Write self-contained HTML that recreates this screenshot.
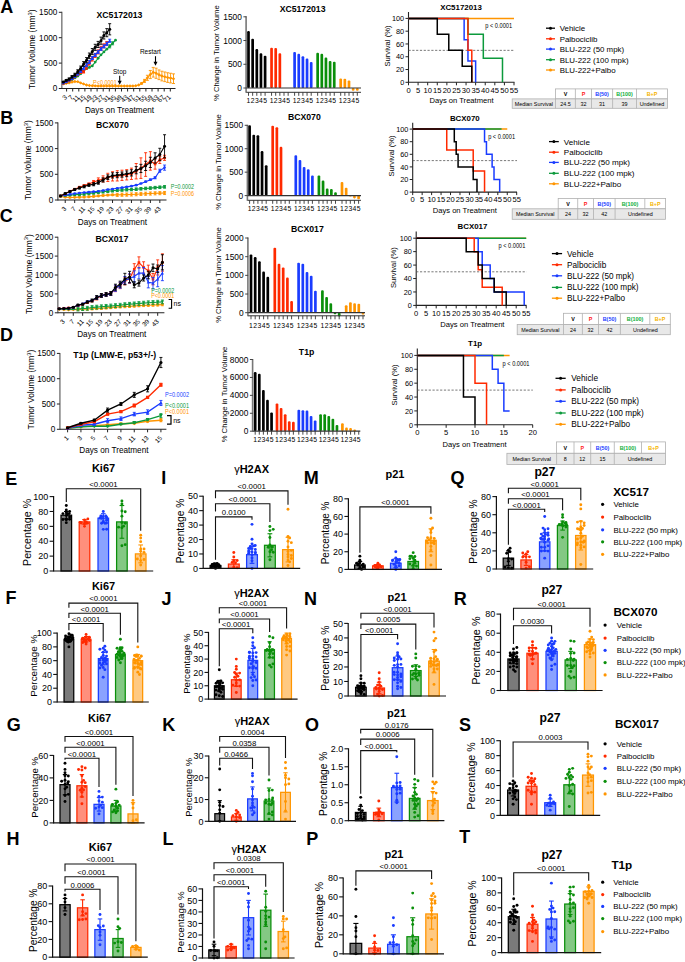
<!DOCTYPE html>
<html><head><meta charset="utf-8"><title>Figure</title>
<style>
html,body{margin:0;padding:0;background:#fff;width:685px;height:962px;overflow:hidden}
svg{display:block}
text{font-family:"Liberation Sans", sans-serif}
</style></head>
<body><svg width="685" height="962" viewBox="0 0 685 962">
<rect width="685" height="962" fill="#fff"/>
<line x1="61.8" y1="11.8" x2="61.8" y2="89" stroke="#888" stroke-width="1.6"/>
<line x1="58.8" y1="88.5" x2="61.8" y2="88.5" stroke="#222" stroke-width="1"/>
<text x="57.3" y="91.45" font-size="8.2" text-anchor="end">0</text>
<line x1="58.8" y1="63.1" x2="61.8" y2="63.1" stroke="#222" stroke-width="1"/>
<text x="57.3" y="66.05" font-size="8.2" text-anchor="end">500</text>
<line x1="58.8" y1="37.7" x2="61.8" y2="37.7" stroke="#222" stroke-width="1"/>
<text x="57.3" y="40.65" font-size="8.2" text-anchor="end">1000</text>
<line x1="58.8" y1="12.3" x2="61.8" y2="12.3" stroke="#222" stroke-width="1"/>
<text x="57.3" y="15.25" font-size="8.2" text-anchor="end">1500</text>
<line x1="59.5" y1="88.5" x2="175.5" y2="88.5" stroke="#222" stroke-width="1.1"/>
<line x1="66.6" y1="88.5" x2="66.6" y2="91.5" stroke="#222" stroke-width="1"/>
<text x="67.6" y="97.7" font-size="6.5" text-anchor="end" transform="rotate(-45 67.6 97.7)">3</text>
<line x1="72.7" y1="88.5" x2="72.7" y2="91.5" stroke="#222" stroke-width="1"/>
<text x="73.7" y="97.7" font-size="6.5" text-anchor="end" transform="rotate(-45 73.7 97.7)">7</text>
<line x1="78.8" y1="88.5" x2="78.8" y2="91.5" stroke="#222" stroke-width="1"/>
<text x="79.8" y="97.7" font-size="6.5" text-anchor="end" transform="rotate(-45 79.8 97.7)">11</text>
<line x1="84.9" y1="88.5" x2="84.9" y2="91.5" stroke="#222" stroke-width="1"/>
<text x="85.9" y="97.7" font-size="6.5" text-anchor="end" transform="rotate(-45 85.9 97.7)">15</text>
<line x1="91" y1="88.5" x2="91" y2="91.5" stroke="#222" stroke-width="1"/>
<text x="92" y="97.7" font-size="6.5" text-anchor="end" transform="rotate(-45 92 97.7)">19</text>
<line x1="97.1" y1="88.5" x2="97.1" y2="91.5" stroke="#222" stroke-width="1"/>
<text x="98.1" y="97.7" font-size="6.5" text-anchor="end" transform="rotate(-45 98.1 97.7)">23</text>
<line x1="103.2" y1="88.5" x2="103.2" y2="91.5" stroke="#222" stroke-width="1"/>
<text x="104.2" y="97.7" font-size="6.5" text-anchor="end" transform="rotate(-45 104.2 97.7)">27</text>
<line x1="109.3" y1="88.5" x2="109.3" y2="91.5" stroke="#222" stroke-width="1"/>
<text x="110.3" y="97.7" font-size="6.5" text-anchor="end" transform="rotate(-45 110.3 97.7)">31</text>
<line x1="115.4" y1="88.5" x2="115.4" y2="91.5" stroke="#222" stroke-width="1"/>
<text x="116.4" y="97.7" font-size="6.5" text-anchor="end" transform="rotate(-45 116.4 97.7)">35</text>
<line x1="121.5" y1="88.5" x2="121.5" y2="91.5" stroke="#222" stroke-width="1"/>
<text x="122.5" y="97.7" font-size="6.5" text-anchor="end" transform="rotate(-45 122.5 97.7)">39</text>
<line x1="127.6" y1="88.5" x2="127.6" y2="91.5" stroke="#222" stroke-width="1"/>
<text x="128.6" y="97.7" font-size="6.5" text-anchor="end" transform="rotate(-45 128.6 97.7)">43</text>
<line x1="133.7" y1="88.5" x2="133.7" y2="91.5" stroke="#222" stroke-width="1"/>
<text x="134.7" y="97.7" font-size="6.5" text-anchor="end" transform="rotate(-45 134.7 97.7)">47</text>
<line x1="139.8" y1="88.5" x2="139.8" y2="91.5" stroke="#222" stroke-width="1"/>
<text x="140.8" y="97.7" font-size="6.5" text-anchor="end" transform="rotate(-45 140.8 97.7)">51</text>
<line x1="145.9" y1="88.5" x2="145.9" y2="91.5" stroke="#222" stroke-width="1"/>
<text x="146.9" y="97.7" font-size="6.5" text-anchor="end" transform="rotate(-45 146.9 97.7)">55</text>
<line x1="152" y1="88.5" x2="152" y2="91.5" stroke="#222" stroke-width="1"/>
<text x="153" y="97.7" font-size="6.5" text-anchor="end" transform="rotate(-45 153 97.7)">59</text>
<line x1="158.1" y1="88.5" x2="158.1" y2="91.5" stroke="#222" stroke-width="1"/>
<text x="159.1" y="97.7" font-size="6.5" text-anchor="end" transform="rotate(-45 159.1 97.7)">63</text>
<line x1="164.2" y1="88.5" x2="164.2" y2="91.5" stroke="#222" stroke-width="1"/>
<text x="165.2" y="97.7" font-size="6.5" text-anchor="end" transform="rotate(-45 165.2 97.7)">67</text>
<line x1="170.3" y1="88.5" x2="170.3" y2="91.5" stroke="#222" stroke-width="1"/>
<text x="171.3" y="97.7" font-size="6.5" text-anchor="end" transform="rotate(-45 171.3 97.7)">71</text>
<text x="119.5" y="17.6" font-size="8.7" text-anchor="middle" font-weight="bold">XC5172013</text>
<text x="119.5" y="113.2" font-size="8.2" text-anchor="middle">Days on Treatment</text>
<text x="35.4" y="49.4" font-size="8.45" text-anchor="middle" transform="rotate(-90 35.4 49.4)">Tumor Volume (mm<tspan dy="-3.2" font-size="5.8">3</tspan><tspan dy="3.2">)</tspan></text>
<polyline points="63.3,83.83 66.2,83.42 69.1,82.91 72,82.15 74.9,81.49 77.8,81.64 80.7,82.91 83.6,83.93 86.5,84.94 89.4,85.45 92.3,85.71 95.2,85.86 98.1,85.96 101,85.96 103.9,85.96 106.8,85.96 109.7,85.96 112.6,85.96 115.5,85.96 118.4,85.96 121.3,85.96 124.2,85.96 127.1,85.96 130,85.96 132.9,85.96 135.8,85.71 138.7,84.94 141.6,83.42 144.5,80.88 147.4,77.83 150.3,74.53 153.2,72.24 156.1,73.26 159,74.78 161.9,76.05 164.8,76.82 167.7,77.58 170.6,78.09 173.5,78.7" fill="none" stroke="#ff9500" stroke-width="1.1"/>
<line x1="141.6" y1="82.66" x2="141.6" y2="84.18" stroke="#ff9500" stroke-width="0.9"/>
<line x1="140.1" y1="82.66" x2="143.1" y2="82.66" stroke="#ff9500" stroke-width="0.9"/>
<line x1="140.1" y1="84.18" x2="143.1" y2="84.18" stroke="#ff9500" stroke-width="0.9"/>
<line x1="144.5" y1="79.36" x2="144.5" y2="82.4" stroke="#ff9500" stroke-width="0.9"/>
<line x1="143" y1="79.36" x2="146" y2="79.36" stroke="#ff9500" stroke-width="0.9"/>
<line x1="143" y1="82.4" x2="146" y2="82.4" stroke="#ff9500" stroke-width="0.9"/>
<line x1="147.4" y1="75.29" x2="147.4" y2="80.37" stroke="#ff9500" stroke-width="0.9"/>
<line x1="145.9" y1="75.29" x2="148.9" y2="75.29" stroke="#ff9500" stroke-width="0.9"/>
<line x1="145.9" y1="80.37" x2="148.9" y2="80.37" stroke="#ff9500" stroke-width="0.9"/>
<line x1="150.3" y1="70.47" x2="150.3" y2="78.59" stroke="#ff9500" stroke-width="0.9"/>
<line x1="148.8" y1="70.47" x2="151.8" y2="70.47" stroke="#ff9500" stroke-width="0.9"/>
<line x1="148.8" y1="78.59" x2="151.8" y2="78.59" stroke="#ff9500" stroke-width="0.9"/>
<line x1="153.2" y1="67.42" x2="153.2" y2="77.07" stroke="#ff9500" stroke-width="0.9"/>
<line x1="151.7" y1="67.42" x2="154.7" y2="67.42" stroke="#ff9500" stroke-width="0.9"/>
<line x1="151.7" y1="77.07" x2="154.7" y2="77.07" stroke="#ff9500" stroke-width="0.9"/>
<line x1="156.1" y1="68.18" x2="156.1" y2="78.34" stroke="#ff9500" stroke-width="0.9"/>
<line x1="154.6" y1="68.18" x2="157.6" y2="68.18" stroke="#ff9500" stroke-width="0.9"/>
<line x1="154.6" y1="78.34" x2="157.6" y2="78.34" stroke="#ff9500" stroke-width="0.9"/>
<line x1="159" y1="69.96" x2="159" y2="79.61" stroke="#ff9500" stroke-width="0.9"/>
<line x1="157.5" y1="69.96" x2="160.5" y2="69.96" stroke="#ff9500" stroke-width="0.9"/>
<line x1="157.5" y1="79.61" x2="160.5" y2="79.61" stroke="#ff9500" stroke-width="0.9"/>
<line x1="161.9" y1="71.23" x2="161.9" y2="80.88" stroke="#ff9500" stroke-width="0.9"/>
<line x1="160.4" y1="71.23" x2="163.4" y2="71.23" stroke="#ff9500" stroke-width="0.9"/>
<line x1="160.4" y1="80.88" x2="163.4" y2="80.88" stroke="#ff9500" stroke-width="0.9"/>
<line x1="164.8" y1="71.99" x2="164.8" y2="81.64" stroke="#ff9500" stroke-width="0.9"/>
<line x1="163.3" y1="71.99" x2="166.3" y2="71.99" stroke="#ff9500" stroke-width="0.9"/>
<line x1="163.3" y1="81.64" x2="166.3" y2="81.64" stroke="#ff9500" stroke-width="0.9"/>
<line x1="167.7" y1="72.75" x2="167.7" y2="82.4" stroke="#ff9500" stroke-width="0.9"/>
<line x1="166.2" y1="72.75" x2="169.2" y2="72.75" stroke="#ff9500" stroke-width="0.9"/>
<line x1="166.2" y1="82.4" x2="169.2" y2="82.4" stroke="#ff9500" stroke-width="0.9"/>
<line x1="170.6" y1="73.26" x2="170.6" y2="82.91" stroke="#ff9500" stroke-width="0.9"/>
<line x1="169.1" y1="73.26" x2="172.1" y2="73.26" stroke="#ff9500" stroke-width="0.9"/>
<line x1="169.1" y1="82.91" x2="172.1" y2="82.91" stroke="#ff9500" stroke-width="0.9"/>
<line x1="173.5" y1="73.87" x2="173.5" y2="83.52" stroke="#ff9500" stroke-width="0.9"/>
<line x1="172" y1="73.87" x2="175" y2="73.87" stroke="#ff9500" stroke-width="0.9"/>
<line x1="172" y1="83.52" x2="175" y2="83.52" stroke="#ff9500" stroke-width="0.9"/>
<path d="M63.3 82.14 L64.99 83.83 L63.3 85.52 L61.61 83.83Z" fill="#ff9500"/>
<path d="M66.2 81.73 L67.89 83.42 L66.2 85.11 L64.51 83.42Z" fill="#ff9500"/>
<path d="M69.1 81.22 L70.79 82.91 L69.1 84.6 L67.41 82.91Z" fill="#ff9500"/>
<path d="M72 80.46 L73.69 82.15 L72 83.84 L70.31 82.15Z" fill="#ff9500"/>
<path d="M74.9 79.8 L76.59 81.49 L74.9 83.18 L73.21 81.49Z" fill="#ff9500"/>
<path d="M77.8 79.95 L79.49 81.64 L77.8 83.33 L76.11 81.64Z" fill="#ff9500"/>
<path d="M80.7 81.22 L82.39 82.91 L80.7 84.6 L79.01 82.91Z" fill="#ff9500"/>
<path d="M83.6 82.24 L85.29 83.93 L83.6 85.62 L81.91 83.93Z" fill="#ff9500"/>
<path d="M86.5 83.25 L88.19 84.94 L86.5 86.63 L84.81 84.94Z" fill="#ff9500"/>
<path d="M89.4 83.76 L91.09 85.45 L89.4 87.14 L87.71 85.45Z" fill="#ff9500"/>
<path d="M92.3 84.02 L93.99 85.71 L92.3 87.4 L90.61 85.71Z" fill="#ff9500"/>
<path d="M95.2 84.17 L96.89 85.86 L95.2 87.55 L93.51 85.86Z" fill="#ff9500"/>
<path d="M98.1 84.27 L99.79 85.96 L98.1 87.65 L96.41 85.96Z" fill="#ff9500"/>
<path d="M101 84.27 L102.69 85.96 L101 87.65 L99.31 85.96Z" fill="#ff9500"/>
<path d="M103.9 84.27 L105.59 85.96 L103.9 87.65 L102.21 85.96Z" fill="#ff9500"/>
<path d="M106.8 84.27 L108.49 85.96 L106.8 87.65 L105.11 85.96Z" fill="#ff9500"/>
<path d="M109.7 84.27 L111.39 85.96 L109.7 87.65 L108.01 85.96Z" fill="#ff9500"/>
<path d="M112.6 84.27 L114.29 85.96 L112.6 87.65 L110.91 85.96Z" fill="#ff9500"/>
<path d="M115.5 84.27 L117.19 85.96 L115.5 87.65 L113.81 85.96Z" fill="#ff9500"/>
<path d="M118.4 84.27 L120.09 85.96 L118.4 87.65 L116.71 85.96Z" fill="#ff9500"/>
<path d="M121.3 84.27 L122.99 85.96 L121.3 87.65 L119.61 85.96Z" fill="#ff9500"/>
<path d="M124.2 84.27 L125.89 85.96 L124.2 87.65 L122.51 85.96Z" fill="#ff9500"/>
<path d="M127.1 84.27 L128.79 85.96 L127.1 87.65 L125.41 85.96Z" fill="#ff9500"/>
<path d="M130 84.27 L131.69 85.96 L130 87.65 L128.31 85.96Z" fill="#ff9500"/>
<path d="M132.9 84.27 L134.59 85.96 L132.9 87.65 L131.21 85.96Z" fill="#ff9500"/>
<path d="M135.8 84.02 L137.49 85.71 L135.8 87.4 L134.11 85.71Z" fill="#ff9500"/>
<path d="M138.7 83.25 L140.39 84.94 L138.7 86.63 L137.01 84.94Z" fill="#ff9500"/>
<path d="M141.6 81.73 L143.29 83.42 L141.6 85.11 L139.91 83.42Z" fill="#ff9500"/>
<path d="M144.5 79.19 L146.19 80.88 L144.5 82.57 L142.81 80.88Z" fill="#ff9500"/>
<path d="M147.4 76.14 L149.09 77.83 L147.4 79.52 L145.71 77.83Z" fill="#ff9500"/>
<path d="M150.3 72.84 L151.99 74.53 L150.3 76.22 L148.61 74.53Z" fill="#ff9500"/>
<path d="M153.2 70.55 L154.89 72.24 L153.2 73.93 L151.51 72.24Z" fill="#ff9500"/>
<path d="M156.1 71.57 L157.79 73.26 L156.1 74.95 L154.41 73.26Z" fill="#ff9500"/>
<path d="M159 73.09 L160.69 74.78 L159 76.47 L157.31 74.78Z" fill="#ff9500"/>
<path d="M161.9 74.36 L163.59 76.05 L161.9 77.74 L160.21 76.05Z" fill="#ff9500"/>
<path d="M164.8 75.13 L166.49 76.82 L164.8 78.51 L163.11 76.82Z" fill="#ff9500"/>
<path d="M167.7 75.89 L169.39 77.58 L167.7 79.27 L166.01 77.58Z" fill="#ff9500"/>
<path d="M170.6 76.4 L172.29 78.09 L170.6 79.78 L168.91 78.09Z" fill="#ff9500"/>
<path d="M173.5 77.01 L175.19 78.7 L173.5 80.39 L171.81 78.7Z" fill="#ff9500"/>
<polyline points="63.3,83.42 66.2,82.3 69.1,80.98 72,79.56 74.9,77.93 77.8,76.05 80.7,73.77 83.6,71.23 86.5,68.69 89.4,67.42 92.3,65.89 95.2,62.08 98.1,58.27 101,54.82 103.9,51.92 106.8,49.13 109.7,46.34 112.6,43.29 115.5,40.19" fill="none" stroke="#0c9a3c" stroke-width="1.1"/>
<line x1="109.7" y1="44.81" x2="109.7" y2="47.86" stroke="#0c9a3c" stroke-width="0.9"/>
<line x1="108.2" y1="44.81" x2="111.2" y2="44.81" stroke="#0c9a3c" stroke-width="0.9"/>
<line x1="108.2" y1="47.86" x2="111.2" y2="47.86" stroke="#0c9a3c" stroke-width="0.9"/>
<line x1="112.6" y1="41.76" x2="112.6" y2="44.81" stroke="#0c9a3c" stroke-width="0.9"/>
<line x1="111.1" y1="41.76" x2="114.1" y2="41.76" stroke="#0c9a3c" stroke-width="0.9"/>
<line x1="111.1" y1="44.81" x2="114.1" y2="44.81" stroke="#0c9a3c" stroke-width="0.9"/>
<circle cx="63.3" cy="83.42" r="1.4" fill="#0c9a3c"/>
<circle cx="66.2" cy="82.3" r="1.4" fill="#0c9a3c"/>
<circle cx="69.1" cy="80.98" r="1.4" fill="#0c9a3c"/>
<circle cx="72" cy="79.56" r="1.4" fill="#0c9a3c"/>
<circle cx="74.9" cy="77.93" r="1.4" fill="#0c9a3c"/>
<circle cx="77.8" cy="76.05" r="1.4" fill="#0c9a3c"/>
<circle cx="80.7" cy="73.77" r="1.4" fill="#0c9a3c"/>
<circle cx="83.6" cy="71.23" r="1.4" fill="#0c9a3c"/>
<circle cx="86.5" cy="68.69" r="1.4" fill="#0c9a3c"/>
<circle cx="89.4" cy="67.42" r="1.4" fill="#0c9a3c"/>
<circle cx="92.3" cy="65.89" r="1.4" fill="#0c9a3c"/>
<circle cx="95.2" cy="62.08" r="1.4" fill="#0c9a3c"/>
<circle cx="98.1" cy="58.27" r="1.4" fill="#0c9a3c"/>
<circle cx="101" cy="54.82" r="1.4" fill="#0c9a3c"/>
<circle cx="103.9" cy="51.92" r="1.4" fill="#0c9a3c"/>
<circle cx="106.8" cy="49.13" r="1.4" fill="#0c9a3c"/>
<circle cx="109.7" cy="46.34" r="1.4" fill="#0c9a3c"/>
<circle cx="112.6" cy="43.29" r="1.4" fill="#0c9a3c"/>
<circle cx="115.5" cy="40.19" r="1.4" fill="#0c9a3c"/>
<polyline points="63.3,83.42 66.2,82.15 69.1,80.88 72,79.1 74.9,77.07 77.8,74.78 80.7,72.24 83.6,71.74 86.5,67.16 89.4,63.1 92.3,59.04 95.2,55.48 98.1,51.92 101,48.37 103.9,45.83 106.8,43.54" fill="none" stroke="#ff2a00" stroke-width="1.1"/>
<line x1="80.7" y1="70.97" x2="80.7" y2="73.51" stroke="#ff2a00" stroke-width="0.9"/>
<line x1="79.2" y1="70.97" x2="82.2" y2="70.97" stroke="#ff2a00" stroke-width="0.9"/>
<line x1="79.2" y1="73.51" x2="82.2" y2="73.51" stroke="#ff2a00" stroke-width="0.9"/>
<line x1="83.6" y1="70.47" x2="83.6" y2="73.01" stroke="#ff2a00" stroke-width="0.9"/>
<line x1="82.1" y1="70.47" x2="85.1" y2="70.47" stroke="#ff2a00" stroke-width="0.9"/>
<line x1="82.1" y1="73.01" x2="85.1" y2="73.01" stroke="#ff2a00" stroke-width="0.9"/>
<line x1="86.5" y1="65.13" x2="86.5" y2="69.2" stroke="#ff2a00" stroke-width="0.9"/>
<line x1="85" y1="65.13" x2="88" y2="65.13" stroke="#ff2a00" stroke-width="0.9"/>
<line x1="85" y1="69.2" x2="88" y2="69.2" stroke="#ff2a00" stroke-width="0.9"/>
<line x1="89.4" y1="61.07" x2="89.4" y2="65.13" stroke="#ff2a00" stroke-width="0.9"/>
<line x1="87.9" y1="61.07" x2="90.9" y2="61.07" stroke="#ff2a00" stroke-width="0.9"/>
<line x1="87.9" y1="65.13" x2="90.9" y2="65.13" stroke="#ff2a00" stroke-width="0.9"/>
<line x1="92.3" y1="57" x2="92.3" y2="61.07" stroke="#ff2a00" stroke-width="0.9"/>
<line x1="90.8" y1="57" x2="93.8" y2="57" stroke="#ff2a00" stroke-width="0.9"/>
<line x1="90.8" y1="61.07" x2="93.8" y2="61.07" stroke="#ff2a00" stroke-width="0.9"/>
<line x1="95.2" y1="53.45" x2="95.2" y2="57.51" stroke="#ff2a00" stroke-width="0.9"/>
<line x1="93.7" y1="53.45" x2="96.7" y2="53.45" stroke="#ff2a00" stroke-width="0.9"/>
<line x1="93.7" y1="57.51" x2="96.7" y2="57.51" stroke="#ff2a00" stroke-width="0.9"/>
<line x1="98.1" y1="49.89" x2="98.1" y2="53.96" stroke="#ff2a00" stroke-width="0.9"/>
<line x1="96.6" y1="49.89" x2="99.6" y2="49.89" stroke="#ff2a00" stroke-width="0.9"/>
<line x1="96.6" y1="53.96" x2="99.6" y2="53.96" stroke="#ff2a00" stroke-width="0.9"/>
<line x1="101" y1="46.34" x2="101" y2="50.4" stroke="#ff2a00" stroke-width="0.9"/>
<line x1="99.5" y1="46.34" x2="102.5" y2="46.34" stroke="#ff2a00" stroke-width="0.9"/>
<line x1="99.5" y1="50.4" x2="102.5" y2="50.4" stroke="#ff2a00" stroke-width="0.9"/>
<line x1="103.9" y1="43.8" x2="103.9" y2="47.86" stroke="#ff2a00" stroke-width="0.9"/>
<line x1="102.4" y1="43.8" x2="105.4" y2="43.8" stroke="#ff2a00" stroke-width="0.9"/>
<line x1="102.4" y1="47.86" x2="105.4" y2="47.86" stroke="#ff2a00" stroke-width="0.9"/>
<line x1="106.8" y1="41.51" x2="106.8" y2="45.57" stroke="#ff2a00" stroke-width="0.9"/>
<line x1="105.3" y1="41.51" x2="108.3" y2="41.51" stroke="#ff2a00" stroke-width="0.9"/>
<line x1="105.3" y1="45.57" x2="108.3" y2="45.57" stroke="#ff2a00" stroke-width="0.9"/>
<rect x="62" y="82.12" width="2.6" height="2.6" fill="#ff2a00" stroke="none" stroke-width="1"/>
<rect x="64.9" y="80.85" width="2.6" height="2.6" fill="#ff2a00" stroke="none" stroke-width="1"/>
<rect x="67.8" y="79.58" width="2.6" height="2.6" fill="#ff2a00" stroke="none" stroke-width="1"/>
<rect x="70.7" y="77.8" width="2.6" height="2.6" fill="#ff2a00" stroke="none" stroke-width="1"/>
<rect x="73.6" y="75.77" width="2.6" height="2.6" fill="#ff2a00" stroke="none" stroke-width="1"/>
<rect x="76.5" y="73.48" width="2.6" height="2.6" fill="#ff2a00" stroke="none" stroke-width="1"/>
<rect x="79.4" y="70.94" width="2.6" height="2.6" fill="#ff2a00" stroke="none" stroke-width="1"/>
<rect x="82.3" y="70.44" width="2.6" height="2.6" fill="#ff2a00" stroke="none" stroke-width="1"/>
<rect x="85.2" y="65.86" width="2.6" height="2.6" fill="#ff2a00" stroke="none" stroke-width="1"/>
<rect x="88.1" y="61.8" width="2.6" height="2.6" fill="#ff2a00" stroke="none" stroke-width="1"/>
<rect x="91" y="57.74" width="2.6" height="2.6" fill="#ff2a00" stroke="none" stroke-width="1"/>
<rect x="93.9" y="54.18" width="2.6" height="2.6" fill="#ff2a00" stroke="none" stroke-width="1"/>
<rect x="96.8" y="50.62" width="2.6" height="2.6" fill="#ff2a00" stroke="none" stroke-width="1"/>
<rect x="99.7" y="47.07" width="2.6" height="2.6" fill="#ff2a00" stroke="none" stroke-width="1"/>
<rect x="102.6" y="44.53" width="2.6" height="2.6" fill="#ff2a00" stroke="none" stroke-width="1"/>
<rect x="105.5" y="42.24" width="2.6" height="2.6" fill="#ff2a00" stroke="none" stroke-width="1"/>
<polyline points="63.3,82.91 66.2,81.64 69.1,80.12 72,78.59 74.9,76.56 77.8,74.02 80.7,70.97 83.6,68.18 86.5,65.13 89.4,62.08 92.3,58.02 95.2,54.97 98.1,51.92 101,48.88 103.9,46.34 106.8,43.8 109.7,40.75" fill="none" stroke="#1a3cff" stroke-width="1.1"/>
<line x1="80.7" y1="69.45" x2="80.7" y2="72.5" stroke="#1a3cff" stroke-width="0.9"/>
<line x1="79.2" y1="69.45" x2="82.2" y2="69.45" stroke="#1a3cff" stroke-width="0.9"/>
<line x1="79.2" y1="72.5" x2="82.2" y2="72.5" stroke="#1a3cff" stroke-width="0.9"/>
<line x1="83.6" y1="66.66" x2="83.6" y2="69.7" stroke="#1a3cff" stroke-width="0.9"/>
<line x1="82.1" y1="66.66" x2="85.1" y2="66.66" stroke="#1a3cff" stroke-width="0.9"/>
<line x1="82.1" y1="69.7" x2="85.1" y2="69.7" stroke="#1a3cff" stroke-width="0.9"/>
<line x1="86.5" y1="63.61" x2="86.5" y2="66.66" stroke="#1a3cff" stroke-width="0.9"/>
<line x1="85" y1="63.61" x2="88" y2="63.61" stroke="#1a3cff" stroke-width="0.9"/>
<line x1="85" y1="66.66" x2="88" y2="66.66" stroke="#1a3cff" stroke-width="0.9"/>
<line x1="89.4" y1="60.56" x2="89.4" y2="63.61" stroke="#1a3cff" stroke-width="0.9"/>
<line x1="87.9" y1="60.56" x2="90.9" y2="60.56" stroke="#1a3cff" stroke-width="0.9"/>
<line x1="87.9" y1="63.61" x2="90.9" y2="63.61" stroke="#1a3cff" stroke-width="0.9"/>
<line x1="92.3" y1="56.5" x2="92.3" y2="59.54" stroke="#1a3cff" stroke-width="0.9"/>
<line x1="90.8" y1="56.5" x2="93.8" y2="56.5" stroke="#1a3cff" stroke-width="0.9"/>
<line x1="90.8" y1="59.54" x2="93.8" y2="59.54" stroke="#1a3cff" stroke-width="0.9"/>
<line x1="95.2" y1="53.45" x2="95.2" y2="56.5" stroke="#1a3cff" stroke-width="0.9"/>
<line x1="93.7" y1="53.45" x2="96.7" y2="53.45" stroke="#1a3cff" stroke-width="0.9"/>
<line x1="93.7" y1="56.5" x2="96.7" y2="56.5" stroke="#1a3cff" stroke-width="0.9"/>
<line x1="98.1" y1="50.4" x2="98.1" y2="53.45" stroke="#1a3cff" stroke-width="0.9"/>
<line x1="96.6" y1="50.4" x2="99.6" y2="50.4" stroke="#1a3cff" stroke-width="0.9"/>
<line x1="96.6" y1="53.45" x2="99.6" y2="53.45" stroke="#1a3cff" stroke-width="0.9"/>
<line x1="101" y1="47.35" x2="101" y2="50.4" stroke="#1a3cff" stroke-width="0.9"/>
<line x1="99.5" y1="47.35" x2="102.5" y2="47.35" stroke="#1a3cff" stroke-width="0.9"/>
<line x1="99.5" y1="50.4" x2="102.5" y2="50.4" stroke="#1a3cff" stroke-width="0.9"/>
<line x1="103.9" y1="44.81" x2="103.9" y2="47.86" stroke="#1a3cff" stroke-width="0.9"/>
<line x1="102.4" y1="44.81" x2="105.4" y2="44.81" stroke="#1a3cff" stroke-width="0.9"/>
<line x1="102.4" y1="47.86" x2="105.4" y2="47.86" stroke="#1a3cff" stroke-width="0.9"/>
<line x1="106.8" y1="42.27" x2="106.8" y2="45.32" stroke="#1a3cff" stroke-width="0.9"/>
<line x1="105.3" y1="42.27" x2="108.3" y2="42.27" stroke="#1a3cff" stroke-width="0.9"/>
<line x1="105.3" y1="45.32" x2="108.3" y2="45.32" stroke="#1a3cff" stroke-width="0.9"/>
<line x1="109.7" y1="39.22" x2="109.7" y2="42.27" stroke="#1a3cff" stroke-width="0.9"/>
<line x1="108.2" y1="39.22" x2="111.2" y2="39.22" stroke="#1a3cff" stroke-width="0.9"/>
<line x1="108.2" y1="42.27" x2="111.2" y2="42.27" stroke="#1a3cff" stroke-width="0.9"/>
<path d="M63.3 81.23 L64.98 84.31 L61.62 84.31Z" fill="#1a3cff"/>
<path d="M66.2 79.96 L67.88 83.04 L64.52 83.04Z" fill="#1a3cff"/>
<path d="M69.1 78.44 L70.78 81.52 L67.42 81.52Z" fill="#1a3cff"/>
<path d="M72 76.91 L73.68 79.99 L70.32 79.99Z" fill="#1a3cff"/>
<path d="M74.9 74.88 L76.58 77.96 L73.22 77.96Z" fill="#1a3cff"/>
<path d="M77.8 72.34 L79.48 75.42 L76.12 75.42Z" fill="#1a3cff"/>
<path d="M80.7 69.29 L82.38 72.37 L79.02 72.37Z" fill="#1a3cff"/>
<path d="M83.6 66.5 L85.28 69.58 L81.92 69.58Z" fill="#1a3cff"/>
<path d="M86.5 63.45 L88.18 66.53 L84.82 66.53Z" fill="#1a3cff"/>
<path d="M89.4 60.4 L91.08 63.48 L87.72 63.48Z" fill="#1a3cff"/>
<path d="M92.3 56.34 L93.98 59.42 L90.62 59.42Z" fill="#1a3cff"/>
<path d="M95.2 53.29 L96.88 56.37 L93.52 56.37Z" fill="#1a3cff"/>
<path d="M98.1 50.24 L99.78 53.32 L96.42 53.32Z" fill="#1a3cff"/>
<path d="M101 47.2 L102.68 50.28 L99.32 50.28Z" fill="#1a3cff"/>
<path d="M103.9 44.66 L105.58 47.74 L102.22 47.74Z" fill="#1a3cff"/>
<path d="M106.8 42.12 L108.48 45.2 L105.12 45.2Z" fill="#1a3cff"/>
<path d="M109.7 39.07 L111.38 42.15 L108.02 42.15Z" fill="#1a3cff"/>
<polyline points="63.3,81.9 66.2,80.37 69.1,79 72,76.82 74.9,74.78 77.8,71.53 80.7,68.13 83.6,63.91 86.5,60.15 89.4,55.84 92.3,51.57 95.2,47.35 98.1,44.46 101,40.7 103.9,35.46 106.8,32.67 109.7,29.27" fill="none" stroke="#000000" stroke-width="1.1"/>
<line x1="63.3" y1="81.39" x2="63.3" y2="82.4" stroke="#000000" stroke-width="0.9"/>
<line x1="61.8" y1="81.39" x2="64.8" y2="81.39" stroke="#000000" stroke-width="0.9"/>
<line x1="61.8" y1="82.4" x2="64.8" y2="82.4" stroke="#000000" stroke-width="0.9"/>
<line x1="66.2" y1="79.61" x2="66.2" y2="81.13" stroke="#000000" stroke-width="0.9"/>
<line x1="64.7" y1="79.61" x2="67.7" y2="79.61" stroke="#000000" stroke-width="0.9"/>
<line x1="64.7" y1="81.13" x2="67.7" y2="81.13" stroke="#000000" stroke-width="0.9"/>
<line x1="69.1" y1="77.98" x2="69.1" y2="80.02" stroke="#000000" stroke-width="0.9"/>
<line x1="67.6" y1="77.98" x2="70.6" y2="77.98" stroke="#000000" stroke-width="0.9"/>
<line x1="67.6" y1="80.02" x2="70.6" y2="80.02" stroke="#000000" stroke-width="0.9"/>
<line x1="72" y1="75.55" x2="72" y2="78.09" stroke="#000000" stroke-width="0.9"/>
<line x1="70.5" y1="75.55" x2="73.5" y2="75.55" stroke="#000000" stroke-width="0.9"/>
<line x1="70.5" y1="78.09" x2="73.5" y2="78.09" stroke="#000000" stroke-width="0.9"/>
<line x1="74.9" y1="73.26" x2="74.9" y2="76.31" stroke="#000000" stroke-width="0.9"/>
<line x1="73.4" y1="73.26" x2="76.4" y2="73.26" stroke="#000000" stroke-width="0.9"/>
<line x1="73.4" y1="76.31" x2="76.4" y2="76.31" stroke="#000000" stroke-width="0.9"/>
<line x1="77.8" y1="69.75" x2="77.8" y2="73.31" stroke="#000000" stroke-width="0.9"/>
<line x1="76.3" y1="69.75" x2="79.3" y2="69.75" stroke="#000000" stroke-width="0.9"/>
<line x1="76.3" y1="73.31" x2="79.3" y2="73.31" stroke="#000000" stroke-width="0.9"/>
<line x1="80.7" y1="66.1" x2="80.7" y2="70.16" stroke="#000000" stroke-width="0.9"/>
<line x1="79.2" y1="66.1" x2="82.2" y2="66.1" stroke="#000000" stroke-width="0.9"/>
<line x1="79.2" y1="70.16" x2="82.2" y2="70.16" stroke="#000000" stroke-width="0.9"/>
<line x1="83.6" y1="61.63" x2="83.6" y2="66.2" stroke="#000000" stroke-width="0.9"/>
<line x1="82.1" y1="61.63" x2="85.1" y2="61.63" stroke="#000000" stroke-width="0.9"/>
<line x1="82.1" y1="66.2" x2="85.1" y2="66.2" stroke="#000000" stroke-width="0.9"/>
<line x1="86.5" y1="57.61" x2="86.5" y2="62.69" stroke="#000000" stroke-width="0.9"/>
<line x1="85" y1="57.61" x2="88" y2="57.61" stroke="#000000" stroke-width="0.9"/>
<line x1="85" y1="62.69" x2="88" y2="62.69" stroke="#000000" stroke-width="0.9"/>
<line x1="89.4" y1="53.04" x2="89.4" y2="58.63" stroke="#000000" stroke-width="0.9"/>
<line x1="87.9" y1="53.04" x2="90.9" y2="53.04" stroke="#000000" stroke-width="0.9"/>
<line x1="87.9" y1="58.63" x2="90.9" y2="58.63" stroke="#000000" stroke-width="0.9"/>
<line x1="92.3" y1="48.52" x2="92.3" y2="54.62" stroke="#000000" stroke-width="0.9"/>
<line x1="90.8" y1="48.52" x2="93.8" y2="48.52" stroke="#000000" stroke-width="0.9"/>
<line x1="90.8" y1="54.62" x2="93.8" y2="54.62" stroke="#000000" stroke-width="0.9"/>
<line x1="95.2" y1="44.3" x2="95.2" y2="50.4" stroke="#000000" stroke-width="0.9"/>
<line x1="93.7" y1="44.3" x2="96.7" y2="44.3" stroke="#000000" stroke-width="0.9"/>
<line x1="93.7" y1="50.4" x2="96.7" y2="50.4" stroke="#000000" stroke-width="0.9"/>
<line x1="98.1" y1="41.41" x2="98.1" y2="47.5" stroke="#000000" stroke-width="0.9"/>
<line x1="96.6" y1="41.41" x2="99.6" y2="41.41" stroke="#000000" stroke-width="0.9"/>
<line x1="96.6" y1="47.5" x2="99.6" y2="47.5" stroke="#000000" stroke-width="0.9"/>
<line x1="101" y1="37.14" x2="101" y2="44.25" stroke="#000000" stroke-width="0.9"/>
<line x1="99.5" y1="37.14" x2="102.5" y2="37.14" stroke="#000000" stroke-width="0.9"/>
<line x1="99.5" y1="44.25" x2="102.5" y2="44.25" stroke="#000000" stroke-width="0.9"/>
<line x1="103.9" y1="31.91" x2="103.9" y2="39.02" stroke="#000000" stroke-width="0.9"/>
<line x1="102.4" y1="31.91" x2="105.4" y2="31.91" stroke="#000000" stroke-width="0.9"/>
<line x1="102.4" y1="39.02" x2="105.4" y2="39.02" stroke="#000000" stroke-width="0.9"/>
<line x1="106.8" y1="28.61" x2="106.8" y2="36.73" stroke="#000000" stroke-width="0.9"/>
<line x1="105.3" y1="28.61" x2="108.3" y2="28.61" stroke="#000000" stroke-width="0.9"/>
<line x1="105.3" y1="36.73" x2="108.3" y2="36.73" stroke="#000000" stroke-width="0.9"/>
<line x1="109.7" y1="23.68" x2="109.7" y2="34.86" stroke="#000000" stroke-width="0.9"/>
<line x1="108.2" y1="23.68" x2="111.2" y2="23.68" stroke="#000000" stroke-width="0.9"/>
<line x1="108.2" y1="34.86" x2="111.2" y2="34.86" stroke="#000000" stroke-width="0.9"/>
<circle cx="63.3" cy="81.9" r="1.5" fill="#000000"/>
<circle cx="66.2" cy="80.37" r="1.5" fill="#000000"/>
<circle cx="69.1" cy="79" r="1.5" fill="#000000"/>
<circle cx="72" cy="76.82" r="1.5" fill="#000000"/>
<circle cx="74.9" cy="74.78" r="1.5" fill="#000000"/>
<circle cx="77.8" cy="71.53" r="1.5" fill="#000000"/>
<circle cx="80.7" cy="68.13" r="1.5" fill="#000000"/>
<circle cx="83.6" cy="63.91" r="1.5" fill="#000000"/>
<circle cx="86.5" cy="60.15" r="1.5" fill="#000000"/>
<circle cx="89.4" cy="55.84" r="1.5" fill="#000000"/>
<circle cx="92.3" cy="51.57" r="1.5" fill="#000000"/>
<circle cx="95.2" cy="47.35" r="1.5" fill="#000000"/>
<circle cx="98.1" cy="44.46" r="1.5" fill="#000000"/>
<circle cx="101" cy="40.7" r="1.5" fill="#000000"/>
<circle cx="103.9" cy="35.46" r="1.5" fill="#000000"/>
<circle cx="106.8" cy="32.67" r="1.5" fill="#000000"/>
<circle cx="109.7" cy="29.27" r="1.5" fill="#000000"/>
<text x="93" y="84.5" font-size="6.6" fill="#ff9500" textLength="23.7" lengthAdjust="spacingAndGlyphs">P&lt;0.0001</text>
<text x="119.7" y="73.6" font-size="6.5" text-anchor="middle">Stop</text>
<line x1="119.7" y1="75.7" x2="119.7" y2="81.8" stroke="#000" stroke-width="1.1"/>
<path d="M117.7 80.8 L121.7 80.8 L119.7 84.8Z" fill="#000"/>
<text x="150.4" y="53.7" font-size="6.5" text-anchor="middle">Restart</text>
<line x1="155.5" y1="56.2" x2="155.5" y2="62.8" stroke="#000" stroke-width="1.1"/>
<path d="M153.5 61.8 L157.5 61.8 L155.5 65.8Z" fill="#000"/>
<line x1="57.9" y1="122.4" x2="57.9" y2="200.5" stroke="#222" stroke-width="1"/>
<line x1="54.9" y1="200" x2="57.9" y2="200" stroke="#222" stroke-width="1"/>
<text x="53.4" y="202.95" font-size="8.2" text-anchor="end">0</text>
<line x1="54.9" y1="174.3" x2="57.9" y2="174.3" stroke="#222" stroke-width="1"/>
<text x="53.4" y="177.25" font-size="8.2" text-anchor="end">500</text>
<line x1="54.9" y1="148.6" x2="57.9" y2="148.6" stroke="#222" stroke-width="1"/>
<text x="53.4" y="151.55" font-size="8.2" text-anchor="end">1000</text>
<line x1="54.9" y1="122.9" x2="57.9" y2="122.9" stroke="#222" stroke-width="1"/>
<text x="53.4" y="125.85" font-size="8.2" text-anchor="end">1500</text>
<line x1="57.9" y1="200" x2="166.5" y2="200" stroke="#222" stroke-width="1.1"/>
<line x1="65.23" y1="200" x2="65.23" y2="203" stroke="#222" stroke-width="1"/>
<text x="66.73" y="209.2" font-size="6.4" text-anchor="end" transform="rotate(-45 66.73 209.2)">3</text>
<line x1="74.69" y1="200" x2="74.69" y2="203" stroke="#222" stroke-width="1"/>
<text x="76.19" y="209.2" font-size="6.4" text-anchor="end" transform="rotate(-45 76.19 209.2)">7</text>
<line x1="84.15" y1="200" x2="84.15" y2="203" stroke="#222" stroke-width="1"/>
<text x="85.65" y="209.2" font-size="6.4" text-anchor="end" transform="rotate(-45 85.65 209.2)">11</text>
<line x1="93.61" y1="200" x2="93.61" y2="203" stroke="#222" stroke-width="1"/>
<text x="95.11" y="209.2" font-size="6.4" text-anchor="end" transform="rotate(-45 95.11 209.2)">15</text>
<line x1="103.07" y1="200" x2="103.07" y2="203" stroke="#222" stroke-width="1"/>
<text x="104.57" y="209.2" font-size="6.4" text-anchor="end" transform="rotate(-45 104.57 209.2)">19</text>
<line x1="112.53" y1="200" x2="112.53" y2="203" stroke="#222" stroke-width="1"/>
<text x="114.03" y="209.2" font-size="6.4" text-anchor="end" transform="rotate(-45 114.03 209.2)">23</text>
<line x1="121.99" y1="200" x2="121.99" y2="203" stroke="#222" stroke-width="1"/>
<text x="123.49" y="209.2" font-size="6.4" text-anchor="end" transform="rotate(-45 123.49 209.2)">27</text>
<line x1="131.45" y1="200" x2="131.45" y2="203" stroke="#222" stroke-width="1"/>
<text x="132.95" y="209.2" font-size="6.4" text-anchor="end" transform="rotate(-45 132.95 209.2)">31</text>
<line x1="140.91" y1="200" x2="140.91" y2="203" stroke="#222" stroke-width="1"/>
<text x="142.41" y="209.2" font-size="6.4" text-anchor="end" transform="rotate(-45 142.41 209.2)">35</text>
<line x1="150.37" y1="200" x2="150.37" y2="203" stroke="#222" stroke-width="1"/>
<text x="151.87" y="209.2" font-size="6.4" text-anchor="end" transform="rotate(-45 151.87 209.2)">39</text>
<line x1="159.83" y1="200" x2="159.83" y2="203" stroke="#222" stroke-width="1"/>
<text x="161.33" y="209.2" font-size="6.4" text-anchor="end" transform="rotate(-45 161.33 209.2)">43</text>
<text x="112.4" y="128.4" font-size="8.7" text-anchor="middle" font-weight="bold">BCX070</text>
<text x="112.4" y="225.3" font-size="8.2" text-anchor="middle">Days on Treatment</text>
<text x="31.1" y="160.2" font-size="8.45" text-anchor="middle" transform="rotate(-90 31.1 160.2)">Tumor Volume (mm<tspan dy="-3.2" font-size="5.8">3</tspan><tspan dy="3.2">)</tspan></text>
<polyline points="60.5,196.4 65.23,197.17 69.96,197.43 74.69,197.33 79.42,197.17 84.15,197.02 88.88,196.81 93.61,196.4 98.34,195.89 103.07,195.48 107.8,195.12 112.53,194.86 117.26,194.86 121.99,194.71 126.72,194.6 131.45,194.45 136.18,194.24 140.91,193.93 145.64,193.73 150.37,193.52 155.1,193.32 159.83,193.16 164.56,193.01" fill="none" stroke="#ff9500" stroke-width="1.1"/>
<line x1="60.5" y1="195.89" x2="60.5" y2="196.92" stroke="#ff9500" stroke-width="0.9"/>
<line x1="59" y1="195.89" x2="62" y2="195.89" stroke="#ff9500" stroke-width="0.9"/>
<line x1="59" y1="196.92" x2="62" y2="196.92" stroke="#ff9500" stroke-width="0.9"/>
<line x1="65.23" y1="196.66" x2="65.23" y2="197.69" stroke="#ff9500" stroke-width="0.9"/>
<line x1="63.73" y1="196.66" x2="66.73" y2="196.66" stroke="#ff9500" stroke-width="0.9"/>
<line x1="63.73" y1="197.69" x2="66.73" y2="197.69" stroke="#ff9500" stroke-width="0.9"/>
<line x1="69.96" y1="196.92" x2="69.96" y2="197.94" stroke="#ff9500" stroke-width="0.9"/>
<line x1="68.46" y1="196.92" x2="71.46" y2="196.92" stroke="#ff9500" stroke-width="0.9"/>
<line x1="68.46" y1="197.94" x2="71.46" y2="197.94" stroke="#ff9500" stroke-width="0.9"/>
<line x1="74.69" y1="196.81" x2="74.69" y2="197.84" stroke="#ff9500" stroke-width="0.9"/>
<line x1="73.19" y1="196.81" x2="76.19" y2="196.81" stroke="#ff9500" stroke-width="0.9"/>
<line x1="73.19" y1="197.84" x2="76.19" y2="197.84" stroke="#ff9500" stroke-width="0.9"/>
<line x1="79.42" y1="196.4" x2="79.42" y2="197.94" stroke="#ff9500" stroke-width="0.9"/>
<line x1="77.92" y1="196.4" x2="80.92" y2="196.4" stroke="#ff9500" stroke-width="0.9"/>
<line x1="77.92" y1="197.94" x2="80.92" y2="197.94" stroke="#ff9500" stroke-width="0.9"/>
<line x1="84.15" y1="196.25" x2="84.15" y2="197.79" stroke="#ff9500" stroke-width="0.9"/>
<line x1="82.65" y1="196.25" x2="85.65" y2="196.25" stroke="#ff9500" stroke-width="0.9"/>
<line x1="82.65" y1="197.79" x2="85.65" y2="197.79" stroke="#ff9500" stroke-width="0.9"/>
<line x1="88.88" y1="196.04" x2="88.88" y2="197.58" stroke="#ff9500" stroke-width="0.9"/>
<line x1="87.38" y1="196.04" x2="90.38" y2="196.04" stroke="#ff9500" stroke-width="0.9"/>
<line x1="87.38" y1="197.58" x2="90.38" y2="197.58" stroke="#ff9500" stroke-width="0.9"/>
<line x1="93.61" y1="195.63" x2="93.61" y2="197.17" stroke="#ff9500" stroke-width="0.9"/>
<line x1="92.11" y1="195.63" x2="95.11" y2="195.63" stroke="#ff9500" stroke-width="0.9"/>
<line x1="92.11" y1="197.17" x2="95.11" y2="197.17" stroke="#ff9500" stroke-width="0.9"/>
<line x1="98.34" y1="195.12" x2="98.34" y2="196.66" stroke="#ff9500" stroke-width="0.9"/>
<line x1="96.84" y1="195.12" x2="99.84" y2="195.12" stroke="#ff9500" stroke-width="0.9"/>
<line x1="96.84" y1="196.66" x2="99.84" y2="196.66" stroke="#ff9500" stroke-width="0.9"/>
<line x1="103.07" y1="194.71" x2="103.07" y2="196.25" stroke="#ff9500" stroke-width="0.9"/>
<line x1="101.57" y1="194.71" x2="104.57" y2="194.71" stroke="#ff9500" stroke-width="0.9"/>
<line x1="101.57" y1="196.25" x2="104.57" y2="196.25" stroke="#ff9500" stroke-width="0.9"/>
<line x1="107.8" y1="194.35" x2="107.8" y2="195.89" stroke="#ff9500" stroke-width="0.9"/>
<line x1="106.3" y1="194.35" x2="109.3" y2="194.35" stroke="#ff9500" stroke-width="0.9"/>
<line x1="106.3" y1="195.89" x2="109.3" y2="195.89" stroke="#ff9500" stroke-width="0.9"/>
<line x1="112.53" y1="194.09" x2="112.53" y2="195.63" stroke="#ff9500" stroke-width="0.9"/>
<line x1="111.03" y1="194.09" x2="114.03" y2="194.09" stroke="#ff9500" stroke-width="0.9"/>
<line x1="111.03" y1="195.63" x2="114.03" y2="195.63" stroke="#ff9500" stroke-width="0.9"/>
<line x1="117.26" y1="193.32" x2="117.26" y2="196.4" stroke="#ff9500" stroke-width="0.9"/>
<line x1="115.76" y1="193.32" x2="118.76" y2="193.32" stroke="#ff9500" stroke-width="0.9"/>
<line x1="115.76" y1="196.4" x2="118.76" y2="196.4" stroke="#ff9500" stroke-width="0.9"/>
<line x1="121.99" y1="193.16" x2="121.99" y2="196.25" stroke="#ff9500" stroke-width="0.9"/>
<line x1="120.49" y1="193.16" x2="123.49" y2="193.16" stroke="#ff9500" stroke-width="0.9"/>
<line x1="120.49" y1="196.25" x2="123.49" y2="196.25" stroke="#ff9500" stroke-width="0.9"/>
<line x1="126.72" y1="193.06" x2="126.72" y2="196.15" stroke="#ff9500" stroke-width="0.9"/>
<line x1="125.22" y1="193.06" x2="128.22" y2="193.06" stroke="#ff9500" stroke-width="0.9"/>
<line x1="125.22" y1="196.15" x2="128.22" y2="196.15" stroke="#ff9500" stroke-width="0.9"/>
<line x1="131.45" y1="192.91" x2="131.45" y2="195.99" stroke="#ff9500" stroke-width="0.9"/>
<line x1="129.95" y1="192.91" x2="132.95" y2="192.91" stroke="#ff9500" stroke-width="0.9"/>
<line x1="129.95" y1="195.99" x2="132.95" y2="195.99" stroke="#ff9500" stroke-width="0.9"/>
<line x1="136.18" y1="192.7" x2="136.18" y2="195.79" stroke="#ff9500" stroke-width="0.9"/>
<line x1="134.68" y1="192.7" x2="137.68" y2="192.7" stroke="#ff9500" stroke-width="0.9"/>
<line x1="134.68" y1="195.79" x2="137.68" y2="195.79" stroke="#ff9500" stroke-width="0.9"/>
<line x1="140.91" y1="192.39" x2="140.91" y2="195.48" stroke="#ff9500" stroke-width="0.9"/>
<line x1="139.41" y1="192.39" x2="142.41" y2="192.39" stroke="#ff9500" stroke-width="0.9"/>
<line x1="139.41" y1="195.48" x2="142.41" y2="195.48" stroke="#ff9500" stroke-width="0.9"/>
<line x1="145.64" y1="192.19" x2="145.64" y2="195.27" stroke="#ff9500" stroke-width="0.9"/>
<line x1="144.14" y1="192.19" x2="147.14" y2="192.19" stroke="#ff9500" stroke-width="0.9"/>
<line x1="144.14" y1="195.27" x2="147.14" y2="195.27" stroke="#ff9500" stroke-width="0.9"/>
<line x1="150.37" y1="191.98" x2="150.37" y2="195.07" stroke="#ff9500" stroke-width="0.9"/>
<line x1="148.87" y1="191.98" x2="151.87" y2="191.98" stroke="#ff9500" stroke-width="0.9"/>
<line x1="148.87" y1="195.07" x2="151.87" y2="195.07" stroke="#ff9500" stroke-width="0.9"/>
<line x1="155.1" y1="191.78" x2="155.1" y2="194.86" stroke="#ff9500" stroke-width="0.9"/>
<line x1="153.6" y1="191.78" x2="156.6" y2="191.78" stroke="#ff9500" stroke-width="0.9"/>
<line x1="153.6" y1="194.86" x2="156.6" y2="194.86" stroke="#ff9500" stroke-width="0.9"/>
<line x1="159.83" y1="191.62" x2="159.83" y2="194.71" stroke="#ff9500" stroke-width="0.9"/>
<line x1="158.33" y1="191.62" x2="161.33" y2="191.62" stroke="#ff9500" stroke-width="0.9"/>
<line x1="158.33" y1="194.71" x2="161.33" y2="194.71" stroke="#ff9500" stroke-width="0.9"/>
<line x1="164.56" y1="191.47" x2="164.56" y2="194.55" stroke="#ff9500" stroke-width="0.9"/>
<line x1="163.06" y1="191.47" x2="166.06" y2="191.47" stroke="#ff9500" stroke-width="0.9"/>
<line x1="163.06" y1="194.55" x2="166.06" y2="194.55" stroke="#ff9500" stroke-width="0.9"/>
<path d="M60.5 194.71 L62.19 196.4 L60.5 198.09 L58.81 196.4Z" fill="#ff9500"/>
<path d="M65.23 195.48 L66.92 197.17 L65.23 198.86 L63.54 197.17Z" fill="#ff9500"/>
<path d="M69.96 195.74 L71.65 197.43 L69.96 199.12 L68.27 197.43Z" fill="#ff9500"/>
<path d="M74.69 195.64 L76.38 197.33 L74.69 199.02 L73 197.33Z" fill="#ff9500"/>
<path d="M79.42 195.48 L81.11 197.17 L79.42 198.86 L77.73 197.17Z" fill="#ff9500"/>
<path d="M84.15 195.33 L85.84 197.02 L84.15 198.71 L82.46 197.02Z" fill="#ff9500"/>
<path d="M88.88 195.12 L90.57 196.81 L88.88 198.5 L87.19 196.81Z" fill="#ff9500"/>
<path d="M93.61 194.71 L95.3 196.4 L93.61 198.09 L91.92 196.4Z" fill="#ff9500"/>
<path d="M98.34 194.2 L100.03 195.89 L98.34 197.58 L96.65 195.89Z" fill="#ff9500"/>
<path d="M103.07 193.79 L104.76 195.48 L103.07 197.17 L101.38 195.48Z" fill="#ff9500"/>
<path d="M107.8 193.43 L109.49 195.12 L107.8 196.81 L106.11 195.12Z" fill="#ff9500"/>
<path d="M112.53 193.17 L114.22 194.86 L112.53 196.55 L110.84 194.86Z" fill="#ff9500"/>
<path d="M117.26 193.17 L118.95 194.86 L117.26 196.55 L115.57 194.86Z" fill="#ff9500"/>
<path d="M121.99 193.02 L123.68 194.71 L121.99 196.4 L120.3 194.71Z" fill="#ff9500"/>
<path d="M126.72 192.91 L128.41 194.6 L126.72 196.29 L125.03 194.6Z" fill="#ff9500"/>
<path d="M131.45 192.76 L133.14 194.45 L131.45 196.14 L129.76 194.45Z" fill="#ff9500"/>
<path d="M136.18 192.55 L137.87 194.24 L136.18 195.93 L134.49 194.24Z" fill="#ff9500"/>
<path d="M140.91 192.24 L142.6 193.93 L140.91 195.62 L139.22 193.93Z" fill="#ff9500"/>
<path d="M145.64 192.04 L147.33 193.73 L145.64 195.42 L143.95 193.73Z" fill="#ff9500"/>
<path d="M150.37 191.83 L152.06 193.52 L150.37 195.21 L148.68 193.52Z" fill="#ff9500"/>
<path d="M155.1 191.63 L156.79 193.32 L155.1 195.01 L153.41 193.32Z" fill="#ff9500"/>
<path d="M159.83 191.47 L161.52 193.16 L159.83 194.85 L158.14 193.16Z" fill="#ff9500"/>
<path d="M164.56 191.32 L166.25 193.01 L164.56 194.7 L162.87 193.01Z" fill="#ff9500"/>
<polyline points="60.5,195.89 65.23,195.48 69.96,195.12 74.69,194.76 79.42,194.35 84.15,193.93 88.88,193.42 93.61,192.91 98.34,192.29 103.07,191.78 107.8,191.26 112.53,190.75 117.26,190.23 121.99,189.98 126.72,189.72 131.45,189.46 136.18,189.21 140.91,188.79 145.64,188.44 150.37,188.08 155.1,187.66 159.83,187.25 164.56,186.84" fill="none" stroke="#0c9a3c" stroke-width="1.1"/>
<line x1="60.5" y1="195.63" x2="60.5" y2="196.15" stroke="#0c9a3c" stroke-width="0.9"/>
<line x1="59" y1="195.63" x2="62" y2="195.63" stroke="#0c9a3c" stroke-width="0.9"/>
<line x1="59" y1="196.15" x2="62" y2="196.15" stroke="#0c9a3c" stroke-width="0.9"/>
<line x1="65.23" y1="195.22" x2="65.23" y2="195.73" stroke="#0c9a3c" stroke-width="0.9"/>
<line x1="63.73" y1="195.22" x2="66.73" y2="195.22" stroke="#0c9a3c" stroke-width="0.9"/>
<line x1="63.73" y1="195.73" x2="66.73" y2="195.73" stroke="#0c9a3c" stroke-width="0.9"/>
<line x1="69.96" y1="194.86" x2="69.96" y2="195.37" stroke="#0c9a3c" stroke-width="0.9"/>
<line x1="68.46" y1="194.86" x2="71.46" y2="194.86" stroke="#0c9a3c" stroke-width="0.9"/>
<line x1="68.46" y1="195.37" x2="71.46" y2="195.37" stroke="#0c9a3c" stroke-width="0.9"/>
<line x1="74.69" y1="194.5" x2="74.69" y2="195.01" stroke="#0c9a3c" stroke-width="0.9"/>
<line x1="73.19" y1="194.5" x2="76.19" y2="194.5" stroke="#0c9a3c" stroke-width="0.9"/>
<line x1="73.19" y1="195.01" x2="76.19" y2="195.01" stroke="#0c9a3c" stroke-width="0.9"/>
<line x1="79.42" y1="193.06" x2="79.42" y2="195.63" stroke="#0c9a3c" stroke-width="0.9"/>
<line x1="77.92" y1="193.06" x2="80.92" y2="193.06" stroke="#0c9a3c" stroke-width="0.9"/>
<line x1="77.92" y1="195.63" x2="80.92" y2="195.63" stroke="#0c9a3c" stroke-width="0.9"/>
<line x1="84.15" y1="192.65" x2="84.15" y2="195.22" stroke="#0c9a3c" stroke-width="0.9"/>
<line x1="82.65" y1="192.65" x2="85.65" y2="192.65" stroke="#0c9a3c" stroke-width="0.9"/>
<line x1="82.65" y1="195.22" x2="85.65" y2="195.22" stroke="#0c9a3c" stroke-width="0.9"/>
<line x1="88.88" y1="192.14" x2="88.88" y2="194.71" stroke="#0c9a3c" stroke-width="0.9"/>
<line x1="87.38" y1="192.14" x2="90.38" y2="192.14" stroke="#0c9a3c" stroke-width="0.9"/>
<line x1="87.38" y1="194.71" x2="90.38" y2="194.71" stroke="#0c9a3c" stroke-width="0.9"/>
<line x1="93.61" y1="191.62" x2="93.61" y2="194.19" stroke="#0c9a3c" stroke-width="0.9"/>
<line x1="92.11" y1="191.62" x2="95.11" y2="191.62" stroke="#0c9a3c" stroke-width="0.9"/>
<line x1="92.11" y1="194.19" x2="95.11" y2="194.19" stroke="#0c9a3c" stroke-width="0.9"/>
<line x1="98.34" y1="191" x2="98.34" y2="193.57" stroke="#0c9a3c" stroke-width="0.9"/>
<line x1="96.84" y1="191" x2="99.84" y2="191" stroke="#0c9a3c" stroke-width="0.9"/>
<line x1="96.84" y1="193.57" x2="99.84" y2="193.57" stroke="#0c9a3c" stroke-width="0.9"/>
<line x1="103.07" y1="190.49" x2="103.07" y2="193.06" stroke="#0c9a3c" stroke-width="0.9"/>
<line x1="101.57" y1="190.49" x2="104.57" y2="190.49" stroke="#0c9a3c" stroke-width="0.9"/>
<line x1="101.57" y1="193.06" x2="104.57" y2="193.06" stroke="#0c9a3c" stroke-width="0.9"/>
<line x1="107.8" y1="189.98" x2="107.8" y2="192.55" stroke="#0c9a3c" stroke-width="0.9"/>
<line x1="106.3" y1="189.98" x2="109.3" y2="189.98" stroke="#0c9a3c" stroke-width="0.9"/>
<line x1="106.3" y1="192.55" x2="109.3" y2="192.55" stroke="#0c9a3c" stroke-width="0.9"/>
<line x1="112.53" y1="189.46" x2="112.53" y2="192.03" stroke="#0c9a3c" stroke-width="0.9"/>
<line x1="111.03" y1="189.46" x2="114.03" y2="189.46" stroke="#0c9a3c" stroke-width="0.9"/>
<line x1="111.03" y1="192.03" x2="114.03" y2="192.03" stroke="#0c9a3c" stroke-width="0.9"/>
<line x1="117.26" y1="188.95" x2="117.26" y2="191.52" stroke="#0c9a3c" stroke-width="0.9"/>
<line x1="115.76" y1="188.95" x2="118.76" y2="188.95" stroke="#0c9a3c" stroke-width="0.9"/>
<line x1="115.76" y1="191.52" x2="118.76" y2="191.52" stroke="#0c9a3c" stroke-width="0.9"/>
<line x1="121.99" y1="188.69" x2="121.99" y2="191.26" stroke="#0c9a3c" stroke-width="0.9"/>
<line x1="120.49" y1="188.69" x2="123.49" y2="188.69" stroke="#0c9a3c" stroke-width="0.9"/>
<line x1="120.49" y1="191.26" x2="123.49" y2="191.26" stroke="#0c9a3c" stroke-width="0.9"/>
<line x1="126.72" y1="188.44" x2="126.72" y2="191" stroke="#0c9a3c" stroke-width="0.9"/>
<line x1="125.22" y1="188.44" x2="128.22" y2="188.44" stroke="#0c9a3c" stroke-width="0.9"/>
<line x1="125.22" y1="191" x2="128.22" y2="191" stroke="#0c9a3c" stroke-width="0.9"/>
<line x1="131.45" y1="188.18" x2="131.45" y2="190.75" stroke="#0c9a3c" stroke-width="0.9"/>
<line x1="129.95" y1="188.18" x2="132.95" y2="188.18" stroke="#0c9a3c" stroke-width="0.9"/>
<line x1="129.95" y1="190.75" x2="132.95" y2="190.75" stroke="#0c9a3c" stroke-width="0.9"/>
<line x1="136.18" y1="187.92" x2="136.18" y2="190.49" stroke="#0c9a3c" stroke-width="0.9"/>
<line x1="134.68" y1="187.92" x2="137.68" y2="187.92" stroke="#0c9a3c" stroke-width="0.9"/>
<line x1="134.68" y1="190.49" x2="137.68" y2="190.49" stroke="#0c9a3c" stroke-width="0.9"/>
<line x1="140.91" y1="187.51" x2="140.91" y2="190.08" stroke="#0c9a3c" stroke-width="0.9"/>
<line x1="139.41" y1="187.51" x2="142.41" y2="187.51" stroke="#0c9a3c" stroke-width="0.9"/>
<line x1="139.41" y1="190.08" x2="142.41" y2="190.08" stroke="#0c9a3c" stroke-width="0.9"/>
<line x1="145.64" y1="187.15" x2="145.64" y2="189.72" stroke="#0c9a3c" stroke-width="0.9"/>
<line x1="144.14" y1="187.15" x2="147.14" y2="187.15" stroke="#0c9a3c" stroke-width="0.9"/>
<line x1="144.14" y1="189.72" x2="147.14" y2="189.72" stroke="#0c9a3c" stroke-width="0.9"/>
<line x1="150.37" y1="186.79" x2="150.37" y2="189.36" stroke="#0c9a3c" stroke-width="0.9"/>
<line x1="148.87" y1="186.79" x2="151.87" y2="186.79" stroke="#0c9a3c" stroke-width="0.9"/>
<line x1="148.87" y1="189.36" x2="151.87" y2="189.36" stroke="#0c9a3c" stroke-width="0.9"/>
<line x1="155.1" y1="186.38" x2="155.1" y2="188.95" stroke="#0c9a3c" stroke-width="0.9"/>
<line x1="153.6" y1="186.38" x2="156.6" y2="186.38" stroke="#0c9a3c" stroke-width="0.9"/>
<line x1="153.6" y1="188.95" x2="156.6" y2="188.95" stroke="#0c9a3c" stroke-width="0.9"/>
<line x1="159.83" y1="185.97" x2="159.83" y2="188.54" stroke="#0c9a3c" stroke-width="0.9"/>
<line x1="158.33" y1="185.97" x2="161.33" y2="185.97" stroke="#0c9a3c" stroke-width="0.9"/>
<line x1="158.33" y1="188.54" x2="161.33" y2="188.54" stroke="#0c9a3c" stroke-width="0.9"/>
<line x1="164.56" y1="185.56" x2="164.56" y2="188.13" stroke="#0c9a3c" stroke-width="0.9"/>
<line x1="163.06" y1="185.56" x2="166.06" y2="185.56" stroke="#0c9a3c" stroke-width="0.9"/>
<line x1="163.06" y1="188.13" x2="166.06" y2="188.13" stroke="#0c9a3c" stroke-width="0.9"/>
<rect x="59.2" y="194.59" width="2.6" height="2.6" fill="#0c9a3c" stroke="none" stroke-width="1"/>
<rect x="63.93" y="194.18" width="2.6" height="2.6" fill="#0c9a3c" stroke="none" stroke-width="1"/>
<rect x="68.66" y="193.82" width="2.6" height="2.6" fill="#0c9a3c" stroke="none" stroke-width="1"/>
<rect x="73.39" y="193.46" width="2.6" height="2.6" fill="#0c9a3c" stroke="none" stroke-width="1"/>
<rect x="78.12" y="193.05" width="2.6" height="2.6" fill="#0c9a3c" stroke="none" stroke-width="1"/>
<rect x="82.85" y="192.63" width="2.6" height="2.6" fill="#0c9a3c" stroke="none" stroke-width="1"/>
<rect x="87.58" y="192.12" width="2.6" height="2.6" fill="#0c9a3c" stroke="none" stroke-width="1"/>
<rect x="92.31" y="191.61" width="2.6" height="2.6" fill="#0c9a3c" stroke="none" stroke-width="1"/>
<rect x="97.04" y="190.99" width="2.6" height="2.6" fill="#0c9a3c" stroke="none" stroke-width="1"/>
<rect x="101.77" y="190.48" width="2.6" height="2.6" fill="#0c9a3c" stroke="none" stroke-width="1"/>
<rect x="106.5" y="189.96" width="2.6" height="2.6" fill="#0c9a3c" stroke="none" stroke-width="1"/>
<rect x="111.23" y="189.45" width="2.6" height="2.6" fill="#0c9a3c" stroke="none" stroke-width="1"/>
<rect x="115.96" y="188.93" width="2.6" height="2.6" fill="#0c9a3c" stroke="none" stroke-width="1"/>
<rect x="120.69" y="188.68" width="2.6" height="2.6" fill="#0c9a3c" stroke="none" stroke-width="1"/>
<rect x="125.42" y="188.42" width="2.6" height="2.6" fill="#0c9a3c" stroke="none" stroke-width="1"/>
<rect x="130.15" y="188.16" width="2.6" height="2.6" fill="#0c9a3c" stroke="none" stroke-width="1"/>
<rect x="134.88" y="187.91" width="2.6" height="2.6" fill="#0c9a3c" stroke="none" stroke-width="1"/>
<rect x="139.61" y="187.49" width="2.6" height="2.6" fill="#0c9a3c" stroke="none" stroke-width="1"/>
<rect x="144.34" y="187.13" width="2.6" height="2.6" fill="#0c9a3c" stroke="none" stroke-width="1"/>
<rect x="149.07" y="186.78" width="2.6" height="2.6" fill="#0c9a3c" stroke="none" stroke-width="1"/>
<rect x="153.8" y="186.36" width="2.6" height="2.6" fill="#0c9a3c" stroke="none" stroke-width="1"/>
<rect x="158.53" y="185.95" width="2.6" height="2.6" fill="#0c9a3c" stroke="none" stroke-width="1"/>
<rect x="163.26" y="185.54" width="2.6" height="2.6" fill="#0c9a3c" stroke="none" stroke-width="1"/>
<polyline points="60.5,195.89 65.23,195.12 69.96,194.35 74.69,193.57 79.42,193.01 84.15,192.55 88.88,192.14 93.61,191.67 98.34,191.21 103.07,190.49 107.8,189.51 112.53,188.95 117.26,188.23 121.99,187.66 126.72,186.84 131.45,186.12 136.18,185.15 140.91,183.55 145.64,181.65 150.37,179.7 155.1,177.74 159.83,170.75 164.56,167.62" fill="none" stroke="#1a3cff" stroke-width="1.1"/>
<line x1="60.5" y1="195.63" x2="60.5" y2="196.15" stroke="#1a3cff" stroke-width="0.9"/>
<line x1="59" y1="195.63" x2="62" y2="195.63" stroke="#1a3cff" stroke-width="0.9"/>
<line x1="59" y1="196.15" x2="62" y2="196.15" stroke="#1a3cff" stroke-width="0.9"/>
<line x1="65.23" y1="194.86" x2="65.23" y2="195.37" stroke="#1a3cff" stroke-width="0.9"/>
<line x1="63.73" y1="194.86" x2="66.73" y2="194.86" stroke="#1a3cff" stroke-width="0.9"/>
<line x1="63.73" y1="195.37" x2="66.73" y2="195.37" stroke="#1a3cff" stroke-width="0.9"/>
<line x1="69.96" y1="194.09" x2="69.96" y2="194.6" stroke="#1a3cff" stroke-width="0.9"/>
<line x1="68.46" y1="194.09" x2="71.46" y2="194.09" stroke="#1a3cff" stroke-width="0.9"/>
<line x1="68.46" y1="194.6" x2="71.46" y2="194.6" stroke="#1a3cff" stroke-width="0.9"/>
<line x1="74.69" y1="193.32" x2="74.69" y2="193.83" stroke="#1a3cff" stroke-width="0.9"/>
<line x1="73.19" y1="193.32" x2="76.19" y2="193.32" stroke="#1a3cff" stroke-width="0.9"/>
<line x1="73.19" y1="193.83" x2="76.19" y2="193.83" stroke="#1a3cff" stroke-width="0.9"/>
<line x1="79.42" y1="192.75" x2="79.42" y2="193.27" stroke="#1a3cff" stroke-width="0.9"/>
<line x1="77.92" y1="192.75" x2="80.92" y2="192.75" stroke="#1a3cff" stroke-width="0.9"/>
<line x1="77.92" y1="193.27" x2="80.92" y2="193.27" stroke="#1a3cff" stroke-width="0.9"/>
<line x1="84.15" y1="192.29" x2="84.15" y2="192.8" stroke="#1a3cff" stroke-width="0.9"/>
<line x1="82.65" y1="192.29" x2="85.65" y2="192.29" stroke="#1a3cff" stroke-width="0.9"/>
<line x1="82.65" y1="192.8" x2="85.65" y2="192.8" stroke="#1a3cff" stroke-width="0.9"/>
<line x1="88.88" y1="191.88" x2="88.88" y2="192.39" stroke="#1a3cff" stroke-width="0.9"/>
<line x1="87.38" y1="191.88" x2="90.38" y2="191.88" stroke="#1a3cff" stroke-width="0.9"/>
<line x1="87.38" y1="192.39" x2="90.38" y2="192.39" stroke="#1a3cff" stroke-width="0.9"/>
<line x1="93.61" y1="191.42" x2="93.61" y2="191.93" stroke="#1a3cff" stroke-width="0.9"/>
<line x1="92.11" y1="191.42" x2="95.11" y2="191.42" stroke="#1a3cff" stroke-width="0.9"/>
<line x1="92.11" y1="191.93" x2="95.11" y2="191.93" stroke="#1a3cff" stroke-width="0.9"/>
<line x1="98.34" y1="190.95" x2="98.34" y2="191.47" stroke="#1a3cff" stroke-width="0.9"/>
<line x1="96.84" y1="190.95" x2="99.84" y2="190.95" stroke="#1a3cff" stroke-width="0.9"/>
<line x1="96.84" y1="191.47" x2="99.84" y2="191.47" stroke="#1a3cff" stroke-width="0.9"/>
<line x1="103.07" y1="190.23" x2="103.07" y2="190.75" stroke="#1a3cff" stroke-width="0.9"/>
<line x1="101.57" y1="190.23" x2="104.57" y2="190.23" stroke="#1a3cff" stroke-width="0.9"/>
<line x1="101.57" y1="190.75" x2="104.57" y2="190.75" stroke="#1a3cff" stroke-width="0.9"/>
<line x1="107.8" y1="189.26" x2="107.8" y2="189.77" stroke="#1a3cff" stroke-width="0.9"/>
<line x1="106.3" y1="189.26" x2="109.3" y2="189.26" stroke="#1a3cff" stroke-width="0.9"/>
<line x1="106.3" y1="189.77" x2="109.3" y2="189.77" stroke="#1a3cff" stroke-width="0.9"/>
<line x1="112.53" y1="188.69" x2="112.53" y2="189.21" stroke="#1a3cff" stroke-width="0.9"/>
<line x1="111.03" y1="188.69" x2="114.03" y2="188.69" stroke="#1a3cff" stroke-width="0.9"/>
<line x1="111.03" y1="189.21" x2="114.03" y2="189.21" stroke="#1a3cff" stroke-width="0.9"/>
<line x1="117.26" y1="187.97" x2="117.26" y2="188.49" stroke="#1a3cff" stroke-width="0.9"/>
<line x1="115.76" y1="187.97" x2="118.76" y2="187.97" stroke="#1a3cff" stroke-width="0.9"/>
<line x1="115.76" y1="188.49" x2="118.76" y2="188.49" stroke="#1a3cff" stroke-width="0.9"/>
<line x1="121.99" y1="187.41" x2="121.99" y2="187.92" stroke="#1a3cff" stroke-width="0.9"/>
<line x1="120.49" y1="187.41" x2="123.49" y2="187.41" stroke="#1a3cff" stroke-width="0.9"/>
<line x1="120.49" y1="187.92" x2="123.49" y2="187.92" stroke="#1a3cff" stroke-width="0.9"/>
<line x1="126.72" y1="186.58" x2="126.72" y2="187.1" stroke="#1a3cff" stroke-width="0.9"/>
<line x1="125.22" y1="186.58" x2="128.22" y2="186.58" stroke="#1a3cff" stroke-width="0.9"/>
<line x1="125.22" y1="187.1" x2="128.22" y2="187.1" stroke="#1a3cff" stroke-width="0.9"/>
<line x1="131.45" y1="185.87" x2="131.45" y2="186.38" stroke="#1a3cff" stroke-width="0.9"/>
<line x1="129.95" y1="185.87" x2="132.95" y2="185.87" stroke="#1a3cff" stroke-width="0.9"/>
<line x1="129.95" y1="186.38" x2="132.95" y2="186.38" stroke="#1a3cff" stroke-width="0.9"/>
<line x1="136.18" y1="184.89" x2="136.18" y2="185.4" stroke="#1a3cff" stroke-width="0.9"/>
<line x1="134.68" y1="184.89" x2="137.68" y2="184.89" stroke="#1a3cff" stroke-width="0.9"/>
<line x1="134.68" y1="185.4" x2="137.68" y2="185.4" stroke="#1a3cff" stroke-width="0.9"/>
<line x1="140.91" y1="183.29" x2="140.91" y2="183.81" stroke="#1a3cff" stroke-width="0.9"/>
<line x1="139.41" y1="183.29" x2="142.41" y2="183.29" stroke="#1a3cff" stroke-width="0.9"/>
<line x1="139.41" y1="183.81" x2="142.41" y2="183.81" stroke="#1a3cff" stroke-width="0.9"/>
<line x1="145.64" y1="181.14" x2="145.64" y2="182.16" stroke="#1a3cff" stroke-width="0.9"/>
<line x1="144.14" y1="181.14" x2="147.14" y2="181.14" stroke="#1a3cff" stroke-width="0.9"/>
<line x1="144.14" y1="182.16" x2="147.14" y2="182.16" stroke="#1a3cff" stroke-width="0.9"/>
<line x1="150.37" y1="178.93" x2="150.37" y2="180.47" stroke="#1a3cff" stroke-width="0.9"/>
<line x1="148.87" y1="178.93" x2="151.87" y2="178.93" stroke="#1a3cff" stroke-width="0.9"/>
<line x1="148.87" y1="180.47" x2="151.87" y2="180.47" stroke="#1a3cff" stroke-width="0.9"/>
<line x1="155.1" y1="176.72" x2="155.1" y2="178.77" stroke="#1a3cff" stroke-width="0.9"/>
<line x1="153.6" y1="176.72" x2="156.6" y2="176.72" stroke="#1a3cff" stroke-width="0.9"/>
<line x1="153.6" y1="178.77" x2="156.6" y2="178.77" stroke="#1a3cff" stroke-width="0.9"/>
<line x1="159.83" y1="169.21" x2="159.83" y2="172.3" stroke="#1a3cff" stroke-width="0.9"/>
<line x1="158.33" y1="169.21" x2="161.33" y2="169.21" stroke="#1a3cff" stroke-width="0.9"/>
<line x1="158.33" y1="172.3" x2="161.33" y2="172.3" stroke="#1a3cff" stroke-width="0.9"/>
<line x1="164.56" y1="165.05" x2="164.56" y2="170.19" stroke="#1a3cff" stroke-width="0.9"/>
<line x1="163.06" y1="165.05" x2="166.06" y2="165.05" stroke="#1a3cff" stroke-width="0.9"/>
<line x1="163.06" y1="170.19" x2="166.06" y2="170.19" stroke="#1a3cff" stroke-width="0.9"/>
<circle cx="60.5" cy="195.89" r="1.3" fill="#1a3cff"/>
<circle cx="65.23" cy="195.12" r="1.3" fill="#1a3cff"/>
<circle cx="69.96" cy="194.35" r="1.3" fill="#1a3cff"/>
<circle cx="74.69" cy="193.57" r="1.3" fill="#1a3cff"/>
<circle cx="79.42" cy="193.01" r="1.3" fill="#1a3cff"/>
<circle cx="84.15" cy="192.55" r="1.3" fill="#1a3cff"/>
<circle cx="88.88" cy="192.14" r="1.3" fill="#1a3cff"/>
<circle cx="93.61" cy="191.67" r="1.3" fill="#1a3cff"/>
<circle cx="98.34" cy="191.21" r="1.3" fill="#1a3cff"/>
<circle cx="103.07" cy="190.49" r="1.3" fill="#1a3cff"/>
<circle cx="107.8" cy="189.51" r="1.3" fill="#1a3cff"/>
<circle cx="112.53" cy="188.95" r="1.3" fill="#1a3cff"/>
<circle cx="117.26" cy="188.23" r="1.3" fill="#1a3cff"/>
<circle cx="121.99" cy="187.66" r="1.3" fill="#1a3cff"/>
<circle cx="126.72" cy="186.84" r="1.3" fill="#1a3cff"/>
<circle cx="131.45" cy="186.12" r="1.3" fill="#1a3cff"/>
<circle cx="136.18" cy="185.15" r="1.3" fill="#1a3cff"/>
<circle cx="140.91" cy="183.55" r="1.3" fill="#1a3cff"/>
<circle cx="145.64" cy="181.65" r="1.3" fill="#1a3cff"/>
<circle cx="150.37" cy="179.7" r="1.3" fill="#1a3cff"/>
<circle cx="155.1" cy="177.74" r="1.3" fill="#1a3cff"/>
<circle cx="159.83" cy="170.75" r="1.3" fill="#1a3cff"/>
<circle cx="164.56" cy="167.62" r="1.3" fill="#1a3cff"/>
<polyline points="60.5,195.89 65.23,193.83 69.96,191.26 74.69,189.21 79.42,187.15 84.15,185.61 88.88,184.07 93.61,182.01 98.34,180.47 103.07,178.93 107.8,177.38 112.53,176.36 117.26,175.84 121.99,175.33 126.72,174.81 131.45,173.79 136.18,171.22 140.91,168.13 145.64,164.53 150.37,160.94 155.1,164.02 159.83,159.91 164.56,157.85" fill="none" stroke="#ff2a00" stroke-width="1.1"/>
<line x1="74.69" y1="188.95" x2="74.69" y2="189.46" stroke="#ff2a00" stroke-width="0.9"/>
<line x1="73.19" y1="188.95" x2="76.19" y2="188.95" stroke="#ff2a00" stroke-width="0.9"/>
<line x1="73.19" y1="189.46" x2="76.19" y2="189.46" stroke="#ff2a00" stroke-width="0.9"/>
<line x1="79.42" y1="186.64" x2="79.42" y2="187.66" stroke="#ff2a00" stroke-width="0.9"/>
<line x1="77.92" y1="186.64" x2="80.92" y2="186.64" stroke="#ff2a00" stroke-width="0.9"/>
<line x1="77.92" y1="187.66" x2="80.92" y2="187.66" stroke="#ff2a00" stroke-width="0.9"/>
<line x1="84.15" y1="184.84" x2="84.15" y2="186.38" stroke="#ff2a00" stroke-width="0.9"/>
<line x1="82.65" y1="184.84" x2="85.65" y2="184.84" stroke="#ff2a00" stroke-width="0.9"/>
<line x1="82.65" y1="186.38" x2="85.65" y2="186.38" stroke="#ff2a00" stroke-width="0.9"/>
<line x1="88.88" y1="183.04" x2="88.88" y2="185.09" stroke="#ff2a00" stroke-width="0.9"/>
<line x1="87.38" y1="183.04" x2="90.38" y2="183.04" stroke="#ff2a00" stroke-width="0.9"/>
<line x1="87.38" y1="185.09" x2="90.38" y2="185.09" stroke="#ff2a00" stroke-width="0.9"/>
<line x1="93.61" y1="180.47" x2="93.61" y2="183.55" stroke="#ff2a00" stroke-width="0.9"/>
<line x1="92.11" y1="180.47" x2="95.11" y2="180.47" stroke="#ff2a00" stroke-width="0.9"/>
<line x1="92.11" y1="183.55" x2="95.11" y2="183.55" stroke="#ff2a00" stroke-width="0.9"/>
<line x1="98.34" y1="177.9" x2="98.34" y2="183.04" stroke="#ff2a00" stroke-width="0.9"/>
<line x1="96.84" y1="177.9" x2="99.84" y2="177.9" stroke="#ff2a00" stroke-width="0.9"/>
<line x1="96.84" y1="183.04" x2="99.84" y2="183.04" stroke="#ff2a00" stroke-width="0.9"/>
<line x1="103.07" y1="175.84" x2="103.07" y2="182.01" stroke="#ff2a00" stroke-width="0.9"/>
<line x1="101.57" y1="175.84" x2="104.57" y2="175.84" stroke="#ff2a00" stroke-width="0.9"/>
<line x1="101.57" y1="182.01" x2="104.57" y2="182.01" stroke="#ff2a00" stroke-width="0.9"/>
<line x1="107.8" y1="173.27" x2="107.8" y2="181.5" stroke="#ff2a00" stroke-width="0.9"/>
<line x1="106.3" y1="173.27" x2="109.3" y2="173.27" stroke="#ff2a00" stroke-width="0.9"/>
<line x1="106.3" y1="181.5" x2="109.3" y2="181.5" stroke="#ff2a00" stroke-width="0.9"/>
<line x1="112.53" y1="171.73" x2="112.53" y2="180.98" stroke="#ff2a00" stroke-width="0.9"/>
<line x1="111.03" y1="171.73" x2="114.03" y2="171.73" stroke="#ff2a00" stroke-width="0.9"/>
<line x1="111.03" y1="180.98" x2="114.03" y2="180.98" stroke="#ff2a00" stroke-width="0.9"/>
<line x1="117.26" y1="170.7" x2="117.26" y2="180.98" stroke="#ff2a00" stroke-width="0.9"/>
<line x1="115.76" y1="170.7" x2="118.76" y2="170.7" stroke="#ff2a00" stroke-width="0.9"/>
<line x1="115.76" y1="180.98" x2="118.76" y2="180.98" stroke="#ff2a00" stroke-width="0.9"/>
<line x1="121.99" y1="170.19" x2="121.99" y2="180.47" stroke="#ff2a00" stroke-width="0.9"/>
<line x1="120.49" y1="170.19" x2="123.49" y2="170.19" stroke="#ff2a00" stroke-width="0.9"/>
<line x1="120.49" y1="180.47" x2="123.49" y2="180.47" stroke="#ff2a00" stroke-width="0.9"/>
<line x1="126.72" y1="169.67" x2="126.72" y2="179.95" stroke="#ff2a00" stroke-width="0.9"/>
<line x1="125.22" y1="169.67" x2="128.22" y2="169.67" stroke="#ff2a00" stroke-width="0.9"/>
<line x1="125.22" y1="179.95" x2="128.22" y2="179.95" stroke="#ff2a00" stroke-width="0.9"/>
<line x1="131.45" y1="168.13" x2="131.45" y2="179.44" stroke="#ff2a00" stroke-width="0.9"/>
<line x1="129.95" y1="168.13" x2="132.95" y2="168.13" stroke="#ff2a00" stroke-width="0.9"/>
<line x1="129.95" y1="179.44" x2="132.95" y2="179.44" stroke="#ff2a00" stroke-width="0.9"/>
<line x1="136.18" y1="163.51" x2="136.18" y2="178.93" stroke="#ff2a00" stroke-width="0.9"/>
<line x1="134.68" y1="163.51" x2="137.68" y2="163.51" stroke="#ff2a00" stroke-width="0.9"/>
<line x1="134.68" y1="178.93" x2="137.68" y2="178.93" stroke="#ff2a00" stroke-width="0.9"/>
<line x1="140.91" y1="157.85" x2="140.91" y2="178.41" stroke="#ff2a00" stroke-width="0.9"/>
<line x1="139.41" y1="157.85" x2="142.41" y2="157.85" stroke="#ff2a00" stroke-width="0.9"/>
<line x1="139.41" y1="178.41" x2="142.41" y2="178.41" stroke="#ff2a00" stroke-width="0.9"/>
<line x1="145.64" y1="152.71" x2="145.64" y2="176.36" stroke="#ff2a00" stroke-width="0.9"/>
<line x1="144.14" y1="152.71" x2="147.14" y2="152.71" stroke="#ff2a00" stroke-width="0.9"/>
<line x1="144.14" y1="176.36" x2="147.14" y2="176.36" stroke="#ff2a00" stroke-width="0.9"/>
<line x1="150.37" y1="151.68" x2="150.37" y2="170.19" stroke="#ff2a00" stroke-width="0.9"/>
<line x1="148.87" y1="151.68" x2="151.87" y2="151.68" stroke="#ff2a00" stroke-width="0.9"/>
<line x1="148.87" y1="170.19" x2="151.87" y2="170.19" stroke="#ff2a00" stroke-width="0.9"/>
<line x1="155.1" y1="158.88" x2="155.1" y2="169.16" stroke="#ff2a00" stroke-width="0.9"/>
<line x1="153.6" y1="158.88" x2="156.6" y2="158.88" stroke="#ff2a00" stroke-width="0.9"/>
<line x1="153.6" y1="169.16" x2="156.6" y2="169.16" stroke="#ff2a00" stroke-width="0.9"/>
<line x1="159.83" y1="156.31" x2="159.83" y2="163.51" stroke="#ff2a00" stroke-width="0.9"/>
<line x1="158.33" y1="156.31" x2="161.33" y2="156.31" stroke="#ff2a00" stroke-width="0.9"/>
<line x1="158.33" y1="163.51" x2="161.33" y2="163.51" stroke="#ff2a00" stroke-width="0.9"/>
<line x1="164.56" y1="155.28" x2="164.56" y2="160.42" stroke="#ff2a00" stroke-width="0.9"/>
<line x1="163.06" y1="155.28" x2="166.06" y2="155.28" stroke="#ff2a00" stroke-width="0.9"/>
<line x1="163.06" y1="160.42" x2="166.06" y2="160.42" stroke="#ff2a00" stroke-width="0.9"/>
<rect x="59.2" y="194.59" width="2.6" height="2.6" fill="#ff2a00" stroke="none" stroke-width="1"/>
<rect x="63.93" y="192.53" width="2.6" height="2.6" fill="#ff2a00" stroke="none" stroke-width="1"/>
<rect x="68.66" y="189.96" width="2.6" height="2.6" fill="#ff2a00" stroke="none" stroke-width="1"/>
<rect x="73.39" y="187.91" width="2.6" height="2.6" fill="#ff2a00" stroke="none" stroke-width="1"/>
<rect x="78.12" y="185.85" width="2.6" height="2.6" fill="#ff2a00" stroke="none" stroke-width="1"/>
<rect x="82.85" y="184.31" width="2.6" height="2.6" fill="#ff2a00" stroke="none" stroke-width="1"/>
<rect x="87.58" y="182.77" width="2.6" height="2.6" fill="#ff2a00" stroke="none" stroke-width="1"/>
<rect x="92.31" y="180.71" width="2.6" height="2.6" fill="#ff2a00" stroke="none" stroke-width="1"/>
<rect x="97.04" y="179.17" width="2.6" height="2.6" fill="#ff2a00" stroke="none" stroke-width="1"/>
<rect x="101.77" y="177.63" width="2.6" height="2.6" fill="#ff2a00" stroke="none" stroke-width="1"/>
<rect x="106.5" y="176.08" width="2.6" height="2.6" fill="#ff2a00" stroke="none" stroke-width="1"/>
<rect x="111.23" y="175.06" width="2.6" height="2.6" fill="#ff2a00" stroke="none" stroke-width="1"/>
<rect x="115.96" y="174.54" width="2.6" height="2.6" fill="#ff2a00" stroke="none" stroke-width="1"/>
<rect x="120.69" y="174.03" width="2.6" height="2.6" fill="#ff2a00" stroke="none" stroke-width="1"/>
<rect x="125.42" y="173.51" width="2.6" height="2.6" fill="#ff2a00" stroke="none" stroke-width="1"/>
<rect x="130.15" y="172.49" width="2.6" height="2.6" fill="#ff2a00" stroke="none" stroke-width="1"/>
<rect x="134.88" y="169.92" width="2.6" height="2.6" fill="#ff2a00" stroke="none" stroke-width="1"/>
<rect x="139.61" y="166.83" width="2.6" height="2.6" fill="#ff2a00" stroke="none" stroke-width="1"/>
<rect x="144.34" y="163.23" width="2.6" height="2.6" fill="#ff2a00" stroke="none" stroke-width="1"/>
<rect x="149.07" y="159.64" width="2.6" height="2.6" fill="#ff2a00" stroke="none" stroke-width="1"/>
<rect x="153.8" y="162.72" width="2.6" height="2.6" fill="#ff2a00" stroke="none" stroke-width="1"/>
<rect x="158.53" y="158.61" width="2.6" height="2.6" fill="#ff2a00" stroke="none" stroke-width="1"/>
<rect x="163.26" y="156.55" width="2.6" height="2.6" fill="#ff2a00" stroke="none" stroke-width="1"/>
<polyline points="60.5,195.89 65.23,193.52 69.96,191.52 74.69,189.51 79.42,187.92 84.15,186.53 88.88,185.09 93.61,184.22 98.34,182.42 103.07,179.95 107.8,177.23 112.53,175.43 117.26,175.12 121.99,174.61 126.72,173.79 131.45,172.86 136.18,170.19 140.91,168.44 145.64,165.87 150.37,162.38 155.1,157.95 159.83,154.46 164.56,146.29" fill="none" stroke="#000000" stroke-width="1.1"/>
<line x1="60.5" y1="195.37" x2="60.5" y2="196.4" stroke="#000000" stroke-width="0.9"/>
<line x1="59" y1="195.37" x2="62" y2="195.37" stroke="#000000" stroke-width="0.9"/>
<line x1="59" y1="196.4" x2="62" y2="196.4" stroke="#000000" stroke-width="0.9"/>
<line x1="65.23" y1="192.75" x2="65.23" y2="194.29" stroke="#000000" stroke-width="0.9"/>
<line x1="63.73" y1="192.75" x2="66.73" y2="192.75" stroke="#000000" stroke-width="0.9"/>
<line x1="63.73" y1="194.29" x2="66.73" y2="194.29" stroke="#000000" stroke-width="0.9"/>
<line x1="69.96" y1="190.75" x2="69.96" y2="192.29" stroke="#000000" stroke-width="0.9"/>
<line x1="68.46" y1="190.75" x2="71.46" y2="190.75" stroke="#000000" stroke-width="0.9"/>
<line x1="68.46" y1="192.29" x2="71.46" y2="192.29" stroke="#000000" stroke-width="0.9"/>
<line x1="74.69" y1="188.49" x2="74.69" y2="190.54" stroke="#000000" stroke-width="0.9"/>
<line x1="73.19" y1="188.49" x2="76.19" y2="188.49" stroke="#000000" stroke-width="0.9"/>
<line x1="73.19" y1="190.54" x2="76.19" y2="190.54" stroke="#000000" stroke-width="0.9"/>
<line x1="79.42" y1="186.89" x2="79.42" y2="188.95" stroke="#000000" stroke-width="0.9"/>
<line x1="77.92" y1="186.89" x2="80.92" y2="186.89" stroke="#000000" stroke-width="0.9"/>
<line x1="77.92" y1="188.95" x2="80.92" y2="188.95" stroke="#000000" stroke-width="0.9"/>
<line x1="84.15" y1="185.25" x2="84.15" y2="187.82" stroke="#000000" stroke-width="0.9"/>
<line x1="82.65" y1="185.25" x2="85.65" y2="185.25" stroke="#000000" stroke-width="0.9"/>
<line x1="82.65" y1="187.82" x2="85.65" y2="187.82" stroke="#000000" stroke-width="0.9"/>
<line x1="88.88" y1="183.81" x2="88.88" y2="186.38" stroke="#000000" stroke-width="0.9"/>
<line x1="87.38" y1="183.81" x2="90.38" y2="183.81" stroke="#000000" stroke-width="0.9"/>
<line x1="87.38" y1="186.38" x2="90.38" y2="186.38" stroke="#000000" stroke-width="0.9"/>
<line x1="93.61" y1="182.68" x2="93.61" y2="185.76" stroke="#000000" stroke-width="0.9"/>
<line x1="92.11" y1="182.68" x2="95.11" y2="182.68" stroke="#000000" stroke-width="0.9"/>
<line x1="92.11" y1="185.76" x2="95.11" y2="185.76" stroke="#000000" stroke-width="0.9"/>
<line x1="98.34" y1="180.62" x2="98.34" y2="184.22" stroke="#000000" stroke-width="0.9"/>
<line x1="96.84" y1="180.62" x2="99.84" y2="180.62" stroke="#000000" stroke-width="0.9"/>
<line x1="96.84" y1="184.22" x2="99.84" y2="184.22" stroke="#000000" stroke-width="0.9"/>
<line x1="103.07" y1="177.9" x2="103.07" y2="182.01" stroke="#000000" stroke-width="0.9"/>
<line x1="101.57" y1="177.9" x2="104.57" y2="177.9" stroke="#000000" stroke-width="0.9"/>
<line x1="101.57" y1="182.01" x2="104.57" y2="182.01" stroke="#000000" stroke-width="0.9"/>
<line x1="107.8" y1="174.92" x2="107.8" y2="179.54" stroke="#000000" stroke-width="0.9"/>
<line x1="106.3" y1="174.92" x2="109.3" y2="174.92" stroke="#000000" stroke-width="0.9"/>
<line x1="106.3" y1="179.54" x2="109.3" y2="179.54" stroke="#000000" stroke-width="0.9"/>
<line x1="112.53" y1="172.86" x2="112.53" y2="178" stroke="#000000" stroke-width="0.9"/>
<line x1="111.03" y1="172.86" x2="114.03" y2="172.86" stroke="#000000" stroke-width="0.9"/>
<line x1="111.03" y1="178" x2="114.03" y2="178" stroke="#000000" stroke-width="0.9"/>
<line x1="117.26" y1="172.55" x2="117.26" y2="177.69" stroke="#000000" stroke-width="0.9"/>
<line x1="115.76" y1="172.55" x2="118.76" y2="172.55" stroke="#000000" stroke-width="0.9"/>
<line x1="115.76" y1="177.69" x2="118.76" y2="177.69" stroke="#000000" stroke-width="0.9"/>
<line x1="121.99" y1="172.04" x2="121.99" y2="177.18" stroke="#000000" stroke-width="0.9"/>
<line x1="120.49" y1="172.04" x2="123.49" y2="172.04" stroke="#000000" stroke-width="0.9"/>
<line x1="120.49" y1="177.18" x2="123.49" y2="177.18" stroke="#000000" stroke-width="0.9"/>
<line x1="126.72" y1="170.96" x2="126.72" y2="176.61" stroke="#000000" stroke-width="0.9"/>
<line x1="125.22" y1="170.96" x2="128.22" y2="170.96" stroke="#000000" stroke-width="0.9"/>
<line x1="125.22" y1="176.61" x2="128.22" y2="176.61" stroke="#000000" stroke-width="0.9"/>
<line x1="131.45" y1="169.78" x2="131.45" y2="175.94" stroke="#000000" stroke-width="0.9"/>
<line x1="129.95" y1="169.78" x2="132.95" y2="169.78" stroke="#000000" stroke-width="0.9"/>
<line x1="129.95" y1="175.94" x2="132.95" y2="175.94" stroke="#000000" stroke-width="0.9"/>
<line x1="136.18" y1="166.59" x2="136.18" y2="173.79" stroke="#000000" stroke-width="0.9"/>
<line x1="134.68" y1="166.59" x2="137.68" y2="166.59" stroke="#000000" stroke-width="0.9"/>
<line x1="134.68" y1="173.79" x2="137.68" y2="173.79" stroke="#000000" stroke-width="0.9"/>
<line x1="140.91" y1="164.33" x2="140.91" y2="172.55" stroke="#000000" stroke-width="0.9"/>
<line x1="139.41" y1="164.33" x2="142.41" y2="164.33" stroke="#000000" stroke-width="0.9"/>
<line x1="139.41" y1="172.55" x2="142.41" y2="172.55" stroke="#000000" stroke-width="0.9"/>
<line x1="145.64" y1="161.24" x2="145.64" y2="170.5" stroke="#000000" stroke-width="0.9"/>
<line x1="144.14" y1="161.24" x2="147.14" y2="161.24" stroke="#000000" stroke-width="0.9"/>
<line x1="144.14" y1="170.5" x2="147.14" y2="170.5" stroke="#000000" stroke-width="0.9"/>
<line x1="150.37" y1="157.24" x2="150.37" y2="167.52" stroke="#000000" stroke-width="0.9"/>
<line x1="148.87" y1="157.24" x2="151.87" y2="157.24" stroke="#000000" stroke-width="0.9"/>
<line x1="148.87" y1="167.52" x2="151.87" y2="167.52" stroke="#000000" stroke-width="0.9"/>
<line x1="155.1" y1="152.81" x2="155.1" y2="163.09" stroke="#000000" stroke-width="0.9"/>
<line x1="153.6" y1="152.81" x2="156.6" y2="152.81" stroke="#000000" stroke-width="0.9"/>
<line x1="153.6" y1="163.09" x2="156.6" y2="163.09" stroke="#000000" stroke-width="0.9"/>
<line x1="159.83" y1="148.29" x2="159.83" y2="160.63" stroke="#000000" stroke-width="0.9"/>
<line x1="158.33" y1="148.29" x2="161.33" y2="148.29" stroke="#000000" stroke-width="0.9"/>
<line x1="158.33" y1="160.63" x2="161.33" y2="160.63" stroke="#000000" stroke-width="0.9"/>
<line x1="164.56" y1="134.72" x2="164.56" y2="157.85" stroke="#000000" stroke-width="0.9"/>
<line x1="163.06" y1="134.72" x2="166.06" y2="134.72" stroke="#000000" stroke-width="0.9"/>
<line x1="163.06" y1="157.85" x2="166.06" y2="157.85" stroke="#000000" stroke-width="0.9"/>
<circle cx="60.5" cy="195.89" r="1.5" fill="#000000"/>
<circle cx="65.23" cy="193.52" r="1.5" fill="#000000"/>
<circle cx="69.96" cy="191.52" r="1.5" fill="#000000"/>
<circle cx="74.69" cy="189.51" r="1.5" fill="#000000"/>
<circle cx="79.42" cy="187.92" r="1.5" fill="#000000"/>
<circle cx="84.15" cy="186.53" r="1.5" fill="#000000"/>
<circle cx="88.88" cy="185.09" r="1.5" fill="#000000"/>
<circle cx="93.61" cy="184.22" r="1.5" fill="#000000"/>
<circle cx="98.34" cy="182.42" r="1.5" fill="#000000"/>
<circle cx="103.07" cy="179.95" r="1.5" fill="#000000"/>
<circle cx="107.8" cy="177.23" r="1.5" fill="#000000"/>
<circle cx="112.53" cy="175.43" r="1.5" fill="#000000"/>
<circle cx="117.26" cy="175.12" r="1.5" fill="#000000"/>
<circle cx="121.99" cy="174.61" r="1.5" fill="#000000"/>
<circle cx="126.72" cy="173.79" r="1.5" fill="#000000"/>
<circle cx="131.45" cy="172.86" r="1.5" fill="#000000"/>
<circle cx="136.18" cy="170.19" r="1.5" fill="#000000"/>
<circle cx="140.91" cy="168.44" r="1.5" fill="#000000"/>
<circle cx="145.64" cy="165.87" r="1.5" fill="#000000"/>
<circle cx="150.37" cy="162.38" r="1.5" fill="#000000"/>
<circle cx="155.1" cy="157.95" r="1.5" fill="#000000"/>
<circle cx="159.83" cy="154.46" r="1.5" fill="#000000"/>
<circle cx="164.56" cy="146.29" r="1.5" fill="#000000"/>
<text x="170.8" y="189.2" font-size="6.6" fill="#0c9a3c" textLength="23.2" lengthAdjust="spacingAndGlyphs">P=0.0002</text>
<text x="170.8" y="195.6" font-size="6.6" fill="#ff9500" textLength="23.2" lengthAdjust="spacingAndGlyphs">P=0.0006</text>
<line x1="57.8" y1="236.7" x2="57.8" y2="313.3" stroke="#888" stroke-width="1.6"/>
<line x1="54.8" y1="312.8" x2="57.8" y2="312.8" stroke="#222" stroke-width="1"/>
<text x="53.3" y="315.75" font-size="8.2" text-anchor="end">0</text>
<line x1="54.8" y1="293.9" x2="57.8" y2="293.9" stroke="#222" stroke-width="1"/>
<text x="53.3" y="296.85" font-size="8.2" text-anchor="end">500</text>
<line x1="54.8" y1="275" x2="57.8" y2="275" stroke="#222" stroke-width="1"/>
<text x="53.3" y="277.95" font-size="8.2" text-anchor="end">1000</text>
<line x1="54.8" y1="256.1" x2="57.8" y2="256.1" stroke="#222" stroke-width="1"/>
<text x="53.3" y="259.05" font-size="8.2" text-anchor="end">1500</text>
<line x1="54.8" y1="237.2" x2="57.8" y2="237.2" stroke="#222" stroke-width="1"/>
<text x="53.3" y="240.15" font-size="8.2" text-anchor="end">2000</text>
<line x1="57.8" y1="312.8" x2="164.4" y2="312.8" stroke="#222" stroke-width="1.1"/>
<line x1="63.89" y1="312.8" x2="63.89" y2="315.8" stroke="#222" stroke-width="1"/>
<text x="65.39" y="322" font-size="6.4" text-anchor="end" transform="rotate(-45 65.39 322)">3</text>
<line x1="73.27" y1="312.8" x2="73.27" y2="315.8" stroke="#222" stroke-width="1"/>
<text x="74.77" y="322" font-size="6.4" text-anchor="end" transform="rotate(-45 74.77 322)">7</text>
<line x1="82.65" y1="312.8" x2="82.65" y2="315.8" stroke="#222" stroke-width="1"/>
<text x="84.15" y="322" font-size="6.4" text-anchor="end" transform="rotate(-45 84.15 322)">11</text>
<line x1="92.03" y1="312.8" x2="92.03" y2="315.8" stroke="#222" stroke-width="1"/>
<text x="93.53" y="322" font-size="6.4" text-anchor="end" transform="rotate(-45 93.53 322)">15</text>
<line x1="101.41" y1="312.8" x2="101.41" y2="315.8" stroke="#222" stroke-width="1"/>
<text x="102.91" y="322" font-size="6.4" text-anchor="end" transform="rotate(-45 102.91 322)">19</text>
<line x1="110.79" y1="312.8" x2="110.79" y2="315.8" stroke="#222" stroke-width="1"/>
<text x="112.29" y="322" font-size="6.4" text-anchor="end" transform="rotate(-45 112.29 322)">23</text>
<line x1="120.17" y1="312.8" x2="120.17" y2="315.8" stroke="#222" stroke-width="1"/>
<text x="121.67" y="322" font-size="6.4" text-anchor="end" transform="rotate(-45 121.67 322)">27</text>
<line x1="129.55" y1="312.8" x2="129.55" y2="315.8" stroke="#222" stroke-width="1"/>
<text x="131.05" y="322" font-size="6.4" text-anchor="end" transform="rotate(-45 131.05 322)">31</text>
<line x1="138.93" y1="312.8" x2="138.93" y2="315.8" stroke="#222" stroke-width="1"/>
<text x="140.43" y="322" font-size="6.4" text-anchor="end" transform="rotate(-45 140.43 322)">35</text>
<line x1="148.31" y1="312.8" x2="148.31" y2="315.8" stroke="#222" stroke-width="1"/>
<text x="149.81" y="322" font-size="6.4" text-anchor="end" transform="rotate(-45 149.81 322)">39</text>
<line x1="157.69" y1="312.8" x2="157.69" y2="315.8" stroke="#222" stroke-width="1"/>
<text x="159.19" y="322" font-size="6.4" text-anchor="end" transform="rotate(-45 159.19 322)">43</text>
<text x="111.8" y="241.9" font-size="8.7" text-anchor="middle" font-weight="bold">BCX017</text>
<text x="111.8" y="336.8" font-size="8.2" text-anchor="middle">Days on Treatment</text>
<text x="31.6" y="274.2" font-size="8.45" text-anchor="middle" transform="rotate(-90 31.6 274.2)">Tumor Volume (mm<tspan dy="-3.2" font-size="5.8">3</tspan><tspan dy="3.2">)</tspan></text>
<polyline points="59.2,309.4 63.89,309.59 68.58,309.78 73.27,309.59 77.96,309.4 82.65,309.21 87.34,309.02 92.03,308.72 96.72,308.45 101.41,308.26 106.1,307.89 110.79,307.51 115.48,307.13 120.17,306.75 124.86,306.56 129.55,306.37 134.24,306 138.93,305.62 143.62,305.43 148.31,305.24 153,305.05 157.69,304.86 162.38,304.6" fill="none" stroke="#ff9500" stroke-width="1.1"/>
<line x1="59.2" y1="309.21" x2="59.2" y2="309.59" stroke="#ff9500" stroke-width="0.9"/>
<line x1="57.7" y1="309.21" x2="60.7" y2="309.21" stroke="#ff9500" stroke-width="0.9"/>
<line x1="57.7" y1="309.59" x2="60.7" y2="309.59" stroke="#ff9500" stroke-width="0.9"/>
<line x1="63.89" y1="309.4" x2="63.89" y2="309.78" stroke="#ff9500" stroke-width="0.9"/>
<line x1="62.39" y1="309.4" x2="65.39" y2="309.4" stroke="#ff9500" stroke-width="0.9"/>
<line x1="62.39" y1="309.78" x2="65.39" y2="309.78" stroke="#ff9500" stroke-width="0.9"/>
<line x1="68.58" y1="309.59" x2="68.58" y2="309.97" stroke="#ff9500" stroke-width="0.9"/>
<line x1="67.08" y1="309.59" x2="70.08" y2="309.59" stroke="#ff9500" stroke-width="0.9"/>
<line x1="67.08" y1="309.97" x2="70.08" y2="309.97" stroke="#ff9500" stroke-width="0.9"/>
<line x1="73.27" y1="309.4" x2="73.27" y2="309.78" stroke="#ff9500" stroke-width="0.9"/>
<line x1="71.77" y1="309.4" x2="74.77" y2="309.4" stroke="#ff9500" stroke-width="0.9"/>
<line x1="71.77" y1="309.78" x2="74.77" y2="309.78" stroke="#ff9500" stroke-width="0.9"/>
<line x1="77.96" y1="308.26" x2="77.96" y2="310.53" stroke="#ff9500" stroke-width="0.9"/>
<line x1="76.46" y1="308.26" x2="79.46" y2="308.26" stroke="#ff9500" stroke-width="0.9"/>
<line x1="76.46" y1="310.53" x2="79.46" y2="310.53" stroke="#ff9500" stroke-width="0.9"/>
<line x1="82.65" y1="308.07" x2="82.65" y2="310.34" stroke="#ff9500" stroke-width="0.9"/>
<line x1="81.15" y1="308.07" x2="84.15" y2="308.07" stroke="#ff9500" stroke-width="0.9"/>
<line x1="81.15" y1="310.34" x2="84.15" y2="310.34" stroke="#ff9500" stroke-width="0.9"/>
<line x1="87.34" y1="307.89" x2="87.34" y2="310.15" stroke="#ff9500" stroke-width="0.9"/>
<line x1="85.84" y1="307.89" x2="88.84" y2="307.89" stroke="#ff9500" stroke-width="0.9"/>
<line x1="85.84" y1="310.15" x2="88.84" y2="310.15" stroke="#ff9500" stroke-width="0.9"/>
<line x1="92.03" y1="307.58" x2="92.03" y2="309.85" stroke="#ff9500" stroke-width="0.9"/>
<line x1="90.53" y1="307.58" x2="93.53" y2="307.58" stroke="#ff9500" stroke-width="0.9"/>
<line x1="90.53" y1="309.85" x2="93.53" y2="309.85" stroke="#ff9500" stroke-width="0.9"/>
<line x1="96.72" y1="307.32" x2="96.72" y2="309.59" stroke="#ff9500" stroke-width="0.9"/>
<line x1="95.22" y1="307.32" x2="98.22" y2="307.32" stroke="#ff9500" stroke-width="0.9"/>
<line x1="95.22" y1="309.59" x2="98.22" y2="309.59" stroke="#ff9500" stroke-width="0.9"/>
<line x1="101.41" y1="307.13" x2="101.41" y2="309.4" stroke="#ff9500" stroke-width="0.9"/>
<line x1="99.91" y1="307.13" x2="102.91" y2="307.13" stroke="#ff9500" stroke-width="0.9"/>
<line x1="99.91" y1="309.4" x2="102.91" y2="309.4" stroke="#ff9500" stroke-width="0.9"/>
<line x1="106.1" y1="306.75" x2="106.1" y2="309.02" stroke="#ff9500" stroke-width="0.9"/>
<line x1="104.6" y1="306.75" x2="107.6" y2="306.75" stroke="#ff9500" stroke-width="0.9"/>
<line x1="104.6" y1="309.02" x2="107.6" y2="309.02" stroke="#ff9500" stroke-width="0.9"/>
<line x1="110.79" y1="306.37" x2="110.79" y2="308.64" stroke="#ff9500" stroke-width="0.9"/>
<line x1="109.29" y1="306.37" x2="112.29" y2="306.37" stroke="#ff9500" stroke-width="0.9"/>
<line x1="109.29" y1="308.64" x2="112.29" y2="308.64" stroke="#ff9500" stroke-width="0.9"/>
<line x1="115.48" y1="306" x2="115.48" y2="308.26" stroke="#ff9500" stroke-width="0.9"/>
<line x1="113.98" y1="306" x2="116.98" y2="306" stroke="#ff9500" stroke-width="0.9"/>
<line x1="113.98" y1="308.26" x2="116.98" y2="308.26" stroke="#ff9500" stroke-width="0.9"/>
<line x1="120.17" y1="305.62" x2="120.17" y2="307.89" stroke="#ff9500" stroke-width="0.9"/>
<line x1="118.67" y1="305.62" x2="121.67" y2="305.62" stroke="#ff9500" stroke-width="0.9"/>
<line x1="118.67" y1="307.89" x2="121.67" y2="307.89" stroke="#ff9500" stroke-width="0.9"/>
<line x1="124.86" y1="305.43" x2="124.86" y2="307.7" stroke="#ff9500" stroke-width="0.9"/>
<line x1="123.36" y1="305.43" x2="126.36" y2="305.43" stroke="#ff9500" stroke-width="0.9"/>
<line x1="123.36" y1="307.7" x2="126.36" y2="307.7" stroke="#ff9500" stroke-width="0.9"/>
<line x1="129.55" y1="305.24" x2="129.55" y2="307.51" stroke="#ff9500" stroke-width="0.9"/>
<line x1="128.05" y1="305.24" x2="131.05" y2="305.24" stroke="#ff9500" stroke-width="0.9"/>
<line x1="128.05" y1="307.51" x2="131.05" y2="307.51" stroke="#ff9500" stroke-width="0.9"/>
<line x1="134.24" y1="304.86" x2="134.24" y2="307.13" stroke="#ff9500" stroke-width="0.9"/>
<line x1="132.74" y1="304.86" x2="135.74" y2="304.86" stroke="#ff9500" stroke-width="0.9"/>
<line x1="132.74" y1="307.13" x2="135.74" y2="307.13" stroke="#ff9500" stroke-width="0.9"/>
<line x1="138.93" y1="304.48" x2="138.93" y2="306.75" stroke="#ff9500" stroke-width="0.9"/>
<line x1="137.43" y1="304.48" x2="140.43" y2="304.48" stroke="#ff9500" stroke-width="0.9"/>
<line x1="137.43" y1="306.75" x2="140.43" y2="306.75" stroke="#ff9500" stroke-width="0.9"/>
<line x1="143.62" y1="304.3" x2="143.62" y2="306.56" stroke="#ff9500" stroke-width="0.9"/>
<line x1="142.12" y1="304.3" x2="145.12" y2="304.3" stroke="#ff9500" stroke-width="0.9"/>
<line x1="142.12" y1="306.56" x2="145.12" y2="306.56" stroke="#ff9500" stroke-width="0.9"/>
<line x1="148.31" y1="304.11" x2="148.31" y2="306.37" stroke="#ff9500" stroke-width="0.9"/>
<line x1="146.81" y1="304.11" x2="149.81" y2="304.11" stroke="#ff9500" stroke-width="0.9"/>
<line x1="146.81" y1="306.37" x2="149.81" y2="306.37" stroke="#ff9500" stroke-width="0.9"/>
<line x1="153" y1="303.92" x2="153" y2="306.19" stroke="#ff9500" stroke-width="0.9"/>
<line x1="151.5" y1="303.92" x2="154.5" y2="303.92" stroke="#ff9500" stroke-width="0.9"/>
<line x1="151.5" y1="306.19" x2="154.5" y2="306.19" stroke="#ff9500" stroke-width="0.9"/>
<line x1="157.69" y1="303.73" x2="157.69" y2="306" stroke="#ff9500" stroke-width="0.9"/>
<line x1="156.19" y1="303.73" x2="159.19" y2="303.73" stroke="#ff9500" stroke-width="0.9"/>
<line x1="156.19" y1="306" x2="159.19" y2="306" stroke="#ff9500" stroke-width="0.9"/>
<line x1="162.38" y1="303.46" x2="162.38" y2="305.73" stroke="#ff9500" stroke-width="0.9"/>
<line x1="160.88" y1="303.46" x2="163.88" y2="303.46" stroke="#ff9500" stroke-width="0.9"/>
<line x1="160.88" y1="305.73" x2="163.88" y2="305.73" stroke="#ff9500" stroke-width="0.9"/>
<path d="M59.2 307.71 L60.89 309.4 L59.2 311.09 L57.51 309.4Z" fill="#ff9500"/>
<path d="M63.89 307.9 L65.58 309.59 L63.89 311.28 L62.2 309.59Z" fill="#ff9500"/>
<path d="M68.58 308.09 L70.27 309.78 L68.58 311.47 L66.89 309.78Z" fill="#ff9500"/>
<path d="M73.27 307.9 L74.96 309.59 L73.27 311.28 L71.58 309.59Z" fill="#ff9500"/>
<path d="M77.96 307.71 L79.65 309.4 L77.96 311.09 L76.27 309.4Z" fill="#ff9500"/>
<path d="M82.65 307.52 L84.34 309.21 L82.65 310.9 L80.96 309.21Z" fill="#ff9500"/>
<path d="M87.34 307.33 L89.03 309.02 L87.34 310.71 L85.65 309.02Z" fill="#ff9500"/>
<path d="M92.03 307.03 L93.72 308.72 L92.03 310.41 L90.34 308.72Z" fill="#ff9500"/>
<path d="M96.72 306.76 L98.41 308.45 L96.72 310.14 L95.03 308.45Z" fill="#ff9500"/>
<path d="M101.41 306.57 L103.1 308.26 L101.41 309.95 L99.72 308.26Z" fill="#ff9500"/>
<path d="M106.1 306.2 L107.79 307.89 L106.1 309.58 L104.41 307.89Z" fill="#ff9500"/>
<path d="M110.79 305.82 L112.48 307.51 L110.79 309.2 L109.1 307.51Z" fill="#ff9500"/>
<path d="M115.48 305.44 L117.17 307.13 L115.48 308.82 L113.79 307.13Z" fill="#ff9500"/>
<path d="M120.17 305.06 L121.86 306.75 L120.17 308.44 L118.48 306.75Z" fill="#ff9500"/>
<path d="M124.86 304.87 L126.55 306.56 L124.86 308.25 L123.17 306.56Z" fill="#ff9500"/>
<path d="M129.55 304.68 L131.24 306.37 L129.55 308.06 L127.86 306.37Z" fill="#ff9500"/>
<path d="M134.24 304.31 L135.93 306 L134.24 307.69 L132.55 306Z" fill="#ff9500"/>
<path d="M138.93 303.93 L140.62 305.62 L138.93 307.31 L137.24 305.62Z" fill="#ff9500"/>
<path d="M143.62 303.74 L145.31 305.43 L143.62 307.12 L141.93 305.43Z" fill="#ff9500"/>
<path d="M148.31 303.55 L150 305.24 L148.31 306.93 L146.62 305.24Z" fill="#ff9500"/>
<path d="M153 303.36 L154.69 305.05 L153 306.74 L151.31 305.05Z" fill="#ff9500"/>
<path d="M157.69 303.17 L159.38 304.86 L157.69 306.55 L156 304.86Z" fill="#ff9500"/>
<path d="M162.38 302.91 L164.07 304.6 L162.38 306.29 L160.69 304.6Z" fill="#ff9500"/>
<polyline points="59.2,309.02 63.89,309.21 68.58,309.4 73.27,309.21 77.96,309.02 82.65,308.64 87.34,308.26 92.03,307.51 96.72,307.13 101.41,306.75 106.1,306.37 110.79,306 115.48,305.62 120.17,305.24 124.86,304.67 129.55,304.3 134.24,303.92 138.93,303.54 143.62,303.16 148.31,302.78 153,302.52 157.69,302.22 162.38,301.91" fill="none" stroke="#0c9a3c" stroke-width="1.1"/>
<line x1="59.2" y1="308.83" x2="59.2" y2="309.21" stroke="#0c9a3c" stroke-width="0.9"/>
<line x1="57.7" y1="308.83" x2="60.7" y2="308.83" stroke="#0c9a3c" stroke-width="0.9"/>
<line x1="57.7" y1="309.21" x2="60.7" y2="309.21" stroke="#0c9a3c" stroke-width="0.9"/>
<line x1="63.89" y1="309.02" x2="63.89" y2="309.4" stroke="#0c9a3c" stroke-width="0.9"/>
<line x1="62.39" y1="309.02" x2="65.39" y2="309.02" stroke="#0c9a3c" stroke-width="0.9"/>
<line x1="62.39" y1="309.4" x2="65.39" y2="309.4" stroke="#0c9a3c" stroke-width="0.9"/>
<line x1="68.58" y1="309.21" x2="68.58" y2="309.59" stroke="#0c9a3c" stroke-width="0.9"/>
<line x1="67.08" y1="309.21" x2="70.08" y2="309.21" stroke="#0c9a3c" stroke-width="0.9"/>
<line x1="67.08" y1="309.59" x2="70.08" y2="309.59" stroke="#0c9a3c" stroke-width="0.9"/>
<line x1="73.27" y1="309.02" x2="73.27" y2="309.4" stroke="#0c9a3c" stroke-width="0.9"/>
<line x1="71.77" y1="309.02" x2="74.77" y2="309.02" stroke="#0c9a3c" stroke-width="0.9"/>
<line x1="71.77" y1="309.4" x2="74.77" y2="309.4" stroke="#0c9a3c" stroke-width="0.9"/>
<line x1="77.96" y1="307.13" x2="77.96" y2="310.91" stroke="#0c9a3c" stroke-width="0.9"/>
<line x1="76.46" y1="307.13" x2="79.46" y2="307.13" stroke="#0c9a3c" stroke-width="0.9"/>
<line x1="76.46" y1="310.91" x2="79.46" y2="310.91" stroke="#0c9a3c" stroke-width="0.9"/>
<line x1="82.65" y1="306.75" x2="82.65" y2="310.53" stroke="#0c9a3c" stroke-width="0.9"/>
<line x1="81.15" y1="306.75" x2="84.15" y2="306.75" stroke="#0c9a3c" stroke-width="0.9"/>
<line x1="81.15" y1="310.53" x2="84.15" y2="310.53" stroke="#0c9a3c" stroke-width="0.9"/>
<line x1="87.34" y1="306.37" x2="87.34" y2="310.15" stroke="#0c9a3c" stroke-width="0.9"/>
<line x1="85.84" y1="306.37" x2="88.84" y2="306.37" stroke="#0c9a3c" stroke-width="0.9"/>
<line x1="85.84" y1="310.15" x2="88.84" y2="310.15" stroke="#0c9a3c" stroke-width="0.9"/>
<line x1="92.03" y1="305.62" x2="92.03" y2="309.4" stroke="#0c9a3c" stroke-width="0.9"/>
<line x1="90.53" y1="305.62" x2="93.53" y2="305.62" stroke="#0c9a3c" stroke-width="0.9"/>
<line x1="90.53" y1="309.4" x2="93.53" y2="309.4" stroke="#0c9a3c" stroke-width="0.9"/>
<line x1="96.72" y1="305.24" x2="96.72" y2="309.02" stroke="#0c9a3c" stroke-width="0.9"/>
<line x1="95.22" y1="305.24" x2="98.22" y2="305.24" stroke="#0c9a3c" stroke-width="0.9"/>
<line x1="95.22" y1="309.02" x2="98.22" y2="309.02" stroke="#0c9a3c" stroke-width="0.9"/>
<line x1="101.41" y1="304.86" x2="101.41" y2="308.64" stroke="#0c9a3c" stroke-width="0.9"/>
<line x1="99.91" y1="304.86" x2="102.91" y2="304.86" stroke="#0c9a3c" stroke-width="0.9"/>
<line x1="99.91" y1="308.64" x2="102.91" y2="308.64" stroke="#0c9a3c" stroke-width="0.9"/>
<line x1="106.1" y1="304.48" x2="106.1" y2="308.26" stroke="#0c9a3c" stroke-width="0.9"/>
<line x1="104.6" y1="304.48" x2="107.6" y2="304.48" stroke="#0c9a3c" stroke-width="0.9"/>
<line x1="104.6" y1="308.26" x2="107.6" y2="308.26" stroke="#0c9a3c" stroke-width="0.9"/>
<line x1="110.79" y1="304.11" x2="110.79" y2="307.89" stroke="#0c9a3c" stroke-width="0.9"/>
<line x1="109.29" y1="304.11" x2="112.29" y2="304.11" stroke="#0c9a3c" stroke-width="0.9"/>
<line x1="109.29" y1="307.89" x2="112.29" y2="307.89" stroke="#0c9a3c" stroke-width="0.9"/>
<line x1="115.48" y1="303.73" x2="115.48" y2="307.51" stroke="#0c9a3c" stroke-width="0.9"/>
<line x1="113.98" y1="303.73" x2="116.98" y2="303.73" stroke="#0c9a3c" stroke-width="0.9"/>
<line x1="113.98" y1="307.51" x2="116.98" y2="307.51" stroke="#0c9a3c" stroke-width="0.9"/>
<line x1="120.17" y1="303.35" x2="120.17" y2="307.13" stroke="#0c9a3c" stroke-width="0.9"/>
<line x1="118.67" y1="303.35" x2="121.67" y2="303.35" stroke="#0c9a3c" stroke-width="0.9"/>
<line x1="118.67" y1="307.13" x2="121.67" y2="307.13" stroke="#0c9a3c" stroke-width="0.9"/>
<line x1="124.86" y1="302.78" x2="124.86" y2="306.56" stroke="#0c9a3c" stroke-width="0.9"/>
<line x1="123.36" y1="302.78" x2="126.36" y2="302.78" stroke="#0c9a3c" stroke-width="0.9"/>
<line x1="123.36" y1="306.56" x2="126.36" y2="306.56" stroke="#0c9a3c" stroke-width="0.9"/>
<line x1="129.55" y1="302.41" x2="129.55" y2="306.19" stroke="#0c9a3c" stroke-width="0.9"/>
<line x1="128.05" y1="302.41" x2="131.05" y2="302.41" stroke="#0c9a3c" stroke-width="0.9"/>
<line x1="128.05" y1="306.19" x2="131.05" y2="306.19" stroke="#0c9a3c" stroke-width="0.9"/>
<line x1="134.24" y1="302.03" x2="134.24" y2="305.81" stroke="#0c9a3c" stroke-width="0.9"/>
<line x1="132.74" y1="302.03" x2="135.74" y2="302.03" stroke="#0c9a3c" stroke-width="0.9"/>
<line x1="132.74" y1="305.81" x2="135.74" y2="305.81" stroke="#0c9a3c" stroke-width="0.9"/>
<line x1="138.93" y1="301.65" x2="138.93" y2="305.43" stroke="#0c9a3c" stroke-width="0.9"/>
<line x1="137.43" y1="301.65" x2="140.43" y2="301.65" stroke="#0c9a3c" stroke-width="0.9"/>
<line x1="137.43" y1="305.43" x2="140.43" y2="305.43" stroke="#0c9a3c" stroke-width="0.9"/>
<line x1="143.62" y1="301.27" x2="143.62" y2="305.05" stroke="#0c9a3c" stroke-width="0.9"/>
<line x1="142.12" y1="301.27" x2="145.12" y2="301.27" stroke="#0c9a3c" stroke-width="0.9"/>
<line x1="142.12" y1="305.05" x2="145.12" y2="305.05" stroke="#0c9a3c" stroke-width="0.9"/>
<line x1="148.31" y1="300.89" x2="148.31" y2="304.67" stroke="#0c9a3c" stroke-width="0.9"/>
<line x1="146.81" y1="300.89" x2="149.81" y2="300.89" stroke="#0c9a3c" stroke-width="0.9"/>
<line x1="146.81" y1="304.67" x2="149.81" y2="304.67" stroke="#0c9a3c" stroke-width="0.9"/>
<line x1="153" y1="300.63" x2="153" y2="304.41" stroke="#0c9a3c" stroke-width="0.9"/>
<line x1="151.5" y1="300.63" x2="154.5" y2="300.63" stroke="#0c9a3c" stroke-width="0.9"/>
<line x1="151.5" y1="304.41" x2="154.5" y2="304.41" stroke="#0c9a3c" stroke-width="0.9"/>
<line x1="157.69" y1="300.33" x2="157.69" y2="304.11" stroke="#0c9a3c" stroke-width="0.9"/>
<line x1="156.19" y1="300.33" x2="159.19" y2="300.33" stroke="#0c9a3c" stroke-width="0.9"/>
<line x1="156.19" y1="304.11" x2="159.19" y2="304.11" stroke="#0c9a3c" stroke-width="0.9"/>
<line x1="162.38" y1="300.02" x2="162.38" y2="303.8" stroke="#0c9a3c" stroke-width="0.9"/>
<line x1="160.88" y1="300.02" x2="163.88" y2="300.02" stroke="#0c9a3c" stroke-width="0.9"/>
<line x1="160.88" y1="303.8" x2="163.88" y2="303.8" stroke="#0c9a3c" stroke-width="0.9"/>
<path d="M59.2 310.58 L60.76 307.72 L57.64 307.72Z" fill="#0c9a3c"/>
<path d="M63.89 310.77 L65.45 307.91 L62.33 307.91Z" fill="#0c9a3c"/>
<path d="M68.58 310.96 L70.14 308.1 L67.02 308.1Z" fill="#0c9a3c"/>
<path d="M73.27 310.77 L74.83 307.91 L71.71 307.91Z" fill="#0c9a3c"/>
<path d="M77.96 310.58 L79.52 307.72 L76.4 307.72Z" fill="#0c9a3c"/>
<path d="M82.65 310.2 L84.21 307.34 L81.09 307.34Z" fill="#0c9a3c"/>
<path d="M87.34 309.82 L88.9 306.96 L85.78 306.96Z" fill="#0c9a3c"/>
<path d="M92.03 309.07 L93.59 306.21 L90.47 306.21Z" fill="#0c9a3c"/>
<path d="M96.72 308.69 L98.28 305.83 L95.16 305.83Z" fill="#0c9a3c"/>
<path d="M101.41 308.31 L102.97 305.45 L99.85 305.45Z" fill="#0c9a3c"/>
<path d="M106.1 307.93 L107.66 305.07 L104.54 305.07Z" fill="#0c9a3c"/>
<path d="M110.79 307.56 L112.35 304.7 L109.23 304.7Z" fill="#0c9a3c"/>
<path d="M115.48 307.18 L117.04 304.32 L113.92 304.32Z" fill="#0c9a3c"/>
<path d="M120.17 306.8 L121.73 303.94 L118.61 303.94Z" fill="#0c9a3c"/>
<path d="M124.86 306.23 L126.42 303.37 L123.3 303.37Z" fill="#0c9a3c"/>
<path d="M129.55 305.86 L131.11 303 L127.99 303Z" fill="#0c9a3c"/>
<path d="M134.24 305.48 L135.8 302.62 L132.68 302.62Z" fill="#0c9a3c"/>
<path d="M138.93 305.1 L140.49 302.24 L137.37 302.24Z" fill="#0c9a3c"/>
<path d="M143.62 304.72 L145.18 301.86 L142.06 301.86Z" fill="#0c9a3c"/>
<path d="M148.31 304.34 L149.87 301.48 L146.75 301.48Z" fill="#0c9a3c"/>
<path d="M153 304.08 L154.56 301.22 L151.44 301.22Z" fill="#0c9a3c"/>
<path d="M157.69 303.78 L159.25 300.92 L156.13 300.92Z" fill="#0c9a3c"/>
<path d="M162.38 303.47 L163.94 300.61 L160.82 300.61Z" fill="#0c9a3c"/>
<polyline points="59.2,308.72 63.89,308.26 68.58,307.89 73.27,307.28 77.96,305.62 82.65,304.18 87.34,302.59 92.03,301.08 96.72,298.44 101.41,295.79 106.1,294.66 110.79,293.71 115.48,288.61 120.17,285.58 124.86,281.05 129.55,278.78 134.24,269.33 138.93,262.53 143.62,267.44 148.31,270.84 153,279.16 157.69,267.44 162.38,262.53" fill="none" stroke="#ff2a00" stroke-width="1.1"/>
<line x1="59.2" y1="308.34" x2="59.2" y2="309.1" stroke="#ff2a00" stroke-width="0.9"/>
<line x1="57.7" y1="308.34" x2="60.7" y2="308.34" stroke="#ff2a00" stroke-width="0.9"/>
<line x1="57.7" y1="309.1" x2="60.7" y2="309.1" stroke="#ff2a00" stroke-width="0.9"/>
<line x1="63.89" y1="307.89" x2="63.89" y2="308.64" stroke="#ff2a00" stroke-width="0.9"/>
<line x1="62.39" y1="307.89" x2="65.39" y2="307.89" stroke="#ff2a00" stroke-width="0.9"/>
<line x1="62.39" y1="308.64" x2="65.39" y2="308.64" stroke="#ff2a00" stroke-width="0.9"/>
<line x1="68.58" y1="307.51" x2="68.58" y2="308.26" stroke="#ff2a00" stroke-width="0.9"/>
<line x1="67.08" y1="307.51" x2="70.08" y2="307.51" stroke="#ff2a00" stroke-width="0.9"/>
<line x1="67.08" y1="308.26" x2="70.08" y2="308.26" stroke="#ff2a00" stroke-width="0.9"/>
<line x1="73.27" y1="306.9" x2="73.27" y2="307.66" stroke="#ff2a00" stroke-width="0.9"/>
<line x1="71.77" y1="306.9" x2="74.77" y2="306.9" stroke="#ff2a00" stroke-width="0.9"/>
<line x1="71.77" y1="307.66" x2="74.77" y2="307.66" stroke="#ff2a00" stroke-width="0.9"/>
<line x1="77.96" y1="305.24" x2="77.96" y2="306" stroke="#ff2a00" stroke-width="0.9"/>
<line x1="76.46" y1="305.24" x2="79.46" y2="305.24" stroke="#ff2a00" stroke-width="0.9"/>
<line x1="76.46" y1="306" x2="79.46" y2="306" stroke="#ff2a00" stroke-width="0.9"/>
<line x1="82.65" y1="303.8" x2="82.65" y2="304.56" stroke="#ff2a00" stroke-width="0.9"/>
<line x1="81.15" y1="303.8" x2="84.15" y2="303.8" stroke="#ff2a00" stroke-width="0.9"/>
<line x1="81.15" y1="304.56" x2="84.15" y2="304.56" stroke="#ff2a00" stroke-width="0.9"/>
<line x1="87.34" y1="302.22" x2="87.34" y2="302.97" stroke="#ff2a00" stroke-width="0.9"/>
<line x1="85.84" y1="302.22" x2="88.84" y2="302.22" stroke="#ff2a00" stroke-width="0.9"/>
<line x1="85.84" y1="302.97" x2="88.84" y2="302.97" stroke="#ff2a00" stroke-width="0.9"/>
<line x1="92.03" y1="300.7" x2="92.03" y2="301.46" stroke="#ff2a00" stroke-width="0.9"/>
<line x1="90.53" y1="300.7" x2="93.53" y2="300.7" stroke="#ff2a00" stroke-width="0.9"/>
<line x1="90.53" y1="301.46" x2="93.53" y2="301.46" stroke="#ff2a00" stroke-width="0.9"/>
<line x1="96.72" y1="296.92" x2="96.72" y2="299.95" stroke="#ff2a00" stroke-width="0.9"/>
<line x1="95.22" y1="296.92" x2="98.22" y2="296.92" stroke="#ff2a00" stroke-width="0.9"/>
<line x1="95.22" y1="299.95" x2="98.22" y2="299.95" stroke="#ff2a00" stroke-width="0.9"/>
<line x1="101.41" y1="294.28" x2="101.41" y2="297.3" stroke="#ff2a00" stroke-width="0.9"/>
<line x1="99.91" y1="294.28" x2="102.91" y2="294.28" stroke="#ff2a00" stroke-width="0.9"/>
<line x1="99.91" y1="297.3" x2="102.91" y2="297.3" stroke="#ff2a00" stroke-width="0.9"/>
<line x1="106.1" y1="293.14" x2="106.1" y2="296.17" stroke="#ff2a00" stroke-width="0.9"/>
<line x1="104.6" y1="293.14" x2="107.6" y2="293.14" stroke="#ff2a00" stroke-width="0.9"/>
<line x1="104.6" y1="296.17" x2="107.6" y2="296.17" stroke="#ff2a00" stroke-width="0.9"/>
<line x1="110.79" y1="292.2" x2="110.79" y2="295.22" stroke="#ff2a00" stroke-width="0.9"/>
<line x1="109.29" y1="292.2" x2="112.29" y2="292.2" stroke="#ff2a00" stroke-width="0.9"/>
<line x1="109.29" y1="295.22" x2="112.29" y2="295.22" stroke="#ff2a00" stroke-width="0.9"/>
<line x1="115.48" y1="285.58" x2="115.48" y2="291.63" stroke="#ff2a00" stroke-width="0.9"/>
<line x1="113.98" y1="285.58" x2="116.98" y2="285.58" stroke="#ff2a00" stroke-width="0.9"/>
<line x1="113.98" y1="291.63" x2="116.98" y2="291.63" stroke="#ff2a00" stroke-width="0.9"/>
<line x1="120.17" y1="282.56" x2="120.17" y2="288.61" stroke="#ff2a00" stroke-width="0.9"/>
<line x1="118.67" y1="282.56" x2="121.67" y2="282.56" stroke="#ff2a00" stroke-width="0.9"/>
<line x1="118.67" y1="288.61" x2="121.67" y2="288.61" stroke="#ff2a00" stroke-width="0.9"/>
<line x1="124.86" y1="277.27" x2="124.86" y2="284.83" stroke="#ff2a00" stroke-width="0.9"/>
<line x1="123.36" y1="277.27" x2="126.36" y2="277.27" stroke="#ff2a00" stroke-width="0.9"/>
<line x1="123.36" y1="284.83" x2="126.36" y2="284.83" stroke="#ff2a00" stroke-width="0.9"/>
<line x1="129.55" y1="274.24" x2="129.55" y2="283.32" stroke="#ff2a00" stroke-width="0.9"/>
<line x1="128.05" y1="274.24" x2="131.05" y2="274.24" stroke="#ff2a00" stroke-width="0.9"/>
<line x1="128.05" y1="283.32" x2="131.05" y2="283.32" stroke="#ff2a00" stroke-width="0.9"/>
<line x1="134.24" y1="263.66" x2="134.24" y2="275" stroke="#ff2a00" stroke-width="0.9"/>
<line x1="132.74" y1="263.66" x2="135.74" y2="263.66" stroke="#ff2a00" stroke-width="0.9"/>
<line x1="132.74" y1="275" x2="135.74" y2="275" stroke="#ff2a00" stroke-width="0.9"/>
<line x1="138.93" y1="256.86" x2="138.93" y2="268.2" stroke="#ff2a00" stroke-width="0.9"/>
<line x1="137.43" y1="256.86" x2="140.43" y2="256.86" stroke="#ff2a00" stroke-width="0.9"/>
<line x1="137.43" y1="268.2" x2="140.43" y2="268.2" stroke="#ff2a00" stroke-width="0.9"/>
<line x1="143.62" y1="261.77" x2="143.62" y2="273.11" stroke="#ff2a00" stroke-width="0.9"/>
<line x1="142.12" y1="261.77" x2="145.12" y2="261.77" stroke="#ff2a00" stroke-width="0.9"/>
<line x1="142.12" y1="273.11" x2="145.12" y2="273.11" stroke="#ff2a00" stroke-width="0.9"/>
<line x1="148.31" y1="265.17" x2="148.31" y2="276.51" stroke="#ff2a00" stroke-width="0.9"/>
<line x1="146.81" y1="265.17" x2="149.81" y2="265.17" stroke="#ff2a00" stroke-width="0.9"/>
<line x1="146.81" y1="276.51" x2="149.81" y2="276.51" stroke="#ff2a00" stroke-width="0.9"/>
<line x1="153" y1="273.49" x2="153" y2="284.83" stroke="#ff2a00" stroke-width="0.9"/>
<line x1="151.5" y1="273.49" x2="154.5" y2="273.49" stroke="#ff2a00" stroke-width="0.9"/>
<line x1="151.5" y1="284.83" x2="154.5" y2="284.83" stroke="#ff2a00" stroke-width="0.9"/>
<line x1="157.69" y1="259.88" x2="157.69" y2="275" stroke="#ff2a00" stroke-width="0.9"/>
<line x1="156.19" y1="259.88" x2="159.19" y2="259.88" stroke="#ff2a00" stroke-width="0.9"/>
<line x1="156.19" y1="275" x2="159.19" y2="275" stroke="#ff2a00" stroke-width="0.9"/>
<line x1="162.38" y1="253.83" x2="162.38" y2="271.22" stroke="#ff2a00" stroke-width="0.9"/>
<line x1="160.88" y1="253.83" x2="163.88" y2="253.83" stroke="#ff2a00" stroke-width="0.9"/>
<line x1="160.88" y1="271.22" x2="163.88" y2="271.22" stroke="#ff2a00" stroke-width="0.9"/>
<rect x="57.9" y="307.42" width="2.6" height="2.6" fill="#ff2a00" stroke="none" stroke-width="1"/>
<rect x="62.59" y="306.96" width="2.6" height="2.6" fill="#ff2a00" stroke="none" stroke-width="1"/>
<rect x="67.28" y="306.59" width="2.6" height="2.6" fill="#ff2a00" stroke="none" stroke-width="1"/>
<rect x="71.97" y="305.98" width="2.6" height="2.6" fill="#ff2a00" stroke="none" stroke-width="1"/>
<rect x="76.66" y="304.32" width="2.6" height="2.6" fill="#ff2a00" stroke="none" stroke-width="1"/>
<rect x="81.35" y="302.88" width="2.6" height="2.6" fill="#ff2a00" stroke="none" stroke-width="1"/>
<rect x="86.04" y="301.29" width="2.6" height="2.6" fill="#ff2a00" stroke="none" stroke-width="1"/>
<rect x="90.73" y="299.78" width="2.6" height="2.6" fill="#ff2a00" stroke="none" stroke-width="1"/>
<rect x="95.42" y="297.14" width="2.6" height="2.6" fill="#ff2a00" stroke="none" stroke-width="1"/>
<rect x="100.11" y="294.49" width="2.6" height="2.6" fill="#ff2a00" stroke="none" stroke-width="1"/>
<rect x="104.8" y="293.36" width="2.6" height="2.6" fill="#ff2a00" stroke="none" stroke-width="1"/>
<rect x="109.49" y="292.41" width="2.6" height="2.6" fill="#ff2a00" stroke="none" stroke-width="1"/>
<rect x="114.18" y="287.31" width="2.6" height="2.6" fill="#ff2a00" stroke="none" stroke-width="1"/>
<rect x="118.87" y="284.28" width="2.6" height="2.6" fill="#ff2a00" stroke="none" stroke-width="1"/>
<rect x="123.56" y="279.75" width="2.6" height="2.6" fill="#ff2a00" stroke="none" stroke-width="1"/>
<rect x="128.25" y="277.48" width="2.6" height="2.6" fill="#ff2a00" stroke="none" stroke-width="1"/>
<rect x="132.94" y="268.03" width="2.6" height="2.6" fill="#ff2a00" stroke="none" stroke-width="1"/>
<rect x="137.63" y="261.23" width="2.6" height="2.6" fill="#ff2a00" stroke="none" stroke-width="1"/>
<rect x="142.32" y="266.14" width="2.6" height="2.6" fill="#ff2a00" stroke="none" stroke-width="1"/>
<rect x="147.01" y="269.54" width="2.6" height="2.6" fill="#ff2a00" stroke="none" stroke-width="1"/>
<rect x="151.7" y="277.86" width="2.6" height="2.6" fill="#ff2a00" stroke="none" stroke-width="1"/>
<rect x="156.39" y="266.14" width="2.6" height="2.6" fill="#ff2a00" stroke="none" stroke-width="1"/>
<rect x="161.08" y="261.23" width="2.6" height="2.6" fill="#ff2a00" stroke="none" stroke-width="1"/>
<polyline points="59.2,308.72 63.89,308.45 68.58,308.07 73.27,307.28 77.96,305.24 82.65,303.73 87.34,301.46 92.03,300.33 96.72,297.68 101.41,295.6 106.1,294.66 110.79,293.71 115.48,288.23 120.17,285.21 124.86,280.29 129.55,278.4 134.24,276.51 138.93,273.11 143.62,273.11 148.31,282.18 153,283.13 157.69,279.16 162.38,273.11" fill="none" stroke="#1a3cff" stroke-width="1.1"/>
<line x1="59.2" y1="308.34" x2="59.2" y2="309.1" stroke="#1a3cff" stroke-width="0.9"/>
<line x1="57.7" y1="308.34" x2="60.7" y2="308.34" stroke="#1a3cff" stroke-width="0.9"/>
<line x1="57.7" y1="309.1" x2="60.7" y2="309.1" stroke="#1a3cff" stroke-width="0.9"/>
<line x1="63.89" y1="308.08" x2="63.89" y2="308.83" stroke="#1a3cff" stroke-width="0.9"/>
<line x1="62.39" y1="308.08" x2="65.39" y2="308.08" stroke="#1a3cff" stroke-width="0.9"/>
<line x1="62.39" y1="308.83" x2="65.39" y2="308.83" stroke="#1a3cff" stroke-width="0.9"/>
<line x1="68.58" y1="307.7" x2="68.58" y2="308.45" stroke="#1a3cff" stroke-width="0.9"/>
<line x1="67.08" y1="307.7" x2="70.08" y2="307.7" stroke="#1a3cff" stroke-width="0.9"/>
<line x1="67.08" y1="308.45" x2="70.08" y2="308.45" stroke="#1a3cff" stroke-width="0.9"/>
<line x1="73.27" y1="306.9" x2="73.27" y2="307.66" stroke="#1a3cff" stroke-width="0.9"/>
<line x1="71.77" y1="306.9" x2="74.77" y2="306.9" stroke="#1a3cff" stroke-width="0.9"/>
<line x1="71.77" y1="307.66" x2="74.77" y2="307.66" stroke="#1a3cff" stroke-width="0.9"/>
<line x1="77.96" y1="304.86" x2="77.96" y2="305.62" stroke="#1a3cff" stroke-width="0.9"/>
<line x1="76.46" y1="304.86" x2="79.46" y2="304.86" stroke="#1a3cff" stroke-width="0.9"/>
<line x1="76.46" y1="305.62" x2="79.46" y2="305.62" stroke="#1a3cff" stroke-width="0.9"/>
<line x1="82.65" y1="303.35" x2="82.65" y2="304.11" stroke="#1a3cff" stroke-width="0.9"/>
<line x1="81.15" y1="303.35" x2="84.15" y2="303.35" stroke="#1a3cff" stroke-width="0.9"/>
<line x1="81.15" y1="304.11" x2="84.15" y2="304.11" stroke="#1a3cff" stroke-width="0.9"/>
<line x1="87.34" y1="301.08" x2="87.34" y2="301.84" stroke="#1a3cff" stroke-width="0.9"/>
<line x1="85.84" y1="301.08" x2="88.84" y2="301.08" stroke="#1a3cff" stroke-width="0.9"/>
<line x1="85.84" y1="301.84" x2="88.84" y2="301.84" stroke="#1a3cff" stroke-width="0.9"/>
<line x1="92.03" y1="299.95" x2="92.03" y2="300.7" stroke="#1a3cff" stroke-width="0.9"/>
<line x1="90.53" y1="299.95" x2="93.53" y2="299.95" stroke="#1a3cff" stroke-width="0.9"/>
<line x1="90.53" y1="300.7" x2="93.53" y2="300.7" stroke="#1a3cff" stroke-width="0.9"/>
<line x1="96.72" y1="296.17" x2="96.72" y2="299.19" stroke="#1a3cff" stroke-width="0.9"/>
<line x1="95.22" y1="296.17" x2="98.22" y2="296.17" stroke="#1a3cff" stroke-width="0.9"/>
<line x1="95.22" y1="299.19" x2="98.22" y2="299.19" stroke="#1a3cff" stroke-width="0.9"/>
<line x1="101.41" y1="294.09" x2="101.41" y2="297.11" stroke="#1a3cff" stroke-width="0.9"/>
<line x1="99.91" y1="294.09" x2="102.91" y2="294.09" stroke="#1a3cff" stroke-width="0.9"/>
<line x1="99.91" y1="297.11" x2="102.91" y2="297.11" stroke="#1a3cff" stroke-width="0.9"/>
<line x1="106.1" y1="293.14" x2="106.1" y2="296.17" stroke="#1a3cff" stroke-width="0.9"/>
<line x1="104.6" y1="293.14" x2="107.6" y2="293.14" stroke="#1a3cff" stroke-width="0.9"/>
<line x1="104.6" y1="296.17" x2="107.6" y2="296.17" stroke="#1a3cff" stroke-width="0.9"/>
<line x1="110.79" y1="292.2" x2="110.79" y2="295.22" stroke="#1a3cff" stroke-width="0.9"/>
<line x1="109.29" y1="292.2" x2="112.29" y2="292.2" stroke="#1a3cff" stroke-width="0.9"/>
<line x1="109.29" y1="295.22" x2="112.29" y2="295.22" stroke="#1a3cff" stroke-width="0.9"/>
<line x1="115.48" y1="285.21" x2="115.48" y2="291.25" stroke="#1a3cff" stroke-width="0.9"/>
<line x1="113.98" y1="285.21" x2="116.98" y2="285.21" stroke="#1a3cff" stroke-width="0.9"/>
<line x1="113.98" y1="291.25" x2="116.98" y2="291.25" stroke="#1a3cff" stroke-width="0.9"/>
<line x1="120.17" y1="282.18" x2="120.17" y2="288.23" stroke="#1a3cff" stroke-width="0.9"/>
<line x1="118.67" y1="282.18" x2="121.67" y2="282.18" stroke="#1a3cff" stroke-width="0.9"/>
<line x1="118.67" y1="288.23" x2="121.67" y2="288.23" stroke="#1a3cff" stroke-width="0.9"/>
<line x1="124.86" y1="276.51" x2="124.86" y2="284.07" stroke="#1a3cff" stroke-width="0.9"/>
<line x1="123.36" y1="276.51" x2="126.36" y2="276.51" stroke="#1a3cff" stroke-width="0.9"/>
<line x1="123.36" y1="284.07" x2="126.36" y2="284.07" stroke="#1a3cff" stroke-width="0.9"/>
<line x1="129.55" y1="273.87" x2="129.55" y2="282.94" stroke="#1a3cff" stroke-width="0.9"/>
<line x1="128.05" y1="273.87" x2="131.05" y2="273.87" stroke="#1a3cff" stroke-width="0.9"/>
<line x1="128.05" y1="282.94" x2="131.05" y2="282.94" stroke="#1a3cff" stroke-width="0.9"/>
<line x1="134.24" y1="270.84" x2="134.24" y2="282.18" stroke="#1a3cff" stroke-width="0.9"/>
<line x1="132.74" y1="270.84" x2="135.74" y2="270.84" stroke="#1a3cff" stroke-width="0.9"/>
<line x1="132.74" y1="282.18" x2="135.74" y2="282.18" stroke="#1a3cff" stroke-width="0.9"/>
<line x1="138.93" y1="267.44" x2="138.93" y2="278.78" stroke="#1a3cff" stroke-width="0.9"/>
<line x1="137.43" y1="267.44" x2="140.43" y2="267.44" stroke="#1a3cff" stroke-width="0.9"/>
<line x1="137.43" y1="278.78" x2="140.43" y2="278.78" stroke="#1a3cff" stroke-width="0.9"/>
<line x1="143.62" y1="267.44" x2="143.62" y2="278.78" stroke="#1a3cff" stroke-width="0.9"/>
<line x1="142.12" y1="267.44" x2="145.12" y2="267.44" stroke="#1a3cff" stroke-width="0.9"/>
<line x1="142.12" y1="278.78" x2="145.12" y2="278.78" stroke="#1a3cff" stroke-width="0.9"/>
<line x1="148.31" y1="276.51" x2="148.31" y2="287.85" stroke="#1a3cff" stroke-width="0.9"/>
<line x1="146.81" y1="276.51" x2="149.81" y2="276.51" stroke="#1a3cff" stroke-width="0.9"/>
<line x1="146.81" y1="287.85" x2="149.81" y2="287.85" stroke="#1a3cff" stroke-width="0.9"/>
<line x1="153" y1="277.46" x2="153" y2="288.8" stroke="#1a3cff" stroke-width="0.9"/>
<line x1="151.5" y1="277.46" x2="154.5" y2="277.46" stroke="#1a3cff" stroke-width="0.9"/>
<line x1="151.5" y1="288.8" x2="154.5" y2="288.8" stroke="#1a3cff" stroke-width="0.9"/>
<line x1="157.69" y1="271.6" x2="157.69" y2="286.72" stroke="#1a3cff" stroke-width="0.9"/>
<line x1="156.19" y1="271.6" x2="159.19" y2="271.6" stroke="#1a3cff" stroke-width="0.9"/>
<line x1="156.19" y1="286.72" x2="159.19" y2="286.72" stroke="#1a3cff" stroke-width="0.9"/>
<line x1="162.38" y1="265.55" x2="162.38" y2="280.67" stroke="#1a3cff" stroke-width="0.9"/>
<line x1="160.88" y1="265.55" x2="163.88" y2="265.55" stroke="#1a3cff" stroke-width="0.9"/>
<line x1="160.88" y1="280.67" x2="163.88" y2="280.67" stroke="#1a3cff" stroke-width="0.9"/>
<path d="M59.2 307.16 L60.76 310.02 L57.64 310.02Z" fill="#1a3cff"/>
<path d="M63.89 306.89 L65.45 309.75 L62.33 309.75Z" fill="#1a3cff"/>
<path d="M68.58 306.51 L70.14 309.38 L67.02 309.38Z" fill="#1a3cff"/>
<path d="M73.27 305.72 L74.83 308.58 L71.71 308.58Z" fill="#1a3cff"/>
<path d="M77.96 303.68 L79.52 306.54 L76.4 306.54Z" fill="#1a3cff"/>
<path d="M82.65 302.17 L84.21 305.03 L81.09 305.03Z" fill="#1a3cff"/>
<path d="M87.34 299.9 L88.9 302.76 L85.78 302.76Z" fill="#1a3cff"/>
<path d="M92.03 298.77 L93.59 301.63 L90.47 301.63Z" fill="#1a3cff"/>
<path d="M96.72 296.12 L98.28 298.98 L95.16 298.98Z" fill="#1a3cff"/>
<path d="M101.41 294.04 L102.97 296.9 L99.85 296.9Z" fill="#1a3cff"/>
<path d="M106.1 293.1 L107.66 295.96 L104.54 295.96Z" fill="#1a3cff"/>
<path d="M110.79 292.15 L112.35 295.01 L109.23 295.01Z" fill="#1a3cff"/>
<path d="M115.48 286.67 L117.04 289.53 L113.92 289.53Z" fill="#1a3cff"/>
<path d="M120.17 283.65 L121.73 286.51 L118.61 286.51Z" fill="#1a3cff"/>
<path d="M124.86 278.73 L126.42 281.59 L123.3 281.59Z" fill="#1a3cff"/>
<path d="M129.55 276.84 L131.11 279.7 L127.99 279.7Z" fill="#1a3cff"/>
<path d="M134.24 274.95 L135.8 277.81 L132.68 277.81Z" fill="#1a3cff"/>
<path d="M138.93 271.55 L140.49 274.41 L137.37 274.41Z" fill="#1a3cff"/>
<path d="M143.62 271.55 L145.18 274.41 L142.06 274.41Z" fill="#1a3cff"/>
<path d="M148.31 280.62 L149.87 283.48 L146.75 283.48Z" fill="#1a3cff"/>
<path d="M153 281.57 L154.56 284.43 L151.44 284.43Z" fill="#1a3cff"/>
<path d="M157.69 277.6 L159.25 280.46 L156.13 280.46Z" fill="#1a3cff"/>
<path d="M162.38 271.55 L163.94 274.41 L160.82 274.41Z" fill="#1a3cff"/>
<polyline points="59.2,308.72 63.89,308.57 68.58,308.34 73.27,307.28 77.96,305.01 82.65,304.18 87.34,301.99 92.03,300.51 96.72,297.42 101.41,295.41 106.1,294.39 110.79,293.41 115.48,287.21 120.17,284.19 124.86,279.01 129.55,277 134.24,284.79 138.93,283.09 143.62,277.99 148.31,275 153,267.82 157.69,268.8 162.38,262.3" fill="none" stroke="#000000" stroke-width="1.1"/>
<line x1="59.2" y1="308.34" x2="59.2" y2="309.1" stroke="#000000" stroke-width="0.9"/>
<line x1="57.7" y1="308.34" x2="60.7" y2="308.34" stroke="#000000" stroke-width="0.9"/>
<line x1="57.7" y1="309.1" x2="60.7" y2="309.1" stroke="#000000" stroke-width="0.9"/>
<line x1="63.89" y1="308.19" x2="63.89" y2="308.94" stroke="#000000" stroke-width="0.9"/>
<line x1="62.39" y1="308.19" x2="65.39" y2="308.19" stroke="#000000" stroke-width="0.9"/>
<line x1="62.39" y1="308.94" x2="65.39" y2="308.94" stroke="#000000" stroke-width="0.9"/>
<line x1="68.58" y1="307.96" x2="68.58" y2="308.72" stroke="#000000" stroke-width="0.9"/>
<line x1="67.08" y1="307.96" x2="70.08" y2="307.96" stroke="#000000" stroke-width="0.9"/>
<line x1="67.08" y1="308.72" x2="70.08" y2="308.72" stroke="#000000" stroke-width="0.9"/>
<line x1="73.27" y1="306.71" x2="73.27" y2="307.85" stroke="#000000" stroke-width="0.9"/>
<line x1="71.77" y1="306.71" x2="74.77" y2="306.71" stroke="#000000" stroke-width="0.9"/>
<line x1="71.77" y1="307.85" x2="74.77" y2="307.85" stroke="#000000" stroke-width="0.9"/>
<line x1="77.96" y1="304.26" x2="77.96" y2="305.77" stroke="#000000" stroke-width="0.9"/>
<line x1="76.46" y1="304.26" x2="79.46" y2="304.26" stroke="#000000" stroke-width="0.9"/>
<line x1="76.46" y1="305.77" x2="79.46" y2="305.77" stroke="#000000" stroke-width="0.9"/>
<line x1="82.65" y1="303.24" x2="82.65" y2="305.13" stroke="#000000" stroke-width="0.9"/>
<line x1="81.15" y1="303.24" x2="84.15" y2="303.24" stroke="#000000" stroke-width="0.9"/>
<line x1="81.15" y1="305.13" x2="84.15" y2="305.13" stroke="#000000" stroke-width="0.9"/>
<line x1="87.34" y1="300.86" x2="87.34" y2="303.12" stroke="#000000" stroke-width="0.9"/>
<line x1="85.84" y1="300.86" x2="88.84" y2="300.86" stroke="#000000" stroke-width="0.9"/>
<line x1="85.84" y1="303.12" x2="88.84" y2="303.12" stroke="#000000" stroke-width="0.9"/>
<line x1="92.03" y1="299" x2="92.03" y2="302.03" stroke="#000000" stroke-width="0.9"/>
<line x1="90.53" y1="299" x2="93.53" y2="299" stroke="#000000" stroke-width="0.9"/>
<line x1="90.53" y1="302.03" x2="93.53" y2="302.03" stroke="#000000" stroke-width="0.9"/>
<line x1="96.72" y1="295.53" x2="96.72" y2="299.31" stroke="#000000" stroke-width="0.9"/>
<line x1="95.22" y1="295.53" x2="98.22" y2="295.53" stroke="#000000" stroke-width="0.9"/>
<line x1="95.22" y1="299.31" x2="98.22" y2="299.31" stroke="#000000" stroke-width="0.9"/>
<line x1="101.41" y1="293.52" x2="101.41" y2="297.3" stroke="#000000" stroke-width="0.9"/>
<line x1="99.91" y1="293.52" x2="102.91" y2="293.52" stroke="#000000" stroke-width="0.9"/>
<line x1="99.91" y1="297.3" x2="102.91" y2="297.3" stroke="#000000" stroke-width="0.9"/>
<line x1="106.1" y1="292.5" x2="106.1" y2="296.28" stroke="#000000" stroke-width="0.9"/>
<line x1="104.6" y1="292.5" x2="107.6" y2="292.5" stroke="#000000" stroke-width="0.9"/>
<line x1="104.6" y1="296.28" x2="107.6" y2="296.28" stroke="#000000" stroke-width="0.9"/>
<line x1="110.79" y1="291.52" x2="110.79" y2="295.3" stroke="#000000" stroke-width="0.9"/>
<line x1="109.29" y1="291.52" x2="112.29" y2="291.52" stroke="#000000" stroke-width="0.9"/>
<line x1="109.29" y1="295.3" x2="112.29" y2="295.3" stroke="#000000" stroke-width="0.9"/>
<line x1="115.48" y1="284.19" x2="115.48" y2="290.23" stroke="#000000" stroke-width="0.9"/>
<line x1="113.98" y1="284.19" x2="116.98" y2="284.19" stroke="#000000" stroke-width="0.9"/>
<line x1="113.98" y1="290.23" x2="116.98" y2="290.23" stroke="#000000" stroke-width="0.9"/>
<line x1="120.17" y1="281.16" x2="120.17" y2="287.21" stroke="#000000" stroke-width="0.9"/>
<line x1="118.67" y1="281.16" x2="121.67" y2="281.16" stroke="#000000" stroke-width="0.9"/>
<line x1="118.67" y1="287.21" x2="121.67" y2="287.21" stroke="#000000" stroke-width="0.9"/>
<line x1="124.86" y1="273.34" x2="124.86" y2="284.68" stroke="#000000" stroke-width="0.9"/>
<line x1="123.36" y1="273.34" x2="126.36" y2="273.34" stroke="#000000" stroke-width="0.9"/>
<line x1="123.36" y1="284.68" x2="126.36" y2="284.68" stroke="#000000" stroke-width="0.9"/>
<line x1="129.55" y1="271.33" x2="129.55" y2="282.67" stroke="#000000" stroke-width="0.9"/>
<line x1="128.05" y1="271.33" x2="131.05" y2="271.33" stroke="#000000" stroke-width="0.9"/>
<line x1="128.05" y1="282.67" x2="131.05" y2="282.67" stroke="#000000" stroke-width="0.9"/>
<line x1="134.24" y1="281.77" x2="134.24" y2="287.81" stroke="#000000" stroke-width="0.9"/>
<line x1="132.74" y1="281.77" x2="135.74" y2="281.77" stroke="#000000" stroke-width="0.9"/>
<line x1="132.74" y1="287.81" x2="135.74" y2="287.81" stroke="#000000" stroke-width="0.9"/>
<line x1="138.93" y1="280.07" x2="138.93" y2="286.11" stroke="#000000" stroke-width="0.9"/>
<line x1="137.43" y1="280.07" x2="140.43" y2="280.07" stroke="#000000" stroke-width="0.9"/>
<line x1="137.43" y1="286.11" x2="140.43" y2="286.11" stroke="#000000" stroke-width="0.9"/>
<line x1="143.62" y1="274.96" x2="143.62" y2="281.01" stroke="#000000" stroke-width="0.9"/>
<line x1="142.12" y1="274.96" x2="145.12" y2="274.96" stroke="#000000" stroke-width="0.9"/>
<line x1="142.12" y1="281.01" x2="145.12" y2="281.01" stroke="#000000" stroke-width="0.9"/>
<line x1="148.31" y1="271.22" x2="148.31" y2="278.78" stroke="#000000" stroke-width="0.9"/>
<line x1="146.81" y1="271.22" x2="149.81" y2="271.22" stroke="#000000" stroke-width="0.9"/>
<line x1="146.81" y1="278.78" x2="149.81" y2="278.78" stroke="#000000" stroke-width="0.9"/>
<line x1="153" y1="264.04" x2="153" y2="271.6" stroke="#000000" stroke-width="0.9"/>
<line x1="151.5" y1="264.04" x2="154.5" y2="264.04" stroke="#000000" stroke-width="0.9"/>
<line x1="151.5" y1="271.6" x2="154.5" y2="271.6" stroke="#000000" stroke-width="0.9"/>
<line x1="157.69" y1="265.02" x2="157.69" y2="272.58" stroke="#000000" stroke-width="0.9"/>
<line x1="156.19" y1="265.02" x2="159.19" y2="265.02" stroke="#000000" stroke-width="0.9"/>
<line x1="156.19" y1="272.58" x2="159.19" y2="272.58" stroke="#000000" stroke-width="0.9"/>
<line x1="162.38" y1="254.74" x2="162.38" y2="269.86" stroke="#000000" stroke-width="0.9"/>
<line x1="160.88" y1="254.74" x2="163.88" y2="254.74" stroke="#000000" stroke-width="0.9"/>
<line x1="160.88" y1="269.86" x2="163.88" y2="269.86" stroke="#000000" stroke-width="0.9"/>
<circle cx="59.2" cy="308.72" r="1.5" fill="#000000"/>
<circle cx="63.89" cy="308.57" r="1.5" fill="#000000"/>
<circle cx="68.58" cy="308.34" r="1.5" fill="#000000"/>
<circle cx="73.27" cy="307.28" r="1.5" fill="#000000"/>
<circle cx="77.96" cy="305.01" r="1.5" fill="#000000"/>
<circle cx="82.65" cy="304.18" r="1.5" fill="#000000"/>
<circle cx="87.34" cy="301.99" r="1.5" fill="#000000"/>
<circle cx="92.03" cy="300.51" r="1.5" fill="#000000"/>
<circle cx="96.72" cy="297.42" r="1.5" fill="#000000"/>
<circle cx="101.41" cy="295.41" r="1.5" fill="#000000"/>
<circle cx="106.1" cy="294.39" r="1.5" fill="#000000"/>
<circle cx="110.79" cy="293.41" r="1.5" fill="#000000"/>
<circle cx="115.48" cy="287.21" r="1.5" fill="#000000"/>
<circle cx="120.17" cy="284.19" r="1.5" fill="#000000"/>
<circle cx="124.86" cy="279.01" r="1.5" fill="#000000"/>
<circle cx="129.55" cy="277" r="1.5" fill="#000000"/>
<circle cx="134.24" cy="284.79" r="1.5" fill="#000000"/>
<circle cx="138.93" cy="283.09" r="1.5" fill="#000000"/>
<circle cx="143.62" cy="277.99" r="1.5" fill="#000000"/>
<circle cx="148.31" cy="275" r="1.5" fill="#000000"/>
<circle cx="153" cy="267.82" r="1.5" fill="#000000"/>
<circle cx="157.69" cy="268.8" r="1.5" fill="#000000"/>
<circle cx="162.38" cy="262.3" r="1.5" fill="#000000"/>
<text x="151.2" y="293" font-size="6.3" fill="#0c9a3c" textLength="23" lengthAdjust="spacingAndGlyphs">P=0.0002</text>
<text x="151.2" y="297.8" font-size="6.3" fill="#ff9500" textLength="23" lengthAdjust="spacingAndGlyphs">P&lt;0.0001</text>
<polyline points="168.6,299.5 171.6,299.5 171.6,308.3 168.6,308.3" fill="none" stroke="#000" stroke-width="1.1"/>
<text x="173.6" y="306.4" font-size="7">ns</text>
<line x1="59.9" y1="352.9" x2="59.9" y2="429.8" stroke="#888" stroke-width="1.6"/>
<line x1="56.9" y1="429.3" x2="59.9" y2="429.3" stroke="#222" stroke-width="1"/>
<text x="55.4" y="432.25" font-size="8.2" text-anchor="end">0</text>
<line x1="56.9" y1="404" x2="59.9" y2="404" stroke="#222" stroke-width="1"/>
<text x="55.4" y="406.95" font-size="8.2" text-anchor="end">500</text>
<line x1="56.9" y1="378.7" x2="59.9" y2="378.7" stroke="#222" stroke-width="1"/>
<text x="55.4" y="381.65" font-size="8.2" text-anchor="end">1000</text>
<line x1="56.9" y1="353.4" x2="59.9" y2="353.4" stroke="#222" stroke-width="1"/>
<text x="55.4" y="356.35" font-size="8.2" text-anchor="end">1500</text>
<line x1="59.9" y1="429.3" x2="166.4" y2="429.3" stroke="#222" stroke-width="1.1"/>
<line x1="67.6" y1="429.3" x2="67.6" y2="432.3" stroke="#222" stroke-width="1"/>
<text x="69.1" y="438.5" font-size="6.4" text-anchor="end" transform="rotate(-45 69.1 438.5)">1</text>
<line x1="80.93" y1="429.3" x2="80.93" y2="432.3" stroke="#222" stroke-width="1"/>
<text x="82.43" y="438.5" font-size="6.4" text-anchor="end" transform="rotate(-45 82.43 438.5)">3</text>
<line x1="94.26" y1="429.3" x2="94.26" y2="432.3" stroke="#222" stroke-width="1"/>
<text x="95.76" y="438.5" font-size="6.4" text-anchor="end" transform="rotate(-45 95.76 438.5)">5</text>
<line x1="107.59" y1="429.3" x2="107.59" y2="432.3" stroke="#222" stroke-width="1"/>
<text x="109.09" y="438.5" font-size="6.4" text-anchor="end" transform="rotate(-45 109.09 438.5)">7</text>
<line x1="120.92" y1="429.3" x2="120.92" y2="432.3" stroke="#222" stroke-width="1"/>
<text x="122.42" y="438.5" font-size="6.4" text-anchor="end" transform="rotate(-45 122.42 438.5)">9</text>
<line x1="134.25" y1="429.3" x2="134.25" y2="432.3" stroke="#222" stroke-width="1"/>
<text x="135.75" y="438.5" font-size="6.4" text-anchor="end" transform="rotate(-45 135.75 438.5)">11</text>
<line x1="147.58" y1="429.3" x2="147.58" y2="432.3" stroke="#222" stroke-width="1"/>
<text x="149.08" y="438.5" font-size="6.4" text-anchor="end" transform="rotate(-45 149.08 438.5)">13</text>
<line x1="160.91" y1="429.3" x2="160.91" y2="432.3" stroke="#222" stroke-width="1"/>
<text x="162.41" y="438.5" font-size="6.4" text-anchor="end" transform="rotate(-45 162.41 438.5)">15</text>
<text x="114.7" y="357.7" font-size="8.7" text-anchor="middle" font-weight="bold">T1p (LMW-E, p53+/-)</text>
<text x="113.9" y="453.2" font-size="8.2" text-anchor="middle">Days on Treatment</text>
<text x="34.2" y="389.5" font-size="8.45" text-anchor="middle" transform="rotate(-90 34.2 389.5)">Tumor Volume (mm<tspan dy="-3.2" font-size="5.8">3</tspan><tspan dy="3.2">)</tspan></text>
<polyline points="67.6,428.29 80.93,426.77 94.26,425.76 107.59,424.75 120.92,423.73 134.25,423.23 147.58,421.2 160.91,420.19" fill="none" stroke="#ff9500" stroke-width="1.4"/>
<line x1="67.6" y1="428.04" x2="67.6" y2="428.54" stroke="#ff9500" stroke-width="0.9"/>
<line x1="66.1" y1="428.04" x2="69.1" y2="428.04" stroke="#ff9500" stroke-width="0.9"/>
<line x1="66.1" y1="428.54" x2="69.1" y2="428.54" stroke="#ff9500" stroke-width="0.9"/>
<line x1="80.93" y1="426.52" x2="80.93" y2="427.02" stroke="#ff9500" stroke-width="0.9"/>
<line x1="79.43" y1="426.52" x2="82.43" y2="426.52" stroke="#ff9500" stroke-width="0.9"/>
<line x1="79.43" y1="427.02" x2="82.43" y2="427.02" stroke="#ff9500" stroke-width="0.9"/>
<line x1="94.26" y1="425.35" x2="94.26" y2="426.16" stroke="#ff9500" stroke-width="0.9"/>
<line x1="92.76" y1="425.35" x2="95.76" y2="425.35" stroke="#ff9500" stroke-width="0.9"/>
<line x1="92.76" y1="426.16" x2="95.76" y2="426.16" stroke="#ff9500" stroke-width="0.9"/>
<line x1="107.59" y1="424.24" x2="107.59" y2="425.25" stroke="#ff9500" stroke-width="0.9"/>
<line x1="106.09" y1="424.24" x2="109.09" y2="424.24" stroke="#ff9500" stroke-width="0.9"/>
<line x1="106.09" y1="425.25" x2="109.09" y2="425.25" stroke="#ff9500" stroke-width="0.9"/>
<line x1="120.92" y1="423.23" x2="120.92" y2="424.24" stroke="#ff9500" stroke-width="0.9"/>
<line x1="119.42" y1="423.23" x2="122.42" y2="423.23" stroke="#ff9500" stroke-width="0.9"/>
<line x1="119.42" y1="424.24" x2="122.42" y2="424.24" stroke="#ff9500" stroke-width="0.9"/>
<line x1="134.25" y1="422.47" x2="134.25" y2="423.99" stroke="#ff9500" stroke-width="0.9"/>
<line x1="132.75" y1="422.47" x2="135.75" y2="422.47" stroke="#ff9500" stroke-width="0.9"/>
<line x1="132.75" y1="423.99" x2="135.75" y2="423.99" stroke="#ff9500" stroke-width="0.9"/>
<line x1="147.58" y1="420.19" x2="147.58" y2="422.22" stroke="#ff9500" stroke-width="0.9"/>
<line x1="146.08" y1="420.19" x2="149.08" y2="420.19" stroke="#ff9500" stroke-width="0.9"/>
<line x1="146.08" y1="422.22" x2="149.08" y2="422.22" stroke="#ff9500" stroke-width="0.9"/>
<line x1="160.91" y1="418.67" x2="160.91" y2="421.71" stroke="#ff9500" stroke-width="0.9"/>
<line x1="159.41" y1="418.67" x2="162.41" y2="418.67" stroke="#ff9500" stroke-width="0.9"/>
<line x1="159.41" y1="421.71" x2="162.41" y2="421.71" stroke="#ff9500" stroke-width="0.9"/>
<path d="M67.6 426.21 L69.68 428.29 L67.6 430.37 L65.52 428.29Z" fill="#ff9500"/>
<path d="M80.93 424.69 L83.01 426.77 L80.93 428.85 L78.85 426.77Z" fill="#ff9500"/>
<path d="M94.26 423.68 L96.34 425.76 L94.26 427.84 L92.18 425.76Z" fill="#ff9500"/>
<path d="M107.59 422.67 L109.67 424.75 L107.59 426.83 L105.51 424.75Z" fill="#ff9500"/>
<path d="M120.92 421.65 L123 423.73 L120.92 425.81 L118.84 423.73Z" fill="#ff9500"/>
<path d="M134.25 421.15 L136.33 423.23 L134.25 425.31 L132.17 423.23Z" fill="#ff9500"/>
<path d="M147.58 419.12 L149.66 421.2 L147.58 423.28 L145.5 421.2Z" fill="#ff9500"/>
<path d="M160.91 418.11 L162.99 420.19 L160.91 422.27 L158.83 420.19Z" fill="#ff9500"/>
<polyline points="67.6,428.29 80.93,426.77 94.26,426.26 107.59,426.26 120.92,424.24 134.25,422.72 147.58,419.69 160.91,415.64" fill="none" stroke="#0c9a3c" stroke-width="1.4"/>
<line x1="67.6" y1="428.04" x2="67.6" y2="428.54" stroke="#0c9a3c" stroke-width="0.9"/>
<line x1="66.1" y1="428.04" x2="69.1" y2="428.04" stroke="#0c9a3c" stroke-width="0.9"/>
<line x1="66.1" y1="428.54" x2="69.1" y2="428.54" stroke="#0c9a3c" stroke-width="0.9"/>
<line x1="80.93" y1="426.52" x2="80.93" y2="427.02" stroke="#0c9a3c" stroke-width="0.9"/>
<line x1="79.43" y1="426.52" x2="82.43" y2="426.52" stroke="#0c9a3c" stroke-width="0.9"/>
<line x1="79.43" y1="427.02" x2="82.43" y2="427.02" stroke="#0c9a3c" stroke-width="0.9"/>
<line x1="94.26" y1="425.86" x2="94.26" y2="426.67" stroke="#0c9a3c" stroke-width="0.9"/>
<line x1="92.76" y1="425.86" x2="95.76" y2="425.86" stroke="#0c9a3c" stroke-width="0.9"/>
<line x1="92.76" y1="426.67" x2="95.76" y2="426.67" stroke="#0c9a3c" stroke-width="0.9"/>
<line x1="107.59" y1="425.76" x2="107.59" y2="426.77" stroke="#0c9a3c" stroke-width="0.9"/>
<line x1="106.09" y1="425.76" x2="109.09" y2="425.76" stroke="#0c9a3c" stroke-width="0.9"/>
<line x1="106.09" y1="426.77" x2="109.09" y2="426.77" stroke="#0c9a3c" stroke-width="0.9"/>
<line x1="120.92" y1="423.73" x2="120.92" y2="424.75" stroke="#0c9a3c" stroke-width="0.9"/>
<line x1="119.42" y1="423.73" x2="122.42" y2="423.73" stroke="#0c9a3c" stroke-width="0.9"/>
<line x1="119.42" y1="424.75" x2="122.42" y2="424.75" stroke="#0c9a3c" stroke-width="0.9"/>
<line x1="134.25" y1="421.96" x2="134.25" y2="423.48" stroke="#0c9a3c" stroke-width="0.9"/>
<line x1="132.75" y1="421.96" x2="135.75" y2="421.96" stroke="#0c9a3c" stroke-width="0.9"/>
<line x1="132.75" y1="423.48" x2="135.75" y2="423.48" stroke="#0c9a3c" stroke-width="0.9"/>
<line x1="147.58" y1="418.67" x2="147.58" y2="420.7" stroke="#0c9a3c" stroke-width="0.9"/>
<line x1="146.08" y1="418.67" x2="149.08" y2="418.67" stroke="#0c9a3c" stroke-width="0.9"/>
<line x1="146.08" y1="420.7" x2="149.08" y2="420.7" stroke="#0c9a3c" stroke-width="0.9"/>
<line x1="160.91" y1="413.61" x2="160.91" y2="417.66" stroke="#0c9a3c" stroke-width="0.9"/>
<line x1="159.41" y1="413.61" x2="162.41" y2="413.61" stroke="#0c9a3c" stroke-width="0.9"/>
<line x1="159.41" y1="417.66" x2="162.41" y2="417.66" stroke="#0c9a3c" stroke-width="0.9"/>
<path d="M67.6 430.21 L69.52 426.69 L65.68 426.69Z" fill="#0c9a3c"/>
<path d="M80.93 428.69 L82.85 425.17 L79.01 425.17Z" fill="#0c9a3c"/>
<path d="M94.26 428.18 L96.18 424.66 L92.34 424.66Z" fill="#0c9a3c"/>
<path d="M107.59 428.18 L109.51 424.66 L105.67 424.66Z" fill="#0c9a3c"/>
<path d="M120.92 426.16 L122.84 422.64 L119 422.64Z" fill="#0c9a3c"/>
<path d="M134.25 424.64 L136.17 421.12 L132.33 421.12Z" fill="#0c9a3c"/>
<path d="M147.58 421.61 L149.5 418.09 L145.66 418.09Z" fill="#0c9a3c"/>
<path d="M160.91 417.56 L162.83 414.04 L158.99 414.04Z" fill="#0c9a3c"/>
<polyline points="67.6,428.29 80.93,425.25 94.26,424.24 107.59,420.7 120.92,418.67 134.25,414.12 147.58,412.1 160.91,402.99" fill="none" stroke="#1a3cff" stroke-width="1.4"/>
<line x1="67.6" y1="428.04" x2="67.6" y2="428.54" stroke="#1a3cff" stroke-width="0.9"/>
<line x1="66.1" y1="428.04" x2="69.1" y2="428.04" stroke="#1a3cff" stroke-width="0.9"/>
<line x1="66.1" y1="428.54" x2="69.1" y2="428.54" stroke="#1a3cff" stroke-width="0.9"/>
<line x1="80.93" y1="424.75" x2="80.93" y2="425.76" stroke="#1a3cff" stroke-width="0.9"/>
<line x1="79.43" y1="424.75" x2="82.43" y2="424.75" stroke="#1a3cff" stroke-width="0.9"/>
<line x1="79.43" y1="425.76" x2="82.43" y2="425.76" stroke="#1a3cff" stroke-width="0.9"/>
<line x1="94.26" y1="423.48" x2="94.26" y2="425" stroke="#1a3cff" stroke-width="0.9"/>
<line x1="92.76" y1="423.48" x2="95.76" y2="423.48" stroke="#1a3cff" stroke-width="0.9"/>
<line x1="92.76" y1="425" x2="95.76" y2="425" stroke="#1a3cff" stroke-width="0.9"/>
<line x1="107.59" y1="418.67" x2="107.59" y2="422.72" stroke="#1a3cff" stroke-width="0.9"/>
<line x1="106.09" y1="418.67" x2="109.09" y2="418.67" stroke="#1a3cff" stroke-width="0.9"/>
<line x1="106.09" y1="422.72" x2="109.09" y2="422.72" stroke="#1a3cff" stroke-width="0.9"/>
<line x1="120.92" y1="416.9" x2="120.92" y2="420.44" stroke="#1a3cff" stroke-width="0.9"/>
<line x1="119.42" y1="416.9" x2="122.42" y2="416.9" stroke="#1a3cff" stroke-width="0.9"/>
<line x1="119.42" y1="420.44" x2="122.42" y2="420.44" stroke="#1a3cff" stroke-width="0.9"/>
<line x1="134.25" y1="412.35" x2="134.25" y2="415.89" stroke="#1a3cff" stroke-width="0.9"/>
<line x1="132.75" y1="412.35" x2="135.75" y2="412.35" stroke="#1a3cff" stroke-width="0.9"/>
<line x1="132.75" y1="415.89" x2="135.75" y2="415.89" stroke="#1a3cff" stroke-width="0.9"/>
<line x1="147.58" y1="409.82" x2="147.58" y2="414.37" stroke="#1a3cff" stroke-width="0.9"/>
<line x1="146.08" y1="409.82" x2="149.08" y2="409.82" stroke="#1a3cff" stroke-width="0.9"/>
<line x1="146.08" y1="414.37" x2="149.08" y2="414.37" stroke="#1a3cff" stroke-width="0.9"/>
<line x1="160.91" y1="400.46" x2="160.91" y2="405.52" stroke="#1a3cff" stroke-width="0.9"/>
<line x1="159.41" y1="400.46" x2="162.41" y2="400.46" stroke="#1a3cff" stroke-width="0.9"/>
<line x1="159.41" y1="405.52" x2="162.41" y2="405.52" stroke="#1a3cff" stroke-width="0.9"/>
<path d="M67.6 426.37 L69.52 429.89 L65.68 429.89Z" fill="#1a3cff"/>
<path d="M80.93 423.33 L82.85 426.85 L79.01 426.85Z" fill="#1a3cff"/>
<path d="M94.26 422.32 L96.18 425.84 L92.34 425.84Z" fill="#1a3cff"/>
<path d="M107.59 418.78 L109.51 422.3 L105.67 422.3Z" fill="#1a3cff"/>
<path d="M120.92 416.75 L122.84 420.27 L119 420.27Z" fill="#1a3cff"/>
<path d="M134.25 412.2 L136.17 415.72 L132.33 415.72Z" fill="#1a3cff"/>
<path d="M147.58 410.18 L149.5 413.7 L145.66 413.7Z" fill="#1a3cff"/>
<path d="M160.91 401.07 L162.83 404.59 L158.99 404.59Z" fill="#1a3cff"/>
<polyline points="67.6,427.78 80.93,424.24 94.26,421.71 107.59,414.12 120.92,411.59 134.25,405.52 147.58,397.42 160.91,384.77" fill="none" stroke="#ff2a00" stroke-width="1.4"/>
<line x1="67.6" y1="427.53" x2="67.6" y2="428.04" stroke="#ff2a00" stroke-width="0.9"/>
<line x1="66.1" y1="427.53" x2="69.1" y2="427.53" stroke="#ff2a00" stroke-width="0.9"/>
<line x1="66.1" y1="428.04" x2="69.1" y2="428.04" stroke="#ff2a00" stroke-width="0.9"/>
<line x1="80.93" y1="423.73" x2="80.93" y2="424.75" stroke="#ff2a00" stroke-width="0.9"/>
<line x1="79.43" y1="423.73" x2="82.43" y2="423.73" stroke="#ff2a00" stroke-width="0.9"/>
<line x1="79.43" y1="424.75" x2="82.43" y2="424.75" stroke="#ff2a00" stroke-width="0.9"/>
<line x1="94.26" y1="420.95" x2="94.26" y2="422.47" stroke="#ff2a00" stroke-width="0.9"/>
<line x1="92.76" y1="420.95" x2="95.76" y2="420.95" stroke="#ff2a00" stroke-width="0.9"/>
<line x1="92.76" y1="422.47" x2="95.76" y2="422.47" stroke="#ff2a00" stroke-width="0.9"/>
<line x1="107.59" y1="413.11" x2="107.59" y2="415.13" stroke="#ff2a00" stroke-width="0.9"/>
<line x1="106.09" y1="413.11" x2="109.09" y2="413.11" stroke="#ff2a00" stroke-width="0.9"/>
<line x1="106.09" y1="415.13" x2="109.09" y2="415.13" stroke="#ff2a00" stroke-width="0.9"/>
<line x1="120.92" y1="410.58" x2="120.92" y2="412.6" stroke="#ff2a00" stroke-width="0.9"/>
<line x1="119.42" y1="410.58" x2="122.42" y2="410.58" stroke="#ff2a00" stroke-width="0.9"/>
<line x1="119.42" y1="412.6" x2="122.42" y2="412.6" stroke="#ff2a00" stroke-width="0.9"/>
<line x1="134.25" y1="404" x2="134.25" y2="407.04" stroke="#ff2a00" stroke-width="0.9"/>
<line x1="132.75" y1="404" x2="135.75" y2="404" stroke="#ff2a00" stroke-width="0.9"/>
<line x1="132.75" y1="407.04" x2="135.75" y2="407.04" stroke="#ff2a00" stroke-width="0.9"/>
<line x1="147.58" y1="396.41" x2="147.58" y2="398.43" stroke="#ff2a00" stroke-width="0.9"/>
<line x1="146.08" y1="396.41" x2="149.08" y2="396.41" stroke="#ff2a00" stroke-width="0.9"/>
<line x1="146.08" y1="398.43" x2="149.08" y2="398.43" stroke="#ff2a00" stroke-width="0.9"/>
<line x1="160.91" y1="383.25" x2="160.91" y2="386.29" stroke="#ff2a00" stroke-width="0.9"/>
<line x1="159.41" y1="383.25" x2="162.41" y2="383.25" stroke="#ff2a00" stroke-width="0.9"/>
<line x1="159.41" y1="386.29" x2="162.41" y2="386.29" stroke="#ff2a00" stroke-width="0.9"/>
<rect x="66" y="426.18" width="3.2" height="3.2" fill="#ff2a00" stroke="none" stroke-width="1"/>
<rect x="79.33" y="422.64" width="3.2" height="3.2" fill="#ff2a00" stroke="none" stroke-width="1"/>
<rect x="92.66" y="420.11" width="3.2" height="3.2" fill="#ff2a00" stroke="none" stroke-width="1"/>
<rect x="105.99" y="412.52" width="3.2" height="3.2" fill="#ff2a00" stroke="none" stroke-width="1"/>
<rect x="119.32" y="409.99" width="3.2" height="3.2" fill="#ff2a00" stroke="none" stroke-width="1"/>
<rect x="132.65" y="403.92" width="3.2" height="3.2" fill="#ff2a00" stroke="none" stroke-width="1"/>
<rect x="145.98" y="395.82" width="3.2" height="3.2" fill="#ff2a00" stroke="none" stroke-width="1"/>
<rect x="159.31" y="383.17" width="3.2" height="3.2" fill="#ff2a00" stroke="none" stroke-width="1"/>
<polyline points="67.6,427.78 80.93,423.23 94.26,420.19 107.59,410.07 120.92,404 134.25,394.89 147.58,388.82 160.91,362.51" fill="none" stroke="#000000" stroke-width="1.4"/>
<line x1="67.6" y1="427.53" x2="67.6" y2="428.04" stroke="#000000" stroke-width="0.9"/>
<line x1="66.1" y1="427.53" x2="69.1" y2="427.53" stroke="#000000" stroke-width="0.9"/>
<line x1="66.1" y1="428.04" x2="69.1" y2="428.04" stroke="#000000" stroke-width="0.9"/>
<line x1="80.93" y1="422.47" x2="80.93" y2="423.99" stroke="#000000" stroke-width="0.9"/>
<line x1="79.43" y1="422.47" x2="82.43" y2="422.47" stroke="#000000" stroke-width="0.9"/>
<line x1="79.43" y1="423.99" x2="82.43" y2="423.99" stroke="#000000" stroke-width="0.9"/>
<line x1="94.26" y1="419.18" x2="94.26" y2="421.2" stroke="#000000" stroke-width="0.9"/>
<line x1="92.76" y1="419.18" x2="95.76" y2="419.18" stroke="#000000" stroke-width="0.9"/>
<line x1="92.76" y1="421.2" x2="95.76" y2="421.2" stroke="#000000" stroke-width="0.9"/>
<line x1="107.59" y1="408.05" x2="107.59" y2="412.1" stroke="#000000" stroke-width="0.9"/>
<line x1="106.09" y1="408.05" x2="109.09" y2="408.05" stroke="#000000" stroke-width="0.9"/>
<line x1="106.09" y1="412.1" x2="109.09" y2="412.1" stroke="#000000" stroke-width="0.9"/>
<line x1="120.92" y1="402.48" x2="120.92" y2="405.52" stroke="#000000" stroke-width="0.9"/>
<line x1="119.42" y1="402.48" x2="122.42" y2="402.48" stroke="#000000" stroke-width="0.9"/>
<line x1="119.42" y1="405.52" x2="122.42" y2="405.52" stroke="#000000" stroke-width="0.9"/>
<line x1="134.25" y1="392.36" x2="134.25" y2="397.42" stroke="#000000" stroke-width="0.9"/>
<line x1="132.75" y1="392.36" x2="135.75" y2="392.36" stroke="#000000" stroke-width="0.9"/>
<line x1="132.75" y1="397.42" x2="135.75" y2="397.42" stroke="#000000" stroke-width="0.9"/>
<line x1="147.58" y1="385.78" x2="147.58" y2="391.86" stroke="#000000" stroke-width="0.9"/>
<line x1="146.08" y1="385.78" x2="149.08" y2="385.78" stroke="#000000" stroke-width="0.9"/>
<line x1="146.08" y1="391.86" x2="149.08" y2="391.86" stroke="#000000" stroke-width="0.9"/>
<line x1="160.91" y1="357.45" x2="160.91" y2="367.57" stroke="#000000" stroke-width="0.9"/>
<line x1="159.41" y1="357.45" x2="162.41" y2="357.45" stroke="#000000" stroke-width="0.9"/>
<line x1="159.41" y1="367.57" x2="162.41" y2="367.57" stroke="#000000" stroke-width="0.9"/>
<circle cx="67.6" cy="427.78" r="1.6" fill="#000000"/>
<circle cx="80.93" cy="423.23" r="1.6" fill="#000000"/>
<circle cx="94.26" cy="420.19" r="1.6" fill="#000000"/>
<circle cx="107.59" cy="410.07" r="1.6" fill="#000000"/>
<circle cx="120.92" cy="404" r="1.6" fill="#000000"/>
<circle cx="134.25" cy="394.89" r="1.6" fill="#000000"/>
<circle cx="147.58" cy="388.82" r="1.6" fill="#000000"/>
<circle cx="160.91" cy="362.51" r="1.6" fill="#000000"/>
<text x="165" y="397" font-size="6.6" fill="#1a3cff" textLength="24" lengthAdjust="spacingAndGlyphs">P=0.0002</text>
<text x="165" y="408" font-size="6.6" fill="#0c9a3c" textLength="24" lengthAdjust="spacingAndGlyphs">P&lt;0.0001</text>
<text x="165" y="414" font-size="6.6" fill="#ff9500" textLength="24" lengthAdjust="spacingAndGlyphs">P&lt;0.0001</text>
<polyline points="167,415.6 171,415.6 171,424.2 167,424.2" fill="none" stroke="#000" stroke-width="1.2"/>
<text x="173.2" y="422.6" font-size="7">ns</text>
<line x1="246.1" y1="16.3" x2="246.1" y2="92.8" stroke="#777" stroke-width="1.6"/>
<line x1="243.4" y1="88" x2="246.4" y2="88" stroke="#444" stroke-width="1"/>
<text x="241.9" y="91" font-size="8.4" text-anchor="end">0</text>
<line x1="243.4" y1="64.27" x2="246.4" y2="64.27" stroke="#444" stroke-width="1"/>
<text x="241.9" y="67.27" font-size="8.4" text-anchor="end">500</text>
<line x1="243.4" y1="40.53" x2="246.4" y2="40.53" stroke="#444" stroke-width="1"/>
<text x="241.9" y="43.53" font-size="8.4" text-anchor="end">1000</text>
<line x1="243.4" y1="16.8" x2="246.4" y2="16.8" stroke="#444" stroke-width="1"/>
<text x="241.9" y="19.8" font-size="8.4" text-anchor="end">1500</text>
<rect x="247.15" y="31.04" width="2.7" height="56.96" rx="1.1" fill="#000000"/>
<rect x="251.3" y="38.63" width="2.7" height="49.37" rx="1.1" fill="#000000"/>
<rect x="255.45" y="49.08" width="2.7" height="38.92" rx="1.1" fill="#000000"/>
<rect x="259.6" y="53.35" width="2.7" height="34.65" rx="1.1" fill="#000000"/>
<rect x="263.75" y="55.72" width="2.7" height="32.28" rx="1.1" fill="#000000"/>
<rect x="270.2" y="47.65" width="2.7" height="40.35" rx="1.1" fill="#ff2a00"/>
<rect x="274.35" y="47.89" width="2.7" height="40.11" rx="1.1" fill="#ff2a00"/>
<rect x="278.5" y="53.35" width="2.7" height="34.65" rx="1.1" fill="#ff2a00"/>
<rect x="293.25" y="51.93" width="2.7" height="36.07" rx="1.1" fill="#1a3cff"/>
<rect x="297.4" y="53.82" width="2.7" height="34.18" rx="1.1" fill="#1a3cff"/>
<rect x="301.55" y="56.2" width="2.7" height="31.8" rx="1.1" fill="#1a3cff"/>
<rect x="305.7" y="58.57" width="2.7" height="29.43" rx="1.1" fill="#1a3cff"/>
<rect x="309.85" y="61.89" width="2.7" height="26.11" rx="1.1" fill="#1a3cff"/>
<rect x="316.3" y="52.87" width="2.7" height="35.13" rx="1.1" fill="#0a8f0a"/>
<rect x="320.45" y="53.82" width="2.7" height="34.18" rx="1.1" fill="#0a8f0a"/>
<rect x="324.6" y="57.62" width="2.7" height="30.38" rx="1.1" fill="#0a8f0a"/>
<rect x="328.75" y="60.94" width="2.7" height="27.06" rx="1.1" fill="#0a8f0a"/>
<rect x="332.9" y="61.66" width="2.7" height="26.34" rx="1.1" fill="#0a8f0a"/>
<rect x="339.35" y="78.51" width="2.7" height="9.49" rx="1.1" fill="#ff9500"/>
<rect x="343.5" y="78.74" width="2.7" height="9.26" rx="1.1" fill="#ff9500"/>
<rect x="347.65" y="80.41" width="2.7" height="7.59" rx="1.1" fill="#ff9500"/>
<rect x="351.8" y="88" width="2.7" height="2.85" rx="1.1" fill="#ff9500"/>
<rect x="355.95" y="88" width="2.7" height="2.85" rx="1.1" fill="#ff9500"/>
<line x1="246.4" y1="88" x2="361" y2="88" stroke="#333" stroke-width="1.2"/>
<line x1="246.4" y1="92.3" x2="361" y2="92.3" stroke="#333" stroke-width="1.0"/>
<line x1="248.5" y1="92.3" x2="248.5" y2="95.8" stroke="#333" stroke-width="0.9"/>
<text x="248.5" y="103" font-size="6.8" text-anchor="middle">1</text>
<line x1="252.65" y1="92.3" x2="252.65" y2="95.8" stroke="#333" stroke-width="0.9"/>
<text x="252.65" y="103" font-size="6.8" text-anchor="middle">2</text>
<line x1="256.8" y1="92.3" x2="256.8" y2="95.8" stroke="#333" stroke-width="0.9"/>
<text x="256.8" y="103" font-size="6.8" text-anchor="middle">3</text>
<line x1="260.95" y1="92.3" x2="260.95" y2="95.8" stroke="#333" stroke-width="0.9"/>
<text x="260.95" y="103" font-size="6.8" text-anchor="middle">4</text>
<line x1="265.1" y1="92.3" x2="265.1" y2="95.8" stroke="#333" stroke-width="0.9"/>
<text x="265.1" y="103" font-size="6.8" text-anchor="middle">5</text>
<line x1="271.55" y1="92.3" x2="271.55" y2="95.8" stroke="#333" stroke-width="0.9"/>
<text x="271.55" y="103" font-size="6.8" text-anchor="middle">1</text>
<line x1="275.7" y1="92.3" x2="275.7" y2="95.8" stroke="#333" stroke-width="0.9"/>
<text x="275.7" y="103" font-size="6.8" text-anchor="middle">2</text>
<line x1="279.85" y1="92.3" x2="279.85" y2="95.8" stroke="#333" stroke-width="0.9"/>
<text x="279.85" y="103" font-size="6.8" text-anchor="middle">3</text>
<line x1="284" y1="92.3" x2="284" y2="95.8" stroke="#333" stroke-width="0.9"/>
<text x="284" y="103" font-size="6.8" text-anchor="middle">4</text>
<line x1="288.15" y1="92.3" x2="288.15" y2="95.8" stroke="#333" stroke-width="0.9"/>
<text x="288.15" y="103" font-size="6.8" text-anchor="middle">5</text>
<line x1="294.6" y1="92.3" x2="294.6" y2="95.8" stroke="#333" stroke-width="0.9"/>
<text x="294.6" y="103" font-size="6.8" text-anchor="middle">1</text>
<line x1="298.75" y1="92.3" x2="298.75" y2="95.8" stroke="#333" stroke-width="0.9"/>
<text x="298.75" y="103" font-size="6.8" text-anchor="middle">2</text>
<line x1="302.9" y1="92.3" x2="302.9" y2="95.8" stroke="#333" stroke-width="0.9"/>
<text x="302.9" y="103" font-size="6.8" text-anchor="middle">3</text>
<line x1="307.05" y1="92.3" x2="307.05" y2="95.8" stroke="#333" stroke-width="0.9"/>
<text x="307.05" y="103" font-size="6.8" text-anchor="middle">4</text>
<line x1="311.2" y1="92.3" x2="311.2" y2="95.8" stroke="#333" stroke-width="0.9"/>
<text x="311.2" y="103" font-size="6.8" text-anchor="middle">5</text>
<line x1="317.65" y1="92.3" x2="317.65" y2="95.8" stroke="#333" stroke-width="0.9"/>
<text x="317.65" y="103" font-size="6.8" text-anchor="middle">1</text>
<line x1="321.8" y1="92.3" x2="321.8" y2="95.8" stroke="#333" stroke-width="0.9"/>
<text x="321.8" y="103" font-size="6.8" text-anchor="middle">2</text>
<line x1="325.95" y1="92.3" x2="325.95" y2="95.8" stroke="#333" stroke-width="0.9"/>
<text x="325.95" y="103" font-size="6.8" text-anchor="middle">3</text>
<line x1="330.1" y1="92.3" x2="330.1" y2="95.8" stroke="#333" stroke-width="0.9"/>
<text x="330.1" y="103" font-size="6.8" text-anchor="middle">4</text>
<line x1="334.25" y1="92.3" x2="334.25" y2="95.8" stroke="#333" stroke-width="0.9"/>
<text x="334.25" y="103" font-size="6.8" text-anchor="middle">5</text>
<line x1="340.7" y1="92.3" x2="340.7" y2="95.8" stroke="#333" stroke-width="0.9"/>
<text x="340.7" y="103" font-size="6.8" text-anchor="middle">1</text>
<line x1="344.85" y1="92.3" x2="344.85" y2="95.8" stroke="#333" stroke-width="0.9"/>
<text x="344.85" y="103" font-size="6.8" text-anchor="middle">2</text>
<line x1="349" y1="92.3" x2="349" y2="95.8" stroke="#333" stroke-width="0.9"/>
<text x="349" y="103" font-size="6.8" text-anchor="middle">3</text>
<line x1="353.15" y1="92.3" x2="353.15" y2="95.8" stroke="#333" stroke-width="0.9"/>
<text x="353.15" y="103" font-size="6.8" text-anchor="middle">4</text>
<line x1="357.3" y1="92.3" x2="357.3" y2="95.8" stroke="#333" stroke-width="0.9"/>
<text x="357.3" y="103" font-size="6.8" text-anchor="middle">5</text>
<text x="302.6" y="12.1" font-size="8.7" text-anchor="middle" font-weight="bold">XC5172013</text>
<text x="218.6" y="53.2" font-size="7.7" text-anchor="middle" transform="rotate(-90 218.6 53.2)">% Change in Tumor Volume</text>
<line x1="247.4" y1="124.8" x2="247.4" y2="200.8" stroke="#777" stroke-width="1.6"/>
<line x1="244.7" y1="195.6" x2="247.7" y2="195.6" stroke="#444" stroke-width="1"/>
<text x="243.2" y="198.6" font-size="8.4" text-anchor="end">0</text>
<line x1="244.7" y1="172.17" x2="247.7" y2="172.17" stroke="#444" stroke-width="1"/>
<text x="243.2" y="175.17" font-size="8.4" text-anchor="end">500</text>
<line x1="244.7" y1="148.73" x2="247.7" y2="148.73" stroke="#444" stroke-width="1"/>
<text x="243.2" y="151.73" font-size="8.4" text-anchor="end">1000</text>
<line x1="244.7" y1="125.3" x2="247.7" y2="125.3" stroke="#444" stroke-width="1"/>
<text x="243.2" y="128.3" font-size="8.4" text-anchor="end">1500</text>
<rect x="248.25" y="125.3" width="2.7" height="70.3" rx="1.1" fill="#000000"/>
<rect x="252.4" y="134.67" width="2.7" height="60.93" rx="1.1" fill="#000000"/>
<rect x="256.55" y="135.14" width="2.7" height="60.46" rx="1.1" fill="#000000"/>
<rect x="260.7" y="151.08" width="2.7" height="44.52" rx="1.1" fill="#000000"/>
<rect x="264.85" y="165.14" width="2.7" height="30.46" rx="1.1" fill="#000000"/>
<rect x="271.35" y="125.77" width="2.7" height="69.83" rx="1.1" fill="#ff2a00"/>
<rect x="275.5" y="127.17" width="2.7" height="68.43" rx="1.1" fill="#ff2a00"/>
<rect x="279.65" y="146.86" width="2.7" height="48.74" rx="1.1" fill="#ff2a00"/>
<rect x="294.45" y="155.29" width="2.7" height="40.31" rx="1.1" fill="#1a3cff"/>
<rect x="298.6" y="159.98" width="2.7" height="35.62" rx="1.1" fill="#1a3cff"/>
<rect x="302.75" y="167.01" width="2.7" height="28.59" rx="1.1" fill="#1a3cff"/>
<rect x="306.9" y="169.35" width="2.7" height="26.25" rx="1.1" fill="#1a3cff"/>
<rect x="311.05" y="175.45" width="2.7" height="20.15" rx="1.1" fill="#1a3cff"/>
<rect x="317.55" y="175.45" width="2.7" height="20.15" rx="1.1" fill="#0a8f0a"/>
<rect x="321.7" y="180.6" width="2.7" height="15" rx="1.1" fill="#0a8f0a"/>
<rect x="325.85" y="188.57" width="2.7" height="7.03" rx="1.1" fill="#0a8f0a"/>
<rect x="330" y="189.04" width="2.7" height="6.56" rx="1.1" fill="#0a8f0a"/>
<rect x="334.15" y="192.32" width="2.7" height="3.28" rx="1.1" fill="#0a8f0a"/>
<rect x="340.65" y="182.01" width="2.7" height="13.59" rx="1.1" fill="#ff9500"/>
<rect x="344.8" y="187.63" width="2.7" height="7.97" rx="1.1" fill="#ff9500"/>
<rect x="348.95" y="195.6" width="2.7" height="0.94" rx="1.1" fill="#ff9500"/>
<rect x="353.1" y="195.6" width="2.7" height="2.81" rx="1.1" fill="#ff9500"/>
<rect x="357.25" y="195.6" width="2.7" height="3.75" rx="1.1" fill="#ff9500"/>
<line x1="247.7" y1="195.6" x2="361" y2="195.6" stroke="#333" stroke-width="1.2"/>
<line x1="247.7" y1="200.3" x2="361" y2="200.3" stroke="#333" stroke-width="1.0"/>
<line x1="249.6" y1="200.3" x2="249.6" y2="203.8" stroke="#333" stroke-width="0.9"/>
<text x="249.6" y="210.6" font-size="6.8" text-anchor="middle">1</text>
<line x1="253.75" y1="200.3" x2="253.75" y2="203.8" stroke="#333" stroke-width="0.9"/>
<text x="253.75" y="210.6" font-size="6.8" text-anchor="middle">2</text>
<line x1="257.9" y1="200.3" x2="257.9" y2="203.8" stroke="#333" stroke-width="0.9"/>
<text x="257.9" y="210.6" font-size="6.8" text-anchor="middle">3</text>
<line x1="262.05" y1="200.3" x2="262.05" y2="203.8" stroke="#333" stroke-width="0.9"/>
<text x="262.05" y="210.6" font-size="6.8" text-anchor="middle">4</text>
<line x1="266.2" y1="200.3" x2="266.2" y2="203.8" stroke="#333" stroke-width="0.9"/>
<text x="266.2" y="210.6" font-size="6.8" text-anchor="middle">5</text>
<line x1="272.7" y1="200.3" x2="272.7" y2="203.8" stroke="#333" stroke-width="0.9"/>
<text x="272.7" y="210.6" font-size="6.8" text-anchor="middle">1</text>
<line x1="276.85" y1="200.3" x2="276.85" y2="203.8" stroke="#333" stroke-width="0.9"/>
<text x="276.85" y="210.6" font-size="6.8" text-anchor="middle">2</text>
<line x1="281" y1="200.3" x2="281" y2="203.8" stroke="#333" stroke-width="0.9"/>
<text x="281" y="210.6" font-size="6.8" text-anchor="middle">3</text>
<line x1="285.15" y1="200.3" x2="285.15" y2="203.8" stroke="#333" stroke-width="0.9"/>
<text x="285.15" y="210.6" font-size="6.8" text-anchor="middle">4</text>
<line x1="289.3" y1="200.3" x2="289.3" y2="203.8" stroke="#333" stroke-width="0.9"/>
<text x="289.3" y="210.6" font-size="6.8" text-anchor="middle">5</text>
<line x1="295.8" y1="200.3" x2="295.8" y2="203.8" stroke="#333" stroke-width="0.9"/>
<text x="295.8" y="210.6" font-size="6.8" text-anchor="middle">1</text>
<line x1="299.95" y1="200.3" x2="299.95" y2="203.8" stroke="#333" stroke-width="0.9"/>
<text x="299.95" y="210.6" font-size="6.8" text-anchor="middle">2</text>
<line x1="304.1" y1="200.3" x2="304.1" y2="203.8" stroke="#333" stroke-width="0.9"/>
<text x="304.1" y="210.6" font-size="6.8" text-anchor="middle">3</text>
<line x1="308.25" y1="200.3" x2="308.25" y2="203.8" stroke="#333" stroke-width="0.9"/>
<text x="308.25" y="210.6" font-size="6.8" text-anchor="middle">4</text>
<line x1="312.4" y1="200.3" x2="312.4" y2="203.8" stroke="#333" stroke-width="0.9"/>
<text x="312.4" y="210.6" font-size="6.8" text-anchor="middle">5</text>
<line x1="318.9" y1="200.3" x2="318.9" y2="203.8" stroke="#333" stroke-width="0.9"/>
<text x="318.9" y="210.6" font-size="6.8" text-anchor="middle">1</text>
<line x1="323.05" y1="200.3" x2="323.05" y2="203.8" stroke="#333" stroke-width="0.9"/>
<text x="323.05" y="210.6" font-size="6.8" text-anchor="middle">2</text>
<line x1="327.2" y1="200.3" x2="327.2" y2="203.8" stroke="#333" stroke-width="0.9"/>
<text x="327.2" y="210.6" font-size="6.8" text-anchor="middle">3</text>
<line x1="331.35" y1="200.3" x2="331.35" y2="203.8" stroke="#333" stroke-width="0.9"/>
<text x="331.35" y="210.6" font-size="6.8" text-anchor="middle">4</text>
<line x1="335.5" y1="200.3" x2="335.5" y2="203.8" stroke="#333" stroke-width="0.9"/>
<text x="335.5" y="210.6" font-size="6.8" text-anchor="middle">5</text>
<line x1="342" y1="200.3" x2="342" y2="203.8" stroke="#333" stroke-width="0.9"/>
<text x="342" y="210.6" font-size="6.8" text-anchor="middle">1</text>
<line x1="346.15" y1="200.3" x2="346.15" y2="203.8" stroke="#333" stroke-width="0.9"/>
<text x="346.15" y="210.6" font-size="6.8" text-anchor="middle">2</text>
<line x1="350.3" y1="200.3" x2="350.3" y2="203.8" stroke="#333" stroke-width="0.9"/>
<text x="350.3" y="210.6" font-size="6.8" text-anchor="middle">3</text>
<line x1="354.45" y1="200.3" x2="354.45" y2="203.8" stroke="#333" stroke-width="0.9"/>
<text x="354.45" y="210.6" font-size="6.8" text-anchor="middle">4</text>
<line x1="358.6" y1="200.3" x2="358.6" y2="203.8" stroke="#333" stroke-width="0.9"/>
<text x="358.6" y="210.6" font-size="6.8" text-anchor="middle">5</text>
<text x="304.3" y="120.2" font-size="8.7" text-anchor="middle" font-weight="bold">BCX070</text>
<text x="220.5" y="162" font-size="7.7" text-anchor="middle" transform="rotate(-90 220.5 162)">% Change in Tumor Volume</text>
<line x1="247.9" y1="237.5" x2="247.9" y2="316.3" stroke="#777" stroke-width="1.6"/>
<line x1="245.2" y1="312.7" x2="248.2" y2="312.7" stroke="#444" stroke-width="1"/>
<text x="243.7" y="315.7" font-size="8.4" text-anchor="end">0</text>
<line x1="245.2" y1="294.02" x2="248.2" y2="294.02" stroke="#444" stroke-width="1"/>
<text x="243.7" y="297.02" font-size="8.4" text-anchor="end">500</text>
<line x1="245.2" y1="275.35" x2="248.2" y2="275.35" stroke="#444" stroke-width="1"/>
<text x="243.7" y="278.35" font-size="8.4" text-anchor="end">1000</text>
<line x1="245.2" y1="256.68" x2="248.2" y2="256.68" stroke="#444" stroke-width="1"/>
<text x="243.7" y="259.68" font-size="8.4" text-anchor="end">1500</text>
<line x1="245.2" y1="238" x2="248.2" y2="238" stroke="#444" stroke-width="1"/>
<text x="243.7" y="241" font-size="8.4" text-anchor="end">2000</text>
<rect x="249.65" y="254.43" width="2.7" height="58.27" rx="1.1" fill="#000000"/>
<rect x="253.85" y="257.05" width="2.7" height="55.65" rx="1.1" fill="#000000"/>
<rect x="258.05" y="261.16" width="2.7" height="51.54" rx="1.1" fill="#000000"/>
<rect x="262.25" y="271.62" width="2.7" height="41.08" rx="1.1" fill="#000000"/>
<rect x="266.45" y="276.84" width="2.7" height="35.86" rx="1.1" fill="#000000"/>
<rect x="273.45" y="247.71" width="2.7" height="64.99" rx="1.1" fill="#ff2a00"/>
<rect x="277.65" y="263.77" width="2.7" height="48.93" rx="1.1" fill="#ff2a00"/>
<rect x="281.85" y="267.51" width="2.7" height="45.19" rx="1.1" fill="#ff2a00"/>
<rect x="286.05" y="277.59" width="2.7" height="35.11" rx="1.1" fill="#ff2a00"/>
<rect x="290.25" y="301.12" width="2.7" height="11.58" rx="1.1" fill="#ff2a00"/>
<rect x="297.25" y="262.65" width="2.7" height="50.05" rx="1.1" fill="#1a3cff"/>
<rect x="301.45" y="263.77" width="2.7" height="48.93" rx="1.1" fill="#1a3cff"/>
<rect x="305.65" y="271.99" width="2.7" height="40.71" rx="1.1" fill="#1a3cff"/>
<rect x="309.85" y="275.72" width="2.7" height="36.98" rx="1.1" fill="#1a3cff"/>
<rect x="314.05" y="290.66" width="2.7" height="22.04" rx="1.1" fill="#1a3cff"/>
<rect x="321.05" y="290.29" width="2.7" height="22.41" rx="1.1" fill="#0a8f0a"/>
<rect x="325.25" y="297.01" width="2.7" height="15.69" rx="1.1" fill="#0a8f0a"/>
<rect x="329.45" y="303.36" width="2.7" height="9.34" rx="1.1" fill="#0a8f0a"/>
<rect x="333.65" y="312.7" width="2.7" height="1.49" rx="1.1" fill="#0a8f0a"/>
<rect x="337.85" y="312.7" width="2.7" height="3.74" rx="1.1" fill="#0a8f0a"/>
<rect x="344.85" y="305.23" width="2.7" height="7.47" rx="1.1" fill="#ff9500"/>
<rect x="349.05" y="302.24" width="2.7" height="10.46" rx="1.1" fill="#ff9500"/>
<rect x="353.25" y="303.36" width="2.7" height="9.34" rx="1.1" fill="#ff9500"/>
<rect x="357.45" y="303.74" width="2.7" height="8.96" rx="1.1" fill="#ff9500"/>
<rect x="361.65" y="312.7" width="2.7" height="1.87" rx="1.1" fill="#ff9500"/>
<line x1="248.2" y1="312.7" x2="365" y2="312.7" stroke="#333" stroke-width="1.2"/>
<line x1="248.2" y1="315.8" x2="365" y2="315.8" stroke="#333" stroke-width="1.0"/>
<line x1="251" y1="315.8" x2="251" y2="319.3" stroke="#333" stroke-width="0.9"/>
<text x="251" y="327.9" font-size="6.8" text-anchor="middle">1</text>
<line x1="255.2" y1="315.8" x2="255.2" y2="319.3" stroke="#333" stroke-width="0.9"/>
<text x="255.2" y="327.9" font-size="6.8" text-anchor="middle">2</text>
<line x1="259.4" y1="315.8" x2="259.4" y2="319.3" stroke="#333" stroke-width="0.9"/>
<text x="259.4" y="327.9" font-size="6.8" text-anchor="middle">3</text>
<line x1="263.6" y1="315.8" x2="263.6" y2="319.3" stroke="#333" stroke-width="0.9"/>
<text x="263.6" y="327.9" font-size="6.8" text-anchor="middle">4</text>
<line x1="267.8" y1="315.8" x2="267.8" y2="319.3" stroke="#333" stroke-width="0.9"/>
<text x="267.8" y="327.9" font-size="6.8" text-anchor="middle">5</text>
<line x1="274.8" y1="315.8" x2="274.8" y2="319.3" stroke="#333" stroke-width="0.9"/>
<text x="274.8" y="327.9" font-size="6.8" text-anchor="middle">1</text>
<line x1="279" y1="315.8" x2="279" y2="319.3" stroke="#333" stroke-width="0.9"/>
<text x="279" y="327.9" font-size="6.8" text-anchor="middle">2</text>
<line x1="283.2" y1="315.8" x2="283.2" y2="319.3" stroke="#333" stroke-width="0.9"/>
<text x="283.2" y="327.9" font-size="6.8" text-anchor="middle">3</text>
<line x1="287.4" y1="315.8" x2="287.4" y2="319.3" stroke="#333" stroke-width="0.9"/>
<text x="287.4" y="327.9" font-size="6.8" text-anchor="middle">4</text>
<line x1="291.6" y1="315.8" x2="291.6" y2="319.3" stroke="#333" stroke-width="0.9"/>
<text x="291.6" y="327.9" font-size="6.8" text-anchor="middle">5</text>
<line x1="298.6" y1="315.8" x2="298.6" y2="319.3" stroke="#333" stroke-width="0.9"/>
<text x="298.6" y="327.9" font-size="6.8" text-anchor="middle">1</text>
<line x1="302.8" y1="315.8" x2="302.8" y2="319.3" stroke="#333" stroke-width="0.9"/>
<text x="302.8" y="327.9" font-size="6.8" text-anchor="middle">2</text>
<line x1="307" y1="315.8" x2="307" y2="319.3" stroke="#333" stroke-width="0.9"/>
<text x="307" y="327.9" font-size="6.8" text-anchor="middle">3</text>
<line x1="311.2" y1="315.8" x2="311.2" y2="319.3" stroke="#333" stroke-width="0.9"/>
<text x="311.2" y="327.9" font-size="6.8" text-anchor="middle">4</text>
<line x1="315.4" y1="315.8" x2="315.4" y2="319.3" stroke="#333" stroke-width="0.9"/>
<text x="315.4" y="327.9" font-size="6.8" text-anchor="middle">5</text>
<line x1="322.4" y1="315.8" x2="322.4" y2="319.3" stroke="#333" stroke-width="0.9"/>
<text x="322.4" y="327.9" font-size="6.8" text-anchor="middle">1</text>
<line x1="326.6" y1="315.8" x2="326.6" y2="319.3" stroke="#333" stroke-width="0.9"/>
<text x="326.6" y="327.9" font-size="6.8" text-anchor="middle">2</text>
<line x1="330.8" y1="315.8" x2="330.8" y2="319.3" stroke="#333" stroke-width="0.9"/>
<text x="330.8" y="327.9" font-size="6.8" text-anchor="middle">3</text>
<line x1="335" y1="315.8" x2="335" y2="319.3" stroke="#333" stroke-width="0.9"/>
<text x="335" y="327.9" font-size="6.8" text-anchor="middle">4</text>
<line x1="339.2" y1="315.8" x2="339.2" y2="319.3" stroke="#333" stroke-width="0.9"/>
<text x="339.2" y="327.9" font-size="6.8" text-anchor="middle">5</text>
<line x1="346.2" y1="315.8" x2="346.2" y2="319.3" stroke="#333" stroke-width="0.9"/>
<text x="346.2" y="327.9" font-size="6.8" text-anchor="middle">1</text>
<line x1="350.4" y1="315.8" x2="350.4" y2="319.3" stroke="#333" stroke-width="0.9"/>
<text x="350.4" y="327.9" font-size="6.8" text-anchor="middle">2</text>
<line x1="354.6" y1="315.8" x2="354.6" y2="319.3" stroke="#333" stroke-width="0.9"/>
<text x="354.6" y="327.9" font-size="6.8" text-anchor="middle">3</text>
<line x1="358.8" y1="315.8" x2="358.8" y2="319.3" stroke="#333" stroke-width="0.9"/>
<text x="358.8" y="327.9" font-size="6.8" text-anchor="middle">4</text>
<line x1="363" y1="315.8" x2="363" y2="319.3" stroke="#333" stroke-width="0.9"/>
<text x="363" y="327.9" font-size="6.8" text-anchor="middle">5</text>
<text x="307.3" y="232.1" font-size="8.7" text-anchor="middle" font-weight="bold">BCX017</text>
<text x="220.5" y="275" font-size="7.7" text-anchor="middle" transform="rotate(-90 220.5 275)">% Change in Tumor Volume</text>
<line x1="252.6" y1="359" x2="252.6" y2="431.7" stroke="#777" stroke-width="1.6"/>
<line x1="249.9" y1="431.2" x2="252.9" y2="431.2" stroke="#444" stroke-width="1"/>
<text x="248.4" y="434.2" font-size="8.4" text-anchor="end">0</text>
<line x1="249.9" y1="413.27" x2="252.9" y2="413.27" stroke="#444" stroke-width="1"/>
<text x="248.4" y="416.27" font-size="8.4" text-anchor="end">2000</text>
<line x1="249.9" y1="395.35" x2="252.9" y2="395.35" stroke="#444" stroke-width="1"/>
<text x="248.4" y="398.35" font-size="8.4" text-anchor="end">4000</text>
<line x1="249.9" y1="377.43" x2="252.9" y2="377.43" stroke="#444" stroke-width="1"/>
<text x="248.4" y="380.43" font-size="8.4" text-anchor="end">6000</text>
<line x1="249.9" y1="359.5" x2="252.9" y2="359.5" stroke="#444" stroke-width="1"/>
<text x="248.4" y="362.5" font-size="8.4" text-anchor="end">8000</text>
<rect x="253.85" y="372.05" width="2.7" height="59.15" rx="1.1" fill="#000000"/>
<rect x="257.94" y="373.84" width="2.7" height="57.36" rx="1.1" fill="#000000"/>
<rect x="262.03" y="389.97" width="2.7" height="41.23" rx="1.1" fill="#000000"/>
<rect x="266.12" y="399.83" width="2.7" height="31.37" rx="1.1" fill="#000000"/>
<rect x="270.21" y="412.38" width="2.7" height="18.82" rx="1.1" fill="#000000"/>
<rect x="275.65" y="403.42" width="2.7" height="27.78" rx="1.1" fill="#ff2a00"/>
<rect x="279.74" y="407.9" width="2.7" height="23.3" rx="1.1" fill="#ff2a00"/>
<rect x="283.83" y="414.17" width="2.7" height="17.03" rx="1.1" fill="#ff2a00"/>
<rect x="287.92" y="421.34" width="2.7" height="9.86" rx="1.1" fill="#ff2a00"/>
<rect x="292.01" y="421.79" width="2.7" height="9.41" rx="1.1" fill="#ff2a00"/>
<rect x="297.45" y="409.69" width="2.7" height="21.51" rx="1.1" fill="#1a3cff"/>
<rect x="301.54" y="410.14" width="2.7" height="21.06" rx="1.1" fill="#1a3cff"/>
<rect x="305.63" y="410.59" width="2.7" height="20.61" rx="1.1" fill="#1a3cff"/>
<rect x="309.72" y="415.96" width="2.7" height="15.24" rx="1.1" fill="#1a3cff"/>
<rect x="313.81" y="420.44" width="2.7" height="10.75" rx="1.1" fill="#1a3cff"/>
<rect x="319.25" y="414.17" width="2.7" height="17.03" rx="1.1" fill="#0a8f0a"/>
<rect x="323.34" y="414.17" width="2.7" height="17.03" rx="1.1" fill="#0a8f0a"/>
<rect x="327.43" y="415.96" width="2.7" height="15.24" rx="1.1" fill="#0a8f0a"/>
<rect x="331.52" y="418.65" width="2.7" height="12.55" rx="1.1" fill="#0a8f0a"/>
<rect x="335.61" y="424.93" width="2.7" height="6.27" rx="1.1" fill="#0a8f0a"/>
<rect x="341.05" y="423.13" width="2.7" height="8.07" rx="1.1" fill="#ff9500"/>
<rect x="345.14" y="427.62" width="2.7" height="3.58" rx="1.1" fill="#ff9500"/>
<rect x="349.23" y="428.06" width="2.7" height="3.14" rx="1.1" fill="#ff9500"/>
<rect x="353.32" y="429.41" width="2.7" height="1.79" rx="1.1" fill="#ff9500"/>
<line x1="252.9" y1="431.2" x2="360.3" y2="431.2" stroke="#333" stroke-width="1.2"/>
<line x1="255.2" y1="431.2" x2="255.2" y2="434.7" stroke="#333" stroke-width="0.9"/>
<text x="255.2" y="442" font-size="6.8" text-anchor="middle">1</text>
<line x1="259.29" y1="431.2" x2="259.29" y2="434.7" stroke="#333" stroke-width="0.9"/>
<text x="259.29" y="442" font-size="6.8" text-anchor="middle">2</text>
<line x1="263.38" y1="431.2" x2="263.38" y2="434.7" stroke="#333" stroke-width="0.9"/>
<text x="263.38" y="442" font-size="6.8" text-anchor="middle">3</text>
<line x1="267.47" y1="431.2" x2="267.47" y2="434.7" stroke="#333" stroke-width="0.9"/>
<text x="267.47" y="442" font-size="6.8" text-anchor="middle">4</text>
<line x1="271.56" y1="431.2" x2="271.56" y2="434.7" stroke="#333" stroke-width="0.9"/>
<text x="271.56" y="442" font-size="6.8" text-anchor="middle">5</text>
<line x1="277" y1="431.2" x2="277" y2="434.7" stroke="#333" stroke-width="0.9"/>
<text x="277" y="442" font-size="6.8" text-anchor="middle">1</text>
<line x1="281.09" y1="431.2" x2="281.09" y2="434.7" stroke="#333" stroke-width="0.9"/>
<text x="281.09" y="442" font-size="6.8" text-anchor="middle">2</text>
<line x1="285.18" y1="431.2" x2="285.18" y2="434.7" stroke="#333" stroke-width="0.9"/>
<text x="285.18" y="442" font-size="6.8" text-anchor="middle">3</text>
<line x1="289.27" y1="431.2" x2="289.27" y2="434.7" stroke="#333" stroke-width="0.9"/>
<text x="289.27" y="442" font-size="6.8" text-anchor="middle">4</text>
<line x1="293.36" y1="431.2" x2="293.36" y2="434.7" stroke="#333" stroke-width="0.9"/>
<text x="293.36" y="442" font-size="6.8" text-anchor="middle">5</text>
<line x1="298.8" y1="431.2" x2="298.8" y2="434.7" stroke="#333" stroke-width="0.9"/>
<text x="298.8" y="442" font-size="6.8" text-anchor="middle">1</text>
<line x1="302.89" y1="431.2" x2="302.89" y2="434.7" stroke="#333" stroke-width="0.9"/>
<text x="302.89" y="442" font-size="6.8" text-anchor="middle">2</text>
<line x1="306.98" y1="431.2" x2="306.98" y2="434.7" stroke="#333" stroke-width="0.9"/>
<text x="306.98" y="442" font-size="6.8" text-anchor="middle">3</text>
<line x1="311.07" y1="431.2" x2="311.07" y2="434.7" stroke="#333" stroke-width="0.9"/>
<text x="311.07" y="442" font-size="6.8" text-anchor="middle">4</text>
<line x1="315.16" y1="431.2" x2="315.16" y2="434.7" stroke="#333" stroke-width="0.9"/>
<text x="315.16" y="442" font-size="6.8" text-anchor="middle">5</text>
<line x1="320.6" y1="431.2" x2="320.6" y2="434.7" stroke="#333" stroke-width="0.9"/>
<text x="320.6" y="442" font-size="6.8" text-anchor="middle">1</text>
<line x1="324.69" y1="431.2" x2="324.69" y2="434.7" stroke="#333" stroke-width="0.9"/>
<text x="324.69" y="442" font-size="6.8" text-anchor="middle">2</text>
<line x1="328.78" y1="431.2" x2="328.78" y2="434.7" stroke="#333" stroke-width="0.9"/>
<text x="328.78" y="442" font-size="6.8" text-anchor="middle">3</text>
<line x1="332.87" y1="431.2" x2="332.87" y2="434.7" stroke="#333" stroke-width="0.9"/>
<text x="332.87" y="442" font-size="6.8" text-anchor="middle">4</text>
<line x1="336.96" y1="431.2" x2="336.96" y2="434.7" stroke="#333" stroke-width="0.9"/>
<text x="336.96" y="442" font-size="6.8" text-anchor="middle">5</text>
<line x1="342.4" y1="431.2" x2="342.4" y2="434.7" stroke="#333" stroke-width="0.9"/>
<text x="342.4" y="442" font-size="6.8" text-anchor="middle">1</text>
<line x1="346.49" y1="431.2" x2="346.49" y2="434.7" stroke="#333" stroke-width="0.9"/>
<text x="346.49" y="442" font-size="6.8" text-anchor="middle">2</text>
<line x1="350.58" y1="431.2" x2="350.58" y2="434.7" stroke="#333" stroke-width="0.9"/>
<text x="350.58" y="442" font-size="6.8" text-anchor="middle">3</text>
<line x1="354.67" y1="431.2" x2="354.67" y2="434.7" stroke="#333" stroke-width="0.9"/>
<text x="354.67" y="442" font-size="6.8" text-anchor="middle">4</text>
<line x1="358.76" y1="431.2" x2="358.76" y2="434.7" stroke="#333" stroke-width="0.9"/>
<text x="358.76" y="442" font-size="6.8" text-anchor="middle">5</text>
<text x="306.6" y="354.9" font-size="8.7" text-anchor="middle" font-weight="bold">T1p</text>
<text x="227.4" y="394.5" font-size="7.7" text-anchor="middle" transform="rotate(-90 227.4 394.5)">% Change in Tumor Volume</text>
<line x1="408.5" y1="12.01" x2="408.5" y2="82.8" stroke="#222" stroke-width="1.1"/>
<line x1="405.5" y1="82.3" x2="408.5" y2="82.3" stroke="#222" stroke-width="1"/>
<text x="404.2" y="85" font-size="7.3" text-anchor="end">0</text>
<line x1="405.5" y1="69.52" x2="408.5" y2="69.52" stroke="#222" stroke-width="1"/>
<text x="404.2" y="72.22" font-size="7.3" text-anchor="end">20</text>
<line x1="405.5" y1="56.74" x2="408.5" y2="56.74" stroke="#222" stroke-width="1"/>
<text x="404.2" y="59.44" font-size="7.3" text-anchor="end">40</text>
<line x1="405.5" y1="43.96" x2="408.5" y2="43.96" stroke="#222" stroke-width="1"/>
<text x="404.2" y="46.66" font-size="7.3" text-anchor="end">60</text>
<line x1="405.5" y1="31.18" x2="408.5" y2="31.18" stroke="#222" stroke-width="1"/>
<text x="404.2" y="33.88" font-size="7.3" text-anchor="end">80</text>
<line x1="405.5" y1="18.4" x2="408.5" y2="18.4" stroke="#222" stroke-width="1"/>
<text x="404.2" y="21.1" font-size="7.3" text-anchor="end">100</text>
<line x1="408.5" y1="82.3" x2="514.5" y2="82.3" stroke="#222" stroke-width="1.1"/>
<line x1="408.5" y1="82.3" x2="408.5" y2="85.3" stroke="#222" stroke-width="1"/>
<text x="408.5" y="92.6" font-size="7.6" text-anchor="middle">0</text>
<line x1="418.09" y1="82.3" x2="418.09" y2="85.3" stroke="#222" stroke-width="1"/>
<text x="418.09" y="92.6" font-size="7.6" text-anchor="middle">5</text>
<line x1="427.68" y1="82.3" x2="427.68" y2="85.3" stroke="#222" stroke-width="1"/>
<text x="427.68" y="92.6" font-size="7.6" text-anchor="middle">10</text>
<line x1="437.27" y1="82.3" x2="437.27" y2="85.3" stroke="#222" stroke-width="1"/>
<text x="437.27" y="92.6" font-size="7.6" text-anchor="middle">15</text>
<line x1="446.86" y1="82.3" x2="446.86" y2="85.3" stroke="#222" stroke-width="1"/>
<text x="446.86" y="92.6" font-size="7.6" text-anchor="middle">20</text>
<line x1="456.45" y1="82.3" x2="456.45" y2="85.3" stroke="#222" stroke-width="1"/>
<text x="456.45" y="92.6" font-size="7.6" text-anchor="middle">25</text>
<line x1="466.05" y1="82.3" x2="466.05" y2="85.3" stroke="#222" stroke-width="1"/>
<text x="466.05" y="92.6" font-size="7.6" text-anchor="middle">30</text>
<line x1="475.64" y1="82.3" x2="475.64" y2="85.3" stroke="#222" stroke-width="1"/>
<text x="475.64" y="92.6" font-size="7.6" text-anchor="middle">35</text>
<line x1="485.23" y1="82.3" x2="485.23" y2="85.3" stroke="#222" stroke-width="1"/>
<text x="485.23" y="92.6" font-size="7.6" text-anchor="middle">40</text>
<line x1="494.82" y1="82.3" x2="494.82" y2="85.3" stroke="#222" stroke-width="1"/>
<text x="494.82" y="92.6" font-size="7.6" text-anchor="middle">45</text>
<line x1="504.41" y1="82.3" x2="504.41" y2="85.3" stroke="#222" stroke-width="1"/>
<text x="504.41" y="92.6" font-size="7.6" text-anchor="middle">50</text>
<line x1="514" y1="82.3" x2="514" y2="85.3" stroke="#222" stroke-width="1"/>
<text x="514" y="92.6" font-size="7.6" text-anchor="middle">55</text>
<line x1="408.5" y1="50.35" x2="514.5" y2="50.35" stroke="#555" stroke-width="0.8" stroke-dasharray="2.2 1.6"/>
<polyline points="408.5,18.4 514,18.4 514,18.4" fill="none" stroke="#ff9500" stroke-width="1.5"/>
<polyline points="408.5,18.4 467.96,18.4 467.96,18.4 467.96,18.4 467.96,34.37 483.31,34.37 483.31,34.37 483.31,34.37 483.31,58.34 502.49,58.34 502.49,58.34 502.49,58.34 502.49,82.3" fill="none" stroke="#0c9a3c" stroke-width="1.5"/>
<polyline points="408.5,18.4 464.13,18.4 464.13,18.4 464.13,18.4 464.13,39.68 467.96,39.68 467.96,39.68 467.96,39.68 467.96,61.02 475.64,61.02 475.64,61.02 475.64,61.02 475.64,82.3" fill="none" stroke="#1a3cff" stroke-width="1.5"/>
<polyline points="408.5,18.4 467.96,18.4 467.96,18.4 467.96,18.4 467.96,50.35 471.8,50.35 471.8,50.35 471.8,50.35 471.8,82.3" fill="none" stroke="#ff2a00" stroke-width="1.5"/>
<polyline points="408.5,18.4 437.27,18.4 437.27,18.4 437.27,18.4 437.27,34.37 448.78,34.37 448.78,34.37 448.78,34.37 448.78,50.35 462.21,50.35 462.21,50.35 462.21,50.35 462.21,66.33 471.8,66.33 471.8,66.33 471.8,66.33 471.8,82.3" fill="none" stroke="#000000" stroke-width="1.5"/>
<text x="461" y="10.3" font-size="7.9" text-anchor="middle" font-weight="bold">XC5172013</text>
<text x="461.5" y="102.9" font-size="7.6" text-anchor="middle">Days on Treatment</text>
<text x="389.6" y="46" font-size="7.6" text-anchor="middle" transform="rotate(-90 389.6 46)">Survival (%)</text>
<text x="498.7" y="27.8" font-size="6.3" text-anchor="middle" textLength="26.9" lengthAdjust="spacingAndGlyphs">p &lt; 0.0001</text>
<line x1="412.7" y1="122.8" x2="412.7" y2="192.6" stroke="#222" stroke-width="1.1"/>
<line x1="409.7" y1="192.1" x2="412.7" y2="192.1" stroke="#222" stroke-width="1"/>
<text x="408.4" y="194.8" font-size="7.3" text-anchor="end">0</text>
<line x1="409.7" y1="179.5" x2="412.7" y2="179.5" stroke="#222" stroke-width="1"/>
<text x="408.4" y="182.2" font-size="7.3" text-anchor="end">20</text>
<line x1="409.7" y1="166.9" x2="412.7" y2="166.9" stroke="#222" stroke-width="1"/>
<text x="408.4" y="169.6" font-size="7.3" text-anchor="end">40</text>
<line x1="409.7" y1="154.3" x2="412.7" y2="154.3" stroke="#222" stroke-width="1"/>
<text x="408.4" y="157" font-size="7.3" text-anchor="end">60</text>
<line x1="409.7" y1="141.7" x2="412.7" y2="141.7" stroke="#222" stroke-width="1"/>
<text x="408.4" y="144.4" font-size="7.3" text-anchor="end">80</text>
<line x1="409.7" y1="129.1" x2="412.7" y2="129.1" stroke="#222" stroke-width="1"/>
<text x="408.4" y="131.8" font-size="7.3" text-anchor="end">100</text>
<line x1="412.7" y1="192.1" x2="517" y2="192.1" stroke="#222" stroke-width="1.1"/>
<line x1="412.7" y1="192.1" x2="412.7" y2="195.1" stroke="#222" stroke-width="1"/>
<text x="412.7" y="202.4" font-size="7.6" text-anchor="middle">0</text>
<line x1="422.15" y1="192.1" x2="422.15" y2="195.1" stroke="#222" stroke-width="1"/>
<text x="422.15" y="202.4" font-size="7.6" text-anchor="middle">5</text>
<line x1="431.61" y1="192.1" x2="431.61" y2="195.1" stroke="#222" stroke-width="1"/>
<text x="431.61" y="202.4" font-size="7.6" text-anchor="middle">10</text>
<line x1="441.06" y1="192.1" x2="441.06" y2="195.1" stroke="#222" stroke-width="1"/>
<text x="441.06" y="202.4" font-size="7.6" text-anchor="middle">15</text>
<line x1="450.52" y1="192.1" x2="450.52" y2="195.1" stroke="#222" stroke-width="1"/>
<text x="450.52" y="202.4" font-size="7.6" text-anchor="middle">20</text>
<line x1="459.97" y1="192.1" x2="459.97" y2="195.1" stroke="#222" stroke-width="1"/>
<text x="459.97" y="202.4" font-size="7.6" text-anchor="middle">25</text>
<line x1="469.43" y1="192.1" x2="469.43" y2="195.1" stroke="#222" stroke-width="1"/>
<text x="469.43" y="202.4" font-size="7.6" text-anchor="middle">30</text>
<line x1="478.88" y1="192.1" x2="478.88" y2="195.1" stroke="#222" stroke-width="1"/>
<text x="478.88" y="202.4" font-size="7.6" text-anchor="middle">35</text>
<line x1="488.34" y1="192.1" x2="488.34" y2="195.1" stroke="#222" stroke-width="1"/>
<text x="488.34" y="202.4" font-size="7.6" text-anchor="middle">40</text>
<line x1="497.79" y1="192.1" x2="497.79" y2="195.1" stroke="#222" stroke-width="1"/>
<text x="497.79" y="202.4" font-size="7.6" text-anchor="middle">45</text>
<line x1="507.25" y1="192.1" x2="507.25" y2="195.1" stroke="#222" stroke-width="1"/>
<text x="507.25" y="202.4" font-size="7.6" text-anchor="middle">50</text>
<line x1="516.7" y1="192.1" x2="516.7" y2="195.1" stroke="#222" stroke-width="1"/>
<text x="516.7" y="202.4" font-size="7.6" text-anchor="middle">55</text>
<line x1="412.7" y1="160.6" x2="517" y2="160.6" stroke="#555" stroke-width="0.8" stroke-dasharray="2.2 1.6"/>
<polyline points="412.7,129.1 507.25,129.1 507.25,129.1" fill="none" stroke="#ff9500" stroke-width="1.5"/>
<polyline points="412.7,129.1 501.57,129.1 501.57,129.1" fill="none" stroke="#0c9a3c" stroke-width="1.5"/>
<polyline points="412.7,129.1 484.55,129.1 484.55,129.1 484.55,129.1 484.55,141.7 486.45,141.7 486.45,141.7 486.45,141.7 486.45,154.3 492.12,154.3 492.12,154.3 492.12,154.3 492.12,166.9 494.01,166.9 494.01,166.9 494.01,166.9 494.01,179.5 499.68,179.5 499.68,179.5 499.68,179.5 499.68,192.1" fill="none" stroke="#1a3cff" stroke-width="1.5"/>
<polyline points="412.7,129.1 446.74,129.1 446.74,129.1 446.74,129.1 446.74,150.08 473.21,150.08 473.21,150.08 473.21,150.08 473.21,171.12 484.55,171.12 484.55,171.12 484.55,171.12 484.55,192.1" fill="none" stroke="#ff2a00" stroke-width="1.5"/>
<polyline points="412.7,129.1 454.3,129.1 454.3,129.1 454.3,129.1 454.3,141.7 456.19,141.7 456.19,141.7 456.19,141.7 456.19,154.3 458.08,154.3 458.08,154.3 458.08,154.3 458.08,166.9 473.21,166.9 473.21,166.9 473.21,166.9 473.21,179.5 476.99,179.5 476.99,179.5 476.99,179.5 476.99,192.1" fill="none" stroke="#000000" stroke-width="1.5"/>
<text x="464.8" y="120.8" font-size="7.9" text-anchor="middle" font-weight="bold">BCX070</text>
<text x="464.8" y="212.7" font-size="7.6" text-anchor="middle">Days on Treatment</text>
<text x="394" y="156" font-size="7.6" text-anchor="middle" transform="rotate(-90 394 156)">Survival (%)</text>
<text x="501.6" y="138.5" font-size="6.3" text-anchor="middle" textLength="26.9" lengthAdjust="spacingAndGlyphs">p &lt; 0.0001</text>
<line x1="416.2" y1="231.48" x2="416.2" y2="305.9" stroke="#222" stroke-width="1.1"/>
<line x1="413.2" y1="305.4" x2="416.2" y2="305.4" stroke="#222" stroke-width="1"/>
<text x="411.9" y="308.1" font-size="7.3" text-anchor="end">0</text>
<line x1="413.2" y1="291.96" x2="416.2" y2="291.96" stroke="#222" stroke-width="1"/>
<text x="411.9" y="294.66" font-size="7.3" text-anchor="end">20</text>
<line x1="413.2" y1="278.52" x2="416.2" y2="278.52" stroke="#222" stroke-width="1"/>
<text x="411.9" y="281.22" font-size="7.3" text-anchor="end">40</text>
<line x1="413.2" y1="265.08" x2="416.2" y2="265.08" stroke="#222" stroke-width="1"/>
<text x="411.9" y="267.78" font-size="7.3" text-anchor="end">60</text>
<line x1="413.2" y1="251.64" x2="416.2" y2="251.64" stroke="#222" stroke-width="1"/>
<text x="411.9" y="254.34" font-size="7.3" text-anchor="end">80</text>
<line x1="413.2" y1="238.2" x2="416.2" y2="238.2" stroke="#222" stroke-width="1"/>
<text x="411.9" y="240.9" font-size="7.3" text-anchor="end">100</text>
<line x1="416.2" y1="305.4" x2="526.5" y2="305.4" stroke="#222" stroke-width="1.1"/>
<line x1="416.2" y1="305.4" x2="416.2" y2="308.4" stroke="#222" stroke-width="1"/>
<text x="416.2" y="315.7" font-size="7.6" text-anchor="middle">0</text>
<line x1="426.2" y1="305.4" x2="426.2" y2="308.4" stroke="#222" stroke-width="1"/>
<text x="426.2" y="315.7" font-size="7.6" text-anchor="middle">5</text>
<line x1="436.2" y1="305.4" x2="436.2" y2="308.4" stroke="#222" stroke-width="1"/>
<text x="436.2" y="315.7" font-size="7.6" text-anchor="middle">10</text>
<line x1="446.2" y1="305.4" x2="446.2" y2="308.4" stroke="#222" stroke-width="1"/>
<text x="446.2" y="315.7" font-size="7.6" text-anchor="middle">15</text>
<line x1="456.2" y1="305.4" x2="456.2" y2="308.4" stroke="#222" stroke-width="1"/>
<text x="456.2" y="315.7" font-size="7.6" text-anchor="middle">20</text>
<line x1="466.2" y1="305.4" x2="466.2" y2="308.4" stroke="#222" stroke-width="1"/>
<text x="466.2" y="315.7" font-size="7.6" text-anchor="middle">25</text>
<line x1="476.2" y1="305.4" x2="476.2" y2="308.4" stroke="#222" stroke-width="1"/>
<text x="476.2" y="315.7" font-size="7.6" text-anchor="middle">30</text>
<line x1="486.2" y1="305.4" x2="486.2" y2="308.4" stroke="#222" stroke-width="1"/>
<text x="486.2" y="315.7" font-size="7.6" text-anchor="middle">35</text>
<line x1="496.2" y1="305.4" x2="496.2" y2="308.4" stroke="#222" stroke-width="1"/>
<text x="496.2" y="315.7" font-size="7.6" text-anchor="middle">40</text>
<line x1="506.2" y1="305.4" x2="506.2" y2="308.4" stroke="#222" stroke-width="1"/>
<text x="506.2" y="315.7" font-size="7.6" text-anchor="middle">45</text>
<line x1="516.2" y1="305.4" x2="516.2" y2="308.4" stroke="#222" stroke-width="1"/>
<text x="516.2" y="315.7" font-size="7.6" text-anchor="middle">50</text>
<line x1="526.2" y1="305.4" x2="526.2" y2="308.4" stroke="#222" stroke-width="1"/>
<text x="526.2" y="315.7" font-size="7.6" text-anchor="middle">55</text>
<line x1="416.2" y1="271.8" x2="526.5" y2="271.8" stroke="#555" stroke-width="0.8" stroke-dasharray="2.2 1.6"/>
<polyline points="416.2,238.2 526.2,238.2 526.2,238.2" fill="none" stroke="#ff9500" stroke-width="1.5"/>
<polyline points="416.2,238.2 526.2,238.2 526.2,238.2" fill="none" stroke="#0c9a3c" stroke-width="1.5"/>
<polyline points="416.2,238.2 478.2,238.2 478.2,238.2 478.2,238.2 478.2,251.64 482.2,251.64 482.2,251.64 482.2,251.64 482.2,265.08 490.2,265.08 490.2,265.08 490.2,265.08 490.2,278.52 494.2,278.52 494.2,278.52 494.2,278.52 494.2,291.96 524.2,291.96 524.2,291.96 524.2,291.96 524.2,305.4" fill="none" stroke="#1a3cff" stroke-width="1.5"/>
<polyline points="416.2,238.2 474.2,238.2 474.2,238.2 474.2,238.2 474.2,251.64 478.2,251.64 478.2,251.64 478.2,251.64 478.2,269.78 482.2,269.78 482.2,269.78 482.2,269.78 482.2,287.26 502.2,287.26 502.2,287.26 502.2,287.26 502.2,305.4" fill="none" stroke="#ff2a00" stroke-width="1.5"/>
<polyline points="416.2,238.2 466.2,238.2 466.2,238.2 466.2,238.2 466.2,251.64 478.2,251.64 478.2,251.64 478.2,251.64 478.2,265.08 482.2,265.08 482.2,265.08 482.2,265.08 482.2,278.52 494.2,278.52 494.2,278.52 494.2,278.52 494.2,291.96 506.2,291.96 506.2,291.96 506.2,291.96 506.2,305.4" fill="none" stroke="#000000" stroke-width="1.5"/>
<text x="472.4" y="229.2" font-size="7.9" text-anchor="middle" font-weight="bold">BCX017</text>
<text x="472.4" y="327.3" font-size="7.6" text-anchor="middle">Days on Treatment</text>
<text x="396.5" y="267.6" font-size="7.6" text-anchor="middle" transform="rotate(-90 396.5 267.6)">Survival (%)</text>
<text x="511.9" y="248" font-size="6.3" text-anchor="middle" textLength="26.9" lengthAdjust="spacingAndGlyphs">p &lt; 0.0001</text>
<line x1="417.3" y1="348.46" x2="417.3" y2="425.3" stroke="#222" stroke-width="1.1"/>
<line x1="414.3" y1="424.8" x2="417.3" y2="424.8" stroke="#222" stroke-width="1"/>
<text x="413" y="427.5" font-size="7.3" text-anchor="end">0</text>
<line x1="414.3" y1="410.92" x2="417.3" y2="410.92" stroke="#222" stroke-width="1"/>
<text x="413" y="413.62" font-size="7.3" text-anchor="end">20</text>
<line x1="414.3" y1="397.04" x2="417.3" y2="397.04" stroke="#222" stroke-width="1"/>
<text x="413" y="399.74" font-size="7.3" text-anchor="end">40</text>
<line x1="414.3" y1="383.16" x2="417.3" y2="383.16" stroke="#222" stroke-width="1"/>
<text x="413" y="385.86" font-size="7.3" text-anchor="end">60</text>
<line x1="414.3" y1="369.28" x2="417.3" y2="369.28" stroke="#222" stroke-width="1"/>
<text x="413" y="371.98" font-size="7.3" text-anchor="end">80</text>
<line x1="414.3" y1="355.4" x2="417.3" y2="355.4" stroke="#222" stroke-width="1"/>
<text x="413" y="358.1" font-size="7.3" text-anchor="end">100</text>
<line x1="417.3" y1="424.8" x2="532.8" y2="424.8" stroke="#222" stroke-width="1.1"/>
<line x1="417.3" y1="424.8" x2="417.3" y2="427.8" stroke="#222" stroke-width="1"/>
<text x="417.3" y="435.1" font-size="7.6" text-anchor="middle">0</text>
<line x1="446.15" y1="424.8" x2="446.15" y2="427.8" stroke="#222" stroke-width="1"/>
<text x="446.15" y="435.1" font-size="7.6" text-anchor="middle">5</text>
<line x1="475" y1="424.8" x2="475" y2="427.8" stroke="#222" stroke-width="1"/>
<text x="475" y="435.1" font-size="7.6" text-anchor="middle">10</text>
<line x1="503.85" y1="424.8" x2="503.85" y2="427.8" stroke="#222" stroke-width="1"/>
<text x="503.85" y="435.1" font-size="7.6" text-anchor="middle">15</text>
<line x1="532.7" y1="424.8" x2="532.7" y2="427.8" stroke="#222" stroke-width="1"/>
<text x="532.7" y="435.1" font-size="7.6" text-anchor="middle">20</text>
<line x1="417.3" y1="390.1" x2="532.8" y2="390.1" stroke="#555" stroke-width="0.8" stroke-dasharray="2.2 1.6"/>
<polyline points="417.3,355.4 509.62,355.4 509.62,355.4" fill="none" stroke="#ff9500" stroke-width="1.5"/>
<polyline points="417.3,355.4 503.85,355.4 503.85,355.4" fill="none" stroke="#0c9a3c" stroke-width="1.5"/>
<polyline points="417.3,355.4 492.31,355.4 492.31,355.4 492.31,355.4 492.31,369.28 498.08,369.28 498.08,369.28 498.08,369.28 498.08,383.16 503.85,383.16 503.85,383.16 503.85,383.16 503.85,410.92 509.62,410.92 509.62,410.92" fill="none" stroke="#1a3cff" stroke-width="1.5"/>
<polyline points="417.3,355.4 475,355.4 475,355.4 475,355.4 475,383.16 486.54,383.16 486.54,383.16 486.54,383.16 486.54,424.8" fill="none" stroke="#ff2a00" stroke-width="1.5"/>
<polyline points="417.3,355.4 463.46,355.4 463.46,355.4 463.46,355.4 463.46,397.04 475,397.04 475,397.04 475,397.04 475,424.8" fill="none" stroke="#000000" stroke-width="1.5"/>
<text x="475.1" y="346" font-size="7.9" text-anchor="middle" font-weight="bold">T1p</text>
<text x="474.6" y="446.7" font-size="7.6" text-anchor="middle">Days on Treatment</text>
<text x="396.5" y="385" font-size="7.6" text-anchor="middle" transform="rotate(-90 396.5 385)">Survival (%)</text>
<text x="516" y="365.5" font-size="6.3" text-anchor="middle" textLength="26.9" lengthAdjust="spacingAndGlyphs">p &lt; 0.0001</text>
<line x1="546" y1="28.2" x2="555" y2="28.2" stroke="#000000" stroke-width="1.3"/>
<circle cx="550.5" cy="28.2" r="1.5" fill="#000000"/>
<text x="559.7" y="31.1" font-size="7.9">Vehicle</text>
<line x1="546" y1="38.8" x2="555" y2="38.8" stroke="#ff2a00" stroke-width="1.3"/>
<circle cx="550.5" cy="38.8" r="1.5" fill="#ff2a00"/>
<text x="559.7" y="41.7" font-size="7.9">Palbociclib</text>
<line x1="546" y1="49.1" x2="555" y2="49.1" stroke="#1a3cff" stroke-width="1.3"/>
<circle cx="550.5" cy="49.1" r="1.5" fill="#1a3cff"/>
<text x="559.7" y="52" font-size="7.9">BLU-222 (50 mpk)</text>
<line x1="546" y1="59.7" x2="555" y2="59.7" stroke="#0c9a3c" stroke-width="1.3"/>
<circle cx="550.5" cy="59.7" r="1.5" fill="#0c9a3c"/>
<text x="559.7" y="62.6" font-size="7.9">BLU-222 (100 mpk)</text>
<line x1="546" y1="70" x2="555" y2="70" stroke="#ff9500" stroke-width="1.3"/>
<circle cx="550.5" cy="70" r="1.5" fill="#ff9500"/>
<text x="559.7" y="72.9" font-size="7.9">BLU-222+Palbo</text>
<line x1="549" y1="141.6" x2="558.8" y2="141.6" stroke="#000000" stroke-width="1.3"/>
<circle cx="553.9" cy="141.6" r="1.5" fill="#000000"/>
<text x="563.8" y="144.5" font-size="8.1">Vehicle</text>
<line x1="549" y1="152.2" x2="558.8" y2="152.2" stroke="#ff2a00" stroke-width="1.3"/>
<circle cx="553.9" cy="152.2" r="1.5" fill="#ff2a00"/>
<text x="563.8" y="155.1" font-size="8.1">Palbociclib</text>
<line x1="549" y1="162.4" x2="558.8" y2="162.4" stroke="#1a3cff" stroke-width="1.3"/>
<circle cx="553.9" cy="162.4" r="1.5" fill="#1a3cff"/>
<text x="563.8" y="165.3" font-size="8.1">BLU-222 (50 mpk)</text>
<line x1="549" y1="173.3" x2="558.8" y2="173.3" stroke="#0c9a3c" stroke-width="1.3"/>
<circle cx="553.9" cy="173.3" r="1.5" fill="#0c9a3c"/>
<text x="563.8" y="176.2" font-size="8.1">BLU-222 (100 mpk)</text>
<line x1="549" y1="183.8" x2="558.8" y2="183.8" stroke="#ff9500" stroke-width="1.3"/>
<circle cx="553.9" cy="183.8" r="1.5" fill="#ff9500"/>
<text x="563.8" y="186.7" font-size="8.1">BLU-222+Palbo</text>
<line x1="551.9" y1="253.6" x2="562.1" y2="253.6" stroke="#000000" stroke-width="1.3"/>
<circle cx="557" cy="253.6" r="1.5" fill="#000000"/>
<text x="567.1" y="256.5" font-size="8.2">Vehicle</text>
<line x1="551.9" y1="264.7" x2="562.1" y2="264.7" stroke="#ff2a00" stroke-width="1.3"/>
<circle cx="557" cy="264.7" r="1.5" fill="#ff2a00"/>
<text x="567.1" y="267.6" font-size="8.2">Palbociclib</text>
<line x1="551.9" y1="275.8" x2="562.1" y2="275.8" stroke="#1a3cff" stroke-width="1.3"/>
<circle cx="557" cy="275.8" r="1.5" fill="#1a3cff"/>
<text x="567.1" y="278.7" font-size="8.2">BLU-222 (50 mpk)</text>
<line x1="551.9" y1="287.4" x2="562.1" y2="287.4" stroke="#0c9a3c" stroke-width="1.3"/>
<circle cx="557" cy="287.4" r="1.5" fill="#0c9a3c"/>
<text x="567.1" y="290.3" font-size="8.2">BLU-222 (100 mpk)</text>
<line x1="551.9" y1="298.2" x2="562.1" y2="298.2" stroke="#ff9500" stroke-width="1.3"/>
<circle cx="557" cy="298.2" r="1.5" fill="#ff9500"/>
<text x="567.1" y="301.1" font-size="8.2">BLU-222+Palbo</text>
<line x1="555.5" y1="378.3" x2="565.7" y2="378.3" stroke="#000000" stroke-width="1.3"/>
<circle cx="560.6" cy="378.3" r="1.5" fill="#000000"/>
<text x="571.3" y="381.2" font-size="8.3">Vehicle</text>
<line x1="555.5" y1="389.9" x2="565.7" y2="389.9" stroke="#ff2a00" stroke-width="1.3"/>
<circle cx="560.6" cy="389.9" r="1.5" fill="#ff2a00"/>
<text x="571.3" y="392.8" font-size="8.3">Palbociclib</text>
<line x1="555.5" y1="401.3" x2="565.7" y2="401.3" stroke="#1a3cff" stroke-width="1.3"/>
<circle cx="560.6" cy="401.3" r="1.5" fill="#1a3cff"/>
<text x="571.3" y="404.2" font-size="8.3">BLU-222 (50 mpk)</text>
<line x1="555.5" y1="413" x2="565.7" y2="413" stroke="#0c9a3c" stroke-width="1.3"/>
<circle cx="560.6" cy="413" r="1.5" fill="#0c9a3c"/>
<text x="571.3" y="415.9" font-size="8.3">BLU-222 (100 mpk)</text>
<line x1="555.5" y1="424.3" x2="565.7" y2="424.3" stroke="#ff9500" stroke-width="1.3"/>
<circle cx="560.6" cy="424.3" r="1.5" fill="#ff9500"/>
<text x="571.3" y="427.2" font-size="8.3">BLU-222+Palbo</text>
<rect x="555.5" y="88.9" width="112" height="10" fill="#fff" stroke="#b0b0b0" stroke-width="0.8"/>
<rect x="512.2" y="98.9" width="155.3" height="9.4" fill="#e8e8e8" stroke="#b0b0b0" stroke-width="0.8"/>
<line x1="575.4" y1="88.9" x2="575.4" y2="98.9" stroke="#b0b0b0" stroke-width="0.8"/>
<line x1="591.5" y1="88.9" x2="591.5" y2="98.9" stroke="#b0b0b0" stroke-width="0.8"/>
<line x1="612.6" y1="88.9" x2="612.6" y2="98.9" stroke="#b0b0b0" stroke-width="0.8"/>
<line x1="636.5" y1="88.9" x2="636.5" y2="98.9" stroke="#b0b0b0" stroke-width="0.8"/>
<line x1="555.5" y1="98.9" x2="555.5" y2="108.3" stroke="#b0b0b0" stroke-width="0.8"/>
<line x1="575.4" y1="98.9" x2="575.4" y2="108.3" stroke="#b0b0b0" stroke-width="0.8"/>
<line x1="591.5" y1="98.9" x2="591.5" y2="108.3" stroke="#b0b0b0" stroke-width="0.8"/>
<line x1="612.6" y1="98.9" x2="612.6" y2="108.3" stroke="#b0b0b0" stroke-width="0.8"/>
<line x1="636.5" y1="98.9" x2="636.5" y2="108.3" stroke="#b0b0b0" stroke-width="0.8"/>
<text x="565.45" y="95.9" font-size="5.4" text-anchor="middle" font-weight="bold">V</text>
<text x="583.45" y="95.9" font-size="5.4" text-anchor="middle" font-weight="bold" fill="#ff1a1a">P</text>
<text x="602.05" y="95.9" font-size="5.4" text-anchor="middle" font-weight="bold" fill="#1a3cff">B(50)</text>
<text x="624.55" y="95.9" font-size="5.4" text-anchor="middle" font-weight="bold" fill="#10b040">B(100)</text>
<text x="652" y="95.9" font-size="5.4" text-anchor="middle" font-weight="bold" fill="#f5b400">B+P</text>
<text x="533.85" y="105.6" font-size="5.4" text-anchor="middle">Median Survival</text>
<text x="565.45" y="105.6" font-size="5.4" text-anchor="middle">24.5</text>
<text x="583.45" y="105.6" font-size="5.4" text-anchor="middle">32</text>
<text x="602.05" y="105.6" font-size="5.4" text-anchor="middle">31</text>
<text x="624.55" y="105.6" font-size="5.4" text-anchor="middle">39</text>
<text x="652" y="105.6" font-size="5.4" text-anchor="middle">Undefined</text>
<rect x="558.2" y="198.5" width="107.4" height="10.3" fill="#fff" stroke="#b0b0b0" stroke-width="0.8"/>
<rect x="512.2" y="208.8" width="153.4" height="10.5" fill="#e8e8e8" stroke="#b0b0b0" stroke-width="0.8"/>
<line x1="577.7" y1="198.5" x2="577.7" y2="208.8" stroke="#b0b0b0" stroke-width="0.8"/>
<line x1="593.5" y1="198.5" x2="593.5" y2="208.8" stroke="#b0b0b0" stroke-width="0.8"/>
<line x1="615.1" y1="198.5" x2="615.1" y2="208.8" stroke="#b0b0b0" stroke-width="0.8"/>
<line x1="644.8" y1="198.5" x2="644.8" y2="208.8" stroke="#b0b0b0" stroke-width="0.8"/>
<line x1="558.2" y1="208.8" x2="558.2" y2="219.3" stroke="#b0b0b0" stroke-width="0.8"/>
<line x1="577.7" y1="208.8" x2="577.7" y2="219.3" stroke="#b0b0b0" stroke-width="0.8"/>
<line x1="593.5" y1="208.8" x2="593.5" y2="219.3" stroke="#b0b0b0" stroke-width="0.8"/>
<line x1="615.1" y1="208.8" x2="615.1" y2="219.3" stroke="#b0b0b0" stroke-width="0.8"/>
<text x="567.95" y="205.65" font-size="5.4" text-anchor="middle" font-weight="bold">V</text>
<text x="585.6" y="205.65" font-size="5.4" text-anchor="middle" font-weight="bold" fill="#ff1a1a">P</text>
<text x="604.3" y="205.65" font-size="5.4" text-anchor="middle" font-weight="bold" fill="#1a3cff">B(50)</text>
<text x="629.95" y="205.65" font-size="5.4" text-anchor="middle" font-weight="bold" fill="#10b040">B(100)</text>
<text x="655.2" y="205.65" font-size="5.4" text-anchor="middle" font-weight="bold" fill="#f5b400">B+P</text>
<text x="535.2" y="216.05" font-size="5.4" text-anchor="middle">Median Survival</text>
<text x="567.95" y="216.05" font-size="5.4" text-anchor="middle">24</text>
<text x="585.6" y="216.05" font-size="5.4" text-anchor="middle">32</text>
<text x="604.3" y="216.05" font-size="5.4" text-anchor="middle">42</text>
<text x="640.35" y="216.05" font-size="5.4" text-anchor="middle">Undefined</text>
<rect x="563.5" y="313.3" width="106.8" height="11.1" fill="#fff" stroke="#b0b0b0" stroke-width="0.8"/>
<rect x="517.2" y="324.4" width="153.1" height="10.3" fill="#e8e8e8" stroke="#b0b0b0" stroke-width="0.8"/>
<line x1="582.4" y1="313.3" x2="582.4" y2="324.4" stroke="#b0b0b0" stroke-width="0.8"/>
<line x1="598.5" y1="313.3" x2="598.5" y2="324.4" stroke="#b0b0b0" stroke-width="0.8"/>
<line x1="620.4" y1="313.3" x2="620.4" y2="324.4" stroke="#b0b0b0" stroke-width="0.8"/>
<line x1="649.8" y1="313.3" x2="649.8" y2="324.4" stroke="#b0b0b0" stroke-width="0.8"/>
<line x1="563.5" y1="324.4" x2="563.5" y2="334.7" stroke="#b0b0b0" stroke-width="0.8"/>
<line x1="582.4" y1="324.4" x2="582.4" y2="334.7" stroke="#b0b0b0" stroke-width="0.8"/>
<line x1="598.5" y1="324.4" x2="598.5" y2="334.7" stroke="#b0b0b0" stroke-width="0.8"/>
<line x1="620.4" y1="324.4" x2="620.4" y2="334.7" stroke="#b0b0b0" stroke-width="0.8"/>
<text x="572.95" y="320.85" font-size="5.4" text-anchor="middle" font-weight="bold">V</text>
<text x="590.45" y="320.85" font-size="5.4" text-anchor="middle" font-weight="bold" fill="#ff1a1a">P</text>
<text x="609.45" y="320.85" font-size="5.4" text-anchor="middle" font-weight="bold" fill="#1a3cff">B(50)</text>
<text x="635.1" y="320.85" font-size="5.4" text-anchor="middle" font-weight="bold" fill="#10b040">B(100)</text>
<text x="660.05" y="320.85" font-size="5.4" text-anchor="middle" font-weight="bold" fill="#f5b400">B+P</text>
<text x="540.35" y="331.55" font-size="5.4" text-anchor="middle">Median Survival</text>
<text x="572.95" y="331.55" font-size="5.4" text-anchor="middle">24</text>
<text x="590.45" y="331.55" font-size="5.4" text-anchor="middle">32</text>
<text x="609.45" y="331.55" font-size="5.4" text-anchor="middle">42</text>
<text x="645.35" y="331.55" font-size="5.4" text-anchor="middle">Undefined</text>
<rect x="556.6" y="441.9" width="109" height="11.4" fill="#fff" stroke="#b0b0b0" stroke-width="0.8"/>
<rect x="506.9" y="453.3" width="158.7" height="11.2" fill="#e8e8e8" stroke="#b0b0b0" stroke-width="0.8"/>
<line x1="574" y1="441.9" x2="574" y2="453.3" stroke="#b0b0b0" stroke-width="0.8"/>
<line x1="590.7" y1="441.9" x2="590.7" y2="453.3" stroke="#b0b0b0" stroke-width="0.8"/>
<line x1="614.3" y1="441.9" x2="614.3" y2="453.3" stroke="#b0b0b0" stroke-width="0.8"/>
<line x1="641.5" y1="441.9" x2="641.5" y2="453.3" stroke="#b0b0b0" stroke-width="0.8"/>
<line x1="556.6" y1="453.3" x2="556.6" y2="464.5" stroke="#b0b0b0" stroke-width="0.8"/>
<line x1="574" y1="453.3" x2="574" y2="464.5" stroke="#b0b0b0" stroke-width="0.8"/>
<line x1="590.7" y1="453.3" x2="590.7" y2="464.5" stroke="#b0b0b0" stroke-width="0.8"/>
<line x1="614.3" y1="453.3" x2="614.3" y2="464.5" stroke="#b0b0b0" stroke-width="0.8"/>
<text x="565.3" y="449.6" font-size="5.4" text-anchor="middle" font-weight="bold">V</text>
<text x="582.35" y="449.6" font-size="5.4" text-anchor="middle" font-weight="bold" fill="#ff1a1a">P</text>
<text x="602.5" y="449.6" font-size="5.4" text-anchor="middle" font-weight="bold" fill="#1a3cff">B(50)</text>
<text x="627.9" y="449.6" font-size="5.4" text-anchor="middle" font-weight="bold" fill="#10b040">B(100)</text>
<text x="653.55" y="449.6" font-size="5.4" text-anchor="middle" font-weight="bold" fill="#f5b400">B+P</text>
<text x="531.75" y="460.9" font-size="5.4" text-anchor="middle">Median Survival</text>
<text x="565.3" y="460.9" font-size="5.4" text-anchor="middle">8</text>
<text x="582.35" y="460.9" font-size="5.4" text-anchor="middle">12</text>
<text x="602.5" y="460.9" font-size="5.4" text-anchor="middle">15</text>
<text x="639.95" y="460.9" font-size="5.4" text-anchor="middle">Undefined</text>
<line x1="53.6" y1="496.1" x2="53.6" y2="571.6" stroke="#111" stroke-width="1.2"/>
<line x1="49.6" y1="571" x2="53.6" y2="571" stroke="#111" stroke-width="1.1"/>
<text x="48.3" y="574.2" font-size="9" text-anchor="end">0</text>
<line x1="49.6" y1="556.12" x2="53.6" y2="556.12" stroke="#111" stroke-width="1.1"/>
<text x="48.3" y="559.32" font-size="9" text-anchor="end">20</text>
<line x1="49.6" y1="541.24" x2="53.6" y2="541.24" stroke="#111" stroke-width="1.1"/>
<text x="48.3" y="544.44" font-size="9" text-anchor="end">40</text>
<line x1="49.6" y1="526.36" x2="53.6" y2="526.36" stroke="#111" stroke-width="1.1"/>
<text x="48.3" y="529.56" font-size="9" text-anchor="end">60</text>
<line x1="49.6" y1="511.48" x2="53.6" y2="511.48" stroke="#111" stroke-width="1.1"/>
<text x="48.3" y="514.68" font-size="9" text-anchor="end">80</text>
<line x1="49.6" y1="496.6" x2="53.6" y2="496.6" stroke="#111" stroke-width="1.1"/>
<text x="48.3" y="499.8" font-size="9" text-anchor="end">100</text>
<rect x="61" y="515.2" width="10.6" height="55.8" fill="#7a7a7a" stroke="#000000" stroke-width="1.25"/>
<line x1="66.3" y1="511.48" x2="66.3" y2="518.92" stroke="#000000" stroke-width="1.1"/>
<line x1="63.97" y1="511.48" x2="68.63" y2="511.48" stroke="#000000" stroke-width="1.1"/>
<line x1="63.97" y1="518.92" x2="68.63" y2="518.92" stroke="#000000" stroke-width="1.1"/>
<circle cx="66.3" cy="515.42" r="1.45" fill="#000000"/>
<circle cx="66.3" cy="512.84" r="1.45" fill="#000000"/>
<circle cx="66.3" cy="522.64" r="1.45" fill="#000000"/>
<circle cx="69.63" cy="511.52" r="1.45" fill="#000000"/>
<circle cx="66.3" cy="519.65" r="1.45" fill="#000000"/>
<circle cx="69.63" cy="519.27" r="1.45" fill="#000000"/>
<circle cx="62.96" cy="519.53" r="1.45" fill="#000000"/>
<circle cx="66.3" cy="510.06" r="1.45" fill="#000000"/>
<circle cx="62.96" cy="513.61" r="1.45" fill="#000000"/>
<circle cx="69.2" cy="513.6" r="1.45" fill="#000000"/>
<circle cx="69.63" cy="516.92" r="1.45" fill="#000000"/>
<circle cx="66.46" cy="511.87" r="1.45" fill="#000000"/>
<circle cx="66.3" cy="505.53" r="1.45" fill="#000000"/>
<circle cx="67.49" cy="513.94" r="1.45" fill="#000000"/>
<circle cx="66.3" cy="519.3" r="1.45" fill="#000000"/>
<rect x="79.2" y="521.9" width="10.6" height="49.1" fill="#ff8f7c" stroke="#ff2a00" stroke-width="1.25"/>
<line x1="84.5" y1="519.66" x2="84.5" y2="524.13" stroke="#ff2a00" stroke-width="1.1"/>
<line x1="82.17" y1="519.66" x2="86.83" y2="519.66" stroke="#ff2a00" stroke-width="1.1"/>
<line x1="82.17" y1="524.13" x2="86.83" y2="524.13" stroke="#ff2a00" stroke-width="1.1"/>
<circle cx="84.5" cy="519.92" r="1.45" fill="#ff2a00"/>
<circle cx="87.83" cy="518.92" r="1.45" fill="#ff2a00"/>
<circle cx="84.5" cy="526.36" r="1.45" fill="#ff2a00"/>
<circle cx="86.17" cy="522" r="1.45" fill="#ff2a00"/>
<circle cx="84.5" cy="523.79" r="1.45" fill="#ff2a00"/>
<circle cx="81.17" cy="523.06" r="1.45" fill="#ff2a00"/>
<circle cx="87.45" cy="523.13" r="1.45" fill="#ff2a00"/>
<circle cx="80.26" cy="522.35" r="1.45" fill="#ff2a00"/>
<rect x="98" y="518.18" width="10.6" height="52.82" fill="#8aa2ff" stroke="#1a3cff" stroke-width="1.25"/>
<line x1="103.3" y1="513.71" x2="103.3" y2="522.64" stroke="#1a3cff" stroke-width="1.1"/>
<line x1="100.97" y1="513.71" x2="105.63" y2="513.71" stroke="#1a3cff" stroke-width="1.1"/>
<line x1="100.97" y1="522.64" x2="105.63" y2="522.64" stroke="#1a3cff" stroke-width="1.1"/>
<circle cx="103.3" cy="521.55" r="1.45" fill="#1a3cff"/>
<circle cx="103.3" cy="529.34" r="1.45" fill="#1a3cff"/>
<circle cx="103.3" cy="516.47" r="1.45" fill="#1a3cff"/>
<circle cx="104.97" cy="523.24" r="1.45" fill="#1a3cff"/>
<circle cx="106.63" cy="529.24" r="1.45" fill="#1a3cff"/>
<circle cx="106.63" cy="517.24" r="1.45" fill="#1a3cff"/>
<circle cx="99.97" cy="518.07" r="1.45" fill="#1a3cff"/>
<circle cx="103.3" cy="511.48" r="1.45" fill="#1a3cff"/>
<circle cx="106.63" cy="520.19" r="1.45" fill="#1a3cff"/>
<circle cx="101.63" cy="523.32" r="1.45" fill="#1a3cff"/>
<circle cx="107.29" cy="519.43" r="1.45" fill="#1a3cff"/>
<circle cx="105.87" cy="516.06" r="1.45" fill="#1a3cff"/>
<circle cx="101.64" cy="518.39" r="1.45" fill="#1a3cff"/>
<circle cx="106.56" cy="522.97" r="1.45" fill="#1a3cff"/>
<circle cx="100.85" cy="515.97" r="1.45" fill="#1a3cff"/>
<rect x="116.6" y="521.9" width="10.6" height="49.1" fill="#84c884" stroke="#0a8f0a" stroke-width="1.25"/>
<line x1="121.9" y1="505.53" x2="121.9" y2="538.26" stroke="#0a8f0a" stroke-width="1.1"/>
<line x1="119.57" y1="505.53" x2="124.23" y2="505.53" stroke="#0a8f0a" stroke-width="1.1"/>
<line x1="119.57" y1="538.26" x2="124.23" y2="538.26" stroke="#0a8f0a" stroke-width="1.1"/>
<circle cx="121.9" cy="511.03" r="1.45" fill="#0a8f0a"/>
<circle cx="121.9" cy="527.77" r="1.45" fill="#0a8f0a"/>
<circle cx="121.9" cy="545.7" r="1.45" fill="#0a8f0a"/>
<circle cx="121.9" cy="504.07" r="1.45" fill="#0a8f0a"/>
<circle cx="123.57" cy="526.15" r="1.45" fill="#0a8f0a"/>
<circle cx="125.23" cy="511.72" r="1.45" fill="#0a8f0a"/>
<circle cx="121.9" cy="522.58" r="1.45" fill="#0a8f0a"/>
<circle cx="121.9" cy="501.06" r="1.45" fill="#0a8f0a"/>
<circle cx="125.23" cy="544.66" r="1.45" fill="#0a8f0a"/>
<circle cx="125.23" cy="523.21" r="1.45" fill="#0a8f0a"/>
<circle cx="121.9" cy="516.16" r="1.45" fill="#0a8f0a"/>
<circle cx="118.57" cy="527.17" r="1.45" fill="#0a8f0a"/>
<rect x="135.4" y="553.89" width="10.6" height="17.11" fill="#ffc982" stroke="#ff9500" stroke-width="1.25"/>
<line x1="140.7" y1="544.96" x2="140.7" y2="562.82" stroke="#ff9500" stroke-width="1.1"/>
<line x1="138.37" y1="544.96" x2="143.03" y2="544.96" stroke="#ff9500" stroke-width="1.1"/>
<line x1="138.37" y1="562.82" x2="143.03" y2="562.82" stroke="#ff9500" stroke-width="1.1"/>
<circle cx="140.7" cy="565.05" r="1.45" fill="#ff9500"/>
<circle cx="140.7" cy="560.58" r="1.45" fill="#ff9500"/>
<circle cx="140.7" cy="535.29" r="1.45" fill="#ff9500"/>
<circle cx="140.7" cy="538.08" r="1.45" fill="#ff9500"/>
<circle cx="140.7" cy="551.37" r="1.45" fill="#ff9500"/>
<circle cx="140.7" cy="549.02" r="1.45" fill="#ff9500"/>
<circle cx="140.7" cy="555.83" r="1.45" fill="#ff9500"/>
<circle cx="144.03" cy="548.94" r="1.45" fill="#ff9500"/>
<circle cx="144.03" cy="559.43" r="1.45" fill="#ff9500"/>
<circle cx="137.36" cy="559.01" r="1.45" fill="#ff9500"/>
<circle cx="140.7" cy="541.64" r="1.45" fill="#ff9500"/>
<circle cx="144.03" cy="552.33" r="1.45" fill="#ff9500"/>
<line x1="53.6" y1="571" x2="153.2" y2="571" stroke="#111" stroke-width="1.2"/>
<polyline points="66.3,502.03 66.3,488.7 140.7,488.7 140.7,530.79" fill="none" stroke="#111" stroke-width="1.1"/>
<text x="103.5" y="486.9" font-size="7.8" text-anchor="middle">&lt;0.0001</text>
<text x="103.5" y="472.4" font-size="11" text-anchor="middle" font-weight="bold">Ki67</text>
<text x="31.2" y="532.4" font-size="10.7" text-anchor="middle" transform="rotate(-90 31.2 532.4)">Percentage %</text>
<line x1="203.2" y1="495.7" x2="203.2" y2="569" stroke="#111" stroke-width="1.2"/>
<line x1="199.2" y1="568.4" x2="203.2" y2="568.4" stroke="#111" stroke-width="1.1"/>
<text x="197.9" y="571.6" font-size="9" text-anchor="end">0</text>
<line x1="199.2" y1="553.96" x2="203.2" y2="553.96" stroke="#111" stroke-width="1.1"/>
<text x="197.9" y="557.16" font-size="9" text-anchor="end">10</text>
<line x1="199.2" y1="539.52" x2="203.2" y2="539.52" stroke="#111" stroke-width="1.1"/>
<text x="197.9" y="542.72" font-size="9" text-anchor="end">20</text>
<line x1="199.2" y1="525.08" x2="203.2" y2="525.08" stroke="#111" stroke-width="1.1"/>
<text x="197.9" y="528.28" font-size="9" text-anchor="end">30</text>
<line x1="199.2" y1="510.64" x2="203.2" y2="510.64" stroke="#111" stroke-width="1.1"/>
<text x="197.9" y="513.84" font-size="9" text-anchor="end">40</text>
<line x1="199.2" y1="496.2" x2="203.2" y2="496.2" stroke="#111" stroke-width="1.1"/>
<text x="197.9" y="499.4" font-size="9" text-anchor="end">50</text>
<rect x="210.1" y="565.51" width="10.8" height="2.89" fill="#7a7a7a" stroke="#000000" stroke-width="1.25"/>
<line x1="215.5" y1="564.07" x2="215.5" y2="566.96" stroke="#000000" stroke-width="1.1"/>
<line x1="213.12" y1="564.07" x2="217.88" y2="564.07" stroke="#000000" stroke-width="1.1"/>
<line x1="213.12" y1="566.96" x2="217.88" y2="566.96" stroke="#000000" stroke-width="1.1"/>
<circle cx="215.5" cy="568.4" r="1.45" fill="#000000"/>
<circle cx="215.5" cy="564.03" r="1.45" fill="#000000"/>
<circle cx="218.84" cy="567.39" r="1.45" fill="#000000"/>
<circle cx="213.83" cy="566.14" r="1.45" fill="#000000"/>
<circle cx="216.33" cy="565.87" r="1.45" fill="#000000"/>
<circle cx="215.3" cy="567.15" r="1.45" fill="#000000"/>
<circle cx="218.84" cy="564.66" r="1.45" fill="#000000"/>
<circle cx="214.5" cy="564.64" r="1.45" fill="#000000"/>
<circle cx="211.44" cy="567.3" r="1.45" fill="#000000"/>
<circle cx="217.46" cy="564.62" r="1.45" fill="#000000"/>
<circle cx="219.54" cy="566.2" r="1.45" fill="#000000"/>
<circle cx="219.62" cy="566.15" r="1.45" fill="#000000"/>
<circle cx="216.91" cy="565.87" r="1.45" fill="#000000"/>
<circle cx="214.26" cy="566.2" r="1.45" fill="#000000"/>
<circle cx="212.16" cy="564.4" r="1.45" fill="#000000"/>
<circle cx="214.32" cy="563.75" r="1.45" fill="#000000"/>
<circle cx="217.14" cy="563.35" r="1.45" fill="#000000"/>
<circle cx="217" cy="565.21" r="1.45" fill="#000000"/>
<circle cx="212.16" cy="565.43" r="1.45" fill="#000000"/>
<circle cx="213.21" cy="564.26" r="1.45" fill="#000000"/>
<rect x="228.4" y="564.07" width="10.8" height="4.33" fill="#ff8f7c" stroke="#ff2a00" stroke-width="1.25"/>
<line x1="233.8" y1="559.74" x2="233.8" y2="568.4" stroke="#ff2a00" stroke-width="1.1"/>
<line x1="231.42" y1="559.74" x2="236.18" y2="559.74" stroke="#ff2a00" stroke-width="1.1"/>
<line x1="231.42" y1="568.4" x2="236.18" y2="568.4" stroke="#ff2a00" stroke-width="1.1"/>
<circle cx="233.8" cy="556.93" r="1.45" fill="#ff2a00"/>
<circle cx="233.8" cy="560.68" r="1.45" fill="#ff2a00"/>
<circle cx="237.14" cy="560.54" r="1.45" fill="#ff2a00"/>
<circle cx="233.8" cy="567.12" r="1.45" fill="#ff2a00"/>
<circle cx="233.8" cy="552.52" r="1.45" fill="#ff2a00"/>
<circle cx="237.14" cy="567.68" r="1.45" fill="#ff2a00"/>
<circle cx="235.47" cy="562.79" r="1.45" fill="#ff2a00"/>
<circle cx="232.13" cy="562.38" r="1.45" fill="#ff2a00"/>
<rect x="246.6" y="554.68" width="10.8" height="13.72" fill="#8aa2ff" stroke="#1a3cff" stroke-width="1.25"/>
<line x1="252" y1="546.02" x2="252" y2="563.35" stroke="#1a3cff" stroke-width="1.1"/>
<line x1="249.62" y1="546.02" x2="254.38" y2="546.02" stroke="#1a3cff" stroke-width="1.1"/>
<line x1="249.62" y1="563.35" x2="254.38" y2="563.35" stroke="#1a3cff" stroke-width="1.1"/>
<circle cx="252" cy="543.86" r="1.45" fill="#1a3cff"/>
<circle cx="252" cy="551.9" r="1.45" fill="#1a3cff"/>
<circle cx="252" cy="548.58" r="1.45" fill="#1a3cff"/>
<circle cx="253.67" cy="545.91" r="1.45" fill="#1a3cff"/>
<circle cx="255.34" cy="549.43" r="1.45" fill="#1a3cff"/>
<circle cx="252" cy="554.84" r="1.45" fill="#1a3cff"/>
<circle cx="255.34" cy="553.06" r="1.45" fill="#1a3cff"/>
<circle cx="252" cy="568.4" r="1.45" fill="#1a3cff"/>
<circle cx="252" cy="558" r="1.45" fill="#1a3cff"/>
<circle cx="250.33" cy="546.49" r="1.45" fill="#1a3cff"/>
<circle cx="252" cy="539.29" r="1.45" fill="#1a3cff"/>
<circle cx="248.66" cy="553.24" r="1.45" fill="#1a3cff"/>
<circle cx="248.66" cy="550.88" r="1.45" fill="#1a3cff"/>
<circle cx="255.41" cy="552.36" r="1.45" fill="#1a3cff"/>
<circle cx="252" cy="524.36" r="1.45" fill="#1a3cff"/>
<circle cx="248.66" cy="548.55" r="1.45" fill="#1a3cff"/>
<circle cx="249.08" cy="551.76" r="1.45" fill="#1a3cff"/>
<circle cx="250.2" cy="548.52" r="1.45" fill="#1a3cff"/>
<circle cx="252" cy="560.87" r="1.45" fill="#1a3cff"/>
<circle cx="255.22" cy="545.47" r="1.45" fill="#1a3cff"/>
<rect x="264.5" y="545.3" width="10.8" height="23.1" fill="#84c884" stroke="#0a8f0a" stroke-width="1.25"/>
<line x1="269.9" y1="533.74" x2="269.9" y2="556.85" stroke="#0a8f0a" stroke-width="1.1"/>
<line x1="267.52" y1="533.74" x2="272.28" y2="533.74" stroke="#0a8f0a" stroke-width="1.1"/>
<line x1="267.52" y1="556.85" x2="272.28" y2="556.85" stroke="#0a8f0a" stroke-width="1.1"/>
<circle cx="269.9" cy="559.74" r="1.45" fill="#0a8f0a"/>
<circle cx="269.9" cy="551.81" r="1.45" fill="#0a8f0a"/>
<circle cx="269.9" cy="526.52" r="1.45" fill="#0a8f0a"/>
<circle cx="269.9" cy="544.95" r="1.45" fill="#0a8f0a"/>
<circle cx="271.57" cy="546.82" r="1.45" fill="#0a8f0a"/>
<circle cx="269.9" cy="530.62" r="1.45" fill="#0a8f0a"/>
<circle cx="268.23" cy="547.32" r="1.45" fill="#0a8f0a"/>
<circle cx="269.9" cy="537.51" r="1.45" fill="#0a8f0a"/>
<circle cx="273.23" cy="529.33" r="1.45" fill="#0a8f0a"/>
<circle cx="273.23" cy="552.22" r="1.45" fill="#0a8f0a"/>
<circle cx="272.4" cy="547.04" r="1.45" fill="#0a8f0a"/>
<circle cx="271.57" cy="549.71" r="1.45" fill="#0a8f0a"/>
<rect x="282.6" y="549.63" width="10.8" height="18.77" fill="#ffc982" stroke="#ff9500" stroke-width="1.25"/>
<line x1="288" y1="537.35" x2="288" y2="561.9" stroke="#ff9500" stroke-width="1.1"/>
<line x1="285.62" y1="537.35" x2="290.38" y2="537.35" stroke="#ff9500" stroke-width="1.1"/>
<line x1="285.62" y1="561.9" x2="290.38" y2="561.9" stroke="#ff9500" stroke-width="1.1"/>
<circle cx="288" cy="541.22" r="1.45" fill="#ff9500"/>
<circle cx="288" cy="536.37" r="1.45" fill="#ff9500"/>
<circle cx="288" cy="560.1" r="1.45" fill="#ff9500"/>
<circle cx="291.33" cy="542.66" r="1.45" fill="#ff9500"/>
<circle cx="288" cy="509.2" r="1.45" fill="#ff9500"/>
<circle cx="288" cy="556.92" r="1.45" fill="#ff9500"/>
<circle cx="291.33" cy="555.55" r="1.45" fill="#ff9500"/>
<circle cx="289.67" cy="538.06" r="1.45" fill="#ff9500"/>
<circle cx="288" cy="551.52" r="1.45" fill="#ff9500"/>
<circle cx="288" cy="554.55" r="1.45" fill="#ff9500"/>
<circle cx="289.67" cy="561.84" r="1.45" fill="#ff9500"/>
<circle cx="288" cy="547" r="1.45" fill="#ff9500"/>
<circle cx="291.33" cy="558.57" r="1.45" fill="#ff9500"/>
<circle cx="291.33" cy="550.42" r="1.45" fill="#ff9500"/>
<circle cx="288" cy="565.51" r="1.45" fill="#ff9500"/>
<line x1="203.2" y1="568.4" x2="300.2" y2="568.4" stroke="#111" stroke-width="1.2"/>
<polyline points="215.5,559.85 215.5,516.9 252,516.9 252,519.86" fill="none" stroke="#111" stroke-width="1.1"/>
<text x="233.75" y="515.1" font-size="7.8" text-anchor="middle">0.0100</text>
<polyline points="215.5,511.4 215.5,503.8 269.9,503.8 269.9,522.02" fill="none" stroke="#111" stroke-width="1.1"/>
<text x="242.7" y="502" font-size="7.8" text-anchor="middle">&lt;0.0001</text>
<polyline points="215.5,498.3 215.5,490.9 288,490.9 288,504.7" fill="none" stroke="#111" stroke-width="1.1"/>
<text x="251.75" y="489.1" font-size="7.8" text-anchor="middle">&lt;0.0001</text>
<text x="251.6" y="473.4" font-size="11" text-anchor="middle" font-weight="bold"><tspan font-weight="normal">γ</tspan>H2AX</text>
<text x="183.9" y="530.9" font-size="10.3" text-anchor="middle" transform="rotate(-90 183.9 530.9)">Percentage %</text>
<line x1="348.4" y1="498.3" x2="348.4" y2="570" stroke="#111" stroke-width="1.2"/>
<line x1="344.4" y1="569.4" x2="348.4" y2="569.4" stroke="#111" stroke-width="1.1"/>
<text x="343.1" y="572.6" font-size="9" text-anchor="end">0</text>
<line x1="344.4" y1="551.75" x2="348.4" y2="551.75" stroke="#111" stroke-width="1.1"/>
<text x="343.1" y="554.95" font-size="9" text-anchor="end">20</text>
<line x1="344.4" y1="534.1" x2="348.4" y2="534.1" stroke="#111" stroke-width="1.1"/>
<text x="343.1" y="537.3" font-size="9" text-anchor="end">40</text>
<line x1="344.4" y1="516.45" x2="348.4" y2="516.45" stroke="#111" stroke-width="1.1"/>
<text x="343.1" y="519.65" font-size="9" text-anchor="end">60</text>
<line x1="344.4" y1="498.8" x2="348.4" y2="498.8" stroke="#111" stroke-width="1.1"/>
<text x="343.1" y="502" font-size="9" text-anchor="end">80</text>
<rect x="354.6" y="564.99" width="10.6" height="4.41" fill="#7a7a7a" stroke="#000000" stroke-width="1.25"/>
<line x1="359.9" y1="561.46" x2="359.9" y2="568.52" stroke="#000000" stroke-width="1.1"/>
<line x1="357.57" y1="561.46" x2="362.23" y2="561.46" stroke="#000000" stroke-width="1.1"/>
<line x1="357.57" y1="568.52" x2="362.23" y2="568.52" stroke="#000000" stroke-width="1.1"/>
<circle cx="359.9" cy="567.48" r="1.45" fill="#000000"/>
<circle cx="359.9" cy="562.87" r="1.45" fill="#000000"/>
<circle cx="363.23" cy="564.08" r="1.45" fill="#000000"/>
<circle cx="359.9" cy="556.16" r="1.45" fill="#000000"/>
<circle cx="361.57" cy="569.4" r="1.45" fill="#000000"/>
<circle cx="359.9" cy="560.16" r="1.45" fill="#000000"/>
<circle cx="363.23" cy="567.15" r="1.45" fill="#000000"/>
<circle cx="358.23" cy="565.16" r="1.45" fill="#000000"/>
<circle cx="356.56" cy="563.18" r="1.45" fill="#000000"/>
<circle cx="363.71" cy="566.66" r="1.45" fill="#000000"/>
<circle cx="362.39" cy="565.26" r="1.45" fill="#000000"/>
<circle cx="357.84" cy="563.62" r="1.45" fill="#000000"/>
<rect x="372.6" y="565.87" width="10.6" height="3.53" fill="#ff8f7c" stroke="#ff2a00" stroke-width="1.25"/>
<line x1="377.9" y1="564.55" x2="377.9" y2="567.19" stroke="#ff2a00" stroke-width="1.1"/>
<line x1="375.57" y1="564.55" x2="380.23" y2="564.55" stroke="#ff2a00" stroke-width="1.1"/>
<line x1="375.57" y1="567.19" x2="380.23" y2="567.19" stroke="#ff2a00" stroke-width="1.1"/>
<circle cx="377.9" cy="563.22" r="1.45" fill="#ff2a00"/>
<circle cx="377.9" cy="566.89" r="1.45" fill="#ff2a00"/>
<circle cx="381.23" cy="566.8" r="1.45" fill="#ff2a00"/>
<circle cx="374.56" cy="565.82" r="1.45" fill="#ff2a00"/>
<circle cx="375.16" cy="565.38" r="1.45" fill="#ff2a00"/>
<circle cx="375.38" cy="566.98" r="1.45" fill="#ff2a00"/>
<circle cx="378.09" cy="567.4" r="1.45" fill="#ff2a00"/>
<circle cx="375.81" cy="566.03" r="1.45" fill="#ff2a00"/>
<circle cx="377.56" cy="568.52" r="1.45" fill="#ff2a00"/>
<circle cx="379.57" cy="565.06" r="1.45" fill="#ff2a00"/>
<rect x="390.5" y="563.22" width="10.6" height="6.18" fill="#8aa2ff" stroke="#1a3cff" stroke-width="1.25"/>
<line x1="395.8" y1="558.81" x2="395.8" y2="567.63" stroke="#1a3cff" stroke-width="1.1"/>
<line x1="393.47" y1="558.81" x2="398.13" y2="558.81" stroke="#1a3cff" stroke-width="1.1"/>
<line x1="393.47" y1="567.63" x2="398.13" y2="567.63" stroke="#1a3cff" stroke-width="1.1"/>
<circle cx="395.8" cy="561.75" r="1.45" fill="#1a3cff"/>
<circle cx="395.8" cy="566.36" r="1.45" fill="#1a3cff"/>
<circle cx="399.13" cy="562.96" r="1.45" fill="#1a3cff"/>
<circle cx="392.47" cy="560.66" r="1.45" fill="#1a3cff"/>
<circle cx="394.13" cy="564.36" r="1.45" fill="#1a3cff"/>
<circle cx="399.13" cy="560.32" r="1.45" fill="#1a3cff"/>
<circle cx="397.64" cy="559.84" r="1.45" fill="#1a3cff"/>
<circle cx="395.8" cy="551.75" r="1.45" fill="#1a3cff"/>
<circle cx="395.8" cy="558.06" r="1.45" fill="#1a3cff"/>
<circle cx="399.13" cy="565.68" r="1.45" fill="#1a3cff"/>
<circle cx="392.72" cy="560.08" r="1.45" fill="#1a3cff"/>
<circle cx="399.8" cy="559.44" r="1.45" fill="#1a3cff"/>
<circle cx="396.68" cy="561.93" r="1.45" fill="#1a3cff"/>
<circle cx="397.69" cy="559.66" r="1.45" fill="#1a3cff"/>
<circle cx="395.8" cy="569.4" r="1.45" fill="#1a3cff"/>
<rect x="407.9" y="561.46" width="10.6" height="7.94" fill="#84c884" stroke="#0a8f0a" stroke-width="1.25"/>
<line x1="413.2" y1="557.04" x2="413.2" y2="565.87" stroke="#0a8f0a" stroke-width="1.1"/>
<line x1="410.87" y1="557.04" x2="415.53" y2="557.04" stroke="#0a8f0a" stroke-width="1.1"/>
<line x1="410.87" y1="565.87" x2="415.53" y2="565.87" stroke="#0a8f0a" stroke-width="1.1"/>
<circle cx="413.2" cy="558.37" r="1.45" fill="#0a8f0a"/>
<circle cx="413.2" cy="565.52" r="1.45" fill="#0a8f0a"/>
<circle cx="414.87" cy="560.15" r="1.45" fill="#0a8f0a"/>
<circle cx="409.87" cy="558.67" r="1.45" fill="#0a8f0a"/>
<circle cx="413.2" cy="552.63" r="1.45" fill="#0a8f0a"/>
<circle cx="413.2" cy="568.52" r="1.45" fill="#0a8f0a"/>
<circle cx="414.87" cy="563.26" r="1.45" fill="#0a8f0a"/>
<circle cx="414.87" cy="556.51" r="1.45" fill="#0a8f0a"/>
<circle cx="409.87" cy="564.04" r="1.45" fill="#0a8f0a"/>
<circle cx="416.53" cy="566.1" r="1.45" fill="#0a8f0a"/>
<circle cx="411.53" cy="556.11" r="1.45" fill="#0a8f0a"/>
<circle cx="409.99" cy="556.28" r="1.45" fill="#0a8f0a"/>
<rect x="425.6" y="540.28" width="10.6" height="29.12" fill="#ffc982" stroke="#ff9500" stroke-width="1.25"/>
<line x1="430.9" y1="528.8" x2="430.9" y2="551.75" stroke="#ff9500" stroke-width="1.1"/>
<line x1="428.57" y1="528.8" x2="433.23" y2="528.8" stroke="#ff9500" stroke-width="1.1"/>
<line x1="428.57" y1="551.75" x2="433.23" y2="551.75" stroke="#ff9500" stroke-width="1.1"/>
<circle cx="430.9" cy="542.63" r="1.45" fill="#ff9500"/>
<circle cx="430.9" cy="537.8" r="1.45" fill="#ff9500"/>
<circle cx="430.9" cy="529.86" r="1.45" fill="#ff9500"/>
<circle cx="434.23" cy="541.23" r="1.45" fill="#ff9500"/>
<circle cx="430.9" cy="532.53" r="1.45" fill="#ff9500"/>
<circle cx="430.9" cy="549.97" r="1.45" fill="#ff9500"/>
<circle cx="430.9" cy="546.42" r="1.45" fill="#ff9500"/>
<circle cx="432.57" cy="528.05" r="1.45" fill="#ff9500"/>
<circle cx="429.23" cy="539.72" r="1.45" fill="#ff9500"/>
<circle cx="430.9" cy="555.44" r="1.45" fill="#ff9500"/>
<circle cx="430.9" cy="518.22" r="1.45" fill="#ff9500"/>
<circle cx="434.23" cy="538.42" r="1.45" fill="#ff9500"/>
<circle cx="427.56" cy="537.77" r="1.45" fill="#ff9500"/>
<circle cx="434.23" cy="543.67" r="1.45" fill="#ff9500"/>
<circle cx="427.56" cy="542.88" r="1.45" fill="#ff9500"/>
<circle cx="426.69" cy="541.03" r="1.45" fill="#ff9500"/>
<circle cx="433.22" cy="542.66" r="1.45" fill="#ff9500"/>
<circle cx="430.9" cy="564.99" r="1.45" fill="#ff9500"/>
<line x1="348.4" y1="569.4" x2="442" y2="569.4" stroke="#111" stroke-width="1.2"/>
<polyline points="359.9,552.66 359.9,506.9 430.9,506.9 430.9,513.72" fill="none" stroke="#111" stroke-width="1.1"/>
<text x="395.4" y="505.1" font-size="7.8" text-anchor="middle">&lt;0.0001</text>
<text x="395" y="478" font-size="11" text-anchor="middle" font-weight="bold">p21</text>
<text x="329.3" y="532.9" font-size="10.0" text-anchor="middle" transform="rotate(-90 329.3 532.9)">Percentage %</text>
<line x1="496.4" y1="496.1" x2="496.4" y2="569.6" stroke="#111" stroke-width="1.2"/>
<line x1="492.4" y1="569" x2="496.4" y2="569" stroke="#111" stroke-width="1.1"/>
<text x="491.1" y="572.2" font-size="9" text-anchor="end">0</text>
<line x1="492.4" y1="550.9" x2="496.4" y2="550.9" stroke="#111" stroke-width="1.1"/>
<text x="491.1" y="554.1" font-size="9" text-anchor="end">20</text>
<line x1="492.4" y1="532.8" x2="496.4" y2="532.8" stroke="#111" stroke-width="1.1"/>
<text x="491.1" y="536" font-size="9" text-anchor="end">40</text>
<line x1="492.4" y1="514.7" x2="496.4" y2="514.7" stroke="#111" stroke-width="1.1"/>
<text x="491.1" y="517.9" font-size="9" text-anchor="end">60</text>
<line x1="492.4" y1="496.6" x2="496.4" y2="496.6" stroke="#111" stroke-width="1.1"/>
<text x="491.1" y="499.8" font-size="9" text-anchor="end">80</text>
<rect x="503.2" y="558.14" width="10.4" height="10.86" fill="#7a7a7a" stroke="#000000" stroke-width="1.25"/>
<line x1="508.4" y1="550.9" x2="508.4" y2="565.38" stroke="#000000" stroke-width="1.1"/>
<line x1="506.11" y1="550.9" x2="510.69" y2="550.9" stroke="#000000" stroke-width="1.1"/>
<line x1="506.11" y1="565.38" x2="510.69" y2="565.38" stroke="#000000" stroke-width="1.1"/>
<circle cx="508.4" cy="550.19" r="1.45" fill="#000000"/>
<circle cx="508.4" cy="561.37" r="1.45" fill="#000000"/>
<circle cx="510.07" cy="551.83" r="1.45" fill="#000000"/>
<circle cx="506.73" cy="553.18" r="1.45" fill="#000000"/>
<circle cx="508.4" cy="558.8" r="1.45" fill="#000000"/>
<circle cx="510.07" cy="548.19" r="1.45" fill="#000000"/>
<circle cx="508.4" cy="567.64" r="1.45" fill="#000000"/>
<circle cx="511.73" cy="568.1" r="1.45" fill="#000000"/>
<circle cx="511.73" cy="559.1" r="1.45" fill="#000000"/>
<circle cx="505.06" cy="567.07" r="1.45" fill="#000000"/>
<rect x="520.9" y="559.95" width="10.4" height="9.05" fill="#ff8f7c" stroke="#ff2a00" stroke-width="1.25"/>
<line x1="526.1" y1="554.52" x2="526.1" y2="565.38" stroke="#ff2a00" stroke-width="1.1"/>
<line x1="523.81" y1="554.52" x2="528.39" y2="554.52" stroke="#ff2a00" stroke-width="1.1"/>
<line x1="523.81" y1="565.38" x2="528.39" y2="565.38" stroke="#ff2a00" stroke-width="1.1"/>
<circle cx="526.1" cy="556.78" r="1.45" fill="#ff2a00"/>
<circle cx="526.1" cy="568.1" r="1.45" fill="#ff2a00"/>
<circle cx="529.44" cy="566.8" r="1.45" fill="#ff2a00"/>
<circle cx="529.44" cy="556.86" r="1.45" fill="#ff2a00"/>
<circle cx="526.1" cy="562.24" r="1.45" fill="#ff2a00"/>
<circle cx="522.76" cy="557.09" r="1.45" fill="#ff2a00"/>
<circle cx="526.1" cy="553.84" r="1.45" fill="#ff2a00"/>
<circle cx="523.45" cy="556.33" r="1.45" fill="#ff2a00"/>
<circle cx="527.77" cy="551.81" r="1.45" fill="#ff2a00"/>
<circle cx="522.76" cy="552.94" r="1.45" fill="#ff2a00"/>
<rect x="539.5" y="541.85" width="10.4" height="27.15" fill="#8aa2ff" stroke="#1a3cff" stroke-width="1.25"/>
<line x1="544.7" y1="532.8" x2="544.7" y2="550.9" stroke="#1a3cff" stroke-width="1.1"/>
<line x1="542.41" y1="532.8" x2="546.99" y2="532.8" stroke="#1a3cff" stroke-width="1.1"/>
<line x1="542.41" y1="550.9" x2="546.99" y2="550.9" stroke="#1a3cff" stroke-width="1.1"/>
<circle cx="544.7" cy="529.82" r="1.45" fill="#1a3cff"/>
<circle cx="544.7" cy="547.31" r="1.45" fill="#1a3cff"/>
<circle cx="544.7" cy="539.1" r="1.45" fill="#1a3cff"/>
<circle cx="548.04" cy="540.17" r="1.45" fill="#1a3cff"/>
<circle cx="544.7" cy="536.71" r="1.45" fill="#1a3cff"/>
<circle cx="544.7" cy="532.55" r="1.45" fill="#1a3cff"/>
<circle cx="544.7" cy="550.86" r="1.45" fill="#1a3cff"/>
<circle cx="548.04" cy="535.32" r="1.45" fill="#1a3cff"/>
<circle cx="541.37" cy="534.08" r="1.45" fill="#1a3cff"/>
<circle cx="548.04" cy="528.68" r="1.45" fill="#1a3cff"/>
<circle cx="541.37" cy="539.24" r="1.45" fill="#1a3cff"/>
<circle cx="540.83" cy="538.32" r="1.45" fill="#1a3cff"/>
<circle cx="544.7" cy="516.51" r="1.45" fill="#1a3cff"/>
<circle cx="548.04" cy="551.11" r="1.45" fill="#1a3cff"/>
<circle cx="543.03" cy="528.1" r="1.45" fill="#1a3cff"/>
<circle cx="543.14" cy="539.51" r="1.45" fill="#1a3cff"/>
<circle cx="541.37" cy="551.01" r="1.45" fill="#1a3cff"/>
<circle cx="544.7" cy="558.14" r="1.45" fill="#1a3cff"/>
<circle cx="548.04" cy="545.83" r="1.45" fill="#1a3cff"/>
<circle cx="548.72" cy="538.99" r="1.45" fill="#1a3cff"/>
<circle cx="548.04" cy="532.83" r="1.45" fill="#1a3cff"/>
<circle cx="541.37" cy="547.18" r="1.45" fill="#1a3cff"/>
<circle cx="544.7" cy="542.31" r="1.45" fill="#1a3cff"/>
<circle cx="545.42" cy="534.34" r="1.45" fill="#1a3cff"/>
<circle cx="542.89" cy="536.26" r="1.45" fill="#1a3cff"/>
<rect x="557.4" y="525.56" width="10.4" height="43.44" fill="#84c884" stroke="#0a8f0a" stroke-width="1.25"/>
<line x1="562.6" y1="521.03" x2="562.6" y2="530.09" stroke="#0a8f0a" stroke-width="1.1"/>
<line x1="560.31" y1="521.03" x2="564.89" y2="521.03" stroke="#0a8f0a" stroke-width="1.1"/>
<line x1="560.31" y1="530.09" x2="564.89" y2="530.09" stroke="#0a8f0a" stroke-width="1.1"/>
<circle cx="562.6" cy="522.03" r="1.45" fill="#0a8f0a"/>
<circle cx="565.94" cy="522.49" r="1.45" fill="#0a8f0a"/>
<circle cx="562.6" cy="525.57" r="1.45" fill="#0a8f0a"/>
<circle cx="562.6" cy="517.35" r="1.45" fill="#0a8f0a"/>
<circle cx="559.26" cy="524.47" r="1.45" fill="#0a8f0a"/>
<circle cx="561.64" cy="523.91" r="1.45" fill="#0a8f0a"/>
<circle cx="562.6" cy="514.7" r="1.45" fill="#0a8f0a"/>
<circle cx="566.43" cy="524.52" r="1.45" fill="#0a8f0a"/>
<circle cx="565.94" cy="527.06" r="1.45" fill="#0a8f0a"/>
<circle cx="562.98" cy="525.84" r="1.45" fill="#0a8f0a"/>
<circle cx="562.6" cy="537.33" r="1.45" fill="#0a8f0a"/>
<circle cx="564.88" cy="523.4" r="1.45" fill="#0a8f0a"/>
<rect x="575.6" y="535.51" width="10.4" height="33.49" fill="#ffc982" stroke="#ff9500" stroke-width="1.25"/>
<line x1="580.8" y1="521.03" x2="580.8" y2="550" stroke="#ff9500" stroke-width="1.1"/>
<line x1="578.51" y1="521.03" x2="583.09" y2="521.03" stroke="#ff9500" stroke-width="1.1"/>
<line x1="578.51" y1="550" x2="583.09" y2="550" stroke="#ff9500" stroke-width="1.1"/>
<circle cx="580.8" cy="526.9" r="1.45" fill="#ff9500"/>
<circle cx="580.8" cy="521.34" r="1.45" fill="#ff9500"/>
<circle cx="580.8" cy="545.31" r="1.45" fill="#ff9500"/>
<circle cx="580.8" cy="504.75" r="1.45" fill="#ff9500"/>
<circle cx="584.13" cy="546.92" r="1.45" fill="#ff9500"/>
<circle cx="580.8" cy="530.25" r="1.45" fill="#ff9500"/>
<circle cx="580.8" cy="541.91" r="1.45" fill="#ff9500"/>
<circle cx="582.47" cy="528.57" r="1.45" fill="#ff9500"/>
<circle cx="584.13" cy="525.44" r="1.45" fill="#ff9500"/>
<circle cx="580.8" cy="538.06" r="1.45" fill="#ff9500"/>
<circle cx="580.8" cy="533.32" r="1.45" fill="#ff9500"/>
<circle cx="584.13" cy="540.94" r="1.45" fill="#ff9500"/>
<circle cx="580.8" cy="508.9" r="1.45" fill="#ff9500"/>
<circle cx="577.46" cy="542.98" r="1.45" fill="#ff9500"/>
<circle cx="584.39" cy="541.45" r="1.45" fill="#ff9500"/>
<circle cx="580.8" cy="564.48" r="1.45" fill="#ff9500"/>
<circle cx="580.8" cy="547.77" r="1.45" fill="#ff9500"/>
<circle cx="584.13" cy="522.83" r="1.45" fill="#ff9500"/>
<circle cx="582.47" cy="536.29" r="1.45" fill="#ff9500"/>
<circle cx="577.21" cy="544.81" r="1.45" fill="#ff9500"/>
<circle cx="577.46" cy="528.82" r="1.45" fill="#ff9500"/>
<circle cx="577.46" cy="522.11" r="1.45" fill="#ff9500"/>
<circle cx="583.24" cy="542.22" r="1.45" fill="#ff9500"/>
<circle cx="577.46" cy="539.05" r="1.45" fill="#ff9500"/>
<circle cx="579.18" cy="529.14" r="1.45" fill="#ff9500"/>
<line x1="496.4" y1="569" x2="593.2" y2="569" stroke="#111" stroke-width="1.2"/>
<polyline points="508.4,544.69 508.4,509.3 544.7,509.3 544.7,512.01" fill="none" stroke="#111" stroke-width="1.1"/>
<text x="526.55" y="507.5" font-size="7.8" text-anchor="middle">&lt;0.0001</text>
<polyline points="508.4,503.8 508.4,498.8 562.6,498.8 562.6,510.2" fill="none" stroke="#111" stroke-width="1.1"/>
<text x="535.5" y="497" font-size="7.8" text-anchor="middle">&lt;0.0001</text>
<polyline points="508.4,493.3 508.4,488.3 580.8,488.3 580.8,500.25" fill="none" stroke="#111" stroke-width="1.1"/>
<text x="544.6" y="486.5" font-size="7.8" text-anchor="middle">&lt;0.0001</text>
<text x="544.9" y="476" font-size="12.2" text-anchor="middle" font-weight="bold">p27</text>
<text x="476.7" y="531.5" font-size="10.25" text-anchor="middle" transform="rotate(-90 476.7 531.5)">Percentage %</text>
<text x="613.2" y="496.4" font-size="11.7" font-weight="bold">XC517</text>
<circle cx="602.6" cy="504.3" r="1.6" fill="#000000"/>
<text x="613.4" y="507.1" font-size="7.9">Vehicle</text>
<circle cx="602.6" cy="517.1" r="1.6" fill="#ff2a00"/>
<text x="613.4" y="519.9" font-size="7.9">Palbociclib</text>
<circle cx="602.6" cy="529.8" r="1.6" fill="#1a3cff"/>
<text x="613.4" y="532.6" font-size="7.9">BLU-222 (50 mpk)</text>
<circle cx="602.6" cy="541.8" r="1.6" fill="#0a8f0a"/>
<text x="613.4" y="544.6" font-size="7.9">BLU-222 (100 mpk)</text>
<circle cx="602.6" cy="554.3" r="1.6" fill="#ff9500"/>
<text x="613.4" y="557.1" font-size="7.9">BLU-222+Palbo</text>
<line x1="57.2" y1="632.6" x2="57.2" y2="702.6" stroke="#111" stroke-width="1.2"/>
<line x1="53.2" y1="702" x2="57.2" y2="702" stroke="#111" stroke-width="1.1"/>
<text x="51.9" y="705.2" font-size="9" text-anchor="end">0</text>
<line x1="53.2" y1="688.22" x2="57.2" y2="688.22" stroke="#111" stroke-width="1.1"/>
<text x="51.9" y="691.42" font-size="9" text-anchor="end">20</text>
<line x1="53.2" y1="674.44" x2="57.2" y2="674.44" stroke="#111" stroke-width="1.1"/>
<text x="51.9" y="677.64" font-size="9" text-anchor="end">40</text>
<line x1="53.2" y1="660.66" x2="57.2" y2="660.66" stroke="#111" stroke-width="1.1"/>
<text x="51.9" y="663.86" font-size="9" text-anchor="end">60</text>
<line x1="53.2" y1="646.88" x2="57.2" y2="646.88" stroke="#111" stroke-width="1.1"/>
<text x="51.9" y="650.08" font-size="9" text-anchor="end">80</text>
<line x1="53.2" y1="633.1" x2="57.2" y2="633.1" stroke="#111" stroke-width="1.1"/>
<text x="51.9" y="636.3" font-size="9" text-anchor="end">100</text>
<rect x="64.05" y="639.3" width="9.7" height="62.7" fill="#7a7a7a" stroke="#000000" stroke-width="1.25"/>
<line x1="68.9" y1="636.55" x2="68.9" y2="642.06" stroke="#000000" stroke-width="1.1"/>
<line x1="66.77" y1="636.55" x2="71.03" y2="636.55" stroke="#000000" stroke-width="1.1"/>
<line x1="66.77" y1="642.06" x2="71.03" y2="642.06" stroke="#000000" stroke-width="1.1"/>
<circle cx="68.9" cy="639.25" r="1.45" fill="#000000"/>
<circle cx="68.9" cy="646.88" r="1.45" fill="#000000"/>
<circle cx="70.57" cy="637.14" r="1.45" fill="#000000"/>
<circle cx="65.57" cy="638.37" r="1.45" fill="#000000"/>
<circle cx="70.57" cy="641.17" r="1.45" fill="#000000"/>
<circle cx="68.72" cy="636.91" r="1.45" fill="#000000"/>
<circle cx="67.23" cy="641.04" r="1.45" fill="#000000"/>
<circle cx="71.44" cy="639.78" r="1.45" fill="#000000"/>
<circle cx="66.58" cy="641.12" r="1.45" fill="#000000"/>
<circle cx="65.57" cy="636.04" r="1.45" fill="#000000"/>
<circle cx="72.18" cy="638.24" r="1.45" fill="#000000"/>
<circle cx="71.91" cy="639.36" r="1.45" fill="#000000"/>
<circle cx="68.9" cy="633.79" r="1.45" fill="#000000"/>
<circle cx="68.2" cy="642.08" r="1.45" fill="#000000"/>
<circle cx="67.85" cy="636.87" r="1.45" fill="#000000"/>
<circle cx="68.52" cy="641.73" r="1.45" fill="#000000"/>
<circle cx="72.23" cy="635.24" r="1.45" fill="#000000"/>
<circle cx="68.01" cy="639.36" r="1.45" fill="#000000"/>
<circle cx="72.74" cy="638.81" r="1.45" fill="#000000"/>
<circle cx="68.02" cy="641.43" r="1.45" fill="#000000"/>
<circle cx="65.23" cy="640.11" r="1.45" fill="#000000"/>
<circle cx="65.74" cy="638.58" r="1.45" fill="#000000"/>
<circle cx="70.59" cy="635" r="1.45" fill="#000000"/>
<circle cx="72.72" cy="637.37" r="1.45" fill="#000000"/>
<circle cx="68.87" cy="639.22" r="1.45" fill="#000000"/>
<rect x="81.25" y="639.3" width="9.7" height="62.7" fill="#ff8f7c" stroke="#ff2a00" stroke-width="1.25"/>
<line x1="86.1" y1="636.55" x2="86.1" y2="642.06" stroke="#ff2a00" stroke-width="1.1"/>
<line x1="83.97" y1="636.55" x2="88.23" y2="636.55" stroke="#ff2a00" stroke-width="1.1"/>
<line x1="83.97" y1="642.06" x2="88.23" y2="642.06" stroke="#ff2a00" stroke-width="1.1"/>
<circle cx="86.1" cy="641.04" r="1.45" fill="#ff2a00"/>
<circle cx="89.43" cy="640.31" r="1.45" fill="#ff2a00"/>
<circle cx="86.1" cy="637.29" r="1.45" fill="#ff2a00"/>
<circle cx="86.1" cy="634.48" r="1.45" fill="#ff2a00"/>
<circle cx="82.77" cy="638.2" r="1.45" fill="#ff2a00"/>
<circle cx="82.62" cy="639.32" r="1.45" fill="#ff2a00"/>
<circle cx="84.22" cy="638.75" r="1.45" fill="#ff2a00"/>
<circle cx="84.47" cy="640.39" r="1.45" fill="#ff2a00"/>
<circle cx="85.48" cy="641.3" r="1.45" fill="#ff2a00"/>
<circle cx="83.54" cy="638.83" r="1.45" fill="#ff2a00"/>
<circle cx="86.1" cy="644.12" r="1.45" fill="#ff2a00"/>
<circle cx="82.76" cy="638.57" r="1.45" fill="#ff2a00"/>
<circle cx="84.84" cy="640.52" r="1.45" fill="#ff2a00"/>
<circle cx="89.43" cy="637.63" r="1.45" fill="#ff2a00"/>
<circle cx="89.2" cy="637.25" r="1.45" fill="#ff2a00"/>
<circle cx="89.85" cy="640.42" r="1.45" fill="#ff2a00"/>
<circle cx="82.77" cy="642.43" r="1.45" fill="#ff2a00"/>
<circle cx="88.01" cy="639.13" r="1.45" fill="#ff2a00"/>
<circle cx="85.94" cy="641.75" r="1.45" fill="#ff2a00"/>
<circle cx="84.18" cy="641.06" r="1.45" fill="#ff2a00"/>
<rect x="98.35" y="658.59" width="9.7" height="43.41" fill="#8aa2ff" stroke="#1a3cff" stroke-width="1.25"/>
<line x1="103.2" y1="652.39" x2="103.2" y2="664.79" stroke="#1a3cff" stroke-width="1.1"/>
<line x1="101.07" y1="652.39" x2="105.33" y2="652.39" stroke="#1a3cff" stroke-width="1.1"/>
<line x1="101.07" y1="664.79" x2="105.33" y2="664.79" stroke="#1a3cff" stroke-width="1.1"/>
<circle cx="103.2" cy="655.36" r="1.45" fill="#1a3cff"/>
<circle cx="103.2" cy="663.05" r="1.45" fill="#1a3cff"/>
<circle cx="103.2" cy="648.24" r="1.45" fill="#1a3cff"/>
<circle cx="106.53" cy="656.08" r="1.45" fill="#1a3cff"/>
<circle cx="106.53" cy="663.89" r="1.45" fill="#1a3cff"/>
<circle cx="103.2" cy="659.92" r="1.45" fill="#1a3cff"/>
<circle cx="99.87" cy="663.32" r="1.45" fill="#1a3cff"/>
<circle cx="104.87" cy="650.12" r="1.45" fill="#1a3cff"/>
<circle cx="104.87" cy="658.05" r="1.45" fill="#1a3cff"/>
<circle cx="99.87" cy="649.18" r="1.45" fill="#1a3cff"/>
<circle cx="103.2" cy="667.5" r="1.45" fill="#1a3cff"/>
<circle cx="103.2" cy="652.15" r="1.45" fill="#1a3cff"/>
<circle cx="101.53" cy="657.43" r="1.45" fill="#1a3cff"/>
<circle cx="106.53" cy="652" r="1.45" fill="#1a3cff"/>
<circle cx="104.87" cy="669.66" r="1.45" fill="#1a3cff"/>
<circle cx="106.53" cy="660.14" r="1.45" fill="#1a3cff"/>
<circle cx="104.84" cy="661.05" r="1.45" fill="#1a3cff"/>
<circle cx="101.53" cy="665.26" r="1.45" fill="#1a3cff"/>
<circle cx="103.2" cy="677.2" r="1.45" fill="#1a3cff"/>
<circle cx="99.87" cy="668.07" r="1.45" fill="#1a3cff"/>
<circle cx="106.1" cy="658.94" r="1.45" fill="#1a3cff"/>
<circle cx="104.87" cy="646.19" r="1.45" fill="#1a3cff"/>
<circle cx="105.33" cy="662.09" r="1.45" fill="#1a3cff"/>
<circle cx="105.46" cy="658.77" r="1.45" fill="#1a3cff"/>
<circle cx="99.87" cy="660.33" r="1.45" fill="#1a3cff"/>
<rect x="115.55" y="654.46" width="9.7" height="47.54" fill="#84c884" stroke="#0a8f0a" stroke-width="1.25"/>
<line x1="120.4" y1="649.64" x2="120.4" y2="659.28" stroke="#0a8f0a" stroke-width="1.1"/>
<line x1="118.27" y1="649.64" x2="122.53" y2="649.64" stroke="#0a8f0a" stroke-width="1.1"/>
<line x1="118.27" y1="659.28" x2="122.53" y2="659.28" stroke="#0a8f0a" stroke-width="1.1"/>
<circle cx="120.4" cy="656.58" r="1.45" fill="#0a8f0a"/>
<circle cx="123.73" cy="655.56" r="1.45" fill="#0a8f0a"/>
<circle cx="120.4" cy="649.62" r="1.45" fill="#0a8f0a"/>
<circle cx="118.73" cy="654.95" r="1.45" fill="#0a8f0a"/>
<circle cx="122.07" cy="647.75" r="1.45" fill="#0a8f0a"/>
<circle cx="121.98" cy="654.58" r="1.45" fill="#0a8f0a"/>
<circle cx="117.07" cy="657.53" r="1.45" fill="#0a8f0a"/>
<circle cx="117.07" cy="648.2" r="1.45" fill="#0a8f0a"/>
<circle cx="122.07" cy="651.36" r="1.45" fill="#0a8f0a"/>
<circle cx="118.73" cy="651.59" r="1.45" fill="#0a8f0a"/>
<circle cx="122.86" cy="655.09" r="1.45" fill="#0a8f0a"/>
<circle cx="122.07" cy="658.62" r="1.45" fill="#0a8f0a"/>
<circle cx="122.14" cy="656.94" r="1.45" fill="#0a8f0a"/>
<circle cx="120.06" cy="654.57" r="1.45" fill="#0a8f0a"/>
<circle cx="118.35" cy="652.06" r="1.45" fill="#0a8f0a"/>
<circle cx="119.51" cy="652.59" r="1.45" fill="#0a8f0a"/>
<circle cx="120.4" cy="639.3" r="1.45" fill="#0a8f0a"/>
<circle cx="120.4" cy="662.73" r="1.45" fill="#0a8f0a"/>
<circle cx="120.3" cy="651.51" r="1.45" fill="#0a8f0a"/>
<circle cx="118.73" cy="659.94" r="1.45" fill="#0a8f0a"/>
<circle cx="121.42" cy="657.32" r="1.45" fill="#0a8f0a"/>
<circle cx="123.99" cy="653.29" r="1.45" fill="#0a8f0a"/>
<circle cx="117.18" cy="654.22" r="1.45" fill="#0a8f0a"/>
<circle cx="120.24" cy="647.66" r="1.45" fill="#0a8f0a"/>
<circle cx="120.34" cy="648.36" r="1.45" fill="#0a8f0a"/>
<rect x="132.95" y="660.66" width="9.7" height="41.34" fill="#ffc982" stroke="#ff9500" stroke-width="1.25"/>
<line x1="137.8" y1="654.46" x2="137.8" y2="666.86" stroke="#ff9500" stroke-width="1.1"/>
<line x1="135.67" y1="654.46" x2="139.93" y2="654.46" stroke="#ff9500" stroke-width="1.1"/>
<line x1="135.67" y1="666.86" x2="139.93" y2="666.86" stroke="#ff9500" stroke-width="1.1"/>
<circle cx="137.8" cy="672.15" r="1.45" fill="#ff9500"/>
<circle cx="137.8" cy="667.53" r="1.45" fill="#ff9500"/>
<circle cx="137.8" cy="655.83" r="1.45" fill="#ff9500"/>
<circle cx="137.8" cy="660.22" r="1.45" fill="#ff9500"/>
<circle cx="137.8" cy="663.42" r="1.45" fill="#ff9500"/>
<circle cx="141.14" cy="662.37" r="1.45" fill="#ff9500"/>
<circle cx="134.47" cy="662.76" r="1.45" fill="#ff9500"/>
<circle cx="141.14" cy="655.89" r="1.45" fill="#ff9500"/>
<circle cx="141.14" cy="668.94" r="1.45" fill="#ff9500"/>
<circle cx="134.47" cy="655.51" r="1.45" fill="#ff9500"/>
<circle cx="136.1" cy="656.5" r="1.45" fill="#ff9500"/>
<circle cx="135.27" cy="663.06" r="1.45" fill="#ff9500"/>
<circle cx="136.9" cy="655.05" r="1.45" fill="#ff9500"/>
<circle cx="136.03" cy="660.47" r="1.45" fill="#ff9500"/>
<circle cx="139.47" cy="658.39" r="1.45" fill="#ff9500"/>
<circle cx="135.38" cy="655.19" r="1.45" fill="#ff9500"/>
<circle cx="141.38" cy="664.46" r="1.45" fill="#ff9500"/>
<circle cx="134.47" cy="667.36" r="1.45" fill="#ff9500"/>
<circle cx="134.19" cy="668.36" r="1.45" fill="#ff9500"/>
<circle cx="139.47" cy="674.44" r="1.45" fill="#ff9500"/>
<circle cx="140.21" cy="668.49" r="1.45" fill="#ff9500"/>
<circle cx="141.17" cy="656.33" r="1.45" fill="#ff9500"/>
<circle cx="137.8" cy="646.88" r="1.45" fill="#ff9500"/>
<circle cx="139.39" cy="664.48" r="1.45" fill="#ff9500"/>
<circle cx="134.07" cy="659.22" r="1.45" fill="#ff9500"/>
<line x1="57.2" y1="702" x2="148.8" y2="702" stroke="#111" stroke-width="1.2"/>
<polyline points="68.9,630.29 68.9,623.5 103.2,623.5 103.2,641.69" fill="none" stroke="#111" stroke-width="1.1"/>
<text x="86.05" y="621.7" font-size="7.8" text-anchor="middle">&lt;0.0001</text>
<polyline points="68.9,618 68.9,613.3 120.4,613.3 120.4,634.8" fill="none" stroke="#111" stroke-width="1.1"/>
<text x="94.65" y="611.5" font-size="7.8" text-anchor="middle">&lt;0.0001</text>
<polyline points="68.9,607.8 68.9,603.1 137.8,603.1 137.8,642.38" fill="none" stroke="#111" stroke-width="1.1"/>
<text x="103.35" y="601.3" font-size="7.8" text-anchor="middle">&lt;0.0001</text>
<text x="103.5" y="590.3" font-size="11" text-anchor="middle" font-weight="bold">Ki67</text>
<text x="36.7" y="665.7" font-size="9.9" text-anchor="middle" transform="rotate(-90 36.7 665.7)">Percentage %</text>
<line x1="208.5" y1="631.9" x2="208.5" y2="699.7" stroke="#111" stroke-width="1.2"/>
<line x1="204.5" y1="699.1" x2="208.5" y2="699.1" stroke="#111" stroke-width="1.1"/>
<text x="203.2" y="702.3" font-size="9" text-anchor="end">0</text>
<line x1="204.5" y1="685.76" x2="208.5" y2="685.76" stroke="#111" stroke-width="1.1"/>
<text x="203.2" y="688.96" font-size="9" text-anchor="end">10</text>
<line x1="204.5" y1="672.42" x2="208.5" y2="672.42" stroke="#111" stroke-width="1.1"/>
<text x="203.2" y="675.62" font-size="9" text-anchor="end">20</text>
<line x1="204.5" y1="659.08" x2="208.5" y2="659.08" stroke="#111" stroke-width="1.1"/>
<text x="203.2" y="662.28" font-size="9" text-anchor="end">30</text>
<line x1="204.5" y1="645.74" x2="208.5" y2="645.74" stroke="#111" stroke-width="1.1"/>
<text x="203.2" y="648.94" font-size="9" text-anchor="end">40</text>
<line x1="204.5" y1="632.4" x2="208.5" y2="632.4" stroke="#111" stroke-width="1.1"/>
<text x="203.2" y="635.6" font-size="9" text-anchor="end">50</text>
<rect x="214.45" y="685.76" width="9.7" height="13.34" fill="#7a7a7a" stroke="#000000" stroke-width="1.25"/>
<line x1="219.3" y1="680.42" x2="219.3" y2="691.1" stroke="#000000" stroke-width="1.1"/>
<line x1="217.17" y1="680.42" x2="221.43" y2="680.42" stroke="#000000" stroke-width="1.1"/>
<line x1="217.17" y1="691.1" x2="221.43" y2="691.1" stroke="#000000" stroke-width="1.1"/>
<circle cx="219.3" cy="687.22" r="1.45" fill="#000000"/>
<circle cx="219.3" cy="695.77" r="1.45" fill="#000000"/>
<circle cx="222.64" cy="686.82" r="1.45" fill="#000000"/>
<circle cx="219.3" cy="690.07" r="1.45" fill="#000000"/>
<circle cx="219.3" cy="683.53" r="1.45" fill="#000000"/>
<circle cx="222.64" cy="689.36" r="1.45" fill="#000000"/>
<circle cx="222.64" cy="682.87" r="1.45" fill="#000000"/>
<circle cx="215.97" cy="690.11" r="1.45" fill="#000000"/>
<circle cx="215.97" cy="686.92" r="1.45" fill="#000000"/>
<circle cx="217.8" cy="686.15" r="1.45" fill="#000000"/>
<circle cx="218.32" cy="686.45" r="1.45" fill="#000000"/>
<circle cx="219.94" cy="684.78" r="1.45" fill="#000000"/>
<circle cx="217.63" cy="681.68" r="1.45" fill="#000000"/>
<circle cx="217.73" cy="682.03" r="1.45" fill="#000000"/>
<circle cx="220.97" cy="692.37" r="1.45" fill="#000000"/>
<circle cx="220.04" cy="683.18" r="1.45" fill="#000000"/>
<circle cx="222.64" cy="696.43" r="1.45" fill="#000000"/>
<circle cx="219.63" cy="683.08" r="1.45" fill="#000000"/>
<circle cx="215.97" cy="694.72" r="1.45" fill="#000000"/>
<circle cx="218.78" cy="690.9" r="1.45" fill="#000000"/>
<circle cx="220.97" cy="681.05" r="1.45" fill="#000000"/>
<circle cx="219.3" cy="669.75" r="1.45" fill="#000000"/>
<circle cx="220.64" cy="687.99" r="1.45" fill="#000000"/>
<circle cx="219.52" cy="688.33" r="1.45" fill="#000000"/>
<circle cx="216.1" cy="683.21" r="1.45" fill="#000000"/>
<rect x="231.45" y="679.76" width="9.7" height="19.34" fill="#ff8f7c" stroke="#ff2a00" stroke-width="1.25"/>
<line x1="236.3" y1="673.09" x2="236.3" y2="686.43" stroke="#ff2a00" stroke-width="1.1"/>
<line x1="234.17" y1="673.09" x2="238.43" y2="673.09" stroke="#ff2a00" stroke-width="1.1"/>
<line x1="234.17" y1="686.43" x2="238.43" y2="686.43" stroke="#ff2a00" stroke-width="1.1"/>
<circle cx="236.3" cy="674.13" r="1.45" fill="#ff2a00"/>
<circle cx="236.3" cy="685.81" r="1.45" fill="#ff2a00"/>
<circle cx="236.3" cy="692.43" r="1.45" fill="#ff2a00"/>
<circle cx="236.3" cy="666.38" r="1.45" fill="#ff2a00"/>
<circle cx="236.3" cy="659.08" r="1.45" fill="#ff2a00"/>
<circle cx="236.3" cy="680.21" r="1.45" fill="#ff2a00"/>
<circle cx="237.97" cy="676.18" r="1.45" fill="#ff2a00"/>
<circle cx="236.3" cy="682.88" r="1.45" fill="#ff2a00"/>
<circle cx="239.64" cy="679.88" r="1.45" fill="#ff2a00"/>
<circle cx="234.63" cy="677.22" r="1.45" fill="#ff2a00"/>
<circle cx="239.64" cy="686.1" r="1.45" fill="#ff2a00"/>
<circle cx="232.97" cy="685.3" r="1.45" fill="#ff2a00"/>
<circle cx="236.3" cy="669.28" r="1.45" fill="#ff2a00"/>
<circle cx="239.64" cy="673.11" r="1.45" fill="#ff2a00"/>
<circle cx="234.63" cy="672.48" r="1.45" fill="#ff2a00"/>
<rect x="247.95" y="660.41" width="9.7" height="38.69" fill="#8aa2ff" stroke="#1a3cff" stroke-width="1.25"/>
<line x1="252.8" y1="648.41" x2="252.8" y2="672.42" stroke="#1a3cff" stroke-width="1.1"/>
<line x1="250.67" y1="648.41" x2="254.93" y2="648.41" stroke="#1a3cff" stroke-width="1.1"/>
<line x1="250.67" y1="672.42" x2="254.93" y2="672.42" stroke="#1a3cff" stroke-width="1.1"/>
<circle cx="252.8" cy="680.49" r="1.45" fill="#1a3cff"/>
<circle cx="252.8" cy="668.32" r="1.45" fill="#1a3cff"/>
<circle cx="252.8" cy="653.07" r="1.45" fill="#1a3cff"/>
<circle cx="252.8" cy="674.57" r="1.45" fill="#1a3cff"/>
<circle cx="252.8" cy="656.08" r="1.45" fill="#1a3cff"/>
<circle cx="252.8" cy="685.76" r="1.45" fill="#1a3cff"/>
<circle cx="254.47" cy="676.69" r="1.45" fill="#1a3cff"/>
<circle cx="252.8" cy="642.61" r="1.45" fill="#1a3cff"/>
<circle cx="256.13" cy="668.25" r="1.45" fill="#1a3cff"/>
<circle cx="252.8" cy="645.81" r="1.45" fill="#1a3cff"/>
<circle cx="256.13" cy="656.99" r="1.45" fill="#1a3cff"/>
<circle cx="256.13" cy="652.58" r="1.45" fill="#1a3cff"/>
<circle cx="252.8" cy="661.39" r="1.45" fill="#1a3cff"/>
<circle cx="249.47" cy="656.15" r="1.45" fill="#1a3cff"/>
<circle cx="252.8" cy="658.96" r="1.45" fill="#1a3cff"/>
<circle cx="249.47" cy="652.55" r="1.45" fill="#1a3cff"/>
<circle cx="256.13" cy="662.56" r="1.45" fill="#1a3cff"/>
<circle cx="254.47" cy="647.77" r="1.45" fill="#1a3cff"/>
<circle cx="249.36" cy="652.31" r="1.45" fill="#1a3cff"/>
<circle cx="251.13" cy="663.66" r="1.45" fill="#1a3cff"/>
<circle cx="249.47" cy="667.79" r="1.45" fill="#1a3cff"/>
<circle cx="251.13" cy="677.58" r="1.45" fill="#1a3cff"/>
<circle cx="252.79" cy="666.95" r="1.45" fill="#1a3cff"/>
<circle cx="253.6" cy="666.69" r="1.45" fill="#1a3cff"/>
<circle cx="256.13" cy="679.96" r="1.45" fill="#1a3cff"/>
<circle cx="252.8" cy="637.74" r="1.45" fill="#1a3cff"/>
<circle cx="249.47" cy="658.67" r="1.45" fill="#1a3cff"/>
<circle cx="249.25" cy="657.48" r="1.45" fill="#1a3cff"/>
<rect x="264.75" y="649.74" width="9.7" height="49.36" fill="#84c884" stroke="#0a8f0a" stroke-width="1.25"/>
<line x1="269.6" y1="641.74" x2="269.6" y2="657.75" stroke="#0a8f0a" stroke-width="1.1"/>
<line x1="267.47" y1="641.74" x2="271.73" y2="641.74" stroke="#0a8f0a" stroke-width="1.1"/>
<line x1="267.47" y1="657.75" x2="271.73" y2="657.75" stroke="#0a8f0a" stroke-width="1.1"/>
<circle cx="269.6" cy="654.06" r="1.45" fill="#0a8f0a"/>
<circle cx="269.6" cy="636.4" r="1.45" fill="#0a8f0a"/>
<circle cx="269.6" cy="665.21" r="1.45" fill="#0a8f0a"/>
<circle cx="269.6" cy="650.63" r="1.45" fill="#0a8f0a"/>
<circle cx="269.6" cy="646.75" r="1.45" fill="#0a8f0a"/>
<circle cx="272.94" cy="649.68" r="1.45" fill="#0a8f0a"/>
<circle cx="269.6" cy="657.25" r="1.45" fill="#0a8f0a"/>
<circle cx="266.27" cy="650.59" r="1.45" fill="#0a8f0a"/>
<circle cx="272.94" cy="663.9" r="1.45" fill="#0a8f0a"/>
<circle cx="271.63" cy="649.59" r="1.45" fill="#0a8f0a"/>
<circle cx="272.94" cy="657.62" r="1.45" fill="#0a8f0a"/>
<circle cx="271.27" cy="667.08" r="1.45" fill="#0a8f0a"/>
<circle cx="272.94" cy="637.71" r="1.45" fill="#0a8f0a"/>
<circle cx="272.94" cy="653.6" r="1.45" fill="#0a8f0a"/>
<circle cx="268.72" cy="650.39" r="1.45" fill="#0a8f0a"/>
<circle cx="269.6" cy="642.69" r="1.45" fill="#0a8f0a"/>
<circle cx="270.81" cy="651.51" r="1.45" fill="#0a8f0a"/>
<circle cx="267.23" cy="649.34" r="1.45" fill="#0a8f0a"/>
<rect x="281.75" y="638.4" width="9.7" height="60.7" fill="#ffc982" stroke="#ff9500" stroke-width="1.25"/>
<line x1="286.6" y1="633.07" x2="286.6" y2="643.74" stroke="#ff9500" stroke-width="1.1"/>
<line x1="284.47" y1="633.07" x2="288.73" y2="633.07" stroke="#ff9500" stroke-width="1.1"/>
<line x1="284.47" y1="643.74" x2="288.73" y2="643.74" stroke="#ff9500" stroke-width="1.1"/>
<circle cx="286.6" cy="640.35" r="1.45" fill="#ff9500"/>
<circle cx="289.94" cy="641.79" r="1.45" fill="#ff9500"/>
<circle cx="286.6" cy="637.18" r="1.45" fill="#ff9500"/>
<circle cx="289.94" cy="636.8" r="1.45" fill="#ff9500"/>
<circle cx="283.27" cy="639.8" r="1.45" fill="#ff9500"/>
<circle cx="283.27" cy="637.41" r="1.45" fill="#ff9500"/>
<circle cx="284.08" cy="635.65" r="1.45" fill="#ff9500"/>
<circle cx="286.6" cy="646.49" r="1.45" fill="#ff9500"/>
<circle cx="286.42" cy="638.74" r="1.45" fill="#ff9500"/>
<circle cx="285.94" cy="640.97" r="1.45" fill="#ff9500"/>
<circle cx="286.6" cy="655.08" r="1.45" fill="#ff9500"/>
<circle cx="286.6" cy="649.73" r="1.45" fill="#ff9500"/>
<circle cx="285.47" cy="637.59" r="1.45" fill="#ff9500"/>
<circle cx="286.6" cy="643.28" r="1.45" fill="#ff9500"/>
<circle cx="289.03" cy="639.81" r="1.45" fill="#ff9500"/>
<circle cx="285.1" cy="637.09" r="1.45" fill="#ff9500"/>
<circle cx="286.6" cy="634.12" r="1.45" fill="#ff9500"/>
<circle cx="286.92" cy="634.89" r="1.45" fill="#ff9500"/>
<circle cx="289.94" cy="633.73" r="1.45" fill="#ff9500"/>
<circle cx="289.94" cy="646.42" r="1.45" fill="#ff9500"/>
<circle cx="289.94" cy="651.01" r="1.45" fill="#ff9500"/>
<circle cx="289.53" cy="635.99" r="1.45" fill="#ff9500"/>
<line x1="208.5" y1="699.1" x2="297.6" y2="699.1" stroke="#111" stroke-width="1.2"/>
<polyline points="219.3,666.25 219.3,628.7 252.8,628.7 252.8,633.24" fill="none" stroke="#111" stroke-width="1.1"/>
<text x="236.05" y="626.9" font-size="7.8" text-anchor="middle">&lt;0.0001</text>
<polyline points="219.3,623.2 219.3,619 269.6,619 269.6,631.9" fill="none" stroke="#111" stroke-width="1.1"/>
<text x="244.45" y="617.2" font-size="7.8" text-anchor="middle">&lt;0.0001</text>
<polyline points="219.3,613.5 219.3,607.7 286.6,607.7 286.6,628.57" fill="none" stroke="#111" stroke-width="1.1"/>
<text x="252.95" y="605.9" font-size="7.8" text-anchor="middle">&lt;0.0001</text>
<text x="251.6" y="596.7" font-size="11" text-anchor="middle" font-weight="bold"><tspan font-weight="normal">γ</tspan>H2AX</text>
<text x="190.4" y="663.7" font-size="9.6" text-anchor="middle" transform="rotate(-90 190.4 663.7)">Percentage %</text>
<line x1="348.2" y1="622.9" x2="348.2" y2="696.6" stroke="#111" stroke-width="1.2"/>
<line x1="344.2" y1="696" x2="348.2" y2="696" stroke="#111" stroke-width="1.1"/>
<text x="342.9" y="699.2" font-size="9" text-anchor="end">0</text>
<line x1="344.2" y1="681.48" x2="348.2" y2="681.48" stroke="#111" stroke-width="1.1"/>
<text x="342.9" y="684.68" font-size="9" text-anchor="end">10</text>
<line x1="344.2" y1="666.96" x2="348.2" y2="666.96" stroke="#111" stroke-width="1.1"/>
<text x="342.9" y="670.16" font-size="9" text-anchor="end">20</text>
<line x1="344.2" y1="652.44" x2="348.2" y2="652.44" stroke="#111" stroke-width="1.1"/>
<text x="342.9" y="655.64" font-size="9" text-anchor="end">30</text>
<line x1="344.2" y1="637.92" x2="348.2" y2="637.92" stroke="#111" stroke-width="1.1"/>
<text x="342.9" y="641.12" font-size="9" text-anchor="end">40</text>
<line x1="344.2" y1="623.4" x2="348.2" y2="623.4" stroke="#111" stroke-width="1.1"/>
<text x="342.9" y="626.6" font-size="9" text-anchor="end">50</text>
<rect x="355.6" y="687.29" width="10.6" height="8.71" fill="#7a7a7a" stroke="#000000" stroke-width="1.25"/>
<line x1="360.9" y1="682.93" x2="360.9" y2="691.64" stroke="#000000" stroke-width="1.1"/>
<line x1="358.57" y1="682.93" x2="363.23" y2="682.93" stroke="#000000" stroke-width="1.1"/>
<line x1="358.57" y1="691.64" x2="363.23" y2="691.64" stroke="#000000" stroke-width="1.1"/>
<circle cx="360.9" cy="688.14" r="1.45" fill="#000000"/>
<circle cx="364.23" cy="689.54" r="1.45" fill="#000000"/>
<circle cx="357.56" cy="687.79" r="1.45" fill="#000000"/>
<circle cx="360.9" cy="693.65" r="1.45" fill="#000000"/>
<circle cx="360.9" cy="685.65" r="1.45" fill="#000000"/>
<circle cx="360.9" cy="683.04" r="1.45" fill="#000000"/>
<circle cx="360.9" cy="691.26" r="1.45" fill="#000000"/>
<circle cx="364.23" cy="686.24" r="1.45" fill="#000000"/>
<circle cx="357.56" cy="690.74" r="1.45" fill="#000000"/>
<circle cx="359.79" cy="687.03" r="1.45" fill="#000000"/>
<circle cx="359.11" cy="690.27" r="1.45" fill="#000000"/>
<circle cx="364.23" cy="694.55" r="1.45" fill="#000000"/>
<circle cx="359.24" cy="691.63" r="1.45" fill="#000000"/>
<circle cx="364.23" cy="683.32" r="1.45" fill="#000000"/>
<circle cx="363.25" cy="689.32" r="1.45" fill="#000000"/>
<circle cx="361.32" cy="686.01" r="1.45" fill="#000000"/>
<circle cx="358.85" cy="686.21" r="1.45" fill="#000000"/>
<circle cx="357.57" cy="685.77" r="1.45" fill="#000000"/>
<circle cx="363.31" cy="686.51" r="1.45" fill="#000000"/>
<circle cx="362.66" cy="688.31" r="1.45" fill="#000000"/>
<circle cx="363.69" cy="687.68" r="1.45" fill="#000000"/>
<circle cx="360.9" cy="678.78" r="1.45" fill="#000000"/>
<circle cx="358.68" cy="688.31" r="1.45" fill="#000000"/>
<circle cx="361.29" cy="692.4" r="1.45" fill="#000000"/>
<circle cx="360.9" cy="675.67" r="1.45" fill="#000000"/>
<rect x="373.9" y="688.01" width="10.6" height="7.99" fill="#ff8f7c" stroke="#ff2a00" stroke-width="1.25"/>
<line x1="379.2" y1="682.21" x2="379.2" y2="693.82" stroke="#ff2a00" stroke-width="1.1"/>
<line x1="376.87" y1="682.21" x2="381.53" y2="682.21" stroke="#ff2a00" stroke-width="1.1"/>
<line x1="376.87" y1="693.82" x2="381.53" y2="693.82" stroke="#ff2a00" stroke-width="1.1"/>
<circle cx="379.2" cy="688.29" r="1.45" fill="#ff2a00"/>
<circle cx="382.53" cy="689.57" r="1.45" fill="#ff2a00"/>
<circle cx="380.87" cy="686.26" r="1.45" fill="#ff2a00"/>
<circle cx="375.87" cy="687.44" r="1.45" fill="#ff2a00"/>
<circle cx="379.2" cy="678.69" r="1.45" fill="#ff2a00"/>
<circle cx="379.2" cy="691.44" r="1.45" fill="#ff2a00"/>
<circle cx="379.45" cy="689.08" r="1.45" fill="#ff2a00"/>
<circle cx="376.4" cy="689" r="1.45" fill="#ff2a00"/>
<circle cx="379.2" cy="696" r="1.45" fill="#ff2a00"/>
<circle cx="379.2" cy="681.9" r="1.45" fill="#ff2a00"/>
<circle cx="377.53" cy="685.1" r="1.45" fill="#ff2a00"/>
<circle cx="379.2" cy="672.77" r="1.45" fill="#ff2a00"/>
<circle cx="382.53" cy="695.43" r="1.45" fill="#ff2a00"/>
<circle cx="379.57" cy="685.04" r="1.45" fill="#ff2a00"/>
<circle cx="377.53" cy="694.11" r="1.45" fill="#ff2a00"/>
<rect x="392.3" y="667.69" width="10.6" height="28.31" fill="#8aa2ff" stroke="#1a3cff" stroke-width="1.25"/>
<line x1="397.6" y1="656.07" x2="397.6" y2="679.3" stroke="#1a3cff" stroke-width="1.1"/>
<line x1="395.27" y1="656.07" x2="399.93" y2="656.07" stroke="#1a3cff" stroke-width="1.1"/>
<line x1="395.27" y1="679.3" x2="399.93" y2="679.3" stroke="#1a3cff" stroke-width="1.1"/>
<circle cx="397.6" cy="655.07" r="1.45" fill="#1a3cff"/>
<circle cx="397.6" cy="664.61" r="1.45" fill="#1a3cff"/>
<circle cx="397.6" cy="680.06" r="1.45" fill="#1a3cff"/>
<circle cx="397.6" cy="659.3" r="1.45" fill="#1a3cff"/>
<circle cx="400.94" cy="658.96" r="1.45" fill="#1a3cff"/>
<circle cx="400.94" cy="680.78" r="1.45" fill="#1a3cff"/>
<circle cx="399.27" cy="657.07" r="1.45" fill="#1a3cff"/>
<circle cx="397.6" cy="643.73" r="1.45" fill="#1a3cff"/>
<circle cx="397.6" cy="674.92" r="1.45" fill="#1a3cff"/>
<circle cx="397.6" cy="677.45" r="1.45" fill="#1a3cff"/>
<circle cx="394.27" cy="658.02" r="1.45" fill="#1a3cff"/>
<circle cx="397.6" cy="682.83" r="1.45" fill="#1a3cff"/>
<circle cx="397.6" cy="652.74" r="1.45" fill="#1a3cff"/>
<circle cx="400.94" cy="664.42" r="1.45" fill="#1a3cff"/>
<circle cx="394.27" cy="665.37" r="1.45" fill="#1a3cff"/>
<circle cx="397.6" cy="686.18" r="1.45" fill="#1a3cff"/>
<circle cx="400.94" cy="674.07" r="1.45" fill="#1a3cff"/>
<circle cx="400.94" cy="687.5" r="1.45" fill="#1a3cff"/>
<circle cx="394.27" cy="674.59" r="1.45" fill="#1a3cff"/>
<circle cx="400.94" cy="676.69" r="1.45" fill="#1a3cff"/>
<circle cx="400.98" cy="675.06" r="1.45" fill="#1a3cff"/>
<circle cx="397.6" cy="667.05" r="1.45" fill="#1a3cff"/>
<circle cx="397.6" cy="672.13" r="1.45" fill="#1a3cff"/>
<circle cx="394.09" cy="672.32" r="1.45" fill="#1a3cff"/>
<circle cx="394.27" cy="679.69" r="1.45" fill="#1a3cff"/>
<circle cx="400.79" cy="681.39" r="1.45" fill="#1a3cff"/>
<circle cx="394.27" cy="660.51" r="1.45" fill="#1a3cff"/>
<circle cx="397.6" cy="688.74" r="1.45" fill="#1a3cff"/>
<rect x="410.5" y="670.59" width="10.6" height="25.41" fill="#84c884" stroke="#0a8f0a" stroke-width="1.25"/>
<line x1="415.8" y1="664.78" x2="415.8" y2="676.4" stroke="#0a8f0a" stroke-width="1.1"/>
<line x1="413.47" y1="664.78" x2="418.13" y2="664.78" stroke="#0a8f0a" stroke-width="1.1"/>
<line x1="413.47" y1="676.4" x2="418.13" y2="676.4" stroke="#0a8f0a" stroke-width="1.1"/>
<circle cx="415.8" cy="669.27" r="1.45" fill="#0a8f0a"/>
<circle cx="415.8" cy="666.2" r="1.45" fill="#0a8f0a"/>
<circle cx="415.8" cy="658.05" r="1.45" fill="#0a8f0a"/>
<circle cx="415.8" cy="678.3" r="1.45" fill="#0a8f0a"/>
<circle cx="419.13" cy="666.58" r="1.45" fill="#0a8f0a"/>
<circle cx="415.8" cy="674.02" r="1.45" fill="#0a8f0a"/>
<circle cx="419.13" cy="675.23" r="1.45" fill="#0a8f0a"/>
<circle cx="412.47" cy="666.24" r="1.45" fill="#0a8f0a"/>
<circle cx="412.47" cy="674.86" r="1.45" fill="#0a8f0a"/>
<circle cx="415.8" cy="653.89" r="1.45" fill="#0a8f0a"/>
<circle cx="419.13" cy="672.64" r="1.45" fill="#0a8f0a"/>
<circle cx="417.47" cy="680.03" r="1.45" fill="#0a8f0a"/>
<circle cx="413.76" cy="673.4" r="1.45" fill="#0a8f0a"/>
<circle cx="418.78" cy="673.25" r="1.45" fill="#0a8f0a"/>
<circle cx="412.47" cy="679.01" r="1.45" fill="#0a8f0a"/>
<rect x="428.7" y="661.15" width="10.6" height="34.85" fill="#ffc982" stroke="#ff9500" stroke-width="1.25"/>
<line x1="434" y1="649.54" x2="434" y2="672.77" stroke="#ff9500" stroke-width="1.1"/>
<line x1="431.67" y1="649.54" x2="436.33" y2="649.54" stroke="#ff9500" stroke-width="1.1"/>
<line x1="431.67" y1="672.77" x2="436.33" y2="672.77" stroke="#ff9500" stroke-width="1.1"/>
<circle cx="434" cy="658.78" r="1.45" fill="#ff9500"/>
<circle cx="435.67" cy="656.67" r="1.45" fill="#ff9500"/>
<circle cx="434" cy="661.92" r="1.45" fill="#ff9500"/>
<circle cx="437.33" cy="659.28" r="1.45" fill="#ff9500"/>
<circle cx="434" cy="664.89" r="1.45" fill="#ff9500"/>
<circle cx="437.33" cy="664.97" r="1.45" fill="#ff9500"/>
<circle cx="430.67" cy="666.42" r="1.45" fill="#ff9500"/>
<circle cx="434" cy="671.62" r="1.45" fill="#ff9500"/>
<circle cx="438.08" cy="664.74" r="1.45" fill="#ff9500"/>
<circle cx="434" cy="684.38" r="1.45" fill="#ff9500"/>
<circle cx="434" cy="640.68" r="1.45" fill="#ff9500"/>
<circle cx="430.67" cy="660.7" r="1.45" fill="#ff9500"/>
<circle cx="434" cy="669.01" r="1.45" fill="#ff9500"/>
<circle cx="430.67" cy="658.2" r="1.45" fill="#ff9500"/>
<circle cx="437.33" cy="669.02" r="1.45" fill="#ff9500"/>
<circle cx="435.67" cy="638.37" r="1.45" fill="#ff9500"/>
<circle cx="434" cy="651.83" r="1.45" fill="#ff9500"/>
<circle cx="434" cy="632.11" r="1.45" fill="#ff9500"/>
<circle cx="438.09" cy="664.59" r="1.45" fill="#ff9500"/>
<circle cx="430.67" cy="663.21" r="1.45" fill="#ff9500"/>
<circle cx="430.86" cy="663.46" r="1.45" fill="#ff9500"/>
<circle cx="432.98" cy="665.03" r="1.45" fill="#ff9500"/>
<circle cx="435.67" cy="650.19" r="1.45" fill="#ff9500"/>
<circle cx="436.32" cy="665.54" r="1.45" fill="#ff9500"/>
<circle cx="436.81" cy="660.31" r="1.45" fill="#ff9500"/>
<line x1="348.2" y1="696" x2="446" y2="696" stroke="#111" stroke-width="1.2"/>
<polyline points="360.9,672.17 360.9,634.5 397.6,634.5 397.6,639.23" fill="none" stroke="#111" stroke-width="1.1"/>
<text x="379.25" y="632.7" font-size="7.8" text-anchor="middle">&lt;0.0001</text>
<polyline points="360.9,629 360.9,624.1 415.8,624.1 415.8,649.39" fill="none" stroke="#111" stroke-width="1.1"/>
<text x="388.35" y="622.3" font-size="7.8" text-anchor="middle">0.0005</text>
<polyline points="360.9,618.6 360.9,613.3 434,613.3 434,627.61" fill="none" stroke="#111" stroke-width="1.1"/>
<text x="397.45" y="611.5" font-size="7.8" text-anchor="middle">&lt;0.0001</text>
<text x="397.1" y="600.5" font-size="11" text-anchor="middle" font-weight="bold">p21</text>
<text x="328.9" y="658.2" font-size="10.4" text-anchor="middle" transform="rotate(-90 328.9 658.2)">Percentage %</text>
<line x1="500.5" y1="613.6" x2="500.5" y2="691.1" stroke="#111" stroke-width="1.2"/>
<line x1="496.5" y1="690.5" x2="500.5" y2="690.5" stroke="#111" stroke-width="1.1"/>
<text x="495.2" y="693.7" font-size="9" text-anchor="end">0</text>
<line x1="496.5" y1="671.4" x2="500.5" y2="671.4" stroke="#111" stroke-width="1.1"/>
<text x="495.2" y="674.6" font-size="9" text-anchor="end">20</text>
<line x1="496.5" y1="652.3" x2="500.5" y2="652.3" stroke="#111" stroke-width="1.1"/>
<text x="495.2" y="655.5" font-size="9" text-anchor="end">40</text>
<line x1="496.5" y1="633.2" x2="500.5" y2="633.2" stroke="#111" stroke-width="1.1"/>
<text x="495.2" y="636.4" font-size="9" text-anchor="end">60</text>
<line x1="496.5" y1="614.1" x2="500.5" y2="614.1" stroke="#111" stroke-width="1.1"/>
<text x="495.2" y="617.3" font-size="9" text-anchor="end">80</text>
<rect x="507.9" y="658.99" width="11.2" height="31.51" fill="#7a7a7a" stroke="#000000" stroke-width="1.25"/>
<line x1="513.5" y1="654.21" x2="513.5" y2="663.76" stroke="#000000" stroke-width="1.1"/>
<line x1="511.04" y1="654.21" x2="515.96" y2="654.21" stroke="#000000" stroke-width="1.1"/>
<line x1="511.04" y1="663.76" x2="515.96" y2="663.76" stroke="#000000" stroke-width="1.1"/>
<circle cx="513.5" cy="652.68" r="1.45" fill="#000000"/>
<circle cx="513.5" cy="655.88" r="1.45" fill="#000000"/>
<circle cx="516.84" cy="656.78" r="1.45" fill="#000000"/>
<circle cx="513.5" cy="662.56" r="1.45" fill="#000000"/>
<circle cx="513.5" cy="669.75" r="1.45" fill="#000000"/>
<circle cx="513.5" cy="659.15" r="1.45" fill="#000000"/>
<circle cx="516.84" cy="661.08" r="1.45" fill="#000000"/>
<circle cx="510.17" cy="655.74" r="1.45" fill="#000000"/>
<circle cx="510.17" cy="660.16" r="1.45" fill="#000000"/>
<circle cx="514.83" cy="660.91" r="1.45" fill="#000000"/>
<circle cx="512.53" cy="660.13" r="1.45" fill="#000000"/>
<circle cx="516.14" cy="656.86" r="1.45" fill="#000000"/>
<circle cx="513.5" cy="648.98" r="1.45" fill="#000000"/>
<circle cx="512.64" cy="657.59" r="1.45" fill="#000000"/>
<circle cx="513.22" cy="660.69" r="1.45" fill="#000000"/>
<circle cx="510.17" cy="662.95" r="1.45" fill="#000000"/>
<circle cx="516.84" cy="652.97" r="1.45" fill="#000000"/>
<circle cx="516.47" cy="659.3" r="1.45" fill="#000000"/>
<circle cx="513.5" cy="666.21" r="1.45" fill="#000000"/>
<circle cx="511.26" cy="655.28" r="1.45" fill="#000000"/>
<circle cx="510.17" cy="652.92" r="1.45" fill="#000000"/>
<circle cx="510.68" cy="655.04" r="1.45" fill="#000000"/>
<circle cx="514.17" cy="653.51" r="1.45" fill="#000000"/>
<circle cx="516.84" cy="647.52" r="1.45" fill="#000000"/>
<circle cx="516.84" cy="666.98" r="1.45" fill="#000000"/>
<circle cx="515.17" cy="671.4" r="1.45" fill="#000000"/>
<circle cx="510.17" cy="667.02" r="1.45" fill="#000000"/>
<circle cx="516.84" cy="663.63" r="1.45" fill="#000000"/>
<circle cx="512.91" cy="655.07" r="1.45" fill="#000000"/>
<circle cx="516.85" cy="652.73" r="1.45" fill="#000000"/>
<rect x="526.9" y="653.25" width="11.2" height="37.25" fill="#ff8f7c" stroke="#ff2a00" stroke-width="1.25"/>
<line x1="532.5" y1="647.52" x2="532.5" y2="658.99" stroke="#ff2a00" stroke-width="1.1"/>
<line x1="530.04" y1="647.52" x2="534.96" y2="647.52" stroke="#ff2a00" stroke-width="1.1"/>
<line x1="530.04" y1="658.99" x2="534.96" y2="658.99" stroke="#ff2a00" stroke-width="1.1"/>
<circle cx="532.5" cy="654.67" r="1.45" fill="#ff2a00"/>
<circle cx="535.84" cy="653.22" r="1.45" fill="#ff2a00"/>
<circle cx="532.5" cy="645.14" r="1.45" fill="#ff2a00"/>
<circle cx="532.5" cy="647.98" r="1.45" fill="#ff2a00"/>
<circle cx="535.84" cy="648.29" r="1.45" fill="#ff2a00"/>
<circle cx="532.5" cy="651.25" r="1.45" fill="#ff2a00"/>
<circle cx="529.16" cy="654.54" r="1.45" fill="#ff2a00"/>
<circle cx="532.5" cy="663.76" r="1.45" fill="#ff2a00"/>
<circle cx="532.5" cy="659.2" r="1.45" fill="#ff2a00"/>
<circle cx="533.69" cy="653.8" r="1.45" fill="#ff2a00"/>
<circle cx="532.5" cy="641.8" r="1.45" fill="#ff2a00"/>
<circle cx="536.13" cy="653.13" r="1.45" fill="#ff2a00"/>
<circle cx="529.16" cy="650.84" r="1.45" fill="#ff2a00"/>
<circle cx="529.16" cy="648.06" r="1.45" fill="#ff2a00"/>
<circle cx="530.42" cy="655.41" r="1.45" fill="#ff2a00"/>
<rect x="546" y="651.35" width="11.2" height="39.15" fill="#8aa2ff" stroke="#1a3cff" stroke-width="1.25"/>
<line x1="551.6" y1="643.71" x2="551.6" y2="658.99" stroke="#1a3cff" stroke-width="1.1"/>
<line x1="549.14" y1="643.71" x2="554.06" y2="643.71" stroke="#1a3cff" stroke-width="1.1"/>
<line x1="549.14" y1="658.99" x2="554.06" y2="658.99" stroke="#1a3cff" stroke-width="1.1"/>
<circle cx="551.6" cy="646.19" r="1.45" fill="#1a3cff"/>
<circle cx="551.6" cy="637.98" r="1.45" fill="#1a3cff"/>
<circle cx="553.27" cy="644.08" r="1.45" fill="#1a3cff"/>
<circle cx="551.6" cy="649.63" r="1.45" fill="#1a3cff"/>
<circle cx="551.6" cy="654.07" r="1.45" fill="#1a3cff"/>
<circle cx="548.26" cy="645.04" r="1.45" fill="#1a3cff"/>
<circle cx="554.94" cy="653.35" r="1.45" fill="#1a3cff"/>
<circle cx="553.27" cy="647.87" r="1.45" fill="#1a3cff"/>
<circle cx="548.26" cy="654.85" r="1.45" fill="#1a3cff"/>
<circle cx="553.27" cy="655.94" r="1.45" fill="#1a3cff"/>
<circle cx="548.26" cy="648.69" r="1.45" fill="#1a3cff"/>
<circle cx="555.91" cy="649.41" r="1.45" fill="#1a3cff"/>
<circle cx="549.93" cy="652.01" r="1.45" fill="#1a3cff"/>
<circle cx="551.6" cy="665.83" r="1.45" fill="#1a3cff"/>
<circle cx="552.17" cy="653.86" r="1.45" fill="#1a3cff"/>
<circle cx="551.38" cy="652.43" r="1.45" fill="#1a3cff"/>
<circle cx="551.6" cy="659.92" r="1.45" fill="#1a3cff"/>
<circle cx="551.6" cy="641.14" r="1.45" fill="#1a3cff"/>
<circle cx="549.93" cy="643.31" r="1.45" fill="#1a3cff"/>
<circle cx="550.17" cy="650.53" r="1.45" fill="#1a3cff"/>
<circle cx="554.94" cy="641.36" r="1.45" fill="#1a3cff"/>
<circle cx="553.93" cy="643.5" r="1.45" fill="#1a3cff"/>
<circle cx="553.29" cy="653.43" r="1.45" fill="#1a3cff"/>
<circle cx="551.6" cy="669.49" r="1.45" fill="#1a3cff"/>
<circle cx="554.94" cy="664.31" r="1.45" fill="#1a3cff"/>
<circle cx="548.51" cy="648.47" r="1.45" fill="#1a3cff"/>
<circle cx="547.54" cy="650.33" r="1.45" fill="#1a3cff"/>
<circle cx="549.93" cy="658.07" r="1.45" fill="#1a3cff"/>
<circle cx="548.67" cy="650.37" r="1.45" fill="#1a3cff"/>
<circle cx="554.44" cy="650.74" r="1.45" fill="#1a3cff"/>
<rect x="565.1" y="659.94" width="11.2" height="30.56" fill="#84c884" stroke="#0a8f0a" stroke-width="1.25"/>
<line x1="570.7" y1="651.35" x2="570.7" y2="668.53" stroke="#0a8f0a" stroke-width="1.1"/>
<line x1="568.24" y1="651.35" x2="573.16" y2="651.35" stroke="#0a8f0a" stroke-width="1.1"/>
<line x1="568.24" y1="668.53" x2="573.16" y2="668.53" stroke="#0a8f0a" stroke-width="1.1"/>
<circle cx="570.7" cy="665.47" r="1.45" fill="#0a8f0a"/>
<circle cx="574.04" cy="665.79" r="1.45" fill="#0a8f0a"/>
<circle cx="570.7" cy="678.09" r="1.45" fill="#0a8f0a"/>
<circle cx="574.04" cy="677.31" r="1.45" fill="#0a8f0a"/>
<circle cx="572.37" cy="667.46" r="1.45" fill="#0a8f0a"/>
<circle cx="570.7" cy="653.34" r="1.45" fill="#0a8f0a"/>
<circle cx="574.04" cy="653.05" r="1.45" fill="#0a8f0a"/>
<circle cx="570.7" cy="640.84" r="1.45" fill="#0a8f0a"/>
<circle cx="570.7" cy="671.54" r="1.45" fill="#0a8f0a"/>
<circle cx="570.7" cy="658.44" r="1.45" fill="#0a8f0a"/>
<circle cx="574.04" cy="659.28" r="1.45" fill="#0a8f0a"/>
<circle cx="567.37" cy="659.4" r="1.45" fill="#0a8f0a"/>
<circle cx="574.04" cy="641.33" r="1.45" fill="#0a8f0a"/>
<circle cx="573.25" cy="660.53" r="1.45" fill="#0a8f0a"/>
<circle cx="569.03" cy="676.23" r="1.45" fill="#0a8f0a"/>
<circle cx="573.67" cy="659.43" r="1.45" fill="#0a8f0a"/>
<circle cx="567.37" cy="665.45" r="1.45" fill="#0a8f0a"/>
<circle cx="570.7" cy="649.01" r="1.45" fill="#0a8f0a"/>
<rect x="584.4" y="644.66" width="11.2" height="45.84" fill="#ffc982" stroke="#ff9500" stroke-width="1.25"/>
<line x1="590" y1="638.93" x2="590" y2="650.39" stroke="#ff9500" stroke-width="1.1"/>
<line x1="587.54" y1="638.93" x2="592.46" y2="638.93" stroke="#ff9500" stroke-width="1.1"/>
<line x1="587.54" y1="650.39" x2="592.46" y2="650.39" stroke="#ff9500" stroke-width="1.1"/>
<circle cx="590" cy="631.29" r="1.45" fill="#ff9500"/>
<circle cx="590" cy="639.4" r="1.45" fill="#ff9500"/>
<circle cx="590" cy="642.69" r="1.45" fill="#ff9500"/>
<circle cx="590" cy="654.12" r="1.45" fill="#ff9500"/>
<circle cx="593.34" cy="642.55" r="1.45" fill="#ff9500"/>
<circle cx="590" cy="645.41" r="1.45" fill="#ff9500"/>
<circle cx="593.34" cy="645.35" r="1.45" fill="#ff9500"/>
<circle cx="586.66" cy="647" r="1.45" fill="#ff9500"/>
<circle cx="586.66" cy="643.06" r="1.45" fill="#ff9500"/>
<circle cx="590" cy="651.62" r="1.45" fill="#ff9500"/>
<circle cx="590.35" cy="646.92" r="1.45" fill="#ff9500"/>
<circle cx="593.34" cy="653.01" r="1.45" fill="#ff9500"/>
<circle cx="591.67" cy="648.88" r="1.45" fill="#ff9500"/>
<circle cx="588.27" cy="641.98" r="1.45" fill="#ff9500"/>
<circle cx="590" cy="657.08" r="1.45" fill="#ff9500"/>
<circle cx="589.73" cy="645.46" r="1.45" fill="#ff9500"/>
<circle cx="586.66" cy="651.71" r="1.45" fill="#ff9500"/>
<circle cx="593.34" cy="639.59" r="1.45" fill="#ff9500"/>
<circle cx="592.14" cy="646.05" r="1.45" fill="#ff9500"/>
<circle cx="591.5" cy="647.57" r="1.45" fill="#ff9500"/>
<circle cx="587.71" cy="647.95" r="1.45" fill="#ff9500"/>
<circle cx="591.67" cy="637.08" r="1.45" fill="#ff9500"/>
<circle cx="591.32" cy="647.09" r="1.45" fill="#ff9500"/>
<circle cx="590.33" cy="650.24" r="1.45" fill="#ff9500"/>
<circle cx="592.37" cy="643.03" r="1.45" fill="#ff9500"/>
<line x1="500.5" y1="690.5" x2="602.6" y2="690.5" stroke="#111" stroke-width="1.2"/>
<polyline points="513.5,644.02 513.5,625.8 551.6,625.8 551.6,633.48" fill="none" stroke="#111" stroke-width="1.1"/>
<text x="532.55" y="624" font-size="7.8" text-anchor="middle">0.0030</text>
<polyline points="513.5,620.3 513.5,608.3 590,608.3 590,626.79" fill="none" stroke="#111" stroke-width="1.1"/>
<text x="551.75" y="606.5" font-size="7.8" text-anchor="middle">&lt;0.0001</text>
<text x="551.9" y="594.3" font-size="12.2" text-anchor="middle" font-weight="bold">p27</text>
<text x="479.8" y="650.6" font-size="10.9" text-anchor="middle" transform="rotate(-90 479.8 650.6)">Percentage %</text>
<text x="613.4" y="616.3" font-size="11.7" font-weight="bold">BCX070</text>
<circle cx="605.1" cy="625.1" r="1.6" fill="#000000"/>
<text x="616.7" y="627.9" font-size="7.9">Vehicle</text>
<circle cx="605.1" cy="638.1" r="1.6" fill="#ff2a00"/>
<text x="616.7" y="640.9" font-size="7.9">Palbociclib</text>
<circle cx="605.1" cy="650.3" r="1.6" fill="#1a3cff"/>
<text x="616.7" y="653.1" font-size="7.9">BLU-222 (50 mpk)</text>
<circle cx="605.1" cy="662.6" r="1.6" fill="#0a8f0a"/>
<text x="616.7" y="665.4" font-size="7.9">BLU-222 (100 mpk)</text>
<circle cx="605.1" cy="674.9" r="1.6" fill="#ff9500"/>
<text x="616.7" y="677.7" font-size="7.9">BLU-222+Palbo</text>
<line x1="53.6" y1="754.9" x2="53.6" y2="823.5" stroke="#111" stroke-width="1.2"/>
<line x1="49.6" y1="822.9" x2="53.6" y2="822.9" stroke="#111" stroke-width="1.1"/>
<text x="48.3" y="826.1" font-size="9" text-anchor="end">0</text>
<line x1="49.6" y1="800.4" x2="53.6" y2="800.4" stroke="#111" stroke-width="1.1"/>
<text x="48.3" y="803.6" font-size="9" text-anchor="end">20</text>
<line x1="49.6" y1="777.9" x2="53.6" y2="777.9" stroke="#111" stroke-width="1.1"/>
<text x="48.3" y="781.1" font-size="9" text-anchor="end">40</text>
<line x1="49.6" y1="755.4" x2="53.6" y2="755.4" stroke="#111" stroke-width="1.1"/>
<text x="48.3" y="758.6" font-size="9" text-anchor="end">60</text>
<rect x="60" y="784.65" width="10" height="38.25" fill="#7a7a7a" stroke="#000000" stroke-width="1.25"/>
<line x1="65" y1="774.52" x2="65" y2="794.77" stroke="#000000" stroke-width="1.1"/>
<line x1="62.8" y1="774.52" x2="67.2" y2="774.52" stroke="#000000" stroke-width="1.1"/>
<line x1="62.8" y1="794.77" x2="67.2" y2="794.77" stroke="#000000" stroke-width="1.1"/>
<circle cx="65" cy="784.31" r="1.45" fill="#000000"/>
<circle cx="65" cy="780.21" r="1.45" fill="#000000"/>
<circle cx="68.33" cy="781.78" r="1.45" fill="#000000"/>
<circle cx="65" cy="775.65" r="1.45" fill="#000000"/>
<circle cx="65" cy="772.68" r="1.45" fill="#000000"/>
<circle cx="61.66" cy="781.24" r="1.45" fill="#000000"/>
<circle cx="67.71" cy="782.9" r="1.45" fill="#000000"/>
<circle cx="68.33" cy="776.03" r="1.45" fill="#000000"/>
<circle cx="65" cy="763.27" r="1.45" fill="#000000"/>
<circle cx="65" cy="788.86" r="1.45" fill="#000000"/>
<circle cx="66.67" cy="787.24" r="1.45" fill="#000000"/>
<circle cx="65" cy="795.46" r="1.45" fill="#000000"/>
<circle cx="68.33" cy="794.33" r="1.45" fill="#000000"/>
<circle cx="65" cy="769.41" r="1.45" fill="#000000"/>
<circle cx="65" cy="801.52" r="1.45" fill="#000000"/>
<rect x="76.9" y="785.77" width="10" height="37.12" fill="#ff8f7c" stroke="#ff2a00" stroke-width="1.25"/>
<line x1="81.9" y1="774.52" x2="81.9" y2="797.02" stroke="#ff2a00" stroke-width="1.1"/>
<line x1="79.7" y1="774.52" x2="84.1" y2="774.52" stroke="#ff2a00" stroke-width="1.1"/>
<line x1="79.7" y1="797.02" x2="84.1" y2="797.02" stroke="#ff2a00" stroke-width="1.1"/>
<circle cx="81.9" cy="766.65" r="1.45" fill="#ff2a00"/>
<circle cx="85.23" cy="768.06" r="1.45" fill="#ff2a00"/>
<circle cx="81.9" cy="782.21" r="1.45" fill="#ff2a00"/>
<circle cx="81.9" cy="788.23" r="1.45" fill="#ff2a00"/>
<circle cx="81.9" cy="803.77" r="1.45" fill="#ff2a00"/>
<circle cx="83.57" cy="789.98" r="1.45" fill="#ff2a00"/>
<circle cx="81.9" cy="792.37" r="1.45" fill="#ff2a00"/>
<circle cx="85.23" cy="786.62" r="1.45" fill="#ff2a00"/>
<circle cx="83.57" cy="780.39" r="1.45" fill="#ff2a00"/>
<circle cx="80.23" cy="790.28" r="1.45" fill="#ff2a00"/>
<circle cx="81.9" cy="796.59" r="1.45" fill="#ff2a00"/>
<circle cx="81.9" cy="770.07" r="1.45" fill="#ff2a00"/>
<circle cx="78.57" cy="769.57" r="1.45" fill="#ff2a00"/>
<circle cx="85.23" cy="782.65" r="1.45" fill="#ff2a00"/>
<circle cx="81.9" cy="775.83" r="1.45" fill="#ff2a00"/>
<rect x="94" y="804.34" width="10" height="18.56" fill="#8aa2ff" stroke="#1a3cff" stroke-width="1.25"/>
<line x1="99" y1="797.59" x2="99" y2="811.09" stroke="#1a3cff" stroke-width="1.1"/>
<line x1="96.8" y1="797.59" x2="101.2" y2="797.59" stroke="#1a3cff" stroke-width="1.1"/>
<line x1="96.8" y1="811.09" x2="101.2" y2="811.09" stroke="#1a3cff" stroke-width="1.1"/>
<circle cx="99" cy="796.44" r="1.45" fill="#1a3cff"/>
<circle cx="99" cy="806.9" r="1.45" fill="#1a3cff"/>
<circle cx="102.33" cy="807.65" r="1.45" fill="#1a3cff"/>
<circle cx="102.33" cy="797.09" r="1.45" fill="#1a3cff"/>
<circle cx="99" cy="801.03" r="1.45" fill="#1a3cff"/>
<circle cx="100.67" cy="805.25" r="1.45" fill="#1a3cff"/>
<circle cx="99" cy="791.4" r="1.45" fill="#1a3cff"/>
<circle cx="95.67" cy="808.26" r="1.45" fill="#1a3cff"/>
<circle cx="102.33" cy="802.13" r="1.45" fill="#1a3cff"/>
<circle cx="99" cy="813.9" r="1.45" fill="#1a3cff"/>
<rect x="110.9" y="806.02" width="10" height="16.88" fill="#84c884" stroke="#0a8f0a" stroke-width="1.25"/>
<line x1="115.9" y1="800.4" x2="115.9" y2="811.65" stroke="#0a8f0a" stroke-width="1.1"/>
<line x1="113.7" y1="800.4" x2="118.1" y2="800.4" stroke="#0a8f0a" stroke-width="1.1"/>
<line x1="113.7" y1="811.65" x2="118.1" y2="811.65" stroke="#0a8f0a" stroke-width="1.1"/>
<circle cx="115.9" cy="812.77" r="1.45" fill="#0a8f0a"/>
<circle cx="115.9" cy="803.49" r="1.45" fill="#0a8f0a"/>
<circle cx="115.9" cy="806.3" r="1.45" fill="#0a8f0a"/>
<circle cx="119.23" cy="805.12" r="1.45" fill="#0a8f0a"/>
<circle cx="117.57" cy="810.87" r="1.45" fill="#0a8f0a"/>
<circle cx="115.9" cy="789.15" r="1.45" fill="#0a8f0a"/>
<circle cx="117.57" cy="801.73" r="1.45" fill="#0a8f0a"/>
<circle cx="112.57" cy="804.45" r="1.45" fill="#0a8f0a"/>
<circle cx="111.99" cy="805.05" r="1.45" fill="#0a8f0a"/>
<circle cx="112.57" cy="811.9" r="1.45" fill="#0a8f0a"/>
<circle cx="117.57" cy="808.29" r="1.45" fill="#0a8f0a"/>
<circle cx="114.23" cy="809.99" r="1.45" fill="#0a8f0a"/>
<rect x="128" y="813.9" width="10" height="9" fill="#ffc982" stroke="#ff9500" stroke-width="1.25"/>
<line x1="133" y1="802.65" x2="133" y2="822.9" stroke="#ff9500" stroke-width="1.1"/>
<line x1="130.8" y1="802.65" x2="135.2" y2="802.65" stroke="#ff9500" stroke-width="1.1"/>
<line x1="130.8" y1="822.9" x2="135.2" y2="822.9" stroke="#ff9500" stroke-width="1.1"/>
<circle cx="133" cy="820.65" r="1.45" fill="#ff9500"/>
<circle cx="133" cy="808.07" r="1.45" fill="#ff9500"/>
<circle cx="133" cy="803.88" r="1.45" fill="#ff9500"/>
<circle cx="133" cy="800.4" r="1.45" fill="#ff9500"/>
<circle cx="136.34" cy="819.74" r="1.45" fill="#ff9500"/>
<line x1="53.6" y1="822.9" x2="144.6" y2="822.9" stroke="#111" stroke-width="1.2"/>
<polyline points="65,759.77 65,758.3 99,758.3 99,786.9" fill="none" stroke="#111" stroke-width="1.1"/>
<text x="82" y="756.5" font-size="7.8" text-anchor="middle">&lt;0.0001</text>
<polyline points="65,752.8 65,747.3 115.9,747.3 115.9,784.65" fill="none" stroke="#111" stroke-width="1.1"/>
<text x="90.45" y="745.5" font-size="7.8" text-anchor="middle">&lt;0.0001</text>
<polyline points="65,741.8 65,736.5 133,736.5 133,795.9" fill="none" stroke="#111" stroke-width="1.1"/>
<text x="99" y="734.7" font-size="7.8" text-anchor="middle">&lt;0.0001</text>
<text x="99.6" y="721.7" font-size="11" text-anchor="middle" font-weight="bold">Ki67</text>
<text x="38.5" y="787.3" font-size="9.7" text-anchor="middle" transform="rotate(-90 38.5 787.3)">Percentage %</text>
<line x1="208.8" y1="755.5" x2="208.8" y2="821.9" stroke="#111" stroke-width="1.2"/>
<line x1="204.8" y1="821.3" x2="208.8" y2="821.3" stroke="#111" stroke-width="1.1"/>
<text x="203.5" y="824.5" font-size="9" text-anchor="end">0</text>
<line x1="204.8" y1="799.53" x2="208.8" y2="799.53" stroke="#111" stroke-width="1.1"/>
<text x="203.5" y="802.73" font-size="9" text-anchor="end">10</text>
<line x1="204.8" y1="777.77" x2="208.8" y2="777.77" stroke="#111" stroke-width="1.1"/>
<text x="203.5" y="780.97" font-size="9" text-anchor="end">20</text>
<line x1="204.8" y1="756" x2="208.8" y2="756" stroke="#111" stroke-width="1.1"/>
<text x="203.5" y="759.2" font-size="9" text-anchor="end">30</text>
<rect x="214.85" y="813.68" width="9.7" height="7.62" fill="#7a7a7a" stroke="#000000" stroke-width="1.25"/>
<line x1="219.7" y1="800.62" x2="219.7" y2="821.3" stroke="#000000" stroke-width="1.1"/>
<line x1="217.57" y1="800.62" x2="221.83" y2="800.62" stroke="#000000" stroke-width="1.1"/>
<line x1="217.57" y1="821.3" x2="221.83" y2="821.3" stroke="#000000" stroke-width="1.1"/>
<circle cx="219.7" cy="813.24" r="1.45" fill="#000000"/>
<circle cx="219.7" cy="805.43" r="1.45" fill="#000000"/>
<circle cx="219.7" cy="789.84" r="1.45" fill="#000000"/>
<circle cx="219.7" cy="821.3" r="1.45" fill="#000000"/>
<circle cx="219.7" cy="802.35" r="1.45" fill="#000000"/>
<circle cx="219.7" cy="769.06" r="1.45" fill="#000000"/>
<circle cx="219.7" cy="809.87" r="1.45" fill="#000000"/>
<circle cx="223.03" cy="806.48" r="1.45" fill="#000000"/>
<rect x="231.45" y="816.95" width="9.7" height="4.35" fill="#ff8f7c" stroke="#ff2a00" stroke-width="1.25"/>
<line x1="236.3" y1="813.68" x2="236.3" y2="820.21" stroke="#ff2a00" stroke-width="1.1"/>
<line x1="234.17" y1="813.68" x2="238.43" y2="813.68" stroke="#ff2a00" stroke-width="1.1"/>
<line x1="234.17" y1="820.21" x2="238.43" y2="820.21" stroke="#ff2a00" stroke-width="1.1"/>
<circle cx="236.3" cy="816.67" r="1.45" fill="#ff2a00"/>
<circle cx="239.64" cy="815.06" r="1.45" fill="#ff2a00"/>
<circle cx="236.3" cy="813.87" r="1.45" fill="#ff2a00"/>
<circle cx="236.3" cy="821.3" r="1.45" fill="#ff2a00"/>
<circle cx="237.97" cy="812.2" r="1.45" fill="#ff2a00"/>
<circle cx="232.97" cy="815.65" r="1.45" fill="#ff2a00"/>
<circle cx="239.64" cy="817.52" r="1.45" fill="#ff2a00"/>
<circle cx="236.3" cy="810.42" r="1.45" fill="#ff2a00"/>
<rect x="247.65" y="798.88" width="9.7" height="22.42" fill="#8aa2ff" stroke="#1a3cff" stroke-width="1.25"/>
<line x1="252.5" y1="786.91" x2="252.5" y2="810.85" stroke="#1a3cff" stroke-width="1.1"/>
<line x1="250.37" y1="786.91" x2="254.63" y2="786.91" stroke="#1a3cff" stroke-width="1.1"/>
<line x1="250.37" y1="810.85" x2="254.63" y2="810.85" stroke="#1a3cff" stroke-width="1.1"/>
<circle cx="252.5" cy="802.93" r="1.45" fill="#1a3cff"/>
<circle cx="252.5" cy="789.08" r="1.45" fill="#1a3cff"/>
<circle cx="252.5" cy="805.52" r="1.45" fill="#1a3cff"/>
<circle cx="252.5" cy="814.77" r="1.45" fill="#1a3cff"/>
<circle cx="252.5" cy="773.41" r="1.45" fill="#1a3cff"/>
<circle cx="252.5" cy="796.2" r="1.45" fill="#1a3cff"/>
<circle cx="252.5" cy="775.83" r="1.45" fill="#1a3cff"/>
<circle cx="254.17" cy="812.81" r="1.45" fill="#1a3cff"/>
<circle cx="252.5" cy="781.71" r="1.45" fill="#1a3cff"/>
<circle cx="254.17" cy="807.34" r="1.45" fill="#1a3cff"/>
<circle cx="252.5" cy="799.9" r="1.45" fill="#1a3cff"/>
<circle cx="250.83" cy="807.95" r="1.45" fill="#1a3cff"/>
<rect x="264.15" y="801.06" width="9.7" height="20.24" fill="#84c884" stroke="#0a8f0a" stroke-width="1.25"/>
<line x1="269" y1="788" x2="269" y2="814.12" stroke="#0a8f0a" stroke-width="1.1"/>
<line x1="266.87" y1="788" x2="271.13" y2="788" stroke="#0a8f0a" stroke-width="1.1"/>
<line x1="266.87" y1="814.12" x2="271.13" y2="814.12" stroke="#0a8f0a" stroke-width="1.1"/>
<circle cx="269" cy="790.46" r="1.45" fill="#0a8f0a"/>
<circle cx="269" cy="813.45" r="1.45" fill="#0a8f0a"/>
<circle cx="272.33" cy="811.93" r="1.45" fill="#0a8f0a"/>
<circle cx="269" cy="804.2" r="1.45" fill="#0a8f0a"/>
<circle cx="269" cy="779.94" r="1.45" fill="#0a8f0a"/>
<circle cx="269" cy="799.54" r="1.45" fill="#0a8f0a"/>
<circle cx="269" cy="819.12" r="1.45" fill="#0a8f0a"/>
<circle cx="272.33" cy="790.09" r="1.45" fill="#0a8f0a"/>
<circle cx="272.33" cy="803.26" r="1.45" fill="#0a8f0a"/>
<circle cx="272.33" cy="799.95" r="1.45" fill="#0a8f0a"/>
<circle cx="265.67" cy="799.83" r="1.45" fill="#0a8f0a"/>
<circle cx="265.67" cy="803" r="1.45" fill="#0a8f0a"/>
<circle cx="272.64" cy="798.06" r="1.45" fill="#0a8f0a"/>
<circle cx="271.18" cy="804.77" r="1.45" fill="#0a8f0a"/>
<circle cx="272.33" cy="814.9" r="1.45" fill="#0a8f0a"/>
<rect x="280.65" y="792.35" width="9.7" height="28.95" fill="#ffc982" stroke="#ff9500" stroke-width="1.25"/>
<line x1="285.5" y1="772.76" x2="285.5" y2="811.94" stroke="#ff9500" stroke-width="1.1"/>
<line x1="283.37" y1="772.76" x2="287.63" y2="772.76" stroke="#ff9500" stroke-width="1.1"/>
<line x1="283.37" y1="811.94" x2="287.63" y2="811.94" stroke="#ff9500" stroke-width="1.1"/>
<circle cx="285.5" cy="777.8" r="1.45" fill="#ff9500"/>
<circle cx="285.5" cy="819.12" r="1.45" fill="#ff9500"/>
<circle cx="285.5" cy="784.64" r="1.45" fill="#ff9500"/>
<circle cx="285.5" cy="801.45" r="1.45" fill="#ff9500"/>
<circle cx="285.5" cy="775.14" r="1.45" fill="#ff9500"/>
<circle cx="285.5" cy="810.87" r="1.45" fill="#ff9500"/>
<circle cx="288.83" cy="783.91" r="1.45" fill="#ff9500"/>
<circle cx="288.83" cy="778.98" r="1.45" fill="#ff9500"/>
<circle cx="285.5" cy="768.15" r="1.45" fill="#ff9500"/>
<circle cx="285.5" cy="762.53" r="1.45" fill="#ff9500"/>
<line x1="208.8" y1="821.3" x2="296" y2="821.3" stroke="#111" stroke-width="1.2"/>
<polyline points="219.7,765.56 219.7,758.3 252.5,758.3 252.5,768.91" fill="none" stroke="#111" stroke-width="1.1"/>
<text x="236.1" y="756.5" font-size="7.8" text-anchor="middle">0.0466</text>
<polyline points="219.7,752.8 219.7,747.3 269,747.3 269,775.44" fill="none" stroke="#111" stroke-width="1.1"/>
<text x="244.35" y="745.5" font-size="7.8" text-anchor="middle">0.0358</text>
<polyline points="219.7,741.8 219.7,736.5 285.5,736.5 285.5,758.03" fill="none" stroke="#111" stroke-width="1.1"/>
<text x="252.6" y="734.7" font-size="7.8" text-anchor="middle">0.0004</text>
<text x="252.1" y="724.8" font-size="11" text-anchor="middle" font-weight="bold"><tspan font-weight="normal">γ</tspan>H2AX</text>
<text x="191.7" y="787.3" font-size="9.4" text-anchor="middle" transform="rotate(-90 191.7 787.3)">Percentage %</text>
<line x1="348.5" y1="748.3" x2="348.5" y2="821.3" stroke="#111" stroke-width="1.2"/>
<line x1="344.5" y1="820.7" x2="348.5" y2="820.7" stroke="#111" stroke-width="1.1"/>
<text x="343.2" y="823.9" font-size="9" text-anchor="end">0.0</text>
<line x1="344.5" y1="802.73" x2="348.5" y2="802.73" stroke="#111" stroke-width="1.1"/>
<text x="343.2" y="805.93" font-size="9" text-anchor="end">0.5</text>
<line x1="344.5" y1="784.75" x2="348.5" y2="784.75" stroke="#111" stroke-width="1.1"/>
<text x="343.2" y="787.95" font-size="9" text-anchor="end">1.0</text>
<line x1="344.5" y1="766.77" x2="348.5" y2="766.77" stroke="#111" stroke-width="1.1"/>
<text x="343.2" y="769.98" font-size="9" text-anchor="end">1.5</text>
<line x1="344.5" y1="748.8" x2="348.5" y2="748.8" stroke="#111" stroke-width="1.1"/>
<text x="343.2" y="752" font-size="9" text-anchor="end">2.0</text>
<rect x="355.4" y="812.43" width="10.6" height="8.27" fill="#7a7a7a" stroke="#000000" stroke-width="1.25"/>
<line x1="360.7" y1="806.32" x2="360.7" y2="818.54" stroke="#000000" stroke-width="1.1"/>
<line x1="358.37" y1="806.32" x2="363.03" y2="806.32" stroke="#000000" stroke-width="1.1"/>
<line x1="358.37" y1="818.54" x2="363.03" y2="818.54" stroke="#000000" stroke-width="1.1"/>
<circle cx="360.7" cy="815.76" r="1.45" fill="#000000"/>
<circle cx="360.7" cy="818.31" r="1.45" fill="#000000"/>
<circle cx="360.7" cy="812.74" r="1.45" fill="#000000"/>
<circle cx="360.7" cy="805.1" r="1.45" fill="#000000"/>
<circle cx="360.7" cy="797.33" r="1.45" fill="#000000"/>
<circle cx="362.37" cy="819.98" r="1.45" fill="#000000"/>
<circle cx="357.37" cy="819.13" r="1.45" fill="#000000"/>
<circle cx="358.27" cy="819.46" r="1.45" fill="#000000"/>
<circle cx="364.03" cy="816.84" r="1.45" fill="#000000"/>
<circle cx="362.37" cy="810.62" r="1.45" fill="#000000"/>
<circle cx="364.06" cy="818.65" r="1.45" fill="#000000"/>
<circle cx="357.37" cy="816.48" r="1.45" fill="#000000"/>
<circle cx="359.03" cy="809.46" r="1.45" fill="#000000"/>
<circle cx="364.03" cy="814.35" r="1.45" fill="#000000"/>
<circle cx="357.37" cy="813.49" r="1.45" fill="#000000"/>
<rect x="373.5" y="812.43" width="10.6" height="8.27" fill="#ff8f7c" stroke="#ff2a00" stroke-width="1.25"/>
<line x1="378.8" y1="808.12" x2="378.8" y2="816.75" stroke="#ff2a00" stroke-width="1.1"/>
<line x1="376.47" y1="808.12" x2="381.13" y2="808.12" stroke="#ff2a00" stroke-width="1.1"/>
<line x1="376.47" y1="816.75" x2="381.13" y2="816.75" stroke="#ff2a00" stroke-width="1.1"/>
<circle cx="378.8" cy="819.98" r="1.45" fill="#ff2a00"/>
<circle cx="378.8" cy="815.7" r="1.45" fill="#ff2a00"/>
<circle cx="378.8" cy="800.93" r="1.45" fill="#ff2a00"/>
<circle cx="378.8" cy="812.49" r="1.45" fill="#ff2a00"/>
<circle cx="382.13" cy="813.69" r="1.45" fill="#ff2a00"/>
<circle cx="378.8" cy="809.83" r="1.45" fill="#ff2a00"/>
<circle cx="375.47" cy="814.39" r="1.45" fill="#ff2a00"/>
<circle cx="376.2" cy="812.94" r="1.45" fill="#ff2a00"/>
<circle cx="380.1" cy="812" r="1.45" fill="#ff2a00"/>
<circle cx="378.44" cy="814.42" r="1.45" fill="#ff2a00"/>
<circle cx="378.58" cy="812.43" r="1.45" fill="#ff2a00"/>
<circle cx="377.6" cy="814.35" r="1.45" fill="#ff2a00"/>
<rect x="391.5" y="787.63" width="10.6" height="33.07" fill="#8aa2ff" stroke="#1a3cff" stroke-width="1.25"/>
<line x1="396.8" y1="773.25" x2="396.8" y2="802.01" stroke="#1a3cff" stroke-width="1.1"/>
<line x1="394.47" y1="773.25" x2="399.13" y2="773.25" stroke="#1a3cff" stroke-width="1.1"/>
<line x1="394.47" y1="802.01" x2="399.13" y2="802.01" stroke="#1a3cff" stroke-width="1.1"/>
<circle cx="396.8" cy="786.43" r="1.45" fill="#1a3cff"/>
<circle cx="396.8" cy="793.79" r="1.45" fill="#1a3cff"/>
<circle cx="396.8" cy="783.01" r="1.45" fill="#1a3cff"/>
<circle cx="400.13" cy="782.51" r="1.45" fill="#1a3cff"/>
<circle cx="396.8" cy="802.73" r="1.45" fill="#1a3cff"/>
<circle cx="396.8" cy="800.17" r="1.45" fill="#1a3cff"/>
<circle cx="396.8" cy="756.71" r="1.45" fill="#1a3cff"/>
<circle cx="400.13" cy="786.07" r="1.45" fill="#1a3cff"/>
<circle cx="393.47" cy="786.13" r="1.45" fill="#1a3cff"/>
<circle cx="396.8" cy="789.39" r="1.45" fill="#1a3cff"/>
<circle cx="400.13" cy="789.23" r="1.45" fill="#1a3cff"/>
<circle cx="400.13" cy="793.13" r="1.45" fill="#1a3cff"/>
<rect x="409.4" y="798.41" width="10.6" height="22.29" fill="#84c884" stroke="#0a8f0a" stroke-width="1.25"/>
<line x1="414.7" y1="787.63" x2="414.7" y2="809.2" stroke="#0a8f0a" stroke-width="1.1"/>
<line x1="412.37" y1="787.63" x2="417.03" y2="787.63" stroke="#0a8f0a" stroke-width="1.1"/>
<line x1="412.37" y1="809.2" x2="417.03" y2="809.2" stroke="#0a8f0a" stroke-width="1.1"/>
<circle cx="414.7" cy="784.35" r="1.45" fill="#0a8f0a"/>
<circle cx="414.7" cy="792.35" r="1.45" fill="#0a8f0a"/>
<circle cx="414.7" cy="804.15" r="1.45" fill="#0a8f0a"/>
<circle cx="416.37" cy="805.95" r="1.45" fill="#0a8f0a"/>
<circle cx="414.7" cy="812.38" r="1.45" fill="#0a8f0a"/>
<circle cx="418.03" cy="803.94" r="1.45" fill="#0a8f0a"/>
<circle cx="414.7" cy="798.19" r="1.45" fill="#0a8f0a"/>
<circle cx="414.7" cy="779.36" r="1.45" fill="#0a8f0a"/>
<circle cx="416.37" cy="800.49" r="1.45" fill="#0a8f0a"/>
<circle cx="416.37" cy="794.33" r="1.45" fill="#0a8f0a"/>
<circle cx="413.03" cy="800.38" r="1.45" fill="#0a8f0a"/>
<circle cx="414.7" cy="817.11" r="1.45" fill="#0a8f0a"/>
<circle cx="418.03" cy="798.74" r="1.45" fill="#0a8f0a"/>
<circle cx="413.03" cy="796.05" r="1.45" fill="#0a8f0a"/>
<circle cx="414.7" cy="787.87" r="1.45" fill="#0a8f0a"/>
<circle cx="418.03" cy="815.78" r="1.45" fill="#0a8f0a"/>
<circle cx="418.03" cy="780.71" r="1.45" fill="#0a8f0a"/>
<circle cx="414.7" cy="808.3" r="1.45" fill="#0a8f0a"/>
<rect x="427.5" y="800.57" width="10.6" height="20.13" fill="#ffc982" stroke="#ff9500" stroke-width="1.25"/>
<line x1="432.8" y1="791.58" x2="432.8" y2="809.56" stroke="#ff9500" stroke-width="1.1"/>
<line x1="430.47" y1="791.58" x2="435.13" y2="791.58" stroke="#ff9500" stroke-width="1.1"/>
<line x1="430.47" y1="809.56" x2="435.13" y2="809.56" stroke="#ff9500" stroke-width="1.1"/>
<circle cx="432.8" cy="781.87" r="1.45" fill="#ff9500"/>
<circle cx="432.8" cy="792.54" r="1.45" fill="#ff9500"/>
<circle cx="434.47" cy="783.92" r="1.45" fill="#ff9500"/>
<circle cx="432.8" cy="800.91" r="1.45" fill="#ff9500"/>
<circle cx="436.13" cy="782.22" r="1.45" fill="#ff9500"/>
<circle cx="432.8" cy="788.37" r="1.45" fill="#ff9500"/>
<circle cx="432.8" cy="805.39" r="1.45" fill="#ff9500"/>
<circle cx="434.47" cy="799.11" r="1.45" fill="#ff9500"/>
<circle cx="432.8" cy="811.03" r="1.45" fill="#ff9500"/>
<circle cx="436.13" cy="793.12" r="1.45" fill="#ff9500"/>
<circle cx="434.47" cy="802.95" r="1.45" fill="#ff9500"/>
<circle cx="432.8" cy="813.51" r="1.45" fill="#ff9500"/>
<line x1="348.5" y1="820.7" x2="444.4" y2="820.7" stroke="#111" stroke-width="1.2"/>
<polyline points="360.7,793.83 360.7,750.6 396.8,750.6 396.8,752.21" fill="none" stroke="#111" stroke-width="1.1"/>
<text x="378.75" y="748.8" font-size="7.8" text-anchor="middle">&lt;0.0001</text>
<polyline points="360.7,745.1 360.7,739.1 414.7,739.1 414.7,774.86" fill="none" stroke="#111" stroke-width="1.1"/>
<text x="387.7" y="737.3" font-size="7.8" text-anchor="middle">0.0006</text>
<polyline points="360.7,733.6 360.7,729.4 432.8,729.4 432.8,777.37" fill="none" stroke="#111" stroke-width="1.1"/>
<text x="396.75" y="727.6" font-size="7.8" text-anchor="middle">0.0176</text>
<text x="396.6" y="717.4" font-size="11" text-anchor="middle" font-weight="bold">p21</text>
<text x="326.7" y="783.7" font-size="10.25" text-anchor="middle" transform="rotate(-90 326.7 783.7)">Percentage %</text>
<line x1="500.3" y1="740.2" x2="500.3" y2="816" stroke="#111" stroke-width="1.2"/>
<line x1="496.3" y1="815.4" x2="500.3" y2="815.4" stroke="#111" stroke-width="1.1"/>
<text x="495" y="818.6" font-size="9" text-anchor="end">0</text>
<line x1="496.3" y1="800.46" x2="500.3" y2="800.46" stroke="#111" stroke-width="1.1"/>
<text x="495" y="803.66" font-size="9" text-anchor="end">20</text>
<line x1="496.3" y1="785.52" x2="500.3" y2="785.52" stroke="#111" stroke-width="1.1"/>
<text x="495" y="788.72" font-size="9" text-anchor="end">40</text>
<line x1="496.3" y1="770.58" x2="500.3" y2="770.58" stroke="#111" stroke-width="1.1"/>
<text x="495" y="773.78" font-size="9" text-anchor="end">60</text>
<line x1="496.3" y1="755.64" x2="500.3" y2="755.64" stroke="#111" stroke-width="1.1"/>
<text x="495" y="758.84" font-size="9" text-anchor="end">80</text>
<line x1="496.3" y1="740.7" x2="500.3" y2="740.7" stroke="#111" stroke-width="1.1"/>
<text x="495" y="743.9" font-size="9" text-anchor="end">100</text>
<rect x="507.65" y="790" width="10.9" height="25.4" fill="#7a7a7a" stroke="#000000" stroke-width="1.25"/>
<line x1="513.1" y1="784.03" x2="513.1" y2="795.98" stroke="#000000" stroke-width="1.1"/>
<line x1="510.7" y1="784.03" x2="515.5" y2="784.03" stroke="#000000" stroke-width="1.1"/>
<line x1="510.7" y1="795.98" x2="515.5" y2="795.98" stroke="#000000" stroke-width="1.1"/>
<circle cx="513.1" cy="804.19" r="1.45" fill="#000000"/>
<circle cx="513.1" cy="781.04" r="1.45" fill="#000000"/>
<circle cx="513.1" cy="787.75" r="1.45" fill="#000000"/>
<circle cx="513.1" cy="798.87" r="1.45" fill="#000000"/>
<circle cx="514.77" cy="797.02" r="1.45" fill="#000000"/>
<circle cx="513.1" cy="791.79" r="1.45" fill="#000000"/>
<circle cx="516.44" cy="790.83" r="1.45" fill="#000000"/>
<circle cx="514.77" cy="782.7" r="1.45" fill="#000000"/>
<circle cx="509.77" cy="788.52" r="1.45" fill="#000000"/>
<circle cx="509.77" cy="793.11" r="1.45" fill="#000000"/>
<circle cx="515.85" cy="791.29" r="1.45" fill="#000000"/>
<circle cx="513.81" cy="791.12" r="1.45" fill="#000000"/>
<circle cx="514.77" cy="793.46" r="1.45" fill="#000000"/>
<circle cx="515.27" cy="790.23" r="1.45" fill="#000000"/>
<circle cx="513.1" cy="784.64" r="1.45" fill="#000000"/>
<circle cx="516.44" cy="799.59" r="1.45" fill="#000000"/>
<circle cx="509.77" cy="783.63" r="1.45" fill="#000000"/>
<circle cx="516.44" cy="786.22" r="1.45" fill="#000000"/>
<rect x="526.05" y="786.27" width="10.9" height="29.13" fill="#ff8f7c" stroke="#ff2a00" stroke-width="1.25"/>
<line x1="531.5" y1="780.29" x2="531.5" y2="792.24" stroke="#ff2a00" stroke-width="1.1"/>
<line x1="529.1" y1="780.29" x2="533.9" y2="780.29" stroke="#ff2a00" stroke-width="1.1"/>
<line x1="529.1" y1="792.24" x2="533.9" y2="792.24" stroke="#ff2a00" stroke-width="1.1"/>
<circle cx="531.5" cy="783.32" r="1.45" fill="#ff2a00"/>
<circle cx="531.5" cy="791.51" r="1.45" fill="#ff2a00"/>
<circle cx="531.5" cy="804.19" r="1.45" fill="#ff2a00"/>
<circle cx="534.84" cy="792.15" r="1.45" fill="#ff2a00"/>
<circle cx="528.16" cy="790.31" r="1.45" fill="#ff2a00"/>
<circle cx="534.84" cy="784.62" r="1.45" fill="#ff2a00"/>
<circle cx="528.16" cy="783.01" r="1.45" fill="#ff2a00"/>
<circle cx="531.5" cy="778.31" r="1.45" fill="#ff2a00"/>
<circle cx="534.84" cy="778.81" r="1.45" fill="#ff2a00"/>
<circle cx="533.17" cy="781.06" r="1.45" fill="#ff2a00"/>
<circle cx="531.5" cy="773.57" r="1.45" fill="#ff2a00"/>
<circle cx="531.5" cy="793.98" r="1.45" fill="#ff2a00"/>
<circle cx="533.75" cy="781.52" r="1.45" fill="#ff2a00"/>
<circle cx="529.83" cy="780.7" r="1.45" fill="#ff2a00"/>
<circle cx="528.16" cy="777.24" r="1.45" fill="#ff2a00"/>
<rect x="544.75" y="802.7" width="10.9" height="12.7" fill="#8aa2ff" stroke="#1a3cff" stroke-width="1.25"/>
<line x1="550.2" y1="798.97" x2="550.2" y2="806.44" stroke="#1a3cff" stroke-width="1.1"/>
<line x1="547.8" y1="798.97" x2="552.6" y2="798.97" stroke="#1a3cff" stroke-width="1.1"/>
<line x1="547.8" y1="806.44" x2="552.6" y2="806.44" stroke="#1a3cff" stroke-width="1.1"/>
<circle cx="550.2" cy="805.73" r="1.45" fill="#1a3cff"/>
<circle cx="551.87" cy="803.6" r="1.45" fill="#1a3cff"/>
<circle cx="546.87" cy="805.18" r="1.45" fill="#1a3cff"/>
<circle cx="550.2" cy="798.2" r="1.45" fill="#1a3cff"/>
<circle cx="550.2" cy="810.17" r="1.45" fill="#1a3cff"/>
<circle cx="548.53" cy="803.13" r="1.45" fill="#1a3cff"/>
<circle cx="550.21" cy="803" r="1.45" fill="#1a3cff"/>
<circle cx="553.54" cy="801.85" r="1.45" fill="#1a3cff"/>
<circle cx="550.2" cy="795.23" r="1.45" fill="#1a3cff"/>
<circle cx="554.32" cy="803.69" r="1.45" fill="#1a3cff"/>
<rect x="563.85" y="784.77" width="10.9" height="30.63" fill="#84c884" stroke="#0a8f0a" stroke-width="1.25"/>
<line x1="569.3" y1="775.81" x2="569.3" y2="793.74" stroke="#0a8f0a" stroke-width="1.1"/>
<line x1="566.9" y1="775.81" x2="571.7" y2="775.81" stroke="#0a8f0a" stroke-width="1.1"/>
<line x1="566.9" y1="793.74" x2="571.7" y2="793.74" stroke="#0a8f0a" stroke-width="1.1"/>
<circle cx="569.3" cy="772.3" r="1.45" fill="#0a8f0a"/>
<circle cx="569.3" cy="777.55" r="1.45" fill="#0a8f0a"/>
<circle cx="569.3" cy="785.48" r="1.45" fill="#0a8f0a"/>
<circle cx="572.63" cy="777.08" r="1.45" fill="#0a8f0a"/>
<circle cx="570.97" cy="775.33" r="1.45" fill="#0a8f0a"/>
<circle cx="570.97" cy="779.37" r="1.45" fill="#0a8f0a"/>
<circle cx="569.3" cy="769.34" r="1.45" fill="#0a8f0a"/>
<circle cx="572.63" cy="768.34" r="1.45" fill="#0a8f0a"/>
<circle cx="567.63" cy="774.14" r="1.45" fill="#0a8f0a"/>
<circle cx="569.3" cy="792.68" r="1.45" fill="#0a8f0a"/>
<circle cx="570.97" cy="790.9" r="1.45" fill="#0a8f0a"/>
<circle cx="565.96" cy="778.39" r="1.45" fill="#0a8f0a"/>
<circle cx="569.3" cy="806.44" r="1.45" fill="#0a8f0a"/>
<circle cx="572.63" cy="784.27" r="1.45" fill="#0a8f0a"/>
<circle cx="572.63" cy="794.02" r="1.45" fill="#0a8f0a"/>
<rect x="582.55" y="775.06" width="10.9" height="40.34" fill="#ffc982" stroke="#ff9500" stroke-width="1.25"/>
<line x1="588" y1="763.86" x2="588" y2="786.27" stroke="#ff9500" stroke-width="1.1"/>
<line x1="585.6" y1="763.86" x2="590.4" y2="763.86" stroke="#ff9500" stroke-width="1.1"/>
<line x1="585.6" y1="786.27" x2="590.4" y2="786.27" stroke="#ff9500" stroke-width="1.1"/>
<circle cx="588" cy="754.15" r="1.45" fill="#ff9500"/>
<circle cx="588" cy="792.99" r="1.45" fill="#ff9500"/>
<circle cx="588" cy="777.98" r="1.45" fill="#ff9500"/>
<circle cx="588" cy="756.86" r="1.45" fill="#ff9500"/>
<circle cx="588" cy="781.83" r="1.45" fill="#ff9500"/>
<circle cx="591.34" cy="780.64" r="1.45" fill="#ff9500"/>
<circle cx="591.34" cy="792.37" r="1.45" fill="#ff9500"/>
<circle cx="588" cy="767.04" r="1.45" fill="#ff9500"/>
<circle cx="591.34" cy="766.95" r="1.45" fill="#ff9500"/>
<circle cx="589.67" cy="768.84" r="1.45" fill="#ff9500"/>
<circle cx="591.34" cy="777.13" r="1.45" fill="#ff9500"/>
<circle cx="588" cy="773.02" r="1.45" fill="#ff9500"/>
<circle cx="591.34" cy="756.11" r="1.45" fill="#ff9500"/>
<circle cx="589.67" cy="774.75" r="1.45" fill="#ff9500"/>
<circle cx="588" cy="761.15" r="1.45" fill="#ff9500"/>
<line x1="500.3" y1="815.4" x2="600.2" y2="815.4" stroke="#111" stroke-width="1.2"/>
<polyline points="513.1,777.54 513.1,742 588,742 588,749.65" fill="none" stroke="#111" stroke-width="1.1"/>
<text x="550.55" y="740.2" font-size="7.8" text-anchor="middle">0.0003</text>
<text x="550.1" y="721.7" font-size="12.2" text-anchor="middle" font-weight="bold">p27</text>
<text x="475.3" y="775.8" font-size="10.7" text-anchor="middle" transform="rotate(-90 475.3 775.8)">Percentage %</text>
<text x="614.9" y="728" font-size="11.7" font-weight="bold">BCX017</text>
<circle cx="605.1" cy="743.8" r="1.6" fill="#000000"/>
<text x="616.7" y="746.6" font-size="7.9">Vehicle</text>
<circle cx="605.1" cy="756.1" r="1.6" fill="#ff2a00"/>
<text x="616.7" y="758.9" font-size="7.9">Palbociclib</text>
<circle cx="605.1" cy="768.3" r="1.6" fill="#1a3cff"/>
<text x="616.7" y="771.1" font-size="7.9">BLU-222 (50 mpk)</text>
<circle cx="605.1" cy="781.3" r="1.6" fill="#0a8f0a"/>
<text x="616.7" y="784.1" font-size="7.9">BLU-222 (100 mpk)</text>
<circle cx="605.1" cy="793.9" r="1.6" fill="#ff9500"/>
<text x="616.7" y="796.7" font-size="7.9">BLU-222+Palbo</text>
<line x1="52.6" y1="885.5" x2="52.6" y2="957.8" stroke="#111" stroke-width="1.2"/>
<line x1="48.6" y1="957.2" x2="52.6" y2="957.2" stroke="#111" stroke-width="1.1"/>
<text x="47.3" y="960.4" font-size="9" text-anchor="end">0</text>
<line x1="48.6" y1="939.4" x2="52.6" y2="939.4" stroke="#111" stroke-width="1.1"/>
<text x="47.3" y="942.6" font-size="9" text-anchor="end">20</text>
<line x1="48.6" y1="921.6" x2="52.6" y2="921.6" stroke="#111" stroke-width="1.1"/>
<text x="47.3" y="924.8" font-size="9" text-anchor="end">40</text>
<line x1="48.6" y1="903.8" x2="52.6" y2="903.8" stroke="#111" stroke-width="1.1"/>
<text x="47.3" y="907" font-size="9" text-anchor="end">60</text>
<line x1="48.6" y1="886" x2="52.6" y2="886" stroke="#111" stroke-width="1.1"/>
<text x="47.3" y="889.2" font-size="9" text-anchor="end">80</text>
<rect x="59.85" y="904.69" width="10.3" height="52.51" fill="#7a7a7a" stroke="#000000" stroke-width="1.25"/>
<line x1="65" y1="898.46" x2="65" y2="910.92" stroke="#000000" stroke-width="1.1"/>
<line x1="62.73" y1="898.46" x2="67.27" y2="898.46" stroke="#000000" stroke-width="1.1"/>
<line x1="62.73" y1="910.92" x2="67.27" y2="910.92" stroke="#000000" stroke-width="1.1"/>
<circle cx="65" cy="901.93" r="1.45" fill="#000000"/>
<circle cx="65" cy="907.67" r="1.45" fill="#000000"/>
<circle cx="65" cy="894.9" r="1.45" fill="#000000"/>
<circle cx="65" cy="914.48" r="1.45" fill="#000000"/>
<circle cx="65" cy="898.44" r="1.45" fill="#000000"/>
<rect x="77.45" y="907.81" width="10.3" height="49.39" fill="#ff8f7c" stroke="#ff2a00" stroke-width="1.25"/>
<line x1="82.6" y1="899.79" x2="82.6" y2="915.82" stroke="#ff2a00" stroke-width="1.1"/>
<line x1="80.33" y1="899.79" x2="84.87" y2="899.79" stroke="#ff2a00" stroke-width="1.1"/>
<line x1="80.33" y1="915.82" x2="84.87" y2="915.82" stroke="#ff2a00" stroke-width="1.1"/>
<circle cx="82.6" cy="919.52" r="1.45" fill="#ff2a00"/>
<circle cx="82.6" cy="894.9" r="1.45" fill="#ff2a00"/>
<circle cx="85.93" cy="918.95" r="1.45" fill="#ff2a00"/>
<circle cx="82.6" cy="915.08" r="1.45" fill="#ff2a00"/>
<circle cx="85.93" cy="913.61" r="1.45" fill="#ff2a00"/>
<circle cx="79.27" cy="919.82" r="1.45" fill="#ff2a00"/>
<circle cx="82.6" cy="911.69" r="1.45" fill="#ff2a00"/>
<rect x="94.85" y="929.61" width="10.3" height="27.59" fill="#8aa2ff" stroke="#1a3cff" stroke-width="1.25"/>
<line x1="100" y1="918.93" x2="100" y2="940.29" stroke="#1a3cff" stroke-width="1.1"/>
<line x1="97.73" y1="918.93" x2="102.27" y2="918.93" stroke="#1a3cff" stroke-width="1.1"/>
<line x1="97.73" y1="940.29" x2="102.27" y2="940.29" stroke="#1a3cff" stroke-width="1.1"/>
<circle cx="100" cy="931.93" r="1.45" fill="#1a3cff"/>
<circle cx="100" cy="927.54" r="1.45" fill="#1a3cff"/>
<circle cx="100" cy="914.48" r="1.45" fill="#1a3cff"/>
<circle cx="100" cy="944.74" r="1.45" fill="#1a3cff"/>
<circle cx="103.33" cy="925.98" r="1.45" fill="#1a3cff"/>
<circle cx="98.33" cy="925.64" r="1.45" fill="#1a3cff"/>
<circle cx="100" cy="935.25" r="1.45" fill="#1a3cff"/>
<rect x="112.85" y="938.51" width="10.3" height="18.69" fill="#84c884" stroke="#0a8f0a" stroke-width="1.25"/>
<line x1="118" y1="929.61" x2="118" y2="947.41" stroke="#0a8f0a" stroke-width="1.1"/>
<line x1="115.73" y1="929.61" x2="120.27" y2="929.61" stroke="#0a8f0a" stroke-width="1.1"/>
<line x1="115.73" y1="947.41" x2="120.27" y2="947.41" stroke="#0a8f0a" stroke-width="1.1"/>
<circle cx="118" cy="950.97" r="1.45" fill="#0a8f0a"/>
<circle cx="118" cy="918.93" r="1.45" fill="#0a8f0a"/>
<circle cx="118" cy="926.7" r="1.45" fill="#0a8f0a"/>
<circle cx="119.67" cy="928.36" r="1.45" fill="#0a8f0a"/>
<circle cx="118" cy="941.7" r="1.45" fill="#0a8f0a"/>
<circle cx="121.33" cy="942.46" r="1.45" fill="#0a8f0a"/>
<circle cx="114.67" cy="943.11" r="1.45" fill="#0a8f0a"/>
<rect x="130.75" y="947.41" width="10.3" height="9.79" fill="#ffc982" stroke="#ff9500" stroke-width="1.25"/>
<line x1="135.9" y1="945.63" x2="135.9" y2="949.19" stroke="#ff9500" stroke-width="1.1"/>
<line x1="133.63" y1="945.63" x2="138.17" y2="945.63" stroke="#ff9500" stroke-width="1.1"/>
<line x1="133.63" y1="949.19" x2="138.17" y2="949.19" stroke="#ff9500" stroke-width="1.1"/>
<circle cx="135.9" cy="949.42" r="1.45" fill="#ff9500"/>
<circle cx="135.9" cy="945.63" r="1.45" fill="#ff9500"/>
<circle cx="137.57" cy="947.29" r="1.45" fill="#ff9500"/>
<circle cx="139.24" cy="950.08" r="1.45" fill="#ff9500"/>
<circle cx="132.56" cy="946.56" r="1.45" fill="#ff9500"/>
<line x1="52.6" y1="957.2" x2="147.8" y2="957.2" stroke="#111" stroke-width="1.2"/>
<polyline points="65,891.4 65,889.3 100,889.3 100,909.98" fill="none" stroke="#111" stroke-width="1.1"/>
<text x="82.5" y="887.5" font-size="7.8" text-anchor="middle">0.0006</text>
<polyline points="65,883.8 65,876.8 118,876.8 118,914.43" fill="none" stroke="#111" stroke-width="1.1"/>
<text x="91.5" y="875" font-size="7.8" text-anchor="middle">&lt;0.0001</text>
<polyline points="65,871.3 65,864 135.9,864 135.9,941.13" fill="none" stroke="#111" stroke-width="1.1"/>
<text x="100.45" y="862.2" font-size="7.8" text-anchor="middle">&lt;0.0001</text>
<text x="100.4" y="850.9" font-size="11" text-anchor="middle" font-weight="bold">Ki67</text>
<text x="36.6" y="920.3" font-size="10.1" text-anchor="middle" transform="rotate(-90 36.6 920.3)">Percentage %</text>
<line x1="202.5" y1="888.4" x2="202.5" y2="958.6" stroke="#111" stroke-width="1.2"/>
<line x1="198.5" y1="958" x2="202.5" y2="958" stroke="#111" stroke-width="1.1"/>
<text x="197.2" y="961.2" font-size="9" text-anchor="end">0</text>
<line x1="198.5" y1="946.48" x2="202.5" y2="946.48" stroke="#111" stroke-width="1.1"/>
<text x="197.2" y="949.68" font-size="9" text-anchor="end">10</text>
<line x1="198.5" y1="934.97" x2="202.5" y2="934.97" stroke="#111" stroke-width="1.1"/>
<text x="197.2" y="938.17" font-size="9" text-anchor="end">20</text>
<line x1="198.5" y1="923.45" x2="202.5" y2="923.45" stroke="#111" stroke-width="1.1"/>
<text x="197.2" y="926.65" font-size="9" text-anchor="end">30</text>
<line x1="198.5" y1="911.93" x2="202.5" y2="911.93" stroke="#111" stroke-width="1.1"/>
<text x="197.2" y="915.13" font-size="9" text-anchor="end">40</text>
<line x1="198.5" y1="900.42" x2="202.5" y2="900.42" stroke="#111" stroke-width="1.1"/>
<text x="197.2" y="903.62" font-size="9" text-anchor="end">50</text>
<line x1="198.5" y1="888.9" x2="202.5" y2="888.9" stroke="#111" stroke-width="1.1"/>
<text x="197.2" y="892.1" font-size="9" text-anchor="end">60</text>
<rect x="208.8" y="949.94" width="10.4" height="8.06" fill="#7a7a7a" stroke="#000000" stroke-width="1.25"/>
<line x1="214" y1="944.18" x2="214" y2="955.7" stroke="#000000" stroke-width="1.1"/>
<line x1="211.71" y1="944.18" x2="216.29" y2="944.18" stroke="#000000" stroke-width="1.1"/>
<line x1="211.71" y1="955.7" x2="216.29" y2="955.7" stroke="#000000" stroke-width="1.1"/>
<circle cx="214" cy="950.6" r="1.45" fill="#000000"/>
<circle cx="217.34" cy="950.83" r="1.45" fill="#000000"/>
<circle cx="214" cy="958" r="1.45" fill="#000000"/>
<circle cx="217.34" cy="957.7" r="1.45" fill="#000000"/>
<circle cx="210.66" cy="950.52" r="1.45" fill="#000000"/>
<circle cx="215.25" cy="950.69" r="1.45" fill="#000000"/>
<circle cx="214" cy="946.3" r="1.45" fill="#000000"/>
<circle cx="214" cy="941.88" r="1.45" fill="#000000"/>
<rect x="225.9" y="946.48" width="10.4" height="11.52" fill="#ff8f7c" stroke="#ff2a00" stroke-width="1.25"/>
<line x1="231.1" y1="944.18" x2="231.1" y2="948.79" stroke="#ff2a00" stroke-width="1.1"/>
<line x1="228.81" y1="944.18" x2="233.39" y2="944.18" stroke="#ff2a00" stroke-width="1.1"/>
<line x1="228.81" y1="948.79" x2="233.39" y2="948.79" stroke="#ff2a00" stroke-width="1.1"/>
<circle cx="231.1" cy="946.89" r="1.45" fill="#ff2a00"/>
<circle cx="231.1" cy="949.68" r="1.45" fill="#ff2a00"/>
<circle cx="231.1" cy="944.18" r="1.45" fill="#ff2a00"/>
<circle cx="234.44" cy="947.89" r="1.45" fill="#ff2a00"/>
<circle cx="227.76" cy="946.33" r="1.45" fill="#ff2a00"/>
<circle cx="233.01" cy="947.09" r="1.45" fill="#ff2a00"/>
<circle cx="231.4" cy="948.49" r="1.45" fill="#ff2a00"/>
<circle cx="227.76" cy="949.94" r="1.45" fill="#ff2a00"/>
<rect x="243.3" y="917.69" width="10.4" height="40.31" fill="#8aa2ff" stroke="#1a3cff" stroke-width="1.25"/>
<line x1="248.5" y1="900.42" x2="248.5" y2="934.97" stroke="#1a3cff" stroke-width="1.1"/>
<line x1="246.21" y1="900.42" x2="250.79" y2="900.42" stroke="#1a3cff" stroke-width="1.1"/>
<line x1="246.21" y1="934.97" x2="250.79" y2="934.97" stroke="#1a3cff" stroke-width="1.1"/>
<circle cx="248.5" cy="948.79" r="1.45" fill="#1a3cff"/>
<circle cx="248.5" cy="902.74" r="1.45" fill="#1a3cff"/>
<circle cx="248.5" cy="938.65" r="1.45" fill="#1a3cff"/>
<circle cx="248.5" cy="931.13" r="1.45" fill="#1a3cff"/>
<circle cx="251.84" cy="939.16" r="1.45" fill="#1a3cff"/>
<circle cx="248.5" cy="920.24" r="1.45" fill="#1a3cff"/>
<circle cx="248.5" cy="893.51" r="1.45" fill="#1a3cff"/>
<circle cx="248.5" cy="927.08" r="1.45" fill="#1a3cff"/>
<circle cx="246.83" cy="940.43" r="1.45" fill="#1a3cff"/>
<circle cx="248.5" cy="945.38" r="1.45" fill="#1a3cff"/>
<circle cx="248.5" cy="906.97" r="1.45" fill="#1a3cff"/>
<circle cx="250.17" cy="929.03" r="1.45" fill="#1a3cff"/>
<rect x="260.5" y="910.21" width="10.4" height="47.79" fill="#84c884" stroke="#0a8f0a" stroke-width="1.25"/>
<line x1="265.7" y1="894.08" x2="265.7" y2="926.33" stroke="#0a8f0a" stroke-width="1.1"/>
<line x1="263.41" y1="894.08" x2="267.99" y2="894.08" stroke="#0a8f0a" stroke-width="1.1"/>
<line x1="263.41" y1="926.33" x2="267.99" y2="926.33" stroke="#0a8f0a" stroke-width="1.1"/>
<circle cx="265.7" cy="915.84" r="1.45" fill="#0a8f0a"/>
<circle cx="265.7" cy="942.04" r="1.45" fill="#0a8f0a"/>
<circle cx="269.03" cy="917.09" r="1.45" fill="#0a8f0a"/>
<circle cx="265.7" cy="918.8" r="1.45" fill="#0a8f0a"/>
<circle cx="265.7" cy="911.34" r="1.45" fill="#0a8f0a"/>
<circle cx="265.7" cy="891.2" r="1.45" fill="#0a8f0a"/>
<circle cx="265.7" cy="907.24" r="1.45" fill="#0a8f0a"/>
<circle cx="265.7" cy="948.79" r="1.45" fill="#0a8f0a"/>
<circle cx="265.7" cy="924.47" r="1.45" fill="#0a8f0a"/>
<circle cx="265.7" cy="922.01" r="1.45" fill="#0a8f0a"/>
<rect x="278.1" y="931.51" width="10.4" height="26.49" fill="#ffc982" stroke="#ff9500" stroke-width="1.25"/>
<line x1="283.3" y1="921.15" x2="283.3" y2="941.88" stroke="#ff9500" stroke-width="1.1"/>
<line x1="281.01" y1="921.15" x2="285.59" y2="921.15" stroke="#ff9500" stroke-width="1.1"/>
<line x1="281.01" y1="941.88" x2="285.59" y2="941.88" stroke="#ff9500" stroke-width="1.1"/>
<circle cx="283.3" cy="938.59" r="1.45" fill="#ff9500"/>
<circle cx="283.3" cy="916.54" r="1.45" fill="#ff9500"/>
<circle cx="284.97" cy="936.89" r="1.45" fill="#ff9500"/>
<circle cx="283.3" cy="918.9" r="1.45" fill="#ff9500"/>
<circle cx="283.3" cy="948.79" r="1.45" fill="#ff9500"/>
<circle cx="286.63" cy="919" r="1.45" fill="#ff9500"/>
<circle cx="286.63" cy="947.91" r="1.45" fill="#ff9500"/>
<circle cx="283.3" cy="929.64" r="1.45" fill="#ff9500"/>
<line x1="202.5" y1="958" x2="294.6" y2="958" stroke="#111" stroke-width="1.2"/>
<polyline points="214,938.38 214,886.7 248.5,886.7 248.5,889.01" fill="none" stroke="#111" stroke-width="1.1"/>
<text x="231.25" y="884.9" font-size="7.8" text-anchor="middle">&lt;0.0001</text>
<polyline points="214,881.2 214,874.7 265.7,874.7 265.7,886.7" fill="none" stroke="#111" stroke-width="1.1"/>
<text x="239.85" y="872.9" font-size="7.8" text-anchor="middle">&lt;0.0001</text>
<polyline points="214,869.2 214,862.7 283.3,862.7 283.3,912.04" fill="none" stroke="#111" stroke-width="1.1"/>
<text x="248.65" y="860.9" font-size="7.8" text-anchor="middle">0.0308</text>
<text x="249" y="852.5" font-size="11" text-anchor="middle" font-weight="bold"><tspan font-weight="normal">γ</tspan>H2AX</text>
<text x="183.7" y="922" font-size="9.8" text-anchor="middle" transform="rotate(-90 183.7 922)">Percentage %</text>
<line x1="343.2" y1="877.4" x2="343.2" y2="954.4" stroke="#111" stroke-width="1.2"/>
<line x1="339.2" y1="953.8" x2="343.2" y2="953.8" stroke="#111" stroke-width="1.1"/>
<text x="337.9" y="957" font-size="9" text-anchor="end">0</text>
<line x1="339.2" y1="934.82" x2="343.2" y2="934.82" stroke="#111" stroke-width="1.1"/>
<text x="337.9" y="938.02" font-size="9" text-anchor="end">20</text>
<line x1="339.2" y1="915.85" x2="343.2" y2="915.85" stroke="#111" stroke-width="1.1"/>
<text x="337.9" y="919.05" font-size="9" text-anchor="end">40</text>
<line x1="339.2" y1="896.88" x2="343.2" y2="896.88" stroke="#111" stroke-width="1.1"/>
<text x="337.9" y="900.08" font-size="9" text-anchor="end">60</text>
<line x1="339.2" y1="877.9" x2="343.2" y2="877.9" stroke="#111" stroke-width="1.1"/>
<text x="337.9" y="881.1" font-size="9" text-anchor="end">80</text>
<rect x="350.1" y="943.36" width="11.6" height="10.44" fill="#7a7a7a" stroke="#000000" stroke-width="1.25"/>
<line x1="355.9" y1="923.44" x2="355.9" y2="953.8" stroke="#000000" stroke-width="1.1"/>
<line x1="353.35" y1="923.44" x2="358.45" y2="923.44" stroke="#000000" stroke-width="1.1"/>
<line x1="353.35" y1="953.8" x2="358.45" y2="953.8" stroke="#000000" stroke-width="1.1"/>
<circle cx="355.9" cy="931.01" r="1.45" fill="#000000"/>
<circle cx="355.9" cy="927.66" r="1.45" fill="#000000"/>
<circle cx="355.9" cy="916.49" r="1.45" fill="#000000"/>
<circle cx="355.9" cy="936.72" r="1.45" fill="#000000"/>
<circle cx="355.9" cy="889.28" r="1.45" fill="#000000"/>
<circle cx="355.9" cy="953.8" r="1.45" fill="#000000"/>
<rect x="368.8" y="948.11" width="11.6" height="5.69" fill="#ff8f7c" stroke="#ff2a00" stroke-width="1.25"/>
<line x1="374.6" y1="943.36" x2="374.6" y2="952.85" stroke="#ff2a00" stroke-width="1.1"/>
<line x1="372.05" y1="943.36" x2="377.15" y2="943.36" stroke="#ff2a00" stroke-width="1.1"/>
<line x1="372.05" y1="952.85" x2="377.15" y2="952.85" stroke="#ff2a00" stroke-width="1.1"/>
<circle cx="374.6" cy="950.19" r="1.45" fill="#ff2a00"/>
<circle cx="374.6" cy="942.11" r="1.45" fill="#ff2a00"/>
<circle cx="374.6" cy="947.04" r="1.45" fill="#ff2a00"/>
<circle cx="377.94" cy="950.54" r="1.45" fill="#ff2a00"/>
<circle cx="374.6" cy="953.8" r="1.45" fill="#ff2a00"/>
<circle cx="374.6" cy="935.77" r="1.45" fill="#ff2a00"/>
<rect x="387.6" y="944.31" width="11.6" height="9.49" fill="#8aa2ff" stroke="#1a3cff" stroke-width="1.25"/>
<line x1="393.4" y1="934.82" x2="393.4" y2="953.8" stroke="#1a3cff" stroke-width="1.1"/>
<line x1="390.85" y1="934.82" x2="395.95" y2="934.82" stroke="#1a3cff" stroke-width="1.1"/>
<line x1="390.85" y1="953.8" x2="395.95" y2="953.8" stroke="#1a3cff" stroke-width="1.1"/>
<circle cx="393.4" cy="946.25" r="1.45" fill="#1a3cff"/>
<circle cx="393.4" cy="953.8" r="1.45" fill="#1a3cff"/>
<circle cx="396.73" cy="944.78" r="1.45" fill="#1a3cff"/>
<circle cx="393.4" cy="925.43" r="1.45" fill="#1a3cff"/>
<circle cx="393.4" cy="917.75" r="1.45" fill="#1a3cff"/>
<circle cx="393.4" cy="942.42" r="1.45" fill="#1a3cff"/>
<circle cx="390.06" cy="942.7" r="1.45" fill="#1a3cff"/>
<circle cx="393.4" cy="936.67" r="1.45" fill="#1a3cff"/>
<rect x="406.9" y="936.72" width="11.6" height="17.08" fill="#84c884" stroke="#0a8f0a" stroke-width="1.25"/>
<line x1="412.7" y1="917.75" x2="412.7" y2="953.8" stroke="#0a8f0a" stroke-width="1.1"/>
<line x1="410.15" y1="917.75" x2="415.25" y2="917.75" stroke="#0a8f0a" stroke-width="1.1"/>
<line x1="410.15" y1="953.8" x2="415.25" y2="953.8" stroke="#0a8f0a" stroke-width="1.1"/>
<circle cx="412.7" cy="941.51" r="1.45" fill="#0a8f0a"/>
<circle cx="416.03" cy="939.99" r="1.45" fill="#0a8f0a"/>
<circle cx="412.7" cy="953.8" r="1.45" fill="#0a8f0a"/>
<circle cx="412.7" cy="920.17" r="1.45" fill="#0a8f0a"/>
<circle cx="412.7" cy="945.81" r="1.45" fill="#0a8f0a"/>
<circle cx="412.7" cy="893.08" r="1.45" fill="#0a8f0a"/>
<circle cx="414.37" cy="943.58" r="1.45" fill="#0a8f0a"/>
<circle cx="412.7" cy="907.98" r="1.45" fill="#0a8f0a"/>
<circle cx="412.7" cy="935.67" r="1.45" fill="#0a8f0a"/>
<circle cx="412.7" cy="924.39" r="1.45" fill="#0a8f0a"/>
<rect x="425.8" y="913.95" width="11.6" height="39.85" fill="#ffc982" stroke="#ff9500" stroke-width="1.25"/>
<line x1="431.6" y1="898.77" x2="431.6" y2="929.13" stroke="#ff9500" stroke-width="1.1"/>
<line x1="429.05" y1="898.77" x2="434.15" y2="898.77" stroke="#ff9500" stroke-width="1.1"/>
<line x1="429.05" y1="929.13" x2="434.15" y2="929.13" stroke="#ff9500" stroke-width="1.1"/>
<circle cx="431.6" cy="918.25" r="1.45" fill="#ff9500"/>
<circle cx="431.6" cy="939.57" r="1.45" fill="#ff9500"/>
<circle cx="431.6" cy="895.82" r="1.45" fill="#ff9500"/>
<circle cx="431.6" cy="903.54" r="1.45" fill="#ff9500"/>
<circle cx="431.6" cy="883.59" r="1.45" fill="#ff9500"/>
<circle cx="433.27" cy="893.52" r="1.45" fill="#ff9500"/>
<circle cx="434.94" cy="903.26" r="1.45" fill="#ff9500"/>
<circle cx="431.6" cy="899.9" r="1.45" fill="#ff9500"/>
<circle cx="434.94" cy="917.82" r="1.45" fill="#ff9500"/>
<circle cx="434.94" cy="896.65" r="1.45" fill="#ff9500"/>
<circle cx="431.6" cy="914.81" r="1.45" fill="#ff9500"/>
<circle cx="431.6" cy="910.38" r="1.45" fill="#ff9500"/>
<circle cx="434.94" cy="900.85" r="1.45" fill="#ff9500"/>
<circle cx="428.27" cy="917.83" r="1.45" fill="#ff9500"/>
<circle cx="431.6" cy="907.79" r="1.45" fill="#ff9500"/>
<line x1="343.2" y1="953.8" x2="444" y2="953.8" stroke="#111" stroke-width="1.2"/>
<polyline points="355.9,885.78 355.9,870.9 431.6,870.9 431.6,879.09" fill="none" stroke="#111" stroke-width="1.1"/>
<text x="393.75" y="869.1" font-size="7.8" text-anchor="middle">&lt;0.0001</text>
<text x="394" y="858.1" font-size="11" text-anchor="middle" font-weight="bold">p21</text>
<text x="322.6" y="914.9" font-size="10.55" text-anchor="middle" transform="rotate(-90 322.6 914.9)">Percentage %</text>
<line x1="501.6" y1="877.4" x2="501.6" y2="953.2" stroke="#111" stroke-width="1.2"/>
<line x1="497.6" y1="952.6" x2="501.6" y2="952.6" stroke="#111" stroke-width="1.1"/>
<text x="496.3" y="955.8" font-size="9" text-anchor="end">0</text>
<line x1="497.6" y1="937.66" x2="501.6" y2="937.66" stroke="#111" stroke-width="1.1"/>
<text x="496.3" y="940.86" font-size="9" text-anchor="end">20</text>
<line x1="497.6" y1="922.72" x2="501.6" y2="922.72" stroke="#111" stroke-width="1.1"/>
<text x="496.3" y="925.92" font-size="9" text-anchor="end">40</text>
<line x1="497.6" y1="907.78" x2="501.6" y2="907.78" stroke="#111" stroke-width="1.1"/>
<text x="496.3" y="910.98" font-size="9" text-anchor="end">60</text>
<line x1="497.6" y1="892.84" x2="501.6" y2="892.84" stroke="#111" stroke-width="1.1"/>
<text x="496.3" y="896.04" font-size="9" text-anchor="end">80</text>
<line x1="497.6" y1="877.9" x2="501.6" y2="877.9" stroke="#111" stroke-width="1.1"/>
<text x="496.3" y="881.1" font-size="9" text-anchor="end">100</text>
<rect x="508.3" y="916.74" width="10.8" height="35.86" fill="#7a7a7a" stroke="#000000" stroke-width="1.25"/>
<line x1="513.7" y1="909.27" x2="513.7" y2="924.21" stroke="#000000" stroke-width="1.1"/>
<line x1="511.32" y1="909.27" x2="516.08" y2="909.27" stroke="#000000" stroke-width="1.1"/>
<line x1="511.32" y1="924.21" x2="516.08" y2="924.21" stroke="#000000" stroke-width="1.1"/>
<circle cx="513.7" cy="916.08" r="1.45" fill="#000000"/>
<circle cx="513.7" cy="910.99" r="1.45" fill="#000000"/>
<circle cx="517.04" cy="912" r="1.45" fill="#000000"/>
<circle cx="513.7" cy="923.8" r="1.45" fill="#000000"/>
<circle cx="510.37" cy="912.18" r="1.45" fill="#000000"/>
<circle cx="513.7" cy="919.94" r="1.45" fill="#000000"/>
<circle cx="513.7" cy="930.19" r="1.45" fill="#000000"/>
<circle cx="513.7" cy="906.43" r="1.45" fill="#000000"/>
<circle cx="515.37" cy="921.69" r="1.45" fill="#000000"/>
<circle cx="517.04" cy="917.43" r="1.45" fill="#000000"/>
<circle cx="510.37" cy="916.15" r="1.45" fill="#000000"/>
<circle cx="517.04" cy="905.19" r="1.45" fill="#000000"/>
<circle cx="515.55" cy="912.28" r="1.45" fill="#000000"/>
<circle cx="513.7" cy="898.82" r="1.45" fill="#000000"/>
<circle cx="515.75" cy="916.49" r="1.45" fill="#000000"/>
<circle cx="510.37" cy="918.9" r="1.45" fill="#000000"/>
<circle cx="510.37" cy="922.32" r="1.45" fill="#000000"/>
<circle cx="515.03" cy="910.02" r="1.45" fill="#000000"/>
<circle cx="512.03" cy="914.03" r="1.45" fill="#000000"/>
<circle cx="512.22" cy="915.13" r="1.45" fill="#000000"/>
<rect x="527.1" y="924.21" width="10.8" height="28.39" fill="#ff8f7c" stroke="#ff2a00" stroke-width="1.25"/>
<line x1="532.5" y1="917.49" x2="532.5" y2="930.94" stroke="#ff2a00" stroke-width="1.1"/>
<line x1="530.12" y1="917.49" x2="534.88" y2="917.49" stroke="#ff2a00" stroke-width="1.1"/>
<line x1="530.12" y1="930.94" x2="534.88" y2="930.94" stroke="#ff2a00" stroke-width="1.1"/>
<circle cx="532.5" cy="906.29" r="1.45" fill="#ff2a00"/>
<circle cx="532.5" cy="925.74" r="1.45" fill="#ff2a00"/>
<circle cx="532.5" cy="914.99" r="1.45" fill="#ff2a00"/>
<circle cx="532.5" cy="917.58" r="1.45" fill="#ff2a00"/>
<circle cx="534.17" cy="923.51" r="1.45" fill="#ff2a00"/>
<circle cx="532.5" cy="921.7" r="1.45" fill="#ff2a00"/>
<circle cx="532.5" cy="928.26" r="1.45" fill="#ff2a00"/>
<circle cx="529.16" cy="923.25" r="1.45" fill="#ff2a00"/>
<circle cx="532.5" cy="931.68" r="1.45" fill="#ff2a00"/>
<circle cx="535.84" cy="930.56" r="1.45" fill="#ff2a00"/>
<circle cx="535.84" cy="921.85" r="1.45" fill="#ff2a00"/>
<circle cx="534.17" cy="920.08" r="1.45" fill="#ff2a00"/>
<circle cx="532.5" cy="941.39" r="1.45" fill="#ff2a00"/>
<circle cx="535.84" cy="933.05" r="1.45" fill="#ff2a00"/>
<circle cx="529.16" cy="930.59" r="1.45" fill="#ff2a00"/>
<rect x="546" y="918.99" width="10.8" height="33.62" fill="#8aa2ff" stroke="#1a3cff" stroke-width="1.25"/>
<line x1="551.4" y1="901.06" x2="551.4" y2="936.91" stroke="#1a3cff" stroke-width="1.1"/>
<line x1="549.02" y1="901.06" x2="553.78" y2="901.06" stroke="#1a3cff" stroke-width="1.1"/>
<line x1="549.02" y1="936.91" x2="553.78" y2="936.91" stroke="#1a3cff" stroke-width="1.1"/>
<circle cx="551.4" cy="911.92" r="1.45" fill="#1a3cff"/>
<circle cx="554.74" cy="911.7" r="1.45" fill="#1a3cff"/>
<circle cx="551.4" cy="941.39" r="1.45" fill="#1a3cff"/>
<circle cx="551.4" cy="906.09" r="1.45" fill="#1a3cff"/>
<circle cx="551.4" cy="918.44" r="1.45" fill="#1a3cff"/>
<circle cx="551.4" cy="927.55" r="1.45" fill="#1a3cff"/>
<circle cx="554.74" cy="929.16" r="1.45" fill="#1a3cff"/>
<circle cx="551.4" cy="938.16" r="1.45" fill="#1a3cff"/>
<circle cx="548.06" cy="926.85" r="1.45" fill="#1a3cff"/>
<circle cx="554.74" cy="939.95" r="1.45" fill="#1a3cff"/>
<circle cx="547.71" cy="928.17" r="1.45" fill="#1a3cff"/>
<circle cx="551.4" cy="883.13" r="1.45" fill="#1a3cff"/>
<circle cx="549.26" cy="928.81" r="1.45" fill="#1a3cff"/>
<circle cx="553.07" cy="908.08" r="1.45" fill="#1a3cff"/>
<circle cx="549.73" cy="909.41" r="1.45" fill="#1a3cff"/>
<rect x="564.7" y="904.04" width="10.8" height="48.56" fill="#84c884" stroke="#0a8f0a" stroke-width="1.25"/>
<line x1="570.1" y1="893.59" x2="570.1" y2="914.5" stroke="#0a8f0a" stroke-width="1.1"/>
<line x1="567.72" y1="893.59" x2="572.48" y2="893.59" stroke="#0a8f0a" stroke-width="1.1"/>
<line x1="567.72" y1="914.5" x2="572.48" y2="914.5" stroke="#0a8f0a" stroke-width="1.1"/>
<circle cx="570.1" cy="922.72" r="1.45" fill="#0a8f0a"/>
<circle cx="570.1" cy="903.41" r="1.45" fill="#0a8f0a"/>
<circle cx="570.1" cy="908.83" r="1.45" fill="#0a8f0a"/>
<circle cx="570.1" cy="916.14" r="1.45" fill="#0a8f0a"/>
<circle cx="570.1" cy="899.47" r="1.45" fill="#0a8f0a"/>
<circle cx="570.1" cy="887.17" r="1.45" fill="#0a8f0a"/>
<circle cx="573.44" cy="903.06" r="1.45" fill="#0a8f0a"/>
<circle cx="570.1" cy="911.59" r="1.45" fill="#0a8f0a"/>
<circle cx="570.1" cy="891.13" r="1.45" fill="#0a8f0a"/>
<circle cx="573.44" cy="921.24" r="1.45" fill="#0a8f0a"/>
<circle cx="570.1" cy="893.8" r="1.45" fill="#0a8f0a"/>
<circle cx="573.44" cy="886.86" r="1.45" fill="#0a8f0a"/>
<circle cx="568.43" cy="920.91" r="1.45" fill="#0a8f0a"/>
<circle cx="573.44" cy="907.71" r="1.45" fill="#0a8f0a"/>
<circle cx="573.44" cy="894.97" r="1.45" fill="#0a8f0a"/>
<rect x="583.3" y="891.35" width="10.8" height="61.25" fill="#ffc982" stroke="#ff9500" stroke-width="1.25"/>
<line x1="588.7" y1="886.86" x2="588.7" y2="895.83" stroke="#ff9500" stroke-width="1.1"/>
<line x1="586.32" y1="886.86" x2="591.08" y2="886.86" stroke="#ff9500" stroke-width="1.1"/>
<line x1="586.32" y1="895.83" x2="591.08" y2="895.83" stroke="#ff9500" stroke-width="1.1"/>
<circle cx="588.7" cy="896.34" r="1.45" fill="#ff9500"/>
<circle cx="590.37" cy="894.3" r="1.45" fill="#ff9500"/>
<circle cx="587.03" cy="894.05" r="1.45" fill="#ff9500"/>
<circle cx="588.7" cy="885.37" r="1.45" fill="#ff9500"/>
<circle cx="588.7" cy="903.3" r="1.45" fill="#ff9500"/>
<circle cx="592.04" cy="897.48" r="1.45" fill="#ff9500"/>
<circle cx="588.7" cy="891.23" r="1.45" fill="#ff9500"/>
<circle cx="587.03" cy="897.98" r="1.45" fill="#ff9500"/>
<circle cx="587.13" cy="898.98" r="1.45" fill="#ff9500"/>
<circle cx="590.02" cy="894.06" r="1.45" fill="#ff9500"/>
<circle cx="591.45" cy="893.71" r="1.45" fill="#ff9500"/>
<circle cx="585.37" cy="891.64" r="1.45" fill="#ff9500"/>
<circle cx="584.52" cy="897.49" r="1.45" fill="#ff9500"/>
<circle cx="588.7" cy="887.86" r="1.45" fill="#ff9500"/>
<circle cx="592.04" cy="890.45" r="1.45" fill="#ff9500"/>
<line x1="501.6" y1="952.6" x2="601.2" y2="952.6" stroke="#111" stroke-width="1.2"/>
<polyline points="513.7,895.32 513.7,872.7 588.7,872.7 588.7,880.87" fill="none" stroke="#111" stroke-width="1.1"/>
<text x="551.2" y="870.9" font-size="7.8" text-anchor="middle">&lt;0.0001</text>
<text x="551.9" y="858.7" font-size="12.2" text-anchor="middle" font-weight="bold">p27</text>
<text x="476.2" y="913.4" font-size="10.55" text-anchor="middle" transform="rotate(-90 476.2 913.4)">Percentage %</text>
<text x="611.4" y="868.8" font-size="11.7" font-weight="bold">T1p</text>
<circle cx="602.7" cy="882.2" r="1.6" fill="#000000"/>
<text x="613.2" y="885" font-size="7.9">Vehicle</text>
<circle cx="602.7" cy="894.6" r="1.6" fill="#ff2a00"/>
<text x="613.2" y="897.4" font-size="7.9">Palbociclib</text>
<circle cx="602.7" cy="906.4" r="1.6" fill="#1a3cff"/>
<text x="613.2" y="909.2" font-size="7.9">BLU-222 (50 mpk)</text>
<circle cx="602.7" cy="918.6" r="1.6" fill="#0a8f0a"/>
<text x="613.2" y="921.4" font-size="7.9">BLU-222 (100 mpk)</text>
<circle cx="602.7" cy="931.6" r="1.6" fill="#ff9500"/>
<text x="613.2" y="934.4" font-size="7.9">BLU-222+Palbo</text>
<text x="0.2" y="12.8" font-size="18" font-weight="bold">A</text>
<text x="0.2" y="124.1" font-size="18" font-weight="bold">B</text>
<text x="-0.3" y="221.8" font-size="18" font-weight="bold">C</text>
<text x="0.1" y="341.2" font-size="18" font-weight="bold">D</text>
<text x="5.3" y="484.5" font-size="18" font-weight="bold">E</text>
<text x="161.2" y="484.3" font-size="18" font-weight="bold">I</text>
<text x="303.8" y="484.3" font-size="18" font-weight="bold">M</text>
<text x="450.6" y="484.2" font-size="18" font-weight="bold">Q</text>
<text x="5.55" y="604.3" font-size="18" font-weight="bold">F</text>
<text x="161.5" y="604.6" font-size="18" font-weight="bold">J</text>
<text x="304.1" y="604.5" font-size="18" font-weight="bold">N</text>
<text x="453.8" y="604.5" font-size="18" font-weight="bold">R</text>
<text x="6.7" y="731.2" font-size="18" font-weight="bold">G</text>
<text x="162.3" y="731.3" font-size="18" font-weight="bold">K</text>
<text x="305" y="731.4" font-size="18" font-weight="bold">O</text>
<text x="458.9" y="731.4" font-size="18" font-weight="bold">S</text>
<text x="6.4" y="845.2" font-size="18" font-weight="bold">H</text>
<text x="162.5" y="844.5" font-size="18" font-weight="bold">L</text>
<text x="306.2" y="844.5" font-size="18" font-weight="bold">P</text>
<text x="459.2" y="843.4" font-size="18" font-weight="bold">T</text>
</svg></body></html>
